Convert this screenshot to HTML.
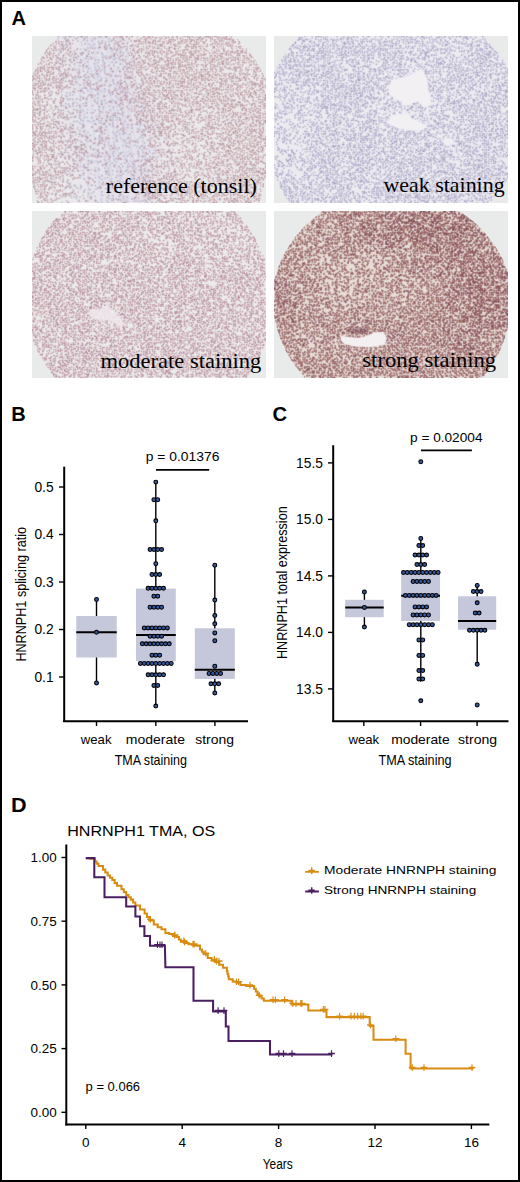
<!DOCTYPE html>
<html><head><meta charset="utf-8"><style>
html,body{margin:0;padding:0;background:#fff;}
body{width:520px;height:1182px;overflow:hidden;position:relative;}
#frame{position:absolute;left:0;top:0;width:520px;height:1182px;box-sizing:border-box;border:2px solid #000;}
svg{position:absolute;left:0;top:0;}
</style></head><body>
<svg width="520" height="1182" viewBox="0 0 520 1182">
<svg x="32" y="36" width="234" height="167" overflow="hidden"><defs><filter id="wTL" x="-50%" y="-50%" width="200%" height="200%"><feGaussianBlur stdDeviation="15"/></filter><clipPath id="cTL"><path d="M25.7,0.0 L202.6,0.0 L204.3,1.5 L205.9,3.1 L207.5,4.7 L209.1,6.3 L210.7,8.0 L212.2,9.6 L213.7,11.4 L215.2,13.1 L216.6,14.8 L218.0,16.6 L219.4,18.4 L220.7,20.3 L222.0,22.1 L223.3,24.0 L224.5,25.9 L225.7,27.9 L226.9,29.8 L228.0,31.8 L229.1,33.8 L230.1,35.8 L231.2,37.8 L232.1,39.9 L233.1,41.9 L234.0,44.0 L234.0,138.6 L233.8,139.8 L233.7,141.0 L233.5,142.2 L233.3,143.4 L233.1,144.6 L232.9,145.8 L232.6,147.0 L232.4,148.2 L232.2,149.4 L231.9,150.6 L231.6,151.8 L231.3,153.0 L231.0,154.2 L230.7,155.4 L230.4,156.6 L230.1,157.7 L229.7,158.9 L229.4,160.1 L229.0,161.2 L228.6,162.4 L228.2,163.6 L227.8,164.7 L227.4,165.9 L227.0,167.0 L5.0,167.0 L4.7,166.1 L4.4,165.2 L4.2,164.3 L3.9,163.4 L3.6,162.5 L3.4,161.5 L3.1,160.6 L2.9,159.7 L2.7,158.8 L2.4,157.9 L2.2,156.9 L2.0,156.0 L1.8,155.1 L1.6,154.2 L1.4,153.2 L1.2,152.3 L1.0,151.4 L0.9,150.4 L0.7,149.5 L0.6,148.6 L0.4,147.6 L0.3,146.7 L0.1,145.7 L-0.0,144.8 L0.0,39.5 L0.8,37.7 L1.5,35.9 L2.4,34.1 L3.2,32.3 L4.1,30.5 L5.0,28.8 L5.9,27.0 L6.9,25.3 L7.9,23.6 L8.9,21.9 L9.9,20.2 L11.0,18.5 L12.1,16.9 L13.2,15.3 L14.3,13.6 L15.5,12.0 L16.7,10.5 L17.9,8.9 L19.1,7.4 L20.4,5.9 L21.7,4.4 L23.0,2.9 L24.3,1.4 Z"/></clipPath><filter id="sTL" x="0" y="0" width="234" height="167" filterUnits="userSpaceOnUse"><feConvolveMatrix order="3" kernelMatrix="1 2 1 2 14 2 1 2 1" edgeMode="duplicate"/></filter></defs><rect width="234" height="167" fill="#e8ebe9"/><g clip-path="url(#cTL)"><g filter="url(#sTL)"><rect width="234" height="167" fill="#ebeaeb"/><ellipse cx="78" cy="90" rx="45" ry="110" transform="rotate(-12 78 90)" fill="#dcd8ea" opacity="0.4" filter="url(#wTL)"/><path d="M61.3,-2 Q64.1,72.4 82.3,169 M84.4,-2 Q92.9,94.2 106.9,169 M70.0,-2 Q91.3,81.1 113.2,169 M74.9,-2 Q95.3,78.7 96.4,169 M60.2,-2 Q69.6,93.0 95.7,169 M90.2,-2 Q113.6,86.4 115.4,169 M85.3,-2 Q97.5,73.5 114.4,169 M35.5,-2 Q57.8,86.7 56.6,169 M65.0,-2 Q88.6,108.8 107.0,169 M58.2,-2 Q79.1,68.0 79.7,169 M86.5,-2 Q114.5,107.2 119.3,169 M77.9,-2 Q74.5,83.7 94.0,169 M88.3,-2 Q95.2,64.3 105.7,169 M55.1,-2 Q58.6,86.2 70.3,169" stroke="#cbc5dc" stroke-width="1.4" fill="none" opacity="0.3"/><path d="M0 0m26.1 2.9h0m5 -1.5h0m46.3 1.6h0m-27.9 3.3h0m43.5 -2.1h0m-47.6 8.9h0m3.1 0h0m1.1 -4h0m2.1 4.1h0m6.6 -1.6h0m-34.2 8.4h0m2.8 -3.3h0m22 1.8h0m38.8 1.6h0m15.4 -1.2h0m-70.1 7.2h0m12 0.3h0m0.4 -3.6h0m6.3 1.3h0m4.6 -1h0m14.9 3.2h0m3.1 -3.5h0m2.1 -1.7h0m44.9 5.5h0m-62.9 5.3h0m7.4 -1.9h0m28.4 0.1h0m8.8 -0.1h0m31.4 0h0m-79.8 8.5h0m5 -3.6h0m4.2 2h0m21.8 -2.5h0m26.7 -0.9h0m8.8 3.3h0m-47.5 5h0m10.3 -2.8h0m12.7 2h0m-79.1 7.3h0m10 -2.9h0m17.3 2h0m7.7 2.5h0m6.3 -4.8h0m21.7 0.2h0m57.1 2.7h0m11.7 -2.7h0m-90 10.3h0m29.5 -0.4h0m3.2 -1.8h0m28.3 -1.8h0m-57.5 11.3h0m-31.6 0.9h0m32.5 2.8h0m6.3 -2.4h0m10.1 2.4h0m10.6 0.5h0m105.8 -3.6h0m-170.6 9.4h0m29.6 0.5h0m15.7 -0.7h0m10.3 0.4h0m3.2 -2.6h0m11.7 3.1h0m14.1 0.2h0m2.4 -3h0m-81.9 6.4h0m21.8 0.9h0m21.9 2.9h0m16.8 -1.2h0m-90.9 5h0m69.2 -0.3h0m4.5 1h0m13.2 -1.5h0m43.3 0.8h0m69.9 -0.8h0m-191.8 7.8h0m37 -0.4h0m5.4 -0.2h0m39.9 -1.7h0m-74.7 6.9h0m36.8 2h0m9.3 -3.2h0m25.5 -0.1h0m3.5 1.3h0m22 2.5h0m-104.2 2.5h0m7.6 1.7h0m52.6 -1.2h0m6.7 -2.1h0m12.3 2.1h0m2 1.5h0m4.6 -0.2h0m-32.7 3.1h0m10.6 -0.2h0m3.1 3.2h0m14.6 0.1h0m14.5 -3.3h0m5.4 -0.7h0m6.1 4.6h0m-82.7 6.3h0m15 0.3h0m68 -2.5h0m4.8 0.1h0m-101.7 5.5h0m18.8 0.9h0m12.3 -3.2h0m11.4 0h0m13.7 0.7h0m25.8 -0.2h0m32.3 3h0m-112.3 4.1h0m40.6 0.3h0m20.5 3.4h0m0.8 -3.3h0m14.6 -0.2h0m-49.7 9.1h0m2.4 0.4h0m4.7 -3.6h0m10.8 1.2h0m-64.1 6.3h0m35.6 -3.5h0m24 3.8h0m11.2 -3.2h0m7.3 2.6h0m6.6 1.2h0m32.8 -3.9h0m-81.9 11.2h0m18.6 -3.5h0m9.9 3h0m-31.9 4.1h0m8.8 0.2h0m12.1 -1.8h0m11.9 1h0m13.1 0.2h0m-32.7 3h0m8.8 0.4h0m26.6 2.2h0m37.5 1.9h0m10.4 -4.5h0m25 2.9h0m-87.4 8.1h0m19.2 -0.8h0m3 0.5h0m14 0.7h0m23 -4.6h0m21.4 1.2h0m36.2 2h0m-116.3 3.5h0m44.2 -0.4h0" stroke="#c5c1d6" stroke-width="1.8" stroke-linecap="round" fill="none"/><path d="M0 0m33.1 2.9h0m34.2 -2.1h0m20.5 0.3h0m-36.1 3h0m3.6 0.5h0m12.5 3.5h0m2.2 -2.7h0m17.1 3.6h0m12 -4.1h0m-71 9h0m38.3 -1.9h0m24.4 -0.5h0m7.7 -1.4h0m4.5 -0.6h0m-60.4 5.7h0m8.7 1.9h0m5.8 -1.8h0m2.9 1.6h0m10 0.3h0m3.3 3.2h0m-34.8 2.8h0m17 2.6h0m3.8 -2.9h0m4.1 1.1h0m7.7 0.4h0m9 1.9h0m2 -2.7h0m1.5 -1.3h0m14.7 3.7h0m9.1 0.6h0m-56.1 5h0m10.9 -3.8h0m14.6 1.7h0m-49.5 5.4h0m29.1 -1.9h0m22.3 5.7h0m59.3 -0.3h0m73.8 -1h0m-198.1 7.4h0m12.6 -2.1h0m4.8 1.5h0m3.5 -3h0m11.2 -0.2h0m10.1 3.4h0m11.7 0.3h0m46 -3.2h0m46.9 0.9h0m39.1 -1.1h0m-151.4 7.6h0m25 -2.9h0m4.3 3.7h0m10.1 0h0m6.6 -2.1h0m130.9 0.5h0m-195.6 7.5h0m20.2 -0.7h0m85.2 -3.1h0m-71.9 8h0m2.8 -1.5h0m0 -1.2h0m41.2 2.4h0m-98.6 4.1h0m13.9 2.3h0m11.6 1.8h0m4.2 -4.7h0m10 0.9h0m25 0.1h0m7.9 0h0m7.2 -0.1h0m9.6 -0.1h0m-49.6 10.7h0m23.2 -3.4h0m5.7 -0.9h0m32.9 -0.1h0m-102 7.6h0m12.8 -0.5h0m18 0.6h0m5 3h0m23.5 -3.1h0m2.8 -1.4h0m26.5 4.3h0m-70.3 0.5h0m18.6 4.2h0m2.7 -3.4h0m12.1 -0.3h0m2.3 3.1h0m15.7 -1.1h0m9.9 -1.7h0m21.9 2h0m11.4 1h0m87.3 -3.3h0m-158.3 10.4h0m45.7 -0.3h0m10.1 0.8h0m10.4 -3h0m15.1 -0.3h0m49.3 2.8h0m-141.4 4.4h0m8.9 -1.7h0m3.6 0.8h0m18.7 0.9h0m2.8 -2.1h0m-18.3 5.9h0m0.2 2.2h0m3.3 -3.2h0m8.6 2.8h0m6.8 1.8h0m10.8 -0.8h0m21.2 0.7h0m-75.9 2.1h0m29.3 -0.6h0m8.3 2.1h0m2.2 -0.1h0m12.4 2.2h0m3.4 -4.4h0m9.1 2.1h0m14.3 3.4h0m-46.9 2.7h0m4.1 2.6h0m15.6 -2.7h0m5.5 -1h0m20.4 0.3h0m6.9 0.6h0m-84.1 4.3h0m36 3.1h0m4.2 -2.6h0m36.5 2.4h0m16.5 -3.2h0m-50.6 11.1h0m7.4 -0.7h0m12.3 -0.4h0m24.9 -2.1h0m18.3 3.7h0m9.6 -3.4h0m-117.5 5.6h0m7.4 1.3h0m21.6 2.2h0m10.2 -0.4h0m9.5 -1.6h0m18.3 1.6h0m3.3 -3.6h0m22.4 0h0m100.3 2h0m-190.5 7.6h0m33.4 -4.7h0m10.5 2.8h0m2.4 -2.7h0m14.5 2.6h0m1.8 -2.6h0m16.5 2h0m3.4 1.8h0m3.1 -3.8h0m-111.5 11.6h0m3.7 -4h0m10.7 -0.3h0m16.2 3.3h0m32.3 -4.5h0m7.7 5.5h0m19.7 -0.3h0m17.6 -3.3h0m19.6 -0.6h0m81.3 4.3h0m19.1 -5h0m-187.1 10.3h0m14.1 -3.1h0m11.3 -0.5h0m10 3.4h0m11 -3.4h0m19.3 -1.6h0m-79.5 10.6h0m26.7 -4.2h0m3.5 2.3h0m8.4 0h0m39.7 -2.4h0m-96.4 11.1h0m31.5 -4.1h0m18.4 4h0m17.7 -4.5h0m10.1 1.3h0m44.1 5.6h0" stroke="#bdb9cf" stroke-width="2.1" stroke-linecap="round" fill="none"/><path d="M0 0m39 0.8h0m2.7 0.1h0m4.1 4.1h0m16.8 3.4h0m17.4 -4.1h0m43.4 4h0m-89.3 3h0m21.4 0.8h0m24.7 1.7h0m5 -1.6h0m3 0.2h0m-39.8 4.5h0m33.6 3.5h0m-33 6.4h0m28.7 -4.6h0m6.7 3.7h0m15.4 -2.4h0m91.7 1.1h0m-165 6.9h0m36.2 -0.7h0m-16.8 6.1h0m21 -3.4h0m7.7 4.9h0m5.5 -3.2h0m-72.2 9.3h0m23.7 -3.6h0m9.6 1.8h0m-22.5 6h0m41.4 -0.1h0m13 0.6h0m19.8 -3.5h0m-76 7.4h0m25.3 -0.7h0m50.6 3.4h0m-73.3 2.7h0m10.3 0.6h0m15.5 3.7h0m10.6 -2.5h0m18.7 -0.5h0m-37.7 8h0m17.7 -3.8h0m11 1.5h0m17.7 0.3h0m-77.2 7.6h0m25.4 0.9h0m5.2 -5.2h0m15.8 0.8h0m11.8 10.3h0m-13.2 4.8h0m7.5 0.7h0m25.9 -1.6h0m-58 8.1h0m12 -4.4h0m21.2 3.1h0m7.8 -3.8h0m1.8 5.7h0m0.4 -5.7h0m3 0h0m8.3 2.1h0m22.6 -1.1h0m11 4h0m12.7 0.8h0m59 -4.4h0m-173 10.1h0m30.6 -0.1h0m12 -2.1h0m13.4 1.6h0m36.9 -2.1h0m4.7 2.4h0m107.8 -2.5h0m-173.2 7.9h0m35.2 -1.6h0m54 0.4h0m-126.9 3h0m9.6 0h0m9.1 -0.2h0m24.7 3.2h0m21.7 1.9h0m8.8 -4h0m9.7 -1.1h0m14 4.8h0m7.3 -3.2h0m0.1 3.6h0m4.3 -5.4h0m33.5 2.2h0m28.7 2.5h0m-162.7 3.8h0m22 -1.5h0m20.1 0.5h0m6.9 1.4h0m5.6 -1.1h0m19.5 3.6h0m5.5 -0.7h0m38.7 0.6h0m-107.5 1.4h0m22.5 4.1h0m14.4 -1.1h0m41.8 -3.4h0m14.7 4.4h0m-108.9 5.2h0m4.2 0.3h0m10 -1.9h0m22.4 1.2h0m7.8 1.4h0m10.1 -1.2h0m10.8 -1.4h0m4.8 -1.5h0m7 4.1h0m7.6 -0.3h0m16.5 -0.6h0m74.6 -0.4h0m-142.5 7.8h0m18.2 -2.4h0m25.2 0.1h0m12.8 -1.9h0m5.7 3.8h0m1.7 0.9h0m19.8 -0.2h0m28.3 -0.5h0m-115.7 5.2h0m18.1 -1.8h0m4.2 3.9h0m120.9 0.4h0m-135.8 7.5h0m25.2 -1.2h0m4.7 1.1h0m6.7 3h0m13.1 -3.3h0m-52.1 7h0m13.5 1.4h0m4.5 -4.3h0m17.9 2.5h0m-52.4 5.5h0m9.3 -1.6h0m5.5 3.1h0m6.4 -3.2h0m4.2 5.3h0m0.8 -4.5h0m3 0.3h0m4.3 -0.2h0m11.6 4.1h0m27.3 -1.1h0m-72.3 3.1h0m46.4 -0.2h0" stroke="#bdb9cf" stroke-width="1.8" stroke-linecap="round" fill="none"/><path d="M0 0m45.8 1.5h0m17 0.3h0m6.2 -0.6h0m117.5 0.3h0m-155.6 4.6h0m7.3 2.7h0m21.5 -4.4h0m6.9 1.4h0m17.8 2.3h0m-21.5 4.1h0m15.1 -0.5h0m-63.1 8.3h0m16.1 0.8h0m7.6 -1h0m16.7 0.4h0m3 0.5h0m7.7 -4.6h0m17.8 0.7h0m1.1 2h0m3.5 -2h0m36.1 -1.1h0m-100.6 10.7h0m2.4 -4h0m7.5 -0.2h0m32.9 1.8h0m21.7 -0.2h0m-15.6 3.2h0m9.1 2.5h0m17.7 0.9h0m-91.4 3.5h0m39.2 -0.4h0m5.4 5.2h0m17.1 -5h0m2.8 0.8h0m129.9 -0.4h0m-187 9.8h0m46.6 -2h0m6.9 2.2h0m-64.7 3.9h0m23 1.2h0m79.7 -1.3h0m-72.4 9h0m20 -4.6h0m1.2 2.4h0m4.6 -1.6h0m2.1 0h0m10.2 -0.1h0m15.2 -0.7h0m18.9 3.6h0m24.2 -4.2h0m29.8 1.7h0m4 -1.2h0m-147.6 7.8h0m20.7 -0.8h0m3 -0.5h0m7.6 1.7h0m17 1.8h0m15.1 -4h0m11.4 1.1h0m141.3 0.3h0m-226.9 7.5h0m44.9 0.5h0m0.2 -4.5h0m22.8 4.2h0m-40.7 3.4h0m7.2 -0.6h0m10.2 4.4h0m9.6 -4.9h0m2.3 4.7h0m3.7 -0.7h0m0.7 -2.8h0m14.1 0.2h0m4.1 3.3h0m1.8 -3.9h0m131.2 3.1h0m-216.1 3.8h0m52.8 -0.6h0m3.8 0.1h0m24.4 0h0m-52.1 5.2h0m7.2 -0.5h0m14 0h0m14.5 3.5h0m14.1 -0.8h0m4.4 -2.6h0m34.7 0.5h0m89.5 3.6h0m11.8 -1.6h0m-199.3 4.2h0m51.6 2.6h0m3.9 -2.1h0m3.4 1.8h0m-72 3.6h0m4.4 2.3h0m16.9 1.9h0m34.9 -3.7h0m15.7 1.4h0m3.3 0.6h0m3.2 1.4h0m22.9 -1.9h0m-42.6 4.1h0m-62.1 5.4h0m88.3 3.8h0m8.3 -0.2h0m1.3 -4.2h0m-52.6 7.8h0m34.5 0.7h0m24.7 0.5h0m0.6 2.6h0m-55.1 0.5h0m0.4 3.2h0m3.9 -2.2h0m16.4 1.9h0m4.1 -2.3h0m10.9 2.4h0m4.1 -0.1h0m3.4 -2.4h0m-72.8 10.4h0m17.6 -3.3h0m8 -1.5h0m37.5 0h0m20.8 0.6h0m3 -0.5h0m-107.6 11.3h0m46.6 -4h0m28.6 3.9h0m10.2 -4.1h0m11.4 -1.5h0m108.2 1.9h0m-199.1 7h0m37.4 1.7h0m36.1 0.2h0m0.1 -4.3h0m3.7 -0.1h0m10.3 0.1h0m36.9 2.3h0m-123 7.8h0m13.3 1.2h0m5 -4.6h0m16.9 -0.5h0m12.5 1.7h0m9.1 0h0m1.7 3h0m14.1 -1.6h0m2 1.2h0m3.5 -0.2h0m8 0.5h0m2.8 -3.4h0m4.4 -1.2h0m9.6 3.6h0m-77.9 6.6h0m25.5 -2.3h0m25.8 3h0m7.5 -3.5h0m8.4 -2.1h0m43.7 3.5h0m-136.1 3.2h0m13.4 2.3h0m10.9 1.8h0m15.9 -4h0m35.2 3.3h0m4.4 -1.3h0m12.9 -0.2h0m9 1.1h0m10.9 -3.5h0m-106.3 9.6h0m23.4 -2.1h0m28.1 -1.6h0m11.1 3.7h0m2.7 0h0m10.7 -1.8h0m15.3 3.9h0m22 -3.6h0m12.6 1.5h0m55.5 2.1h0" stroke="#b5b1ca" stroke-width="1.8" stroke-linecap="round" fill="none"/><path d="M0 0m48.3 0.6h0m4.3 0.8h0m-15.7 3.2h0m20.2 3.7h0m16.7 -2h0m3.4 -1.1h0m6.1 -0.4h0m-50.1 4.5h0m26.3 0.4h0m14.9 2.2h0m2.4 -2.7h0m24.7 4.3h0m-88.6 3.5h0m29.6 2.5h0m28.5 -0.8h0m9.4 -3.5h0m11.3 1.7h0m2.5 3.7h0m2 -3.8h0m-66.4 7.2h0m36.1 2.7h0m36.1 -0.8h0m62.7 -2.1h0m-137.5 3.3h0m10.9 2.9h0m9.7 -0.1h0m5.2 -2.7h0m16.6 2.3h0m3.9 1.8h0m-63.4 7.5h0m26.7 -5.6h0m8.1 0.4h0m2.7 3.5h0m15.8 -3.5h0m28.9 4.4h0m3.9 -2.8h0m-81.1 5.1h0m32.2 1.6h0m8.9 -0.4h0m10.5 -1.2h0m3.1 2.1h0m15.4 -1.8h0m3 4.2h0m56.4 -0.2h0m-81.9 3.3h0m21.9 0.7h0m110.7 -3.3h0m-182.7 7.4h0m6.1 2.7h0m10.9 -2.6h0m8.5 4.1h0m11.2 -3.9h0m2.1 -0.8h0m14.9 -0.8h0m3 3.7h0m3.6 0.4h0m12.7 -2.1h0m10.6 -0.3h0m-62.5 6.6h0m1.7 2.9h0m24.7 -2h0m18.6 -1.3h0m6.6 3.1h0m-57.3 4.5h0m14.2 -0.7h0m2.9 1h0m9.5 -0.5h0m21.9 -0.7h0m12.8 0.9h0m10.4 -1.3h0m-85.9 7.5h0m9 0.1h0m8.4 -3.5h0m13.4 0.2h0m62.4 0.8h0m-61.9 6h0m35.2 1.9h0m-68.9 3.4h0m22.4 1.6h0m21.6 -2.3h0m11.3 0.8h0m14 -0.4h0m12.2 3.7h0m-58.4 6.5h0m6.6 0.9h0m7.6 -5.1h0m17.6 4.5h0m51.8 -0.8h0m6.7 0.1h0m0.3 -2.6h0m49.1 -0.1h0m-144.7 6.1h0m19.7 3.8h0m33.1 -0.4h0m98.6 -2.4h0m-143.8 7.7h0m3.5 -3.6h0m57.5 2.2h0m2 2.8h0m10.9 -2.8h0m-100.8 8.2h0m2.8 -4.8h0m20.9 3.5h0m14.3 -4h0m7.7 0.5h0m20.4 1h0m51.5 0.4h0m7.5 1.6h0m-90 3.8h0m33.2 1h0m39.5 2.6h0m-105.5 3.7h0m46.2 -0.1h0m14 1.1h0m9.3 -0.6h0m31 -0.2h0m-89.2 8.8h0m36.8 -1.9h0m10.1 2.1h0m7.4 0.1h0m14.7 -5.9h0m9.6 2h0m22.2 -2.1h0m-104.6 8.4h0m22.4 0.8h0m1.6 -0.3h0m4.5 -1.5h0m11 3.6h0m13.6 -1.9h0m-35.4 5.5h0m4 -2.2h0m9.7 3.6h0m47.8 -1h0m-82.4 7.1h0m37.8 0.4h0m18.1 -3h0m5.3 2.8h0m1.7 -2.2h0m4.4 -1.3h0m5.3 0.5h0m24 3.6h0m50.6 -4.4h0m-161 11.1h0m30 0.1h0m52.4 -2.5h0m2.1 0.2h0m16.2 -1.9h0m6 0.7h0m30.1 -0.6h0m21.6 1.7h0m-127.9 7.3h0m-0.3 3.2h0m14.2 3.8h0m0.6 -3.5h0m11.3 2h0m17.9 -0.5h0m17.4 2h0m17.6 -0.3h0m0.3 -4h0m-78 4.7h0m31.4 1.5h0" stroke="#c5c1d6" stroke-width="2.1" stroke-linecap="round" fill="none"/><path d="M0 0m54.8 1.1h0m18.9 -0.1h0m-39.7 4.1h0m19.2 2.7h0m-22.5 2h0m44 0.4h0m-28.4 10.1h0m70.3 -4.1h0m89.2 1.3h0m7.9 -0.9h0m-171.6 7.3h0m6.9 0h0m6.1 6.5h0m33.4 -2.4h0m-57.8 10.9h0m4.7 -0.6h0m5 -4h0m18.9 3.8h0m6.3 -0.2h0m-13.9 5.9h0m0.4 -3.6h0m48.2 2.1h0m-62.9 3.5h0m2.7 2.2h0m3.7 -2.1h0m11.7 3.1h0m26.2 -1.5h0m4.1 -1.5h0m-73.7 9.4h0m29.5 0.4h0m10.1 0.9h0m28.9 -0.1h0m25 -4.5h0m-99.5 7.5h0m71.2 -2.6h0m32.1 5.1h0m-68.8 1.2h0m29.2 2.4h0m31.8 1.2h0m47.1 -3.3h0m-136.7 6.2h0m11.4 0.4h0m18.7 3.4h0m6 -2.1h0m30.1 2.7h0m11.2 -0.5h0m27.6 0.3h0m-68.3 2.5h0m29.5 4.3h0m9.7 -3.1h0m3.1 -1.3h0m27.1 -0.2h0m-92.1 9.7h0m16.1 -0.3h0m6.9 -1.8h0m7.1 1.2h0m48.8 -3.9h0m87.8 4h0m-180.5 1.9h0m25.9 4.3h0m3.1 -1.9h0m21.8 -1.7h0m21.5 3.8h0m15.5 0.6h0m8.6 -3.7h0m47.1 4.2h0m-152.9 5.2h0m88.1 0.5h0m21.4 -3.4h0m-84.8 5.3h0m90.2 2.9h0m-80.9 7.9h0m5.6 -0.2h0m1.4 -4.1h0m0.4 3.6h0m5 -0.9h0m9.3 0.9h0m7.6 -1.2h0m-57.6 7h0m129 -0.3h0m-95.4 2h0m10.5 2h0m22 -2h0m13.8 0.2h0m21.7 2.4h0m8 0.5h0m2.9 -3.3h0m-84 5.5h0m4.8 1.3h0m0.4 3.2h0m2.9 0.6h0m4.4 -4.3h0m2.7 5h0m4.5 -4h0m3 0.1h0m13 -0.9h0m21.9 0.2h0m11.7 0.1h0m96.2 -0.4h0m-168.8 9.9h0m62.2 -3.3h0m6.1 3.6h0m7.1 -3.6h0m3.5 4.3h0m-86.2 0.6h0m43.6 4.3h0m6.9 -1.1h0m43.8 -0.1h0m22.1 0.7h0m85.1 -3.2h0m-203.7 5.3h0m28.1 1.6h0m47.2 0h0m34.8 -0.5h0m-111.3 9.5h0m14.4 -1.6h0m5.2 -1h0m23.5 2.5h0m2.8 -0.1h0m5.3 1h0m20.4 0h0m18.7 -0.2h0m10.1 -4.3h0m5.3 0.6h0m9.3 3.7h0m7.5 0.2h0m-125.2 4.9h0m20.3 -1.5h0m11.3 -0.3h0m4.6 1.6h0m19.6 -0.7h0m34 0.3h0m8.1 -0.7h0m21.6 0.9h0m-63.2 2.3h0m12.4 -0.5h0m11 3.6h0m17.5 1.1h0m3.2 -4.2h0m6.6 4.4h0m101.1 -1.4h0m-31 4.4h0" stroke="#b5b1ca" stroke-width="2.1" stroke-linecap="round" fill="none"/><path d="M0 0m26.5 0.4h0m70.9 1.4h0m18.4 0.8h0m13.7 0.1h0m19.4 -0.8h0m11.3 -1.2h0m24.4 0.2h0m-163.2 6.6h0m7.8 -1.4h0m54.5 0.2h0m5 -1.2h0m6.3 2.6h0m2.3 -4.4h0m13.7 5h0m12.2 -0.6h0m8.9 -1.8h0m18.8 -2.7h0m15.2 4.6h0m0.7 -1.3h0m8.4 1.9h0m16.3 -0.1h0m3.1 -1.9h0m12.8 1.1h0m-185.1 4.6h0m6 -1.9h0m1.2 2.2h0m1.8 -1.3h0m61.3 -0.5h0m5.5 1.9h0m22.3 -1.8h0m26 1.9h0m1.6 2.1h0m13.4 -2.6h0m9.4 -1.7h0m3.6 0.2h0m7.9 1.5h0m4.6 -0.3h0m4.7 -1h0m19 2.1h0m-197.4 4.7h0m2.2 -0.9h0m13.6 -0.2h0m7.4 2.6h0m2.2 1.1h0m5.6 -2.3h0m12.3 0h0m34.1 1.2h0m9.1 0.1h0m9.8 -2.7h0m8.5 0.9h0m9.9 -0.9h0m12 3.7h0m36.1 -5.1h0m20.5 4.1h0m2.9 -3.6h0m19.5 4.2h0m-202.3 4.6h0m8.3 -2.9h0m3.5 0.9h0m2.1 4.3h0m40.4 -5.3h0m12.8 5.3h0m9.6 -0.8h0m14.1 -3.9h0m9 0.1h0m0.3 1.7h0m8.8 2.9h0m4.4 -2.8h0m21 -0.6h0m2.3 -1.4h0m6.2 -0.4h0m0.5 2.9h0m3.8 -0.8h0m4.7 0.9h0m23.6 -2.4h0m3.9 1.6h0m5.2 0.3h0m0.4 -2.2h0m6.6 2.4h0m6.4 0h0m6.7 -2.9h0m-183.8 7.2h0m62.7 4.1h0m15.9 0h0m2.7 -3.6h0m2.9 1.7h0m1.8 2.2h0m48.2 -3.6h0m18.4 2.2h0m20.3 -1.1h0m6.6 0.8h0m0.9 -1.9h0m-214.9 8.6h0m17.3 -4.3h0m1.7 -0.3h0m14.4 2.9h0m10.8 -0.6h0m14.6 3.1h0m45.4 -2.5h0m11 2.4h0m6.5 -0.7h0m13 -2.9h0m8 3h0m3.1 -4.1h0m22.6 -0.4h0m0.4 2.2h0m11.7 0.5h0m1.1 -1.2h0m2.4 3.6h0m2.5 -3.6h0m2.2 -1.2h0m1 3.9h0m1.7 0.2h0m6.6 -4.2h0m12.7 0h0m1.7 2.5h0m-214.7 8.2h0m2.8 -4.8h0m1.9 0.5h0m9.6 0h0m2.2 4.7h0m23.9 -2.9h0m2.3 1.3h0m35.6 -2.8h0m7.9 -0.6h0m2.1 0.5h0m14.3 0.8h0m9.1 1.7h0m1.4 0h0m2.9 -0.1h0m11 -2.3h0m4.6 0.3h0m7.8 4h0m3.3 -2.4h0m0.4 -2h0m2.4 2h0m9.8 2.7h0m1 -2.9h0m0 2h0m23.5 0.3h0m4.2 -4.4h0m2.8 -0.3h0m1.7 0.4h0m19.2 -0.5h0m21.3 2.7h0m4.2 2h0m-207.8 2.1h0m15.8 2.7h0m28 0.3h0m2.4 -0.4h0m18.1 -2.1h0m14.3 3.1h0m11.7 0h0m2.2 -2.9h0m4.3 2.4h0m0.8 1.5h0m5.9 -5.8h0m11.7 2.5h0m2.5 -2.5h0m2.5 0h0m10.9 3.5h0m2 0.1h0m2.6 -1.4h0m6.6 1.4h0m17.2 -3.4h0m6.7 0h0m11 2.1h0m3.2 -2.1h0m20.2 2.5h0m-220.8 6.9h0m4 -2.4h0m0.5 2.5h0m4 -2.8h0m16.4 1.3h0m10.2 2.2h0m8.2 -0.1h0m31.8 0.4h0m7.8 0.3h0m1.9 -1.4h0m14.8 2.1h0m10.1 -4.5h0m2.4 4.4h0m16.6 -0.7h0m4 -4.2h0m0.4 5h0m2.3 -2.1h0m3.3 -3.6h0m1.8 0.4h0m1.4 0.1h0m5.6 -0.2h0m6 -0.5h0m1.1 2.5h0m6.5 -2.3h0m1.4 3.1h0m1.4 -2.7h0m10.7 1.8h0m11.2 -2.4h0m3.5 0.6h0m6.3 0.9h0m21.1 2h0m1 -3.5h0m7.4 2.9h0m-212 5.3h0m16.1 1.1h0m49.8 -3.2h0m35.3 -0.1h0m3.5 2.2h0m6.1 2.3h0m6.4 -3.1h0m6.1 0h0m6 4.5h0m1.7 -4.6h0m12.2 2.5h0m13.4 0.4h0m36.7 -2.2h0m9.2 2.5h0m9.7 -0.3h0m-223.2 7.4h0m8.8 -5.2h0m71.9 4.3h0m1.7 -2.5h0m0.6 3.5h0m7.5 -4.7h0m11 -0.9h0m2.6 2.6h0m1.6 -0.3h0m2.2 0.4h0m14.3 -2.3h0m0.2 4.1h0m12.6 0.3h0m2.4 0h0m0.5 -4.4h0m0.7 2.5h0m9 -0.2h0m1.7 -2.6h0m4.6 2.1h0m0.3 2.1h0m18.8 -3.9h0m1.6 3.8h0m0.9 -3.9h0m5.7 0.5h0m13.8 0.9h0m13.8 1.2h0m6.9 2h0m3.2 -1.7h0m2.1 -2.7h0m-219.2 6h0m0.6 4.5h0m2.6 -3.9h0m8.2 4.5h0m81.4 -4h0m0.3 2.4h0m34.4 -1.3h0m6.1 -1.3h0m12.3 3.8h0m6.5 -4.3h0m2.5 0.8h0m2.3 -0.3h0m9.3 1.2h0m10.9 -2.3h0m6.6 5h0m28.4 -2h0m1.4 -2h0m8 1.9h0m-154.7 4.6h0m25.8 -1.9h0m9.5 5.9h0m7.1 -3.1h0m3.5 -0.5h0m9.9 2.8h0m11.2 -0.3h0m12 -2.3h0m13.1 -1h0m7.7 3.4h0m13.3 -0.7h0m4.2 -2.9h0m18.7 2.4h0m1.8 -3.3h0m3.4 1h0m0.9 0.7h0m12.6 1.8h0m-225.9 7.8h0m1.7 -4.3h0m0.3 3.8h0m81.2 0.2h0m18.7 0h0m1.3 0h0m14 -2.2h0m0.5 2.6h0m2.7 -5.4h0m5.9 2.7h0m3.1 1.3h0m1.3 -1.4h0m3.6 1.6h0m0.9 -1.4h0m5.4 -1.8h0m13.9 3.8h0m14.2 -4.1h0m2.3 4.7h0m13.7 -0.8h0m11.3 -2.5h0m4.8 -2.2h0m8.3 4.2h0m5.7 0.7h0m1.7 -5h0m2.4 4.7h0m7.2 1h0m-227.5 4.6h0m27.3 -1h0m46.3 -2.4h0m13.3 3.5h0m21 -2.7h0m4.3 3.9h0m30.4 -4.4h0m4.3 1.8h0m3.8 1.1h0m2.8 -2.6h0m16.6 0.4h0m5.8 3.5h0m4.3 -1h0m2.5 1.2h0m6 -4.3h0m1.4 1.5h0m23.7 -1.9h0m4.1 1.2h0m1.9 1h0m3.2 2.3h0m0.1 -2.2h0m1.3 -0.3h0m1 -1.8h0m-222.1 9.5h0m8.9 -4.4h0m1.2 2.1h0m1.5 1.7h0m5.7 0.4h0m2.3 -1.8h0m46.1 -1.9h0m12.4 0.8h0m7 -1.4h0m5.1 5.2h0m7.4 -2.7h0m1.8 -1.9h0m26 3.7h0m6.2 -4.6h0m8.7 1.7h0m2.8 3.8h0m7.1 -4.9h0m4.2 3.6h0m12.1 -1.6h0m8.5 1.6h0m13.8 -3.5h0m7 3.6h0m7.9 -1.2h0m2.2 1.2h0m1.4 -4.2h0m3.3 5h0m-209.7 1.3h0m7.1 2.4h0m17.1 -1.3h0m21.3 3.6h0m53.8 -2.5h0m7.7 2.4h0m3 0.8h0m14.1 -0.1h0m0.5 -2.4h0m1.6 -2.4h0m25.8 4.8h0m9.3 -4.1h0m10.1 1.8h0m3.8 -0.1h0m4.4 2h0m34.3 -1.6h0m9.4 1.6h0m-228.5 1.1h0m11.2 3.5h0m21.1 -2.5h0m27.2 0.8h0m3.6 0.5h0m28.9 3h0m8.6 -4.4h0m37.8 1.2h0m23.1 2.5h0m5.9 0h0m9.6 -3.2h0m2.1 0.1h0m39.2 4h0m7.1 -4.2h0m2.9 3.1h0m-229.8 1.5h0m0.2 4.1h0m4.6 -4h0m4 5.2h0m0 -4.5h0m2.7 4.4h0m1 0h0m10.3 -5.1h0m11.7 5.2h0m3.3 -2.4h0m8.3 -0.1h0m3.4 -1h0m19.4 3.6h0m61.2 -0.4h0m15.9 0.2h0m13 -2h0m3.5 0h0m11.1 -0.9h0m4.6 0.7h0m12.2 -2.5h0m7.6 3.7h0m4 -2.3h0m2.3 1.2h0m1.3 -2.7h0m1 4.1h0m1.7 0.2h0m2.2 0.8h0m5.1 -4.5h0m12.2 3.3h0m-225.6 5.8h0m1.8 -0.7h0m4.7 -1.6h0m1.5 3.5h0m0.9 -2.1h0m9.7 2.2h0m3.6 -4.6h0m11.2 1.1h0m32.2 1.4h0m14.7 2.2h0m2.4 -1.8h0m29 1.9h0m10.3 -2.4h0m26.9 1.9h0m1.9 -1.7h0m0.9 -3h0m16.3 2.8h0m47.8 0.1h0m6.3 -1.9h0m0.5 2.2h0m6.5 -2h0m-209.1 9.4h0m98.5 -3.4h0m2.3 3.3h0m18.3 -1.1h0m7.2 -2.4h0m4.5 1.3h0m23 1.1h0m5.7 0.6h0m11.5 -2.6h0m8 -1.8h0m9.4 2.4h0m4.5 -2.4h0m-187.6 8.8h0m1.8 2.3h0m1.6 0.3h0m38.2 -5.2h0m30 2.3h0m8.5 0h0m0.2 -2.4h0m8.9 0.1h0m5.1 0.8h0m1.6 1.3h0m10 -1.5h0m1.7 0.6h0m5.5 3.4h0m0.6 -1.4h0m10.7 -1h0m3.7 0.2h0m0.3 -2.1h0m25.3 0.7h0m16.8 1.1h0m0.9 3.2h0m3.6 -5.3h0m7.8 2h0m2.8 2.5h0m-206.8 5.1h0m3.2 -2.2h0m4.1 -1.6h0m3.8 5.6h0m69.7 -4.5h0m25.3 3.5h0m0.1 1h0m21.9 -2.2h0m14.2 -1.6h0m6.9 3.6h0m17.2 -0.1h0m5.6 -3.5h0m4.9 0.5h0m6.4 -2.6h0m4.6 4.3h0m5 -2.5h0m16.1 4h0m0.8 -1.5h0m15.6 1.4h0m-222.7 1.3h0m8.9 1.3h0m3.9 2.7h0m31.2 0.5h0m20.6 -4.7h0m4.1 4.1h0m25.6 0.9h0m8.7 -0.8h0m32.2 -1.6h0m2.1 -1.5h0m3.4 -1.1h0m6.8 4.2h0m8.3 -2.2h0m0.7 2.9h0m9.1 -2.7h0m1.9 -2.3h0m11.2 1.4h0m2.6 0.7h0m7.1 2.6h0m2 -2.5h0m0.8 1.6h0m13.3 0.8h0m4.3 -4.6h0m-197 6.6h0m12.7 1.8h0m1 -2.6h0m38.2 0.9h0m23.9 3h0m21.7 -0.9h0m0.3 2.1h0m18.1 -3.8h0m27.6 2.3h0m12.7 -2.1h0m6 3.3h0m16.9 -2.2h0m1.4 2.7h0m14.6 -4.2h0m1.5 -0.2h0m2.8 0.1h0m6.8 1.5h0m-224.7 7.8h0m1.3 -0.1h0m1.9 -2.1h0m13 2.2h0m1.8 -2.8h0m2.5 -0.4h0m93.6 3.2h0m9.7 0.2h0m16.4 -0.4h0m6.6 -1.6h0m4.3 -0.5h0m4.8 1.3h0m2.5 -0.9h0m9.7 -0.5h0m1.3 2.2h0m16.4 0.1h0m8.9 -3.2h0m5 3.4h0m4.1 -0.8h0m20.6 -3.7h0m-222.3 8.3h0m13.2 2.2h0m69.7 0.8h0m17.8 -2.7h0m21.5 -2.7h0m4.6 3.1h0m15.2 0.3h0m4.9 -3.6h0m12 1.4h0m1.8 -0.8h0m6 2.8h0m2.5 -2.4h0m2.4 1.9h0m2.8 -0.2h0m0.7 1.9h0m13.7 -1.4h0m20.4 -2.5h0m-210.1 5.3h0m12 1.7h0m85.4 -1.5h0m24.8 -0.3h0m26.1 1.2h0m7.2 -1h0m10.8 0.9h0m7 0.8h0m6.3 -1.7h0" stroke="#c09aa3" stroke-width="1.6" stroke-linecap="round" fill="none"/><path d="M0 0m33.6 1.1h0m56.8 0.4h0m4.3 -0.8h0m22.1 0.2h0m24 0.2h0m16.7 0.3h0m9.7 0.4h0m6.7 -1.1h0m2.4 0h0m2 0.9h0m16.1 -0.8h0m-156.6 6.5h0m53.2 -3.8h0m13 2h0m3.1 -0.3h0m10.7 1.3h0m3.1 -0.7h0m17.5 0.2h0m12 -1h0m9 0h0m2.5 3.5h0m2.4 -0.1h0m20.2 -2.3h0m10.1 -3.1h0m2.5 0.3h0m4 0.7h0m-186.9 11h0m7.3 -0.6h0m46.4 -3.2h0m32.1 -1.5h0m14.6 2.2h0m22.2 2.5h0m0.8 -3.2h0m4.7 1.3h0m8.6 1.9h0m12.9 -3.5h0m2.7 4h0m25.5 0.1h0m13.8 -0.2h0m4.7 0.2h0m-178.9 4.4h0m6.7 -3.7h0m43.9 4.1h0m24.8 -0.3h0m9.1 -1.9h0m32.9 1.6h0m2 0.3h0m6.5 -2.9h0m0.8 3.7h0m1.7 -1.5h0m6.5 1h0m16.6 -0.1h0m6.8 -2h0m0.1 2.7h0m4.6 -3.4h0m12.8 2.3h0m4.7 0.7h0m-201.4 1.1h0m8 1.5h0m12 2.3h0m80.5 0h0m2.7 -3.6h0m8.8 2.9h0m6.9 -1.9h0m7 2.4h0m10.1 -0.2h0m17 1.5h0m2.6 -3.8h0m5.4 0h0m5.9 4.5h0m9 -3.3h0m2.5 -1h0m10.7 1.9h0m3.4 -0.1h0m3 -0.7h0m0.2 3.1h0m6 -0.1h0m2.7 -4.6h0m-202.9 8.4h0m0.1 2.5h0m4.8 -4.5h0m0.1 3.3h0m2.4 -0.4h0m4.7 -4h0m4.6 0.8h0m8.3 5h0m14.1 -3.8h0m27.9 3.4h0m37.5 -4.2h0m19.5 0.4h0m3.1 2.7h0m2.2 -0.8h0m1.8 -2.6h0m4.5 0.9h0m0.6 2.1h0m1.9 -2h0m19.4 -0.3h0m4.3 0.5h0m-165.2 5.9h0m7.9 0.8h0m15 1.4h0m2.2 1.1h0m54 -3h0m17.1 0.7h0m4.3 0.1h0m19.2 2.4h0m22.7 -4.8h0m18.1 -0.2h0m7 2.3h0m1.2 2.6h0m2.5 -5h0m17.3 4.2h0m6.7 -4.8h0m9.5 5.5h0m10.5 0.2h0m6.8 -1h0m-229.6 2.5h0m0.3 2.6h0m5.8 -0.6h0m10.2 0.8h0m12 0h0m67.8 -0.8h0m21.2 2.6h0m13.5 -2.9h0m27.3 2.4h0m10.2 -4.5h0m1.3 0.5h0m5.5 3.8h0m1.4 -4.6h0m11.8 3.5h0m4.1 1.5h0m14.1 -1.8h0m0.5 1.7h0m3.8 -3.5h0m0.6 1h0m0.9 2.4h0m17.8 -4.2h0m1.9 2.6h0m-222.1 3.8h0m23.8 3.3h0m5.3 -4.5h0m14.5 1.1h0m13.6 3.8h0m33.7 -1.6h0m7.2 1.1h0m1.7 -2.6h0m11.4 -2.1h0m0.3 1.6h0m2.8 3.3h0m7 -4.3h0m17.8 1.7h0m2.1 -2h0m16.2 1.6h0m8.3 1.9h0m31.2 1h0m14.3 -2.8h0m6 2.5h0m-222.6 7h0m2.5 -4h0m4.6 -0.1h0m3.7 0h0m10.8 -0.8h0m0.7 0.2h0m5.2 -0.4h0m33.2 1.9h0m10.5 1.3h0m31.8 -2.6h0m2.8 4.6h0m5.2 -2.9h0m5.7 0.7h0m9.1 -2.7h0m2.4 2.5h0m3 2.4h0m9.4 -2h0m4 1.4h0m7.9 -1.7h0m13.8 -1.9h0m9.2 3.4h0m3.4 -3.6h0m0.6 4.3h0m20.6 -5.2h0m13.3 5.7h0m4.7 -0.2h0m-219.9 5.7h0m9.2 -0.9h0m16.3 -0.1h0m2.1 1.3h0m40.6 -2.6h0m39.8 -1.4h0m4.7 -1.7h0m5.8 4.5h0m9.7 -2.6h0m2.2 1.4h0m0.9 -1.5h0m5.4 3.6h0m4.7 -3.3h0m3.7 0.2h0m15.6 2h0m2.4 -3.1h0m2.4 -0.2h0m1.5 4.7h0m5.1 -3.9h0m0.2 -1.8h0m6.2 3.5h0m8.9 0.2h0m14.3 -2.7h0m1 2.1h0m2.3 -1.8h0m7.9 2.5h0m16.5 0.8h0m-227.4 3.4h0m4.7 0.6h0m59.1 2.5h0m19.6 -4.4h0m3.7 -0.5h0m10.9 1.8h0m5.8 2h0m13 -2.2h0m3.2 3.1h0m8.1 -0.5h0m5.8 -4.1h0m0.1 3.9h0m28.7 -2.3h0m11.4 2.8h0m5.5 0.2h0m8.1 -3.1h0m2.3 2.6h0m0.5 -4.5h0m2.9 5.2h0m4.8 0h0m2.3 -2.1h0m1.5 0.1h0m7.4 -1.3h0m6.5 2.7h0m5 -4.2h0m6.3 0.5h0m-231.5 10.4h0m10.7 -0.1h0m11.7 -3.3h0m21.1 3.5h0m9.3 -4.8h0m50.3 0.1h0m21.3 2.9h0m1.8 0.1h0m5.1 -2.1h0m4.6 4.3h0m34.1 0h0m7.3 -4h0m12.4 1.5h0m5 2.5h0m1.9 -0.5h0m2.3 -4h0m9.8 2.2h0m13.2 1.8h0m-222 4.3h0m6.1 0.3h0m14.6 -0.1h0m1.2 -1.1h0m17.6 -0.6h0m62 2h0m3.1 -0.6h0m4.8 -1.5h0m0.7 2.2h0m3.1 0.6h0m10.4 -0.8h0m3.1 -4h0m31.6 1.2h0m7.4 2.5h0m18.3 -2.3h0m4.4 -0.2h0m18.5 4.6h0m4.7 -3.6h0m11.4 3.6h0m1.6 -5.3h0m-202.1 10.2h0m8.7 -4.6h0m2.5 0h0m29.8 2h0m9.5 1.3h0m4.2 -0.3h0m32.8 0.2h0m4 2h0m0.8 -1.8h0m55 -0.7h0m27.7 2.8h0m7.6 -1.1h0m8.5 -3.6h0m5.1 -0.9h0m4.4 3.4h0m8.7 1.3h0m-228.2 6.8h0m1.4 -4.2h0m2 2.3h0m13.2 0.7h0m11.4 1.5h0m18.5 -2.7h0m20.2 -2h0m13.9 2.1h0m19.5 -2.1h0m8 2.3h0m12.9 0.9h0m4 -2.5h0m4.7 2.1h0m8.9 -0.4h0m9.6 0.4h0m7.1 -0.3h0m13.4 1.8h0m2.1 -2.1h0m4.2 0.2h0m3.4 -2.5h0m17 4.5h0m0.2 -3.2h0m2.8 3.1h0m0.7 -4.5h0m4 0.4h0m15.9 0.3h0m4.1 -1.7h0m-227 9h0m0.6 1.6h0m8.2 -0.1h0m3.3 -0.5h0m27.7 -0.8h0m23.9 -1.4h0m3.6 0.8h0m22.8 -0.5h0m29.9 2.7h0m6.8 -2.2h0m15.2 0.3h0m2.4 2h0m11.6 0.2h0m4.4 -4.5h0m4.7 2.2h0m4.3 1.9h0m5.4 -0.2h0m4.2 0.6h0m4.7 -0.4h0m11.3 0.8h0m0.9 -2.4h0m4.3 0.1h0m0.2 1.1h0m21 -3.5h0m5.7 0.1h0m2.9 -0.8h0m-227.7 6.1h0m2.4 0.9h0m0.6 3h0m15.5 -1.5h0m16.7 0.1h0m24.6 1.1h0m6.5 -0.7h0m0.6 2.4h0m6.1 -2.1h0m74.8 -3.1h0m9 1.3h0m6.5 1.7h0m4.1 0.7h0m3.1 1.6h0m2 -3.8h0m23.3 1.7h0m2.5 2.3h0m3.7 -5h0m8.7 1.8h0m9.5 2.8h0m2.9 -3.6h0m2.3 1.6h0m0 -2.6h0m-227.9 7.7h0m1.7 1.4h0m46.8 0.3h0m2.7 -0.7h0m82.9 -0.9h0m2.3 2.2h0m41.7 -2.9h0m12.3 0.8h0m5.3 2.2h0m9.4 -3.7h0m19.9 0.3h0m3.4 4.4h0m3.6 -4h0m-232 6.3h0m3.2 2.2h0m3.8 0.8h0m11.9 -0.9h0m1.4 -1.4h0m5.7 -0.5h0m6.6 0.7h0m10.7 -0.8h0m9.2 1.3h0m72.4 -0.4h0m52.1 2.6h0m2.9 -4.7h0m9.4 0h0m6.9 -0.8h0m17.4 0.6h0m5.1 4.2h0m7 -0.4h0m4.1 -3.4h0m-225.6 5.5h0m14.9 3.4h0m1.4 -0.4h0m2.7 1.8h0m4.7 -1.8h0m4.2 0.6h0m12 -2.3h0m21.2 -0.4h0m20.3 4h0m52.5 -5h0m21.1 3.8h0m6 -1.6h0m44 0.1h0m5.1 1.1h0m8.4 0.4h0m-181.5 6.2h0m32.3 -0.8h0m39.4 0.6h0m2.2 -2.2h0m4 -2.3h0m12.2 4.6h0m3 -1.8h0m29.6 2.1h0m1.5 -2.1h0m2.9 0.2h0m4.9 -2.6h0m6.4 4h0m4.4 0.7h0m13.6 0.1h0m7.5 0h0m2.7 -4.9h0m15.4 0.3h0m2.2 -0.3h0m4 2.6h0m-224 8h0m47.8 -2.1h0m1.7 2.3h0m26.4 -3.8h0m29.2 -1h0m15.7 1.3h0m60.3 2.2h0m30 -0.1h0m13.9 0.2h0m-230.5 6.4h0m2.9 -2.9h0m9.6 -0.3h0m10.4 2.4h0m11.3 0.2h0m5 0h0m99.3 -1.2h0m14.2 1.5h0m10.8 -2.6h0m2 2.5h0m6.5 0.8h0m21.4 -3.3h0m20.4 0.9h0m9.7 -2.2h0m1.5 4.4h0m0.8 -4.3h0m4 2h0m2.3 -0.2h0m-213 9.2h0m2.5 0.4h0m34 0.2h0m66.1 -0.9h0m6.9 -2.9h0m2.4 3.3h0m7.5 -2.4h0m1.4 -0.9h0m9.5 3.8h0m36.9 -5.5h0m2.8 4.4h0m4.1 -1.5h0m7.9 -2h0m1 3.4h0m0.5 -1.6h0m5.3 2h0m4.3 -4h0m13.4 1.6h0m3 -2h0m-216.7 10.7h0m1.4 -2.4h0m102 2.6h0m1.9 -1.4h0m2.7 -2.2h0m15.9 -1.3h0m7.1 3.6h0m1.5 -2.1h0m7.1 3.8h0m49.4 -4.1h0m12.6 1.1h0m9.4 -1.9h0m7.4 2.4h0m0.3 -2.2h0m-227.7 7.1h0m4.9 2.9h0m6.9 -1.4h0m8.4 0.9h0m53.6 -1.7h0m26.7 1.1h0m9.3 1.2h0m3.1 -0.7h0m26.7 -3.1h0m7.2 -0.9h0m13.7 2.5h0m7 -2.7h0m7.4 3.8h0m12.7 0.2h0m4.9 -2.8h0m13.6 -0.2h0m3.5 2.5h0m4.1 0.4h0m2.3 -0.1h0m-204.8 2.6h0m43.8 1.9h0m27.5 2h0m16.6 -1.8h0m17.4 0.4h0m4.8 -0.6h0m13.7 0.9h0m10.1 -3.1h0m12.4 5h0m7.8 -5.3h0m9.3 4.8h0m3.7 -4h0m5 -0.7h0m12.5 5.6h0m3.6 -2h0m2.4 1.6h0m7.1 -3.9h0m3.1 1.9h0m6.3 -2.2h0m5 4.5h0m-220.7 1.5h0m29.9 0.1h0m55.2 0.4h0m2.1 0h0m40.2 -0.7h0m47.5 0.3h0m10.6 0.3h0m22.9 -1.4h0m2.4 0.9h0" stroke="#b08a94" stroke-width="1.9" stroke-linecap="round" fill="none"/><path d="M0 0m37.5 0.8h0m15 2h0m112.3 -1.6h0m3.6 -0.1h0m3.1 0.7h0m-136.2 4h0m69.5 -1.5h0m2.3 -0.4h0m14.5 0.3h0m2 1.7h0m2.4 -0.6h0m15.6 -1.7h0m1.7 0.6h0m14.8 -1h0m6.3 0.6h0m0.2 2.6h0m4.2 -1.4h0m4.5 0.7h0m1.1 -1.6h0m8 1.9h0m4.5 1.5h0m0.7 -3.3h0m0.2 0.9h0m3.7 0.2h0m9.9 0.1h0m4.7 -1.9h0m-191.1 9.7h0m4.5 -0.2h0m4.2 -2h0m7.1 3.2h0m7.6 -2.2h0m6.9 1.2h0m34.2 -0.8h0m2.9 0.5h0m6.3 -1.9h0m13.7 3.8h0m4 -4.2h0m3.2 2.2h0m0.1 2.1h0m6.5 -2.1h0m9.4 -0.2h0m1.5 -0.4h0m3.1 -2.1h0m17.7 0.8h0m5.8 2.5h0m12.9 -2.9h0m8.7 -0.5h0m6 0.5h0m13.8 -1h0m3.5 0.8h0m1 1.8h0m1 -2.2h0m8 0.7h0m6.1 2h0m-197 6.7h0m1.3 -1.8h0m30.9 0.1h0m1.3 -1.1h0m66.5 3h0m14.6 -3.7h0m11.6 -0.1h0m1.8 -0.4h0m52.9 1.3h0m15.7 0.5h0m3.8 2.5h0m-209.5 7.2h0m3.3 -0.9h0m7.7 -2.3h0m0.5 3.3h0m21.7 -5.4h0m67.9 2.3h0m11.8 0.7h0m33.3 -0.2h0m2.8 -2.5h0m8.5 1.6h0m6.8 1.3h0m9.2 -0.9h0m9.2 2h0m7.8 -4.3h0m11.7 4.7h0m10.7 -0.3h0m-213.3 5.4h0m0.3 1.5h0m6 -4.4h0m16.9 0.6h0m11.1 -1h0m52.6 -0.8h0m2.4 4.6h0m0.2 -3h0m9.8 2.9h0m15.9 -0.3h0m1.5 -0.2h0m21.8 -3.1h0m10.5 3.3h0m0.7 -2.7h0m2.3 0.7h0m4.5 -0.2h0m14 1.2h0m0.2 -2.1h0m3.5 1h0m3.4 -1.3h0m1.8 0.6h0m0.5 2.8h0m4.3 -1h0m1.4 0.9h0m14 0h0m0.8 1.3h0m2 -4h0m3.7 3.3h0m11.5 0.7h0m-210.7 3.8h0m0.2 -2.7h0m3.8 2.3h0m2.3 1.6h0m0.2 -1.3h0m11.5 -0.2h0m18.3 -1.1h0m42.1 0.7h0m8.3 -2.7h0m25.5 2.2h0m9.1 2.5h0m2 0h0m3.2 -0.5h0m5.3 -3.8h0m7.9 -0.1h0m7.4 2.5h0m10.9 -2.4h0m0.8 1.5h0m48.1 0.7h0m-204.2 4.9h0m6.5 -0.2h0m11.9 -0.2h0m45 4h0m2.2 -4.1h0m10.3 -0.3h0m26.4 2.9h0m0.5 -2.1h0m8.7 -0.2h0m11.8 1.4h0m5.6 -1.7h0m9.3 2.3h0m4.5 -2.5h0m1.8 4.5h0m0.3 -3.6h0m1.9 0.3h0m12.9 3.5h0m17.4 -1.5h0m3.5 -2.3h0m7.7 1.5h0m-204.8 7.2h0m5.1 -1.9h0m15.7 -0.6h0m34.3 1h0m1.9 -0.5h0m20.6 1.6h0m9.8 -0.3h0m4.1 -3.2h0m23.3 1.4h0m4.1 0.5h0m9.8 1.3h0m7.3 0h0m0.5 -2.1h0m0 -1.4h0m2 4.9h0m10.6 -4.5h0m5 5.3h0m8.7 -3.9h0m13.6 3.3h0m23.5 -4.9h0m3 0.1h0m1.5 3.5h0m12.6 -3.5h0m-205 9.1h0m25 -3.2h0m8.3 3.3h0m2.6 -0.1h0m34.8 0.1h0m8.8 -2.8h0m2.9 4.3h0m18.7 -5.2h0m13.4 3.5h0m3 -0.8h0m12.3 2.4h0m12.3 0.5h0m9.4 -2.5h0m16.4 -1.8h0m2.3 1.9h0m12.7 -0.4h0m5 0.4h0m4.4 -0.3h0m4.8 2.1h0m4.6 -4.2h0m14 0.6h0m-227.6 6.3h0m2.7 -0.1h0m2.4 3.9h0m8.7 -0.1h0m11.5 -5.3h0m86.7 1h0m17.4 0.1h0m19.4 2.6h0m2.9 0.5h0m33.8 -4.3h0m6.9 2.4h0m7.7 0.7h0m2.7 -2h0m20.9 3.2h0m3.2 -1.1h0m-206.2 7.1h0m43.3 0.4h0m18.8 -0.1h0m29.7 0.3h0m7.3 -2.4h0m8.4 0.4h0m2.8 2.6h0m21.3 -0.3h0m3.8 -3.1h0m6.8 1h0m16.4 -0.7h0m19.8 -1.4h0m5.6 4.2h0m18.1 -2.9h0m4.1 1.8h0m2.6 -1.3h0m0.1 -2.1h0m-229.2 9.2h0m4.2 0h0m20.8 1.4h0m8.2 -2h0m85.8 2.6h0m1.8 -5.1h0m8.1 0.4h0m4.5 2.3h0m6 0.5h0m13.6 -2.2h0m3.7 3.8h0m5.5 -0.7h0m4.9 -1.7h0m8.8 -0.3h0m2.6 -1.4h0m4.9 0.3h0m15.9 0.9h0m16.1 1.4h0m11 1.3h0m5.2 -4.4h0m-220.7 9.3h0m2.4 0.7h0m11 -3.6h0m1 2.9h0m8.1 -0.3h0m1.2 -3.5h0m38.9 3.7h0m7 -1.4h0m24.7 -2.5h0m5.5 -0.2h0m21.7 4.4h0m10.2 -1.8h0m3.4 1.3h0m9.3 0.5h0m5.4 0.2h0m20.2 0.3h0m9.8 -1h0m13 0.3h0m5.4 -1.6h0m16 2.2h0m-226.2 1.2h0m8.1 3.6h0m1 -2.7h0m60.5 0.4h0m50 1.6h0m6.9 1.5h0m3 -4.5h0m27.1 5.8h0m2.2 -5.4h0m7 5.4h0m2.7 -4.9h0m10 2.7h0m2 -1.3h0m6.3 -0.9h0m16 1.8h0m10 -2.6h0m1 1.6h0m3 -1.4h0m8.7 0.2h0m6.9 -0.5h0m-232.4 7.5h0m4.4 1.3h0m6 0.2h0m12.7 -1.8h0m0.9 2.1h0m43.4 0h0m60.1 0.4h0m18.5 -4.2h0m6.4 1.3h0m2.3 0.6h0m9 3.7h0m16.4 -4.1h0m1.9 4.1h0m3 -4.1h0m4.6 3.9h0m21.8 -4.6h0m6.1 2.3h0m1.6 0.4h0m-204.1 6.8h0m95.8 -3.6h0m21.4 -0.3h0m2.5 0.1h0m1.6 4.7h0m4.6 -4.6h0m7.4 4.7h0m2.2 -3.4h0m27.5 -1.8h0m8.8 4.8h0m10.8 -2.9h0m9.4 0.1h0m0.4 3.2h0m15.7 -3.1h0m0.8 -1.7h0m7 1.9h0m-221.2 7.3h0m2.6 -0.7h0m18.9 -1.8h0m8.9 4.7h0m10.4 -4.9h0m16.4 -0.3h0m42.2 0h0m3.5 0.2h0m11.8 0.4h0m11.9 1.4h0m13.6 0.1h0m18.3 2.8h0m16.2 -2h0m9.9 -1.8h0m10.5 1h0m18.2 -2h0m3.7 2h0m5.9 0.7h0m0.7 -2h0m-228.1 6.3h0m6.3 -1.8h0m2.3 1.8h0m12.6 3.2h0m0.1 -3.6h0m11 4.5h0m0.2 -5.5h0m0.2 3.4h0m8.2 2.1h0m25.8 -2.4h0m46 0.1h0m1.7 0.7h0m5.7 0.6h0m9.2 -1.2h0m8 0.3h0m8.3 -3.8h0m12.3 2.5h0m5.3 1.8h0m6.7 -0.6h0m10 -1.5h0m1.2 3.6h0m1.1 -2.3h0m1.7 0.3h0m5.3 -0.1h0m8.2 -1.4h0m7 -0.4h0m1 2.5h0m6.6 -4.3h0m2.2 1.9h0m2.2 0.3h0m-219.5 3.6h0m1.1 2.7h0m2.2 3.1h0m6.5 -3h0m16.3 2h0m3.8 0.6h0m12.5 -5.3h0m25.4 0.7h0m35.9 3.7h0m23.4 0.7h0m5.5 -0.5h0m8 1h0m28.6 -4.9h0m1 4.6h0m29 -3.2h0m4.2 -1.4h0m4.9 0.2h0m-196.2 6.6h0m14.6 -0.2h0m22.7 -0.4h0m34.5 1.1h0m27.7 -1.6h0m1.3 0.4h0m5.6 2.7h0m37.8 -1.5h0m8.2 -1.3h0m11.1 0.9h0m4.5 2.4h0m1.7 1.3h0m20.6 -1h0m19 -3.3h0m-217.8 6.8h0m21.7 1.9h0m4.7 1.1h0m62.1 -2.6h0m14.4 -0.2h0m96.1 0.5h0m5.1 1.4h0m-195.7 2.8h0m25.9 0.6h0m1.4 2.1h0m4.4 2.3h0m73.8 -3.2h0m2.1 1.3h0m7 -3.1h0m23.2 -0.5h0m9.5 1h0m11.9 2.3h0m18.3 -3.1h0m12 4.5h0m27.1 -0.1h0m1.9 0.9h0m0.8 -4.9h0m-232.7 7.6h0m8.9 1.7h0m12.2 -4h0m13.6 0h0m37.9 -0.2h0m15.4 4.4h0m29.7 -4.1h0m17.5 1.8h0m7.2 2.1h0m11 -4.1h0m3.6 0.1h0m4.4 2.3h0m7 -0.4h0m21.6 1.2h0m4.7 -3.2h0m2.5 3.8h0m12 -0.1h0m0.5 -2.9h0m-201.2 7.1h0m3.2 1.4h0m43.3 -3h0m48.7 2.3h0m2.7 -0.6h0m5.4 1h0m5.1 0.2h0m9.5 2.3h0m22.7 -3.6h0m4.8 3h0m13.6 -3h0m16.6 2.2h0m10.7 -3.5h0m3.4 0h0m5.6 1.6h0m6 2.4h0m1.9 -2.7h0m1.8 0h0m8.7 0.1h0m7.6 0.7h0m-228.4 6h0m6 1.4h0m3.2 -3.4h0m3.2 0.9h0m5.2 2.3h0m3.9 -2.5h0m2.9 0h0m50.1 3.6h0m22.4 -3.3h0m5.6 -1.2h0m3.7 1.1h0m19.5 2.3h0m12.3 -2.7h0m9.6 2.4h0m3.4 -0.3h0m3.8 -2.2h0m7 3.1h0m1.6 -2.9h0m14 -0.4h0m6.6 1h0m6.2 -0.3h0m3.3 3.8h0m10.4 -2.8h0m1.7 0.2h0m2.3 0.3h0m4.3 -1.6h0m-186.8 5.1h0m10.5 3.5h0m78 -1.5h0m4.3 2.1h0m11 -4.3h0m23.4 3.3h0m7.4 1.3h0m0.9 -5.1h0m9.4 1.5h0m12.2 3.1h0m1.9 -0.7h0m11.4 1.1h0m1 -4.8h0m6.5 0.2h0m9.5 4.2h0m8.7 -4.3h0m-215.6 8.2h0m15 -2.2h0m3.5 3.1h0m24.9 0.1h0m61.6 -3h0m2.7 0.4h0m9.1 4.7h0m2.1 -1.8h0m1.8 2h0m5.5 0.1h0m6.5 -2.5h0m2.1 -0.3h0m7.2 2.2h0m12.3 -5.2h0m3.5 5.2h0m29.6 -1.8h0m12.1 -2.9h0m4.1 4.1h0m4.7 -1.1h0m12.1 -3.6h0m-67.7 7.3h0m3.2 -0.4h0m32.3 0.5h0m16.8 -0.6h0" stroke="#b08a94" stroke-width="1.6" stroke-linecap="round" fill="none"/><path d="M0 0m49.9 0.8h0m50.1 -0.4h0m23.9 1.4h0m10.1 0h0m2.6 -0.4h0m-112.6 4.4h0m6.6 3h0m4.9 -4.9h0m51 2.2h0m4.6 1.4h0m11.4 -2.5h0m11 -1.3h0m7 3.9h0m9.1 1h0m7.3 -3.2h0m2.7 -1.7h0m2.4 5.1h0m4.6 -1.3h0m0 -1.2h0m2.4 -0.5h0m17.3 -2.1h0m3.1 -0.6h0m2.7 4.3h0m8.5 0.6h0m15.7 -0.6h0m2.2 1.3h0m4.7 -2.5h0m4.2 -0.5h0m-153.6 8.5h0m18.7 -3.2h0m12.1 3.2h0m2.2 -4.5h0m20.7 3.7h0m10.2 -3.2h0m10.6 -0.5h0m9 2.5h0m6 -2.1h0m0.2 3h0m10.2 -2.1h0m1.6 -1.3h0m4.5 2.7h0m1.9 -2.1h0m6.7 1.9h0m3.7 0.5h0m15 1.9h0m4.7 -1.3h0m14.9 -2.4h0m-189.5 7.1h0m4.8 -0.9h0m60 0.9h0m17.8 -0.6h0m1.8 2.8h0m4.5 -3.8h0m7.6 0.5h0m6.8 -1.6h0m0.4 3.7h0m1.4 -2.4h0m0.4 -1.5h0m18.7 4.7h0m9.5 -3.1h0m1.7 2.9h0m0.8 -2.4h0m5.7 0.3h0m2.3 1.3h0m2.4 -2.3h0m5.8 3h0m2.5 -1.5h0m22.1 0.7h0m4.6 0.2h0m6.7 0.6h0m-193.5 2.7h0m13.7 -0.4h0m11.9 2.4h0m1.9 1.9h0m4.7 -4.5h0m46.8 2.4h0m10.6 -2.2h0m2.8 1.5h0m7.7 3.1h0m15.7 -3.9h0m7.4 1.8h0m3.4 -2h0m0.3 4.6h0m5.3 -3h0m6.1 2h0m4.9 -3.4h0m9.2 -0.5h0m15.8 3.8h0m0.3 -2.2h0m9.7 3.2h0m4.4 -3.1h0m2.1 -1.4h0m6.7 -0.6h0m9 0.8h0m6.8 2.4h0m0.1 -3.8h0m-212.9 7h0m3.7 3.4h0m11.2 0.2h0m33 -1.3h0m41.7 1.4h0m13.2 -1.1h0m13 -2.4h0m1.4 -1.3h0m1.7 2.2h0m4.4 0.4h0m6.7 -2.4h0m10.3 3.8h0m6.7 -1.8h0m1.2 2.5h0m1.4 -2.8h0m3.1 2.8h0m0.8 -4.4h0m18.7 5.4h0m12.7 -4.7h0m3.6 0.3h0m1.9 4.3h0m4.7 -4.4h0m4.5 3.3h0m13 -2.9h0m5.1 3.1h0m2.4 -0.1h0m-221 5.9h0m9.5 1.2h0m3 -0.3h0m9.1 -5.2h0m49.2 5.2h0m4.6 -2.9h0m10.3 -2.4h0m15.7 1h0m8.5 4.6h0m9.4 -3.5h0m4.4 2.9h0m2.6 -2.9h0m3 -2.2h0m8.2 2.6h0m1.3 1.8h0m11.1 -1.5h0m9 -2.2h0m4.7 5.1h0m6.6 -0.9h0m28.1 -2.7h0m3.9 2.3h0m8.9 -3.5h0m0.7 4.4h0m-195.8 2.6h0m6.8 -1h0m9.2 4.7h0m5.6 -4h0m5.6 0.2h0m11.7 -0.6h0m14.1 4.2h0m20.6 -2.5h0m3.1 -1.2h0m11.5 3.5h0m8.1 -2.3h0m6.8 0.8h0m9.3 0.2h0m4.6 -2.7h0m11.6 2.2h0m2.2 0.8h0m2.8 -2.3h0m7.8 0.8h0m4 0.3h0m13.1 -1.6h0m7.8 2.2h0m2.1 2.2h0m11.2 -4.9h0m0 2.2h0m21.4 -1.5h0m8.2 1.9h0m-227 5.1h0m2.9 2.3h0m5.4 -1.2h0m12.3 -2.4h0m0 3.1h0m3.8 -2.4h0m60.8 0h0m10.7 -0.8h0m1.1 3.1h0m34.3 -2.5h0m10.9 1.9h0m2.2 -3.3h0m0.9 4.4h0m1.5 0.1h0m1.9 -3.4h0m3.6 0.6h0m3.1 -0.6h0m2.4 2.3h0m9.6 0.2h0m2.3 -2.6h0m0.6 3.6h0m5.9 -0.6h0m0.8 -1.9h0m7.4 -0.6h0m1.3 1.7h0m12.5 -0.8h0m9.4 -0.2h0m8.5 -1h0m1.7 2h0m8.8 -1.2h0m-229.9 9.3h0m1 -4.8h0m1.7 0.4h0m5.6 3.3h0m15.4 1.1h0m0.6 -5.1h0m1.9 2.6h0m26.9 -2.4h0m58.8 1.4h0m5.9 -1.9h0m18.8 0.2h0m2 2.8h0m31.7 -0.4h0m16.5 -0.7h0m2.3 0.9h0m4.4 -0.6h0m2.3 -2.3h0m2.4 2.1h0m10.2 3.5h0m3.8 -2.1h0m1.7 1.6h0m8 -0.4h0m8.7 -4.7h0m0.9 4.6h0m-180.7 5.8h0m3.4 0.8h0m4.6 -3.4h0m26.9 -1.2h0m7.4 1.3h0m0.4 1.7h0m6 1.6h0m7.3 -1.2h0m11.7 -2.4h0m13.8 4.1h0m3.5 -1.5h0m0.9 1h0m6.3 0.1h0m8.8 -4.3h0m3.1 1h0m4.4 2.2h0m3.1 -4.5h0m3.3 3.9h0m13.8 0.3h0m1.1 -2.8h0m6.6 -0.4h0m6.2 2.4h0m4.5 -1.7h0m1 1.9h0m13.3 2.3h0m5 -4.2h0m1.4 0.8h0m1.1 1.4h0m-216.9 7.2h0m18.4 -2.8h0m1.9 -2.1h0m54.2 2.2h0m1.2 0.3h0m4.9 0.1h0m14.4 0.2h0m12.5 -3h0m2.4 0.4h0m4.5 2h0m24.2 0h0m5.7 2.3h0m5.5 -2.8h0m1.5 -1.2h0m17.4 3.4h0m1.7 -2.2h0m4.9 0.2h0m9 -1.6h0m14.2 1.3h0m18.3 3.4h0m12.6 -0.5h0m-227.6 6.3h0m3.3 -1.5h0m21.1 1.9h0m8.6 -3.8h0m9.7 -1.2h0m70.6 0.4h0m15.8 1h0m5.4 3.8h0m2.2 -0.1h0m4.5 -4.1h0m2.2 2.6h0m2.4 -3.5h0m8.7 5.2h0m0.2 -1.7h0m5.2 0.2h0m2.6 -0.1h0m23.8 1.1h0m1 -4.4h0m16.4 0.4h0m1.5 4.1h0m0.2 -5h0m1.7 2.7h0m1.3 2.1h0m1 -1h0m10.3 -0.7h0m-221.7 7.4h0m5.3 -4.4h0m6.8 0.2h0m32.8 3.9h0m35.6 0.3h0m21.1 -3.6h0m34.5 1h0m11.3 1.9h0m7 -2.6h0m16.9 -1.4h0m3.1 4.6h0m24 -0.7h0m26.8 -2h0m-215.6 4.4h0m2 0.8h0m21.7 1h0m78 -1.2h0m16 4.8h0m2.6 -5.4h0m4 4.3h0m7.5 -2.1h0m0.2 -1.5h0m3.3 3.5h0m5.3 0.3h0m8.5 0.3h0m4.5 -2.1h0m0 -3h0m11.2 5.3h0m1 -4.7h0m15.9 -0.6h0m26.9 5.9h0m5 -2.5h0m1.9 -2.6h0m5.3 2.8h0m-224.6 3.4h0m5.7 2.2h0m0.6 -1h0m2.7 1.5h0m1.2 -2.7h0m6.8 4.5h0m0.8 -4.8h0m13.3 4.7h0m29.5 -1.1h0m19.5 -3.5h0m11.1 0.8h0m18.9 0.4h0m2.1 1.8h0m50 0.6h0m5.3 -3.4h0m19.8 -0.3h0m0.5 2.6h0m34.5 1.2h0m0.1 -3.1h0m-230.7 4.6h0m23.3 2.6h0m5.1 -1.9h0m39.2 -0.5h0m44.1 5.2h0m4 -2.8h0m1.7 0.3h0m0.9 -2.4h0m3.7 2.1h0m5.2 2.1h0m1.6 -0.8h0m0.2 -1h0m9 -1h0m3.1 3.5h0m13.4 -2.9h0m5 -0.8h0m9.1 2.9h0m9 0.7h0m13.2 -1.4h0m1 -3.9h0m1.5 4h0m9.4 -1.8h0m2.3 1.6h0m1.2 -3.9h0m13 4.3h0m0.1 -4.1h0m1.7 1.7h0m5.9 1.2h0m-225.7 7.9h0m8.7 -4.5h0m3.9 0.6h0m3 1.4h0m2.2 1.2h0m9.8 -0.9h0m9.2 -2.3h0m4.1 4.6h0m0.5 -0.9h0m12.8 -1.6h0m11.8 2.8h0m6.6 -2.7h0m48.1 2.9h0m0.8 -4.3h0m6.5 -0.8h0m7.3 0.8h0m4.1 -0.1h0m11.6 -0.3h0m2.7 2.7h0m6.7 -0.8h0m11.3 -2.3h0m14.8 1h0m5.7 1.8h0m12.5 2.7h0m10.5 -5.7h0m2.9 0.8h0m11.3 2.9h0m-221.3 5.7h0m3.4 0.9h0m1.1 1.3h0m7.4 -5.9h0m0.1 4.6h0m9.3 -2.9h0m9.3 0.2h0m27 -0.4h0m50.8 0.7h0m14 -1h0m11.3 0.6h0m1.9 0.7h0m15.9 -0.2h0m14.1 -0.6h0m3.4 2.9h0m8.8 -1.9h0m2.6 -0.1h0m2 2.3h0m6.1 -4.7h0m2.7 4.5h0m17.9 0.2h0m7 -1.2h0m-211.2 4.4h0m4.1 -2h0m11.5 1h0m14 4.6h0m4.9 -4.4h0m5.2 3.7h0m20.1 0h0m6.6 -4.1h0m45.7 4.5h0m9.7 -0.9h0m10.3 1.2h0m3.8 -1h0m3.9 -4.7h0m8.4 0.2h0m21.6 4.9h0m1.1 -2.9h0m8.4 2.9h0m2.6 -0.5h0m7.5 -3.5h0m17.3 1.8h0m2 -2.7h0m3.4 0.5h0m3.9 2.3h0m-199.8 4.7h0m57.7 3.9h0m64.7 -2.1h0m4.4 2h0m14.1 -0.1h0m0.1 -3.9h0m27.6 1.6h0m11.2 2.4h0m10.7 0.4h0m-220.9 1.7h0m16.8 3.3h0m1.6 -4.3h0m11.8 2.3h0m37.9 -0.4h0m45.8 -0.9h0m25.3 0.6h0m10.3 3h0m10.1 -4.5h0m14 2.4h0m29.1 -0.6h0m9.7 -2.4h0m1.4 4.7h0m4.6 -1.8h0m3.3 2.4h0m6.8 -3.1h0m-228.5 7.2h0m7.6 -1.8h0m0.6 2.3h0m3.7 -1h0m5.2 2.3h0m4.8 -1.6h0m10.7 -0.8h0m4.8 1h0m0.3 -2.9h0m70.9 3.9h0m7.8 0.3h0m7.9 -3.8h0m8.1 0.1h0m8.3 -0.9h0m8.9 2.6h0m14.2 -0.1h0m4.5 0.3h0m5.6 -3.2h0m3.4 3.3h0m3.6 -0.8h0m1.5 0.4h0m4.6 2h0m9.6 -1.4h0m10.5 1.2h0m1.3 -3.4h0m1.4 3.6h0m4.8 -1.8h0m7.5 -0.4h0m6.1 0.8h0m-214.5 6h0m4.7 0.4h0m7.3 -0.4h0m2.6 -1.8h0m1.9 -0.4h0m2.5 0.1h0m67.5 2.7h0m15.6 0.1h0m15.5 1.6h0m5.8 0h0m5.5 -5.8h0m2.4 3.2h0m33.1 -3.3h0m4.8 0.1h0m12.7 1.4h0m5.4 3.2h0m4.4 1h0m2.5 -1.3h0m4.4 -2.1h0m0.4 -2.3h0m2 4.6h0m11.3 -3.4h0m3 1.1h0m-211.8 8.4h0m13.3 -0.1h0m27.1 -3.5h0m4.6 3.8h0m48.7 -4.5h0m6.7 4.3h0m2.7 -0.5h0m7 -1.6h0m1.7 2.6h0m7.8 -0.7h0m9.4 0.8h0m5.7 -5.2h0m10.1 5.4h0m7.1 -0.7h0m18.5 -2.2h0m8 -0.8h0m12.2 0.8h0m0.1 -1.7h0m16.7 3.5h0m-196.8 4.5h0m5.7 1.4h0m34.3 0h0m32 -0.6h0m25 -0.7h0m11.5 2.4h0m7.1 -3.4h0m12.2 1.9h0m12.2 -0.5h0m1.1 2h0m2.5 -4.9h0m8.2 2.4h0m17 1.2h0m1.5 -1h0m4.2 -2.3h0m16.8 3.3h0m4.8 -0.5h0m-207.6 2.5h0m16.5 4.8h0m2.1 -0.1h0m7.7 0h0m59.5 -4.8h0m20.6 0.6h0m11.8 1.4h0m10.3 -0.4h0m4.6 3.1h0m8.1 0.1h0m36.6 -4.8h0m9.7 2.5h0m11.1 0h0m-205 4.9h0m1.7 2.3h0m9.5 1.8h0m2.9 -2.1h0m29.3 2.5h0m9.9 -0.2h0m52.7 -2.4h0m6.8 -0.2h0m27.4 -0.2h0m14 2.8h0m1.4 -2.6h0m26.2 -3h0m0.3 3.7h0m6.4 -0.4h0m3 0.4h0m6.2 -1.3h0m2 -2.2h0m12.1 2.7h0m2.4 0.8h0m2.3 -2.8h0m-58.1 5h0m4.5 0h0m28.4 1.4h0m2.1 -1.3h0" stroke="#b7909a" stroke-width="1.9" stroke-linecap="round" fill="none"/><path d="M0 0m74.5 0.8h0m7.3 1h0m6.9 -0.8h0m23.2 -0.1h0m8.7 0.4h0m35.2 -0.6h0m27 -0.3h0m6.9 1.5h0m3 0.9h0m-165.7 4.7h0m84.6 -1.4h0m2.5 -0.9h0m13.6 -0.2h0m7.6 2.5h0m2.3 -3.7h0m15.8 0.2h0m1.8 4.5h0m6.3 -4.4h0m1.3 1.5h0m8.3 0.3h0m11.8 -1.9h0m6.8 3.4h0m0.1 -3.5h0m4.3 3.8h0m-169.7 6.6h0m7 -1.5h0m4.3 1.8h0m37.4 -1.5h0m27.8 1.2h0m10.7 -0.9h0m40.9 1h0m3.1 -1h0m1.3 -2.9h0m7.1 4h0m10 -0.3h0m-156.1 1.5h0m8.8 3.2h0m16.3 -1.5h0m45.7 2.7h0m34 0.1h0m3.3 -0.2h0m12.8 -4.5h0m4.6 3.3h0m3.2 0h0m8.1 1.5h0m6.7 -2.3h0m16.4 -0.7h0m5 -0.7h0m5.3 3.1h0m14.8 -2.9h0m5.9 -1.3h0m1.4 1.2h0m7.8 1.2h0m-208.2 6.3h0m18.3 -0.7h0m46 -1.4h0m48.5 -0.7h0m2 3.5h0m2.4 0.8h0m9.1 -3.7h0m5.1 3.9h0m11.7 -1.2h0m22.9 -0.5h0m6.9 -1.6h0m2.2 -1.3h0m2.3 5.2h0m18.6 -4.2h0m10.9 0.4h0m-194.1 6.3h0m49.7 2.6h0m32.2 -0.2h0m4.8 -2h0m6.8 -2.2h0m9.7 5.6h0m6 -1.3h0m0.6 1.3h0m7 0h0m0.2 -4.5h0m13 2h0m21.3 0.4h0m7.3 0.8h0m1.9 -1.2h0m2.1 -0.1h0m5 -2.2h0m11.8 3.8h0m1.5 -0.8h0m-200 4.3h0m2.3 -1.5h0m0.4 2.1h0m4.3 2.4h0m14.2 -5.3h0m4.3 5.3h0m3.8 -4.6h0m5.8 4.9h0m26.3 -3.6h0m0.4 3.1h0m28.3 0.5h0m12.7 -0.7h0m7.9 -4.1h0m5 1.7h0m10.4 0h0m4.3 1.8h0m4.8 -2.3h0m9.5 0.6h0m11.5 3h0m0.6 -5.1h0m3.6 4.5h0m1.3 -1.9h0m8.5 1.6h0m14.6 -4.3h0m19.6 1.7h0m2 -0.9h0m0.3 3.5h0m13.5 -1.5h0m1.1 -2.5h0m3.7 1.3h0m-225.5 7.6h0m4.4 -2.8h0m5 0.2h0m0.3 2.1h0m1.7 1.1h0m7.1 1.2h0m2.8 -1.5h0m4.3 1.9h0m5.4 -4.6h0m74.5 -0.5h0m6.2 5.3h0m8.9 -2.8h0m11.3 1.8h0m15.9 -3.8h0m13.4 4.2h0m5.3 -0.3h0m1.6 0h0m2.3 -1.7h0m18.5 -2.9h0m5.1 0.1h0m19.9 3.3h0m-213.7 6.6h0m3.3 -4.1h0m2.1 4.2h0m0.3 -2.1h0m4.5 0.3h0m5.4 1.6h0m1 -2.8h0m6.6 3.5h0m2.7 -0.7h0m1.2 -2.6h0m8.5 0.9h0m19 2.3h0m37.6 -0.2h0m32.9 -2.8h0m37.8 3.3h0m30.3 -1.4h0m23.3 -0.1h0m3.8 0.2h0m0.3 -1.3h0m3.4 2.5h0m2 -3.5h0m4.3 3h0m-212.4 1.8h0m42.9 2.6h0m1 -2.4h0m18.3 0.7h0m16.6 -1.1h0m9.9 3.4h0m4.5 -0.2h0m17.9 0.3h0m31.9 -2.7h0m10.1 1.2h0m1.5 1.1h0m3 1.3h0m3.7 -3.3h0m37.5 -0.8h0m8.6 1.9h0m1 3.1h0m-228.5 6h0m7.3 -2.2h0m4.6 -1.2h0m47.4 2.2h0m33.2 -4.3h0m13.6 1.5h0m14.3 0.3h0m2.1 3.8h0m3.9 -2.3h0m11.8 -1.4h0m4.3 0.1h0m28.1 1.2h0m11.1 -3.2h0m24.9 5.5h0m3.6 -1.2h0m4.1 -2.8h0m8.7 0.1h0m9.4 0.2h0m-231.5 6.8h0m13.2 0.2h0m0.4 2.4h0m13.6 -1.1h0m0.2 -1.5h0m1.8 -0.6h0m9.9 2.6h0m12.9 -0.6h0m8.6 -2.2h0m24.3 3.7h0m11 -1.2h0m4.8 -4.4h0m4.4 0.4h0m8.6 4.4h0m12.4 -1.7h0m0 1.9h0m21.8 0.1h0m0.6 -4.5h0m2.7 -0.6h0m4.5 4.7h0m6.6 -4.4h0m0.5 4.4h0m1.2 -2h0m2.3 2.5h0m5.9 -0.1h0m16.1 -0.7h0m1.5 -2.7h0m18.6 3.8h0m10.9 -4.5h0m8.1 2.1h0m-228.3 4.6h0m2.8 2.6h0m25.3 -3.8h0m4.7 2.2h0m61.2 -0.9h0m14 0.2h0m0.5 3.9h0m16.1 -4.5h0m1.8 -0.1h0m18 4.5h0m0.6 -2.3h0m2.3 2.4h0m35.3 -5.2h0m10.1 0.5h0m2.9 1.8h0m1.9 -1.6h0m13.4 -0.5h0m8.5 4.7h0m6.5 -4.5h0m1.8 0.2h0m3.9 1.8h0m-220.4 5.1h0m5.5 3.7h0m10.9 -2.4h0m19.2 -2.2h0m20.2 -0.9h0m13.6 4.2h0m4.2 -2.3h0m44.7 -0.4h0m4.1 -0.1h0m2.3 0.6h0m4.6 2.4h0m11.8 -4.4h0m26.5 4.1h0m7.3 -0.2h0m4.2 1.6h0m5.9 -1.8h0m4.3 -2.4h0m1.9 0.5h0m0.7 1.6h0m1.7 -2.1h0m16 -1.6h0m1.8 5h0m4.7 -0.6h0m4.9 -1.7h0m-231.6 7.8h0m1.5 -1.2h0m16.9 -0.5h0m1.5 1.7h0m9.1 1.1h0m44.9 -5.4h0m12.9 2.6h0m9.7 0.4h0m1.3 0h0m5.6 -1h0m2.7 1.4h0m0.8 -0.9h0m5 1.7h0m5.7 -3.9h0m11.2 1.9h0m3.8 0.3h0m5.3 0.9h0m18 -1.5h0m19 0.9h0m18.5 -0.1h0m4.5 -2.8h0m20.9 2h0m-211.8 9.2h0m1.4 0.2h0m18.7 -2.3h0m22.3 -1.5h0m80.9 2.7h0m4.4 0.8h0m0.9 -1.3h0m2.1 -2.1h0m3.8 -0.3h0m46 0.4h0m4.4 -1.2h0m16.6 0h0m5.6 3.2h0m3.3 -2.4h0m-215.1 6.3h0m4.1 1h0m11.7 -0.3h0m9.2 0.4h0m14.3 0h0m20.8 -1.3h0m29 2.4h0m33.2 -1.8h0m4.3 -1.4h0m2.5 1.7h0m4.1 0.5h0m16.1 -2.9h0m23 0.3h0m13.2 4.8h0m15.6 -3.2h0m6 2.2h0m6.9 -2.5h0m6.4 2.1h0m4.5 1.3h0m-225.4 3.6h0m5 0.1h0m13 -2.2h0m28.7 0.6h0m8.2 3.9h0m26.2 -4.2h0m41.5 2.6h0m1 0.5h0m0.8 -3.6h0m33.9 1.3h0m2.5 0.9h0m2.5 -1.8h0m23.5 2.4h0m1.8 2h0m5 -0.3h0m11.2 -3.8h0m2.5 4.5h0m2.7 -2.3h0m8.8 -2.2h0m-211.1 5h0m10.1 2h0m12.1 1.8h0m45.7 0.9h0m18.5 -3.2h0m4.2 -1.3h0m18.9 5.5h0m1.8 -1.6h0m1.4 -2.8h0m15.9 1.1h0m10.6 -1.3h0m7 0.1h0m2.9 2.3h0m54.7 0.9h0m10 -0.6h0m4.2 -3.6h0m4.2 4.3h0m-190.5 5.7h0m0.3 -3.9h0m4.4 4.8h0m2.4 -2.4h0m16.2 0.4h0m46.1 -2.4h0m25.1 1.8h0m24.9 2.5h0m20 -2.6h0m2.4 -1.5h0m8 1.5h0m2.5 1.1h0m3.2 -2.7h0m0.2 2.5h0m9.7 -1.5h0m9.7 2.4h0m2.2 -1.2h0m-219.5 8.2h0m0.4 -1.9h0m4.9 2.3h0m9.2 -2.6h0m1.4 0.5h0m5.2 -1.9h0m14.7 1.5h0m1.3 1.1h0m7.1 -0.1h0m16.1 -1.3h0m17 0.8h0m51.5 -0.6h0m3.1 -1.8h0m6.3 4.4h0m6.9 -0.3h0m5 -1.4h0m35.9 -0.2h0m0.1 1.9h0m5.2 -3.7h0m0.6 0.9h0m1.7 -1.3h0m2.4 -1h0m1.5 0h0m7.5 0.6h0m1.9 2.7h0m0.6 -2.6h0m4.8 2.7h0m5.2 -2.7h0m2 0.6h0m2 -1.1h0m-213.9 8.9h0m0 -2h0m8.5 -1.3h0m2.6 4.6h0m4.3 -2.9h0m3.4 3.2h0m7.9 -2.3h0m12.5 -1.5h0m11.4 2.3h0m44.1 -1.5h0m2.2 -0.6h0m6.6 3.1h0m6.1 -4.1h0m0.4 2.2h0m6.7 -0.6h0m7.5 0.1h0m7.3 2.3h0m1.7 -0.1h0m4.8 -2h0m21.2 2.4h0m2 -0.3h0m12.6 -1.9h0m25.9 0.2h0m3 -0.9h0m1.6 3.2h0m3.3 -5.3h0m8.2 2.8h0m7.9 1.2h0m0.9 0.4h0m-222.1 2h0m8.5 0h0m16.5 2.5h0m9.9 -2.3h0m28.5 -0.5h0m15 5.4h0m42.8 -1.8h0m16.9 -3.1h0m16 -0.1h0m10.6 4.3h0m1.4 -4.2h0m2 0.8h0m5.9 -1.3h0m10.3 1.2h0m12.8 1.3h0m6.4 -2.6h0m7.2 5.5h0m-213.8 2.7h0m4.6 1.6h0m4.9 0.3h0m6.4 -4.2h0m15.1 4.9h0m9 -0.8h0m4 -1.9h0m50.8 -1.9h0m27.2 1.2h0m5 4.2h0m4.4 -1.5h0m2.5 1.5h0m2.1 -4.3h0m22.7 -0.2h0m4.9 2.4h0m4.7 -1.8h0m0.4 1.9h0m10.5 0.3h0m16.7 0.4h0m3.1 -4h0m16.1 1.3h0m8 1.7h0m-229.9 7.7h0m1 -1.6h0m3.8 -3.1h0m0.9 3.9h0m1 -3.8h0m5.7 0.3h0m22.9 2.3h0m8.2 -2h0m57.6 0.2h0m8.9 3.5h0m31.4 0.1h0m2.2 -2.3h0m20 -2.6h0m13.2 4.4h0m8.4 -2h0m30.9 2.7h0m0.7 -1.8h0m1.9 -1.1h0m6.8 3h0m1.7 -2.7h0m-226.7 7.5h0m7.4 -2.1h0m9.3 2.4h0m31.3 -0.2h0m57.3 -0.3h0m16.3 0.5h0m2.3 -3.4h0m9.3 -0.3h0m18.8 1.1h0m20.1 -0.1h0m3.2 -0.7h0m1.6 4.9h0m4.9 -2.5h0m15.2 -1.6h0m9.9 -1.2h0m2 4.6h0m0.9 -3.5h0m2.4 4.3h0m3.7 -3.1h0m-176.9 7.1h0m47.5 1h0m37.3 -0.8h0m0.4 -2.3h0m4 3.3h0m10.4 0h0m8.1 -3.4h0m4.8 -0.1h0m3 -0.9h0m13.2 4.3h0m2 0h0m5.7 -4.4h0m7.8 1.9h0m17.1 2.8h0m4.5 0h0m2.4 -3.1h0m0 -2.1h0m4.6 2h0m3.8 -2h0m-98.6 8.3h0m2.4 -1.4h0m2.3 0.5h0m14 4.4h0m4.1 -0.4h0m5.7 -1.5h0m8.7 1.7h0m15.9 -4.4h0m9.3 0.3h0m3.9 -0.3h0m3.5 3.4h0m1.7 -3.6h0m4.6 -0.7h0m11 2.4h0m7.1 -0.5h0m-88.8 5.7h0m6.9 -1.1h0m45.9 -0.8h0" stroke="#c09aa3" stroke-width="1.9" stroke-linecap="round" fill="none"/><path d="M0 0m44.1 2.8h0m40.4 -2.1h0m29.7 1.1h0m4.1 -0.2h0m11.2 -0.1h0m18.9 1.2h0m22.7 0.1h0m9.2 -2.3h0m7.2 1h0m4.2 0h0m7.3 -0.2h0m-180.2 7.4h0m22.1 -4.5h0m59.7 4.6h0m8.4 -3h0m4.7 1.7h0m9.3 -3.3h0m2.5 4.6h0m5.2 -2.8h0m8.4 2.3h0m2.3 -2.7h0m2 2.8h0m14.8 -1.1h0m22.2 -4h0m3 4.4h0m2.4 -4.6h0m0.1 4.8h0m13 -4.4h0m2.2 3.8h0m-184.6 5.2h0m5.4 -2.3h0m11.2 2.8h0m2.3 -2.4h0m59.7 0h0m6.6 1.7h0m17 2.2h0m9.5 0.3h0m17.2 -5h0m18.5 2.2h0m4.3 -2.2h0m28.3 5.2h0m0.3 -4.9h0m-175.7 9.1h0m67.6 -3.8h0m23.2 4.4h0m3.5 0.2h0m4.8 -2.4h0m4.6 -2h0m4.4 1.7h0m1.2 -2.2h0m1.6 1.5h0m2.6 0.8h0m0.3 -1.7h0m4.2 1.2h0m1.6 -0.3h0m3.5 0.3h0m13.9 -1.4h0m4 0h0m3.2 4h0m7.9 -0.4h0m6.6 0.7h0m1.2 -2.8h0m5 2.5h0m2.2 -2.1h0m12.8 -0.8h0m3.2 -1.1h0m3.6 2.1h0m-189.9 9h0m3.2 -5.3h0m3.3 2.8h0m1.8 1.6h0m21.1 0.8h0m6.6 -4.2h0m48.1 2.4h0m5 1h0m36.3 0.7h0m2.6 -4.4h0m0.5 4.8h0m2.1 -0.1h0m2.7 -4.8h0m4.3 4.5h0m1.4 0.2h0m5.3 -5.3h0m13 0.7h0m2.9 0.3h0m0.9 2.7h0m1.8 -3.1h0m1.8 4h0m11.2 0.5h0m17.1 -2.2h0m5.9 -0.6h0m0.2 2.8h0m-193 5h0m3.1 -0.4h0m3.6 -0.4h0m3.1 -1.8h0m38.5 0.5h0m20.2 1.6h0m2.8 -2.7h0m1.8 -1h0m4.9 2h0m9.1 -1.1h0m2.3 2.7h0m6.9 -1.8h0m14.9 1.3h0m1.7 0.8h0m25 0h0m3.1 -0.5h0m1.4 -2h0m5.1 2.5h0m27.5 -2h0m7.2 -0.6h0m15.8 -0.3h0m2.1 0.5h0m-220.4 5.3h0m7.3 -0.9h0m9.2 4.8h0m6.5 -0.3h0m20.2 -0.1h0m25.9 -0.4h0m27.5 -1.2h0m9 -2.6h0m1.8 5.4h0m9.3 -4.9h0m21.5 1.9h0m10.6 0.2h0m0.6 1.6h0m1.9 0.6h0m7.4 0.2h0m6.9 -2h0m11.7 -0.6h0m4.4 2.6h0m13.9 -0.8h0m16 -3.4h0m0.2 4h0m7 -4.3h0m-217.3 7.9h0m5.1 3.3h0m29.6 -4.6h0m12.5 4.3h0m1.3 -2.9h0m2.9 -0.8h0m36.1 1.1h0m6.7 -0.1h0m3.5 2.4h0m7 -1.8h0m2.4 -2.4h0m10.9 0.5h0m2.4 4.3h0m11.9 -2.6h0m4.7 1.9h0m22.6 -0.9h0m2.2 -3.2h0m2.5 1.7h0m3.7 2.2h0m0 -3.7h0m3.3 0.6h0m7.1 -1.6h0m10.1 0.8h0m3.2 2.1h0m2.7 2.3h0m14.7 -2.2h0m14.5 2.5h0m-218.7 4.8h0m6.3 -0.2h0m35.3 -2h0m34.9 -0.2h0m24.6 -1.9h0m6.8 3.4h0m13.8 -1.6h0m2.5 1.9h0m4.1 -1.9h0m3.3 2.7h0m2 -2.2h0m2.3 -0.1h0m2.5 0.1h0m3.8 2.2h0m33 -3.5h0m3.7 4.5h0m4.6 -2.1h0m5.2 2.2h0m1.7 -1.1h0m3.8 -1.3h0m10.1 0.5h0m0.9 -2.5h0m1.5 3.2h0m3.2 -4.4h0m-132.2 6.3h0m2.9 0.1h0m11.5 4.9h0m20.8 -0.3h0m18.4 0.2h0m2.9 -2.2h0m10.5 -0.6h0m7.2 -2.6h0m25.2 1.2h0m19.1 3.5h0m1.7 -2.4h0m0.7 -2.2h0m4.7 5.3h0m3.3 -0.4h0m10.4 -1.7h0m6.8 -2.9h0m-227.5 10h0m89 -0.6h0m9.1 -0.8h0m5.5 -1.9h0m1.7 2.8h0m2.9 -0.3h0m0.9 0.5h0m2.2 1.2h0m8 0.2h0m2.2 -4.5h0m6.4 4.3h0m5.1 -2.1h0m2.1 0.3h0m14.4 1h0m1.2 -3.7h0m28 2.3h0m0.7 2.2h0m4.1 -4.6h0m20.3 1.2h0m-209.7 8.6h0m5.4 -0.1h0m4.3 -4.3h0m96.3 3h0m14.5 -2.5h0m52.2 0h0m2.5 1h0m8.7 0.9h0m4.9 0h0m9.8 -1.7h0m13.7 1.3h0m1.8 3.3h0m-199.9 0.7h0m4.6 2.9h0m71.3 -0.3h0m22.5 2.4h0m3.2 -4.6h0m4.1 2.6h0m1.9 1.8h0m19.4 -3.8h0m17.4 0.5h0m7.5 3.5h0m1.8 -4.8h0m2.8 2.3h0m5.1 -2.1h0m4.9 2.6h0m4.7 0.1h0m1 1.7h0m0.1 -1.7h0m11.9 0.6h0m3.9 -1.3h0m11.6 -2.3h0m5.2 2.3h0m-188.9 7.4h0m36.7 0.8h0m7.4 -3.6h0m32.8 1.6h0m8.3 0.8h0m4.2 1.2h0m7.8 -3.6h0m8.2 3.8h0m10.7 -0.9h0m2 -2.8h0m29.2 0.9h0m8.8 -0.6h0m5.1 -0.2h0m16.9 3.2h0m7.8 -1.1h0m4.9 -0.7h0m3.5 -1.3h0m-209.3 9h0m13.6 -4.4h0m66.1 0.3h0m13.3 0.9h0m10.5 1.3h0m17 -1.6h0m10.2 1.8h0m3.9 1.9h0m0.4 -4.8h0m18.4 3.7h0m14.1 1.4h0m2.4 -4.6h0m1.2 4.1h0m4.6 0.4h0m5.1 -2.6h0m0.8 3.3h0m6.2 -0.4h0m13.3 -2.4h0m4.4 -0.2h0m7.8 0.8h0m1.8 -3h0m-218.8 6.2h0m7.3 4.7h0m14.6 -3.8h0m26.3 2.6h0m20.7 -4.2h0m15.1 1.7h0m43.4 1.7h0m8.3 -2.4h0m2.4 4.6h0m1 -4.1h0m26.5 0.9h0m0.6 1.8h0m7.7 1.8h0m9 -0.2h0m10.2 -3.6h0m7.9 2h0m-201.9 4.7h0m2.2 -2.4h0m17.7 1.3h0m5.2 -1.4h0m11.4 4.4h0m4.9 -2.7h0m17.3 0.1h0m20.8 -2h0m23.2 0.1h0m14.1 -0.2h0m6.3 4.7h0m9.5 0.6h0m11.7 -4.9h0m8.9 4.1h0m35.1 0.9h0m0 -4.9h0m10.3 -0.5h0m3.7 1.6h0m2.3 3.6h0m-214.8 1.4h0m11.4 0.2h0m5.6 0.2h0m11.4 0.6h0m90.7 1.3h0m26.2 1.1h0m8.5 1.2h0m2.6 0.3h0m28.5 -4.2h0m3.2 4.5h0m8.2 -5.6h0m15.5 4.6h0m4.7 -0.8h0m2.1 -0.9h0m13.7 1.7h0m-232.4 6.1h0m7.7 -1.1h0m20 -2.8h0m33 1.4h0m48.5 2.4h0m8.5 0.9h0m9.8 -1.9h0m7.8 -3.5h0m5.4 -0.3h0m11.2 4.6h0m28.4 0.2h0m1.6 -1.5h0m13.8 -1.8h0m2 2.4h0m1.1 -1.8h0m7.9 0.3h0m0.1 1h0m5 2.4h0m5.1 -2h0m0 -1.7h0m2.1 3.5h0m-212.3 2.8h0m2.4 0.6h0m7.8 0.1h0m1.5 -1.2h0m64.4 -1.2h0m4.9 4.9h0m25.6 0h0m9.8 -2.3h0m3.8 -0.5h0m11.7 2.3h0m17.9 -2.5h0m0.2 2.2h0m2.7 -0.3h0m4.1 -0.1h0m13.4 -2.3h0m1.4 -1.5h0m8.5 4.6h0m27.4 0.3h0m1.8 -3.4h0m5.2 3.1h0m-213.5 4.3h0m16.2 0h0m8.6 2.2h0m7.6 0.1h0m6.8 -2.6h0m2.1 1.3h0m57 -3.6h0m4.5 2.6h0m28.5 0.2h0m4 1.8h0m21.5 -1.8h0m7.7 -0.6h0m16.9 0.5h0m14.5 0h0m1.3 2h0m12.3 -1.2h0m10.4 -0.5h0m-213.9 2.1h0m126.7 1.9h0m7.3 2.1h0m8.7 1.1h0m2.1 -0.7h0m14.4 0.7h0m9.2 -4.5h0m2.9 2h0m3.3 -1.9h0m0.3 3.3h0m1.9 -1.4h0m3.8 -2h0m0.8 1.3h0m21.9 3.1h0m1.4 -0.1h0m5.8 -0.3h0m-224.3 2.5h0m0.4 4.3h0m23.4 -2.5h0m6.4 0h0m11 -1.4h0m3.3 1.5h0m67.1 0.6h0m7.8 -3.4h0m9.4 2.2h0m7.9 1.1h0m10.3 2.2h0m41.9 -5.3h0m0.8 5.1h0m4.5 0.2h0m16.2 -2.2h0m9 -3.2h0m3.5 0.3h0m10.1 1.8h0m-226.2 3.6h0m3 -0.1h0m4.2 1.5h0m60.4 -0.2h0m27 3.3h0m0.9 -3.2h0m18.4 2.7h0m4.5 -2.4h0m15.9 -0.5h0m6.5 2.6h0m37.4 -0.3h0m2 -1h0m2.1 -0.9h0m2.7 0h0m16.3 1h0m9 -1.5h0m6.6 3.4h0m-223.1 2.6h0m4.2 1.3h0m5.3 2.5h0m4.4 -2.4h0m0.1 1.8h0m0 -4.2h0m6.1 0h0m5.8 0.7h0m13.8 1.4h0m1.3 -1.2h0m32.5 4.8h0m7.2 -0.7h0m25.2 -0.1h0m4.4 -2.5h0m6.6 -1.8h0m2.4 0h0m5.4 2.6h0m55 2.5h0m0 -4.9h0m6.2 4.4h0m7.7 -0.6h0m11.6 0.3h0m5.8 0.2h0m-202.4 2.4h0m27.9 -0.3h0m32.7 -0.6h0m38.4 5.3h0m6.7 -1.7h0m12.2 1.2h0m1.5 -1.4h0m14.6 1.7h0m5.3 -2.4h0m5.4 -2.5h0m5.3 2h0m12 0.1h0m22.3 0.9h0m3.2 -2.7h0m23.9 4.1h0m-211.7 3.7h0m2.6 1.1h0m0.6 -1.4h0m15.6 -0.7h0m85.2 -1.7h0m28.6 3.5h0m4.1 0.6h0m13.2 -4.2h0m0.8 1.5h0m7 1.1h0m6.5 -2.4h0m1.4 2.1h0m3.8 0.4h0m4.4 2h0m22.1 -3.2h0m11.1 0.6h0m10.8 2.9h0m-219.3 2.1h0m5.3 -1.2h0m1.1 2.6h0m0.9 2.5h0m8.4 -0.1h0m4.2 -4.6h0m6 0.2h0m41.3 1.7h0m5.7 2.5h0m6 -3.5h0m38.8 -1.2h0m12.8 0.7h0m9.9 3.8h0m1.4 -4.5h0m12 3.4h0m11.3 -3.1h0m9.5 4.8h0m10.1 -0.3h0m4.1 1h0m4.5 -0.3h0m17.7 -3.1h0m5.2 2.3h0m-214.4 2.6h0m9.9 -0.1h0m128.6 0.4h0m60.3 -1.5h0m2 1.7h0m11.6 -1.9h0" stroke="#c8a6ad" stroke-width="1.9" stroke-linecap="round" fill="none"/><path d="M0 0m63.1 2.9h0m42.3 -1.5h0m3.8 1.5h0m0.4 -1h0m17.4 -0.3h0m4.8 -1.3h0m8 1.5h0m11.5 -1.4h0m-126.9 7.7h0m9.8 -0.6h0m6.4 0.1h0m26.8 0.3h0m12.2 -2.6h0m5.9 2.4h0m19.9 1h0m6.9 -5.4h0m6 4h0m0.6 -4h0m9.3 0.3h0m4.3 -0.2h0m2 1.8h0m10.8 -2.1h0m2.8 4.6h0m2.1 0.1h0m2 -0.5h0m0.9 -1.1h0m6.6 2.2h0m29.4 -3.1h0m8.3 0.7h0m2.3 -0.3h0m7 2.3h0m-189.9 2.8h0m6.8 1.6h0m3 0.8h0m31.7 -1h0m27.6 1.1h0m25.4 -2.6h0m3 4.1h0m0.2 -4.8h0m2.4 0.2h0m6.6 2.1h0m2.4 -1.4h0m3.6 2h0m5.4 0h0m20.7 1.7h0m13.7 -0.2h0m10.5 -0.1h0m4.9 -1.2h0m3.3 -3.5h0m1.9 2.8h0m10.8 0.6h0m3.4 -2.8h0m0.2 2.1h0m9.9 2.1h0m-199.6 5h0m19 -1.9h0m1.3 -0.3h0m5.5 0.7h0m20.8 -1.2h0m4.2 0.5h0m31.7 0.5h0m1.4 -2.2h0m4.7 1.4h0m13.3 -1.2h0m50.7 1.1h0m1.5 1.1h0m5.6 -0.2h0m20.3 -2.5h0m2.3 2.6h0m4.1 2.5h0m9.8 -0.6h0m2.1 -3.3h0m1.6 3.3h0m-199.8 5.3h0m16.5 -2.5h0m29.4 -0.6h0m39.3 4.3h0m8.9 0.4h0m8.9 -2.3h0m1 1.6h0m7.3 -4.6h0m5.6 2.1h0m12.3 -0.8h0m9.3 3h0m9.3 -1.5h0m8.5 0.5h0m18.8 0.3h0m2.1 -0.6h0m2.4 -1.8h0m1.6 3.5h0m11.6 0.3h0m0.7 -4.7h0m6.2 5.1h0m5 -0.5h0m2.8 -2.1h0m1.3 0.4h0m-195.4 6.6h0m39.3 0.7h0m37 -2.7h0m12.5 1.6h0m1.8 -0.4h0m8.6 -1.2h0m1 2.2h0m4.1 -2.2h0m1.8 -0.7h0m2.8 4.3h0m4.5 -0.1h0m1.5 -1.5h0m1.3 1.4h0m31.1 -4.3h0m19.7 4.6h0m2.1 -1.2h0m1.1 0.1h0m5.5 -4.6h0m4.4 1.9h0m13.3 2.5h0m4.3 -2.8h0m-216.1 6.5h0m7 -1.3h0m11.9 1.8h0m6.6 -1.7h0m6.9 -0.2h0m26.5 2h0m27.6 0.6h0m8.4 -2.6h0m9.8 4.6h0m8.7 -2.1h0m22.4 -0.9h0m3.3 2.5h0m1.3 -0.1h0m0.6 -1.5h0m6.5 2.1h0m0.7 -5.3h0m1.8 1.8h0m7.8 3h0m4.1 0.8h0m6.8 -3.1h0m2.6 2.8h0m38.7 -4.8h0m6.4 1.9h0m-216.3 7h0m14.1 2.1h0m9.1 -2.6h0m13.4 -2.5h0m49.3 0.8h0m11.7 -0.6h0m10.7 1.4h0m3.3 3.6h0m4.4 -4.8h0m1.4 4.9h0m12.5 -2.8h0m8.1 -1.3h0m1.2 2.3h0m33.8 -0.7h0m0.5 2.3h0m1.2 -2h0m25.4 1.7h0m0.5 -1.8h0m9.9 -2.1h0m5.8 1.5h0m1 -2.1h0m-225.5 7.2h0m14.1 1.9h0m1.4 -1.3h0m13.3 2.4h0m34.4 -0.2h0m25.4 0.5h0m8.2 -1.4h0m14.8 -1.9h0m7.5 2.5h0m4.7 -2.1h0m31.5 -0.3h0m9.6 -1.4h0m1 1h0m10.6 0.9h0m3.9 -0.8h0m1.5 2.8h0m16 -3.3h0m6.1 1.4h0m4.5 1.3h0m7 -2h0m-204.7 9.2h0m2.7 -1.7h0m16.7 -2.9h0m10.8 4.3h0m0.6 -2.6h0m35.8 3.5h0m13.4 -3.4h0m2.3 0h0m2.8 3.4h0m7.1 -4.9h0m2.1 -0.1h0m1 3.9h0m10 -1.6h0m3.6 0.5h0m6.1 1.8h0m13.9 -4.5h0m7.2 2.9h0m3.9 -0.9h0m7.6 2.5h0m7.5 -0.6h0m1.1 0h0m4.4 -3.5h0m5.9 -0.7h0m20.7 4h0m1.9 1.2h0m1.9 0.1h0m0.7 -3.4h0m0.2 -1.1h0m6.2 -1h0m3.9 2.6h0m-210.8 7.1h0m1.4 -1.9h0m7.6 3.5h0m5.4 -4.1h0m42.7 0.1h0m30.2 2.4h0m4 -1.8h0m3.4 -0.7h0m2.6 0.6h0m3.2 3.6h0m17.3 -2.2h0m22.5 0.4h0m2 0h0m2.5 -3.9h0m10.9 2.2h0m4.8 -1.3h0m9 0.5h0m4.9 -0.4h0m7.7 1.3h0m8 3h0m2.2 -0.9h0m4.8 -2.9h0m11.9 2.1h0m18.1 -2.1h0m-228 7.2h0m33.3 -1.9h0m8.3 -0.8h0m50.7 1.8h0m7.7 0.9h0m5.9 0h0m30.5 0h0m4.9 0.6h0m32 1.1h0m2.1 -3.9h0m10.1 1.8h0m3.2 -2.1h0m4.5 1.9h0m7.1 -1.7h0m14.6 4.6h0m4 -3.1h0m-218.1 4.8h0m2.6 -0.3h0m1.7 1h0m9.3 3.8h0m9.1 -3.5h0m62.8 1.9h0m8.5 0h0m2.2 0.2h0m0.3 -2.7h0m6.6 0.6h0m9.6 1.4h0m2.4 2h0m3.8 -1.5h0m9.5 0.3h0m1.8 2h0m23.4 -5.1h0m11.4 4.8h0m5.4 -4.5h0m23.1 -0.8h0m3.6 5.6h0m5.1 -4.9h0m21.1 2.8h0m1.8 0.2h0m-211.8 5.4h0m11.5 -2.1h0m9.6 0.6h0m4.9 3h0m65.9 -3.7h0m7.8 -1.2h0m13 4.2h0m2.3 -4h0m8.1 4.7h0m10.2 -3.5h0m4.9 4.5h0m4.6 -1.4h0m2.8 -2.2h0m12.9 -0.5h0m4.6 -0.5h0m3.6 1.1h0m13.9 0.2h0m6 3.2h0m7.7 -1.9h0m3.4 0.3h0m2.6 -3.8h0m8.9 1.8h0m6.8 -2h0m-229.2 6.5h0m1.5 -0.3h0m1.3 1.7h0m3.9 0.2h0m1.7 0.5h0m5.4 2.9h0m4.1 -5.7h0m4.6 0.8h0m14 -0.8h0m6.9 5.6h0m57.2 -5.3h0m30.7 0.2h0m5.7 0.4h0m10.7 2.4h0m1.1 -3.1h0m0.8 2.4h0m5 -1.3h0m1.3 1.6h0m8.8 1.7h0m5.6 0.6h0m6.4 0.4h0m3.2 -5.6h0m1.5 3h0m1.8 0h0m3.7 -1.8h0m22.5 1.5h0m-202.6 4.5h0m80.1 -0.4h0m29.6 0.2h0m3 1.2h0m2.9 -0.6h0m4.1 2.3h0m1.7 -3.2h0m11.6 4.8h0m18.4 -3.6h0m25.1 1.2h0m1.3 -1.2h0m3.3 2.2h0m7.1 0.2h0m0.5 -2.5h0m2.6 2.3h0m19.8 -0.4h0m-216.6 4.9h0m1.4 2.6h0m15.5 -3.1h0m8.8 2.3h0m4.6 -0.1h0m10.3 -4.3h0m54.5 3h0m6.2 -0.2h0m3.3 -0.5h0m13.5 2.5h0m38.7 -1.8h0m2.1 -0.3h0m5.1 -2.4h0m0.6 2h0m6.1 0.5h0m6.6 -1.1h0m7 -0.1h0m18.9 -1.2h0m5.4 -0.3h0m-212.1 9.9h0m6.8 1.5h0m8.6 -0.3h0m7.4 -2.6h0m0.1 -1.3h0m4.6 3.9h0m17.9 -4h0m51.4 4.5h0m19.7 -4.9h0m5.7 1.6h0m15.1 1.4h0m5.7 -0.6h0m4.7 0.5h0m3.3 1.8h0m5.8 -2.5h0m0.8 -0.1h0m4.9 2.4h0m0.1 -4.5h0m5.7 3h0m21.6 -2.9h0m12.1 1.7h0m0.6 2.7h0m5.9 -5h0m0.5 3.4h0m4.6 -3.3h0m0.6 4.4h0m4.3 1.1h0m11.1 -4.9h0m-228 6.6h0m15 -0.2h0m1.4 0.8h0m6.8 -2.2h0m4.5 0h0m5.5 4.5h0m3.4 -0.6h0m45.1 -4h0m21.5 1.5h0m29.9 0.6h0m2.7 1.4h0m9.3 0.3h0m2.6 0.4h0m4.6 -2.5h0m17.7 2.6h0m7.1 -3.9h0m22.6 3.7h0m3.7 0.4h0m5.9 -0.2h0m1.1 -2h0m1.9 0.4h0m9.7 -1h0m1.8 -1.5h0m1.9 3.5h0m-210.7 3.2h0m4.4 4.5h0m3.7 -4.2h0m7.7 -0.2h0m1.9 -0.2h0m23.1 0h0m64.4 -0.7h0m6.6 2.2h0m11.2 0.3h0m6.8 0.7h0m5.8 1.3h0m0.9 -1.5h0m21.5 1.3h0m5.4 0h0m1.2 0.2h0m7.8 -2.5h0m35.5 0.7h0m2.7 -0.1h0m2 2.3h0m-222.9 6.8h0m9.9 -4.3h0m29.4 0.8h0m0.8 3.5h0m49.3 -4h0m26.2 2.5h0m4.7 -3.2h0m16.1 3.1h0m4.5 0h0m9.4 -0.3h0m11.8 -3.1h0m7.9 4.6h0m6.7 -2h0m1.5 -2h0m7.8 2.2h0m2.2 0h0m14.3 -1.3h0m1.9 -0.7h0m3.6 0.3h0m4.6 3.7h0m-198.5 5.4h0m19.2 -3.1h0m7.9 -0.3h0m17 0.9h0m63.4 -0.8h0m8.2 0h0m10.5 -0.9h0m14.3 3.8h0m1.8 -2.5h0m12.3 2.7h0m4.6 -2h0m5.8 1.1h0m8 1.1h0m1.7 -4.8h0m0.5 5.1h0m4.7 -0.6h0m2.4 -0.4h0m13.2 -2.1h0m9.3 -0.1h0m3.9 -2.1h0m-227.8 9h0m0 -1.7h0m2.3 0h0m14 1.6h0m7 -1.2h0m25.3 0h0m0.9 1.2h0m51.7 0.3h0m17.2 1.5h0m25.7 -1.8h0m3.7 -1.2h0m4.4 2.4h0m6.5 -1h0m5.5 -2.4h0m0.3 2.1h0m1.2 2h0m3.6 -3.2h0m4.1 2.2h0m8.7 -1h0m1 3.1h0m7.7 -2.4h0m4.7 1.9h0m2.7 -2.2h0m12 -2h0m4.4 4.3h0m6.8 -1.6h0m2.6 -1.1h0m-221.1 4.8h0m10.9 0.7h0m2.8 -0.6h0m11.5 2.6h0m65.4 -2.9h0m14.5 0.3h0m13 -0.4h0m3.8 3.1h0m6.8 0.2h0m5.3 1.1h0m11.7 -5.4h0m4.6 3.1h0m1 0.8h0m11.9 0.3h0m2.4 -2.7h0m10.9 2h0m1 -1.3h0m22.1 2.3h0m6.9 -0.3h0m3.7 1.4h0m4.2 -2.2h0m0.4 -2.3h0m4.3 -0.2h0m4.7 2.4h0m3.3 1.2h0m-229.8 6.4h0m0.5 -4.3h0m18.3 1.6h0m6.7 0.2h0m32.5 0.5h0m54.9 -2.9h0m10.2 0.9h0m11.3 1.2h0m22.3 -1.9h0m11.9 3.8h0m0.2 -3.1h0m10.4 3.1h0m16.5 -1.9h0m4.2 -2.1h0m18.5 0.3h0m1.3 2.7h0m6.2 2h0m1.7 -4.2h0m-211.5 10.7h0m3.3 -2.3h0m37.8 -1.4h0m51.3 3.1h0m17.8 0.2h0m3 -4.4h0m9.9 3.4h0m4.2 -0.7h0m14.1 -1.6h0m8 -0.4h0m34.5 1.1h0m3 -0.9h0m6.8 -0.2h0m13.7 -0.8h0m2.3 -0.2h0m-223.2 8h0m3.2 -2.2h0m0.9 4.3h0m7.5 0.2h0m9.2 -3.4h0m5.1 3.5h0m9.4 -4.5h0m73.8 1.5h0m26.9 -1.8h0m0.1 1.9h0m6 -1.4h0m6 3.7h0m4 -1.7h0m0.2 -2.6h0m17.4 3.7h0m26.3 -2.4h0m-191.5 10.3h0m29.6 -3.3h0m39.8 2.8h0m32.5 -4.1h0m18.3 -0.6h0m2.1 0.2h0m2.3 -0.7h0m4.7 5.4h0m17.5 -0.1h0m1.2 -2.3h0m2.1 -2h0m9.3 1.5h0m6.2 0h0m6.5 1.3h0m12.7 1h0m21.8 0.2h0m3.1 -4.3h0m-112 5.4h0m20.6 0.8h0m15.9 0.3h0m1.2 -0.1h0m37.4 0.2h0m23.2 0.5h0m8.8 0.1h0m4.1 -0.4h0m8.2 -0.5h0" stroke="#c8a6ad" stroke-width="1.6" stroke-linecap="round" fill="none"/><path d="M0 0m144.5 0.8h0m1.1 0.2h0m7.8 -0.6h0m8.7 1.1h0m-135.4 3.8h0m2.6 3.2h0m5.9 0.2h0m34.6 -1.4h0m3.4 1.1h0m4.2 0.3h0m4.1 -4.9h0m0.6 4.3h0m13.8 -1.8h0m10.9 1.6h0m2.4 -0.2h0m7.3 -2.2h0m0 1.8h0m11.6 1h0m3.4 -0.9h0m4.9 -0.2h0m18.2 -1.5h0m0.9 -1.8h0m2.4 1.9h0m2 -1.9h0m18.7 5h0m0.3 -5.9h0m0 2.2h0m-160 4.6h0m17.5 3.5h0m24.2 -1.1h0m13.9 0.9h0m7.8 -2.3h0m12.3 3.4h0m0.3 -1.5h0m10.1 -2h0m1.9 3.9h0m14.4 -2.1h0m1.1 -1.5h0m10.1 -0.7h0m0.4 1.8h0m6.6 -0.9h0m20 -0.4h0m21.8 1.1h0m1.2 -1.2h0m2.6 -0.6h0m4.2 -0.4h0m18.9 2.7h0m-184.2 7.2h0m4.9 -3.9h0m8.3 2.3h0m12.4 1h0m5.2 1.1h0m24.1 0h0m18.6 -0.6h0m7.6 -4.2h0m0.1 1.5h0m20.5 0.5h0m4.3 1.5h0m2.9 1.5h0m1.9 -1.4h0m1.7 -1.2h0m9.4 0.2h0m2.2 0.2h0m11.5 -2.5h0m11.8 3.3h0m0.6 -3.3h0m6.4 4.3h0m4.1 -4.7h0m2.3 -0.1h0m0.3 2.4h0m6.8 0h0m8.6 -2.1h0m5.1 1.8h0m-196.9 5.2h0m6.4 -0.7h0m2.8 -0.1h0m15.4 3h0m8.7 -0.1h0m7.1 1.5h0m29.6 -4.5h0m8.1 0.9h0m7 1.4h0m8.7 3.2h0m2.5 -4.6h0m0.4 4.3h0m3.1 -5.5h0m4.8 3h0m5.7 -1.6h0m8.9 2.1h0m4.6 0.9h0m1.3 0.4h0m0.9 -4.6h0m3.9 3.1h0m2.6 -0.6h0m7 0.4h0m0.5 -2.9h0m8.5 2.4h0m11.9 -1.5h0m4.2 4.3h0m0.3 -3.9h0m11.2 1.9h0m13.5 1.5h0m26.5 0.3h0m-219 5.4h0m3.8 -3.8h0m5.9 3.2h0m25.5 1.6h0m44.8 -1h0m13.8 -2.6h0m7 -0.3h0m4.8 2.6h0m1.8 -4.4h0m16.9 4.7h0m10.6 -3.7h0m10 2.7h0m12 -2.9h0m18.2 0.9h0m2.2 3.9h0m13.8 -4.7h0m31.5 4.6h0m-226.6 4.6h0m11.2 -2.1h0m42.5 1h0m39.2 -2.7h0m3.7 2.8h0m2 2.4h0m9.2 -0.9h0m11.3 -1.3h0m9 -3h0m1.9 4.3h0m20.5 -3.7h0m5.1 0.9h0m10.1 1.3h0m7.9 -3h0m7.9 5.2h0m1.1 -4.7h0m3.5 1.9h0m2.2 -2.2h0m0.1 4h0m8.6 -4.4h0m3.2 4.5h0m1.2 1.3h0m18.4 -1h0m-217.6 6.3h0m16.3 -1.1h0m1.8 -0.6h0m9 -0.3h0m57.9 2.1h0m47.3 -4.3h0m5.4 0.1h0m11.9 -0.1h0m4.1 0.1h0m2.8 3.1h0m10.3 -0.4h0m4.4 0.2h0m3.5 0.4h0m2.3 -1.5h0m10.9 0.7h0m7 0.7h0m4.5 -2.4h0m0.6 1.6h0m1.4 -1.5h0m9.7 -0.7h0m7.3 2.3h0m1.7 -2.9h0m0.6 3h0m0.2 1.7h0m-217.6 1.3h0m26.3 -0.2h0m27.8 3.3h0m3.5 -1.6h0m39 0.2h0m7.4 1.7h0m15.5 1.9h0m1.1 -1.4h0m1.5 -1.5h0m25.4 2.1h0m9.2 -0.4h0m12.7 -2.2h0m11.3 2.6h0m1.4 -3h0m2 0.8h0m2.8 -1h0m4.8 2.1h0m14.4 -0.2h0m17.3 0h0m0.1 -3.7h0m-230.4 9.6h0m2.6 -0.8h0m3 -2.1h0m10.8 5.1h0m3.4 -0.7h0m15.8 -4.3h0m22.8 0.4h0m23.3 1.9h0m8.6 2.1h0m4.6 -4.8h0m8.6 2.3h0m9.9 2.8h0m11 -0.6h0m1.1 -2h0m4.1 2.4h0m7.1 -1.8h0m12.8 0.1h0m1.2 -2.5h0m5.8 -0.7h0m7.7 5.4h0m9.6 -1h0m3.7 -2h0m6.9 -0.2h0m6.7 -0.2h0m1.3 3.2h0m2.1 -0.1h0m1.5 -0.6h0m20.7 -1.4h0m0.9 -2.1h0m2.1 0.8h0m1.1 -0.8h0m3.7 1.7h0m-205.7 8.7h0m6.4 -4.6h0m31.5 0.7h0m26.4 1.1h0m4.4 -1.9h0m0.8 3.4h0m28.1 -3.4h0m15.5 2h0m37.4 2.6h0m4.5 -1.5h0m2.3 1.3h0m2.1 -2.4h0m3.9 -2.1h0m5.3 2.8h0m34 -2.9h0m5.2 3.1h0m0.3 -2.6h0m-219.7 7.5h0m20.9 -2h0m66.3 -0.7h0m17 4.4h0m9 -0.2h0m16.8 -2.2h0m22.6 1.1h0m0.4 2.2h0m1.2 -5h0m4.1 4h0m5.1 -2.2h0m11.3 -0.4h0m9.9 2.7h0m1.9 0.7h0m5.4 -2.7h0m1.3 2.3h0m7.6 0.2h0m2.4 -4.2h0m19.9 4.2h0m-218.1 3.5h0m6.2 -2.2h0m48.4 1h0m44.6 1.4h0m1.6 -0.2h0m1.3 -2h0m15.4 2.7h0m7.5 -2.7h0m2.2 3.4h0m3.3 1.1h0m9.8 -4.3h0m8.4 4.3h0m10.4 -3.6h0m10.5 2.7h0m7.9 -0.5h0m3.5 0.3h0m9.6 -3.2h0m16.4 -0.5h0m3.2 0.9h0m9.1 -0.4h0m-231.2 6.3h0m2.7 0.3h0m2.3 0.9h0m2.2 -0.9h0m23.4 0.9h0m30.2 -0.8h0m28.8 2h0m5.7 1.4h0m4.1 -4.9h0m9.8 4.5h0m4.7 -3.3h0m4.3 3.2h0m2.1 -3.2h0m1.6 3.6h0m2.8 -2.7h0m2.2 2.9h0m14.3 -2.5h0m11.7 2.5h0m0.1 -3.2h0m1.2 1.6h0m13.9 0.3h0m4.9 1.3h0m7.1 -4.6h0m14.1 4.3h0m4 -2.3h0m1.8 3.4h0m7.9 -3.9h0m10.6 3h0m2.9 -1.2h0m8.6 -1.6h0m-230 6.2h0m3.3 2.8h0m18.4 -3h0m4.6 2.9h0m4.3 -4.4h0m11.4 -0.4h0m62.3 4.6h0m15.9 -0.2h0m1.5 -3.5h0m2.8 2.3h0m1.8 -3.1h0m12.3 0h0m2.8 4.4h0m6.3 -2h0m7 2.9h0m9.4 -3.3h0m5.9 -1.8h0m2.5 2.3h0m3.3 -2.2h0m5.9 1.8h0m17.2 1h0m6.9 -1.3h0m1.5 1.2h0m1.8 1.1h0m1.3 -2h0m0.9 3.1h0m15.1 -0.8h0m4.5 -1.6h0m-231 6.8h0m2.5 -2h0m13.7 0.3h0m4.7 -1.3h0m11.8 3h0m5.2 -0.2h0m2.1 -1.8h0m23.4 -0.4h0m52.2 2.6h0m1.6 0.2h0m10.6 -3.3h0m13.6 0h0m31.2 3.5h0m8.8 -0.1h0m24.2 -0.7h0m1.6 -0.7h0m6.7 -1.9h0m12.7 -0.3h0m-224.2 9.2h0m8.9 -1.1h0m5.6 1.3h0m5.1 0.4h0m7.7 -4.6h0m7.5 0.6h0m0.3 2.5h0m34.4 1.4h0m16.3 -4.5h0m32.3 0.3h0m1.8 0.4h0m23.7 -0.6h0m10.5 2.8h0m2.2 1.3h0m11.3 -3.3h0m0.3 0.6h0m9.4 1h0m13.9 -0.6h0m21.4 1.3h0m1.8 -3.2h0m2.7 2.2h0m7.1 2.4h0m2.2 -1.9h0m1.3 1.3h0m-210.7 3.5h0m6.6 -0.5h0m7.1 4.8h0m11.5 -0.9h0m8.7 -3.3h0m38.8 4h0m3.5 -3.1h0m75.8 -1.8h0m4.6 3.1h0m2.2 -0.5h0m13.2 0.3h0m1.6 1.5h0m3.5 -2.3h0m1.9 -2.2h0m5.4 -0.3h0m3.5 2.6h0m4.3 -1.7h0m9.8 4.6h0m2.3 -2.5h0m-219.3 6.1h0m5 -1.7h0m2.5 0.8h0m1.9 -2.3h0m9.4 2.1h0m5.5 2.1h0m6.8 -4.4h0m13.6 1.2h0m3.8 4.6h0m62.8 -1.4h0m25.1 0.2h0m25.2 -4.4h0m6.9 5.5h0m0.8 -4.2h0m20.5 4.2h0m6.7 -3.7h0m7.3 -1.7h0m13.4 4h0m-215.6 4.9h0m1.2 -2.1h0m4.4 -0.8h0m9.8 -0.2h0m27.8 5.3h0m2.4 0.4h0m8.9 -3.1h0m6.4 2.9h0m14.4 -0.8h0m15.3 -4.7h0m34.5 2.5h0m9 2.8h0m5.9 -2.4h0m3.8 -2.1h0m5.4 3.6h0m7.1 -2.2h0m4.5 0.3h0m23 2.8h0m6.2 -1.9h0m4.4 2h0m3.1 -0.2h0m5.9 -2h0m2.3 0.1h0m3.3 -1.2h0m7.9 3.3h0m1.5 -2h0m-223.4 3.5h0m7.1 1h0m11 -0.5h0m20.9 0h0m22.6 1.6h0m2.8 1.1h0m2.4 -0.8h0m8.7 2.4h0m23 -2.7h0m29.4 -1.4h0m5.8 1.2h0m0.8 1h0m17.1 -2.4h0m3.7 0.5h0m18.9 1.1h0m5.1 1.2h0m6.6 -2.8h0m10.9 3.8h0m2.5 -0.9h0m0.3 -2.2h0m1.6 -1.2h0m28.2 3.3h0m0.6 -2.2h0m-225.3 8.3h0m6.4 -3h0m3.1 0.8h0m0.8 -0.5h0m19.8 3.3h0m64.3 -0.7h0m19.3 1h0m10 -0.7h0m22.3 -0.1h0m2.9 -4h0m7.3 -0.6h0m4.4 0.7h0m11.6 0.8h0m11.8 1.1h0m1.1 2.1h0m0.6 -4h0m8.4 -0.2h0m7.1 4.4h0m7.4 -2.3h0m11.6 1.3h0m-216.9 5.1h0m31 2.6h0m22.2 0h0m24.2 -3.9h0m19.5 -0.4h0m18.7 4.3h0m11.6 0.1h0m7.6 -4.8h0m15.3 0.3h0m11.4 3.7h0m15.8 -4.1h0m9.2 -0.4h0m2.9 1.3h0m6.8 -1.5h0m13.4 4.8h0m0.6 -1.1h0m1.8 -3.4h0m-218.3 8.8h0m18 1.2h0m2.1 -3.3h0m3.1 0.3h0m1.8 4.2h0m0.1 -5.6h0m80.8 3.6h0m14 0.4h0m1.6 0.4h0m7 0h0m2.2 -2.4h0m28.6 2.7h0m15.1 0.1h0m12.7 -0.6h0m3.7 -0.5h0m9.5 -2.4h0m1.9 -0.2h0m16.2 3.1h0m-217.8 4.8h0m3.6 1.6h0m0.8 -2.3h0m15.9 -1.1h0m7.1 1.8h0m15.2 -2.5h0m60.9 -0.2h0m27.2 4.9h0m0.6 -3h0m8.8 -2.1h0m4.5 4.5h0m4 -0.2h0m7.1 0.4h0m3.3 -2.8h0m13.5 -1.2h0m4.6 1.7h0m5 -2.3h0m5.4 4.2h0m3.8 -4.3h0m1.9 4.8h0m13.1 -2.8h0m0.5 -1.9h0m16.3 0.1h0m-225.2 6.5h0m1.2 4.7h0m2.7 -3.8h0m0.8 2h0m4.1 -0.8h0m1.5 0h0m7.8 -1.6h0m10.4 0.3h0m0.5 1.7h0m8.6 0.4h0m71.4 0.7h0m3.6 -0.3h0m2 -3.6h0m18.2 4.9h0m0.1 -1.9h0m1.4 -0.3h0m2.7 -0.3h0m18.8 1.4h0m5.2 -3.3h0m10.7 2.6h0m2.9 -0.3h0m8.8 -2.9h0m3.8 5.2h0m5.4 -4.9h0m6.1 4.4h0m12.2 -2.2h0m2.3 2.3h0m-209.1 1.4h0m4.8 -0.2h0m19.9 1.2h0m11.3 0.6h0m64.8 2.6h0m4.9 -3.4h0m6.8 1h0m4.9 2.4h0m15.2 -2.9h0m43.6 0.2h0m1.5 -1.5h0m4.1 1.1h0m4.6 -1.5h0m3.7 4.4h0m23 -1.8h0m2.5 2h0m0.4 -3.4h0m1.8 1h0m0.6 1.9h0m4.8 -2.2h0m-216.2 9.3h0m18.4 -4.9h0m6.1 0h0m9.2 5.4h0m57.5 -4.8h0m10.1 4.3h0m19.8 -2.2h0m12.3 -2.8h0m5.9 2.3h0m0.6 3.1h0m2.2 -5.8h0m2.9 1.5h0m2.6 1.1h0m10.2 0.8h0m17.4 0h0m10.6 -2.4h0m3 -0.7h0m4.2 0.1h0m4.3 2.7h0m9 2.6h0m4.8 -4.4h0m2.6 2.4h0m-211.3 4.2h0m100.4 0h0m4.3 -0.9h0m11.8 0.7h0m18.1 -0.2h0m34.7 0.1h0" stroke="#b7909a" stroke-width="1.6" stroke-linecap="round" fill="none"/></g></g><text x="73.8" y="156.8" font-family='"Liberation Serif", serif' font-size="22" fill="#000" textLength="151.1" lengthAdjust="spacingAndGlyphs">reference (tonsil)</text></svg><svg x="274" y="36" width="234" height="167" overflow="hidden"><defs><clipPath id="cTR"><path d="M25.7,0.0 L209.5,0.0 L210.7,1.2 L211.9,2.4 L213.1,3.6 L214.3,4.9 L215.5,6.1 L216.6,7.4 L217.7,8.7 L218.8,10.0 L219.9,11.3 L221.0,12.6 L222.0,14.0 L223.1,15.3 L224.1,16.7 L225.1,18.1 L226.1,19.5 L227.0,20.9 L228.0,22.3 L228.9,23.7 L229.8,25.2 L230.7,26.6 L231.5,28.1 L232.4,29.6 L233.2,31.1 L234.0,32.6 L234.0,142.0 L233.4,143.1 L232.8,144.2 L232.2,145.3 L231.6,146.4 L231.0,147.5 L230.3,148.6 L229.7,149.7 L229.0,150.8 L228.3,151.8 L227.6,152.9 L227.0,154.0 L226.2,155.0 L225.5,156.0 L224.8,157.1 L224.1,158.1 L223.3,159.1 L222.6,160.1 L221.8,161.1 L221.0,162.1 L220.2,163.1 L219.4,164.1 L218.6,165.1 L217.8,166.0 L217.0,167.0 L15.0,167.0 L14.2,165.8 L13.5,164.7 L12.7,163.5 L12.0,162.3 L11.2,161.1 L10.5,159.9 L9.8,158.7 L9.1,157.5 L8.4,156.2 L7.8,155.0 L7.1,153.7 L6.5,152.5 L5.9,151.2 L5.3,150.0 L4.7,148.7 L4.1,147.4 L3.5,146.1 L3.0,144.9 L2.5,143.6 L1.9,142.3 L1.4,141.0 L0.9,139.6 L0.5,138.3 L0.0,137.0 L0.0,36.5 L0.8,34.8 L1.6,33.1 L2.5,31.5 L3.4,29.8 L4.3,28.2 L5.2,26.6 L6.1,24.9 L7.1,23.4 L8.1,21.8 L9.1,20.2 L10.2,18.6 L11.2,17.1 L12.3,15.6 L13.4,14.1 L14.6,12.6 L15.7,11.1 L16.9,9.7 L18.1,8.2 L19.3,6.8 L20.5,5.4 L21.8,4.0 L23.1,2.7 L24.4,1.3 Z"/></clipPath><filter id="sTR" x="0" y="0" width="234" height="167" filterUnits="userSpaceOnUse"><feConvolveMatrix order="3" kernelMatrix="1 2 1 2 14 2 1 2 1" edgeMode="duplicate"/></filter></defs><rect width="234" height="167" fill="#e8ebe9"/><g clip-path="url(#cTR)"><g filter="url(#sTR)"><rect width="234" height="167" fill="#ecebf0"/><path d="M0 0m24.8 1.3h0m43 0.4h0m25.6 -1.2h0m6.4 2.5h0m42.4 -1h0m15 -1.4h0m-121.2 3.5h0m4.8 3.9h0m4.1 -2.7h0m7.3 0.8h0m4.6 2.6h0m8.2 -4.8h0m12 1.7h0m29.7 0.1h0m3.2 2.8h0m6.4 0.1h0m3.9 -5.3h0m11.5 5h0m13.6 -2.8h0m2.7 -1.6h0m5.3 1.8h0m10.4 0.3h0m25.5 -2.7h0m12.3 3h0m6.1 0.2h0m4.4 -1h0m-187.8 4.1h0m1.8 3.1h0m12.7 -2.7h0m14.7 3.1h0m5.6 -2.8h0m4.3 1.7h0m0.1 -2.1h0m11.1 0.8h0m36.4 -1h0m5.3 3.1h0m17.5 -0.3h0m3.1 -0.3h0m7 0.6h0m8.4 -2.1h0m0.7 2.2h0m38.9 -2.8h0m9.2 -0.4h0m0.9 5.2h0m-191 3.1h0m12.5 -1.2h0m14 -1.6h0m0.3 4.8h0m9.8 -5h0m1.5 1.9h0m2.1 0.7h0m3.1 0.4h0m6.4 -0.8h0m1.1 -1.8h0m2.3 4.1h0m29.2 -4.1h0m4.6 1.3h0m0.1 -1.6h0m11.3 2.8h0m0.7 1.5h0m12.5 -1.8h0m18.4 1.4h0m14.5 -3.7h0m7.1 1.9h0m4.4 -2.2h0m6.6 4.2h0m0.5 -1.9h0m2.8 2.9h0m20.7 -2.4h0m14.8 -2.4h0m5.2 4.7h0m2.4 -2.5h0m4.2 2.1h0m-211.9 4.7h0m16.6 -2.4h0m3 2.2h0m6.2 -3.1h0m0.1 5.7h0m2.8 0h0m3.4 -0.8h0m5.4 -2.6h0m0.1 3.5h0m1.5 -1.1h0m7.6 -4.7h0m6.9 3.1h0m8.5 1.8h0m14.8 -3.7h0m4.3 3.6h0m0.3 -4.3h0m15.4 2.5h0m7 -2.4h0m4.3 2.3h0m17 -1.7h0m5.6 4.1h0m10 0h0m3 -0.5h0m2.2 0.1h0m1.4 -1.7h0m0.2 1.5h0m2.7 -3.4h0m4.4 -0.8h0m16.1 4.4h0m2.5 -4.8h0m0.2 4.8h0m1 0.7h0m0.8 -2.5h0m6.3 -1.9h0m2.9 2.6h0m23.7 -3.1h0m1.6 0.5h0m-216.6 10.3h0m3.1 -4h0m4.1 3.9h0m10 -1.8h0m5.4 -0.2h0m1.6 -2.3h0m6.8 1.1h0m3.9 0h0m6.2 0.1h0m4.6 3.2h0m2.7 -5.6h0m7.7 4.3h0m14.1 -3.1h0m4 2.9h0m7.4 -0.1h0m4.5 -0.4h0m2.2 -1.3h0m13.4 1.6h0m12.2 -1.8h0m1.7 2.1h0m10.8 -4.2h0m4.9 1.8h0m5.6 0.4h0m20.2 -1.2h0m3.7 3.5h0m16 -2.4h0m10.5 3.6h0m6.9 -3.9h0m1 3.8h0m14.9 -5.5h0m1.8 1.4h0m1.7 2.8h0m3.7 -0.8h0m-222.1 5.9h0m2.4 0.9h0m2.7 -1.7h0m27.3 -1.6h0m1 4h0m6.4 -1.8h0m0.7 -2.3h0m1.8 4.7h0m0.4 -5.5h0m5.9 3.1h0m0.7 -2.1h0m11.8 -0.4h0m2.3 4.7h0m0.2 -4.9h0m21.4 4.8h0m16.6 0.3h0m4.5 -1.3h0m0.6 -2.5h0m6.3 0.9h0m30.6 -1.6h0m15.1 -0.8h0m22.1 1.8h0m0.8 -2.1h0m5.3 2.9h0m9.7 1.4h0m15.5 -3.9h0m9.5 -0.2h0m11 2h0m-216.1 8.9h0m4.5 -1.4h0m30 -0.2h0m2 -1.6h0m2.8 3.4h0m32.5 -0.2h0m4.7 -3.2h0m1.2 2h0m12.2 1.3h0m4 0.6h0m23 -5.2h0m1.5 2.7h0m5.2 -0.4h0m3.5 3h0m2.6 -4.6h0m12.4 2.4h0m7.1 -1.7h0m7.1 1h0m9.1 2.4h0m4.5 -1.6h0m21.3 -0.5h0m22.7 -1.9h0m2 -0.5h0m0.6 4.3h0m-213.7 2.6h0m9.4 -1.6h0m22 1.9h0m5.3 -0.3h0m9.2 0.3h0m38.9 2.1h0m11.9 0.6h0m36.2 -2.9h0m7.1 -0.4h0m1.7 3.1h0m1.2 1.4h0m5.6 -1.3h0m1.5 -3.3h0m1 3.6h0m25.2 -0.8h0m4.5 -4.1h0m9.8 1.5h0m1.9 3h0m2.1 0h0m4.6 -2.4h0m-217.6 5.1h0m10.6 4.7h0m15.3 -3.7h0m47.6 -1.6h0m4.8 0.3h0m5 0.4h0m8.4 -0.8h0m2.6 4.2h0m9.5 -4.2h0m6.2 -0.5h0m11 3.4h0m5.7 1.3h0m14.1 -3.9h0m1.9 2.4h0m9.1 2.4h0m9.5 0h0m9.5 -2.5h0m3.6 1.8h0m8.7 -1.8h0m30.2 0.5h0m0.8 1.5h0m3.7 -4.5h0m5.7 2.2h0m-219.1 7.6h0m34.5 -3.1h0m11.2 1h0m11.4 -0.2h0m7 -2h0m5.4 3.2h0m13.5 -1.6h0m4.1 0.5h0m7.5 -1.1h0m2.3 3.5h0m8.1 -0.9h0m7.2 0.4h0m2.5 -0.3h0m9.8 -0.5h0m6.3 1h0m7.5 -3.1h0m8.9 2.9h0m5.4 -1h0m3.4 -0.9h0m2.5 1.4h0m8.7 -1.6h0m3.7 -1.2h0m1.3 4.6h0m15.7 -4.1h0m0.8 -1.4h0m0.3 3.6h0m2.2 1.2h0m4 -3.3h0m5.3 0.9h0m0 2.2h0m8.5 -2.8h0m0.6 1.4h0m6.2 0.4h0m2.5 -2.1h0m-215.2 7.2h0m2.1 -0.9h0m4 -1.5h0m0.3 4.5h0m1.6 0.7h0m12.1 -5.1h0m13.4 4.4h0m29.4 -2.7h0m8.4 -1.2h0m10.8 1.3h0m9.7 0.4h0m4.6 -1.5h0m15.5 2.2h0m0.8 1.1h0m5.9 -1.3h0m20.7 -0.7h0m4.3 0.2h0m0.4 1.8h0m29.2 0.2h0m2.8 -4h0m2.5 -0.3h0m9 5.3h0m11.3 -1.5h0m0.1 -1.2h0m7 -1.8h0m0.9 1h0m11.3 1.2h0m-220.9 8.1h0m5.9 -4h0m15.4 2.5h0m3 -3h0m9.9 2.1h0m0.7 2.9h0m17.7 -5.5h0m1.6 5.4h0m2.3 -5.2h0m5.6 3.7h0m11.9 -0.5h0m1.9 -1.1h0m4.7 1.3h0m16.2 -0.6h0m3.7 0.5h0m11.9 -3.1h0m0.2 2.3h0m9.3 2.1h0m7.2 -1.5h0m9.1 -0.9h0m27.9 2.6h0m0.9 -1.4h0m16.5 -3.5h0m4.4 1h0m9.4 1.3h0m4.3 0.5h0m2.4 -2h0m1 4.6h0m1.3 -0.5h0m3.4 -4.5h0m3.6 2h0m9.8 -2.4h0m-228.7 8.2h0m8.4 -2.3h0m17.9 3.9h0m50.7 -4h0m18.3 3.6h0m50 -1.4h0m11.4 0.3h0m25.7 -2.8h0m4.8 1.5h0m14.2 -1.1h0m1.4 4.3h0m2.4 -2.5h0m17.9 -0.5h0m5.5 1h0m-227.8 5.4h0m3 -2h0m11.3 2.5h0m11 3.3h0m6.5 -2.7h0m26.4 0.3h0m4.3 -0.6h0m2.2 -2.8h0m24.8 0.4h0m16.4 4.7h0m2.5 -3.9h0m2.7 1.6h0m29.7 2.4h0m12.6 0.6h0m44.5 -1.4h0m2.8 1.1h0m6.9 -3h0m0.8 2.6h0m21 -2.9h0m0.5 -0.9h0m-215.8 5.8h0m2.1 3.4h0m29.1 0h0m6 -0.4h0m1 -2.5h0m0.9 2.5h0m5.8 -0.1h0m11.7 -0.6h0m1.3 -2.2h0m9.1 2.9h0m21.8 -0.5h0m1 -2.7h0m15.9 3.5h0m16.7 -1.4h0m1.9 0.5h0m7.3 -1.3h0m1.6 0.8h0m15.6 2.8h0m2.8 -4.8h0m2.3 0.7h0m14.4 2.1h0m4.1 -2.3h0m6.5 2.9h0m18.1 -0.9h0m11.3 -0.1h0m9.5 0.5h0m-211.1 2.3h0m2.4 1.8h0m7.3 3h0m8.4 0.2h0m4.3 -1.1h0m3.2 -1.9h0m4.2 0.7h0m7.4 -0.6h0m8.8 -2.3h0m1.7 5.5h0m2.6 -3.8h0m5.4 -1.2h0m6.9 3.7h0m1.6 -2.7h0m2 2.5h0m34.1 0.5h0m4.6 -1.8h0m0.7 1.4h0m8.8 -3.5h0m16.4 -0.6h0m6.4 5.1h0m11.8 -1h0m8.9 0.3h0m5.8 -4.1h0m4.7 4.6h0m5.8 -4.7h0m12.3 -0.1h0m11.7 4.5h0m6.6 0h0m5 -2.8h0m-219.8 7.6h0m12.2 0.3h0m6.9 -2.5h0m7.7 0.3h0m0.9 -1h0m4.4 5.4h0m12.6 -3.2h0m15.6 0.9h0m2.8 1.9h0m4.6 -5.3h0m3.7 4.5h0m5.8 -3.1h0m36.4 3.4h0m4 -4.3h0m5.3 0.1h0m2.4 5h0m6 -4.8h0m2.5 0.4h0m14.8 4.3h0m11.1 -5.3h0m2.8 0.3h0m9.2 -0.3h0m0.7 1.1h0m7.5 2h0m0.4 1.7h0m14 0.3h0m17.9 -4.7h0m2.7 2h0m3.8 2.5h0m0.7 -2.2h0m-207.9 6.6h0m28.1 -1.3h0m8.9 3.3h0m2.7 -5.6h0m0.1 2.1h0m6.3 -0.8h0m3.3 2.6h0m0.2 1.7h0m9.2 -4.3h0m3.8 2.2h0m0.7 -2.5h0m18.1 2.2h0m2.5 -3.3h0m4.2 4.1h0m2.7 -2h0m1.7 1.6h0m1.7 -0.4h0m23.5 0.4h0m1.8 -1.4h0m3.7 0.2h0m40.9 3.3h0m11.8 -4.3h0m13.1 1h0m9 -1.5h0m4.9 3.4h0m-215.3 5.8h0m15.2 1.3h0m7.1 -0.9h0m16.3 -1h0m1.3 -1h0m2.7 2.2h0m4.6 -1.3h0m12.3 -2.8h0m2.1 4.6h0m6.5 0h0m4.7 -0.1h0m18.5 -5.1h0m4.2 0.6h0m9.7 -0.8h0m0.6 3.5h0m2.3 1.2h0m3.5 1h0m2.8 -2.4h0m2 1.7h0m12.1 -3.7h0m6.4 3.6h0m14.5 -0.2h0m1.9 -3.8h0m1.4 1.6h0m1 2.7h0m6.1 -4.8h0m11.6 4.5h0m2.6 -1.6h0m17.7 -3.1h0m7.2 2.8h0m0.5 -2.7h0m1.6 0.3h0m2.8 5.3h0m3.1 -0.8h0m3.9 0.3h0m5.4 -4.1h0m3.3 -0.5h0m3.2 0.4h0m-204.9 6h0m6.8 0.8h0m2.9 -0.4h0m0 1.8h0m5.6 0.6h0m2.5 -2.8h0m7.6 1.1h0m5 -1.4h0m4.7 0.4h0m7.8 0h0m26.2 2.6h0m6.6 -2.9h0m7.5 2.6h0m4.5 0h0m5.7 -0.4h0m3.5 0h0m3.4 -0.9h0m14.9 2.2h0m40.3 -3.2h0m0.3 2.7h0m14.3 1.9h0m3.8 -1.8h0m-158.2 4.7h0m7 -2h0m7.4 3.2h0m10.5 -3.9h0m3.2 1.6h0m0.1 2.3h0m43.2 -0.2h0m0.4 -0.7h0m14.3 -1h0m10.6 -1.4h0m2 0.9h0m8.9 1.4h0m14.9 2h0m4.9 -1.2h0m22 -3.7h0m1.9 2.6h0m8.2 2.2h0m0.2 -3.3h0m7.7 -1.4h0m0.4 3.7h0m2.6 -3.2h0m4.6 3.8h0m10.9 0.6h0m-226.4 2.1h0m5.8 2.2h0m20.8 -1.9h0m5.4 1.8h0m9.1 1.8h0m11.6 0.7h0m2.4 -0.6h0m25.5 -4.4h0m9.2 4.9h0m1.6 -3h0m7.4 -2h0m1.7 4.4h0m8.6 -3.7h0m4.9 3.9h0m0.8 -2.6h0m4.4 -1.1h0m25.4 -0.8h0m4.7 4.4h0m3.6 -4.3h0m4.4 4.4h0m5.7 -4.8h0m1.7 1.1h0m7.2 1.5h0m0.7 1.7h0m3.1 0.8h0m19.6 -0.5h0m13.4 -4.2h0m0.2 2.8h0m1.8 -2.4h0m11.1 -0.1h0m-224.7 6.8h0m0.4 2.4h0m35.6 -0.1h0m1.1 -2.1h0m11.2 2h0m14.1 -0.2h0m23.1 -0.1h0m37 -3.7h0m8.6 0.1h0m4.3 1.8h0m2.9 0.4h0m1.8 1.9h0m3.1 -3.2h0m20.5 4.5h0m7 -2.3h0m6.3 -1.3h0m23 2.6h0m6.6 -0.2h0m14.5 -2.7h0m6.6 2.4h0m-222.6 7.1h0m9.4 -0.6h0m29 -4h0m11.8 -0.7h0m11.3 2.8h0m3.8 2.4h0m15.2 -4.4h0m0.2 2.5h0m15 2.2h0m8.9 -3.5h0m16.8 1.1h0m4.3 1.6h0m3 -4.2h0m8.4 5.2h0m5.1 -4.8h0m1.7 2.2h0m6.9 -1.9h0m19 4.5h0m8.7 -0.2h0m9 -0.7h0m2.4 -3.9h0m33.3 1.6h0m-223 4.1h0m14.6 1.1h0m2.9 -0.9h0m2.5 0.5h0m11.2 2.1h0m5.3 -2.1h0m5.8 4.3h0m15 0.4h0m6.4 -4.4h0m2.9 2.4h0m33.1 -2.8h0m0.1 4.7h0m30.3 -0.6h0m3.1 -2.4h0m0.1 -2.1h0m27.4 2.3h0m15.4 2.1h0m27.7 0.8h0m0.9 -5.2h0m14.7 0.5h0m3 2.3h0m-209.7 5h0m7.4 1.4h0m0.2 -2.1h0m6.2 -1.4h0m5.5 3.3h0m25.1 -2h0m6.3 0h0m27.9 0.8h0m0.1 1.5h0m14.2 0.2h0m3.5 0.5h0m0.9 -1.8h0m10.9 -2.6h0m7.9 2.2h0m6.7 2.3h0m1.2 0.1h0m0.1 -3.3h0m10.2 3.3h0m32.1 -0.2h0m9.5 -3.3h0m24.1 1.5h0m3 -2.5h0m-203.2 8.8h0m2.5 -0.2h0m13.4 1.5h0m7.5 -0.9h0m1.9 -3h0m12.4 0.9h0m1.5 1.8h0m0.6 1.3h0m10.8 -3.4h0m2.4 4.4h0m2.3 -3.1h0m9.3 1.1h0m16.5 -1h0m2.4 2.9h0m3.6 -2.9h0m0.7 2.1h0m13.3 -1.8h0m38.3 2.3h0m6 -2.7h0m1.8 2.5h0m28.4 -1.6h0m-156.5 4.1h0m20 -0.6h0m5.9 0h0m4 -0.9h0m8.9 1h0m5.4 -0.9h0m13.9 1.4h0m18.1 -0.1h0m55.6 0.3h0m15.4 -1.8h0m24.4 0.1h0m4.6 0h0" stroke="#aeaaca" stroke-width="1.6" stroke-linecap="round" fill="none"/><path d="M0 0m25.8 1.9h0m49 -0.4h0m62.6 0h0m9.4 0.1h0m17.8 -0.1h0m6.2 -0.5h0m5.5 1.7h0m13.7 -1.3h0m-161.9 5.9h0m0.8 -3h0m11.4 1.9h0m1.5 -3.1h0m2.8 5.1h0m14.1 -0.8h0m15.6 -3.8h0m5.1 4.4h0m6 0.5h0m10.2 -3.1h0m10.8 2.3h0m5.3 1.1h0m6.3 -2.4h0m3.3 1.4h0m3.9 -2.5h0m7.3 0.1h0m2.1 2h0m32.1 -3.6h0m4.9 1.2h0m18.7 2.9h0m7.9 -0.3h0m5.1 -2.3h0m12 3.3h0m-199.9 4.4h0m11.2 -2.7h0m6.2 0.6h0m0.9 3.8h0m4.5 -1.3h0m5.2 -3.5h0m4.5 1.2h0m1.4 3.9h0m18.6 -2h0m0.7 -2.3h0m8.2 1.5h0m11.9 0.2h0m5.2 0.5h0m6.6 -2h0m16.1 -0.4h0m18.1 0h0m3.9 0.5h0m9.8 -1.1h0m11.3 -0.1h0m18.3 4.6h0m34.4 -4.1h0m-197.8 8.8h0m2.9 -3.9h0m1.7 4.7h0m4.9 -0.3h0m3.8 0h0m7.3 -1.9h0m12.2 -0.5h0m4.6 -1.8h0m18.7 1.8h0m1.2 -1.9h0m0.1 4.1h0m2.4 -2.3h0m8 -0.6h0m6.7 2.7h0m4.8 0.1h0m22.6 -0.4h0m4.7 0.3h0m6.5 -2.2h0m1.5 2.6h0m8 -2.3h0m9.2 1.8h0m0.4 -2.3h0m3.3 -1.4h0m10.3 3.8h0m10.2 -2.3h0m32.8 0.2h0m3.1 2.8h0m4.4 -2h0m4.3 -2.2h0m4.5 3.3h0m-211.6 5.2h0m9 1.7h0m7 -2h0m18.5 -1.4h0m13.3 4.3h0m11.9 -4.9h0m1.8 -0.6h0m25.5 0.7h0m25.5 4.5h0m20.4 -1.7h0m2.4 -2.9h0m7.4 1.6h0m13.1 0.6h0m11.9 0.5h0m23 2.3h0m30 -2.5h0m-226 6.7h0m9.8 -3.9h0m2.8 5.4h0m0.3 -0.8h0m41.1 -0.8h0m1.7 0.3h0m9 -4.1h0m23.4 2.4h0m2.5 1.3h0m17.8 -1.4h0m43.6 -0.3h0m2.7 1.2h0m7.3 -1.3h0m1.9 -1.1h0m2.4 0.1h0m2.9 2.8h0m3.3 0.6h0m4.9 -0.9h0m1 2.2h0m24.7 -2.3h0m0.4 -1h0m20.6 -1.1h0m-224.9 10.3h0m3.9 -0.7h0m6.5 -1.9h0m9.8 -0.7h0m2 -2.3h0m7.4 3.3h0m13.5 -2.6h0m7.4 2.1h0m1.6 -0.8h0m4.5 -1.2h0m25.5 4h0m11.4 -2.1h0m0.6 -2.6h0m9.3 4.9h0m5.8 -4.6h0m13.6 0.7h0m2 -0.5h0m24.6 1.6h0m10.9 0.6h0m11.1 -0.4h0m15.6 -1.6h0m9.4 0.2h0m12.3 0.9h0m6.3 3.1h0m11.9 -0.6h0m-218.7 2h0m0.6 4.6h0m7.2 -1.9h0m8 -0.1h0m5.9 -2.5h0m8 3.6h0m29.8 1h0m16.1 -1h0m18.8 0.9h0m10.7 -1.9h0m14.8 1.9h0m6.6 -3.8h0m16.2 2.5h0m18.6 2.2h0m8.3 -0.4h0m3.8 -4.3h0m5.6 -0.8h0m2.4 2.8h0m7.6 0.8h0m6.3 -3.2h0m0.7 3.4h0m10.5 -1.3h0m-213.5 7.1h0m1.8 -1.4h0m11.6 2.5h0m12.9 -3.3h0m18 2.9h0m6.1 -0.2h0m5.2 0.2h0m1.8 -2.2h0m0.7 -2.5h0m20.7 1.3h0m10.5 2.5h0m2.9 -2.4h0m50.5 0.3h0m4.4 0.9h0m4.4 -0.2h0m21 1.6h0m14.8 -1.7h0m7.7 -0.3h0m2.9 1.7h0m14 -1.7h0m9.7 1.8h0m1.2 1.3h0m-225 3.1h0m7.6 1.2h0m1.7 -2.5h0m0.2 1.9h0m2.3 -2.7h0m27.6 2.6h0m0.2 -2.7h0m2.2 5.3h0m8.4 -2.4h0m2.8 -3h0m4.1 3.6h0m4.5 -1.3h0m2.4 3.7h0m9 -0.4h0m11.5 -4.2h0m0.6 4.3h0m11.8 -3.2h0m6.1 2.9h0m12.8 -0.2h0m11.4 -1.5h0m24.1 0h0m2.4 -1.3h0m8 1.2h0m4.7 1.6h0m5.6 -4.4h0m1.2 2h0m10.6 3h0m7.8 -1.1h0m29.3 1h0m4.8 -4.3h0m5.9 1.8h0m0.6 1.5h0m-231.9 5h0m2.5 0.4h0m1.9 -2.4h0m5 3.8h0m1.6 -2.3h0m39.1 2.7h0m2.6 -2h0m4.3 0.5h0m6.9 -2.5h0m19.2 -1.8h0m2 3.6h0m4.9 0.6h0m5 -3.4h0m8.9 -0.1h0m4.6 4.7h0m8.3 0.2h0m21 -4.7h0m9.8 1.1h0m15.6 3.8h0m9.4 -1.4h0m5.1 -2.4h0m9.2 2.6h0m6.5 1h0m8.9 -3.8h0m14.3 1.3h0m4.6 -1.3h0m7.1 0.5h0m-216.5 7.9h0m10.3 -4.1h0m10.3 0.4h0m8.9 -0.5h0m6.9 5.2h0m6.2 -4.7h0m5.9 -0.3h0m27.5 5.4h0m4.5 -1.3h0m3.4 -4.1h0m14.8 4.6h0m1.4 -0.6h0m4.9 -1.2h0m7.8 1.9h0m10.7 -2.4h0m4.3 -2.3h0m9.9 4.6h0m2.3 -4.5h0m22.1 0h0m1.2 4h0m10.4 -2.1h0m1.1 3.2h0m15.8 -4.9h0m6.5 4.4h0m12.3 -2.6h0m0.9 1.7h0m3.2 -0.1h0m2.4 1.2h0m4.4 -1.1h0m-204.1 2.7h0m14.8 1.9h0m6.1 -1.2h0m1.6 1.8h0m15.4 -2.1h0m3.6 4.3h0m10.3 -4.2h0m15.1 4.5h0m0.9 -4.3h0m5 4.3h0m6.5 -2.3h0m7.5 -2.8h0m4.8 2.2h0m12.1 2.2h0m5.7 -3.1h0m12.6 1.6h0m8.1 -2.8h0m10.2 -0.2h0m9.2 4.8h0m6.3 -1.4h0m7.1 -3.5h0m7.1 3.6h0m4.7 -3.5h0m14.1 0.6h0m14.8 -0.7h0m-227 7h0m1.8 1.1h0m13.4 1.7h0m14.4 -3.9h0m2.2 3.6h0m5.6 -2.6h0m1.8 0.7h0m1.4 -1.9h0m12.9 4.6h0m24.4 1.1h0m4.3 -0.9h0m34.4 0h0m24.2 -4.7h0m1.2 4.5h0m0.9 -2.4h0m20.2 1.7h0m3.9 0.9h0m14.4 0h0m4.7 -0.7h0m7 -2.1h0m22.7 1.4h0m11.7 -2.3h0m-204 8.2h0m18.3 -3.1h0m29.8 3h0m1.8 -0.4h0m7 -2.8h0m2.1 4.5h0m4.7 -1h0m2 1.6h0m4.7 -0.7h0m4.9 -4.4h0m18.1 4.4h0m2 -2.5h0m2.8 1.5h0m4.6 -2.8h0m18.5 2.6h0m23.6 -3.2h0m2.2 4.5h0m10.5 0.3h0m11.5 -1.5h0m5.6 -0.4h0m10.4 0.4h0m3.4 2.5h0m4.1 -3.5h0m11.5 1h0m-229.4 3.5h0m3.6 3.3h0m11.5 -3.5h0m19 0.8h0m4.7 2.9h0m6.1 -3.6h0m16.8 0.1h0m8.6 1.2h0m19.4 1.8h0m24.9 -0.4h0m15.2 2h0m7 -3.9h0m8 -0.7h0m4.8 2.2h0m4.1 0.1h0m12.8 0h0m5.7 0.1h0m4.9 0.3h0m3.6 0.4h0m6.8 -2.1h0m10.3 -0.8h0m3.6 2.4h0m5.5 0.7h0m4.1 -2.6h0m3.8 -0.7h0m3 0.9h0m4.8 -0.2h0m-216.2 8.6h0m6.1 1.1h0m6.8 -1.1h0m18.7 -1.8h0m1.2 3.1h0m6 -0.5h0m13.3 -1.9h0m19.1 1.8h0m18.3 -0.6h0m11.4 -3.7h0m3.2 2.2h0m21.7 2.4h0m14.7 -0.2h0m6 0.5h0m3 -5.3h0m22.7 1.6h0m4 0.6h0m4.7 1.5h0m4.7 -1.6h0m3.1 0.2h0m8.4 0.2h0m9.7 2.3h0m4.4 -3h0m0.3 -1.3h0m11.5 1h0m-224.8 8h0m1.9 1.6h0m15.4 -1.8h0m26.3 -0.2h0m7.1 -3.1h0m15 3.5h0m2 -2.6h0m3.1 1.6h0m1.4 -2.2h0m0.1 2.1h0m6.1 0.8h0m4.1 -0.3h0m9.2 -0.3h0m6.1 -0.1h0m17.2 -2.1h0m59 2.1h0m11.5 2.3h0m3.2 -2.4h0m8.6 -1.8h0m4.6 0.6h0m7.4 3.9h0m1.7 -2.7h0m-182.2 6.9h0m3.5 -3.2h0m1.9 -0.1h0m4.2 1.7h0m4.7 3.8h0m28 -1.1h0m16.1 -0.5h0m13.6 -2.4h0m7.4 -1.5h0m5.6 3.7h0m4.4 -2.3h0m2.3 0.4h0m0.6 3.8h0m4.1 -3.5h0m17.5 0.1h0m1.9 0.2h0m18.4 1.8h0m3.7 -4.3h0m4.8 4.6h0m6.5 -2.7h0m3 0.4h0m6.5 -1.1h0m14.4 1h0m14.3 3.4h0m-220.6 2.9h0m1 -0.6h0m3 1.2h0m28 -2.6h0m18.5 1.6h0m8.6 -0.9h0m22.5 3.8h0m6.6 -1.9h0m7.5 2.3h0m0.5 -3h0m7 1.9h0m11.1 -2.2h0m6.4 -2h0m35 2.4h0m1.5 -0.3h0m11.5 2.9h0m13.8 -2.2h0m9.4 1.5h0m2.5 0.6h0m3.3 -3.8h0m6.7 1.4h0m6.2 -2.8h0m1.7 1.1h0m3.2 2.6h0m2.7 -0.7h0m-172.9 6.6h0m15.4 -0.2h0m10.5 1.9h0m1.8 -1.9h0m4.8 -1.6h0m9.4 -0.1h0m6.3 4.2h0m5.3 -3.8h0m2.2 3.6h0m14.8 -2h0m0 1.7h0m1 -4.1h0m8.4 4.6h0m39.9 -3.7h0m4.9 -0.8h0m2.3 0.1h0m3.5 2.5h0m13.6 -3h0m12.8 1.9h0m8.2 -1h0m5.2 0.4h0m12 1.1h0m-219.6 3h0m1 1.8h0m4.3 0.1h0m27.4 1.7h0m2.9 -2h0m0.8 -1.7h0m7 4.5h0m0.4 -1.8h0m7.6 2.1h0m15.2 -0.4h0m2.3 0.6h0m2.8 0.1h0m5.1 -1.1h0m2.4 -2.5h0m2.4 2.7h0m1.4 -2.3h0m6.2 -0.4h0m1.3 2.4h0m4 -1.3h0m5 -1.1h0m2.4 0.1h0m4 3.5h0m12.1 -0.4h0m8.6 -2.8h0m0.3 3.1h0m5.3 -1.2h0m11.5 -3.7h0m10.2 1.6h0m2.3 3.2h0m0.3 -3h0m18.6 0.1h0m4.3 2.9h0m2 -3.3h0m3.6 -1.7h0m8.5 2.1h0m2.6 2.7h0m10.6 -4.6h0m0.8 1.8h0m-216.5 7.9h0m6.7 -3.8h0m31.8 1.4h0m5.4 -0.4h0m2 1.5h0m1 -2h0m3.3 2.8h0m3.5 -2.9h0m13.1 5.3h0m12.2 -5.5h0m0 4.5h0m1.7 0.3h0m2.6 -2.3h0m40.6 0.5h0m2.9 -0.2h0m9.1 2.6h0m4.4 -2.3h0m5.3 0.1h0m1.5 -3.3h0m6.6 5.4h0m0.2 -2.8h0m6.9 0h0m2.1 2.9h0m7.7 -5.2h0m4.7 3.2h0m5 -0.7h0m3.2 -2.4h0m14.4 -0.1h0m2.3 2.2h0m4 -1.4h0m9.1 4.1h0m8.1 -1.8h0m-221 8h0m2.4 -3.2h0m8.2 1.9h0m29.9 0.2h0m7.9 -0.2h0m2 -0.3h0m19 -3.8h0m3.4 3.7h0m4.7 -2.7h0m7 -0.1h0m11.7 1.1h0m13.5 3.5h0m0.7 -2h0m8.4 2h0m2.6 -0.1h0m6.9 -1.5h0m0.6 -2.9h0m2.4 2.3h0m9.2 0.8h0m3.4 -2.5h0m4.6 2.6h0m8.4 -3h0m1 1.9h0m3.1 -3.2h0m10.5 3.3h0m7.5 0.2h0m5.1 -2.1h0m2.2 0h0m2 1.6h0m13.5 0.4h0m12.1 -0.1h0m6.2 0.3h0m-200.2 7h0m2.3 -2.9h0m8.2 0.7h0m0.9 -2.4h0m12.6 5h0m18.2 -0.8h0m11.2 -3.9h0m0.2 2.4h0m4.5 -1.8h0m6.1 3.4h0m2.3 0.3h0m2.8 -0.2h0m6.6 -3.5h0m11.7 3.4h0m9.8 1.1h0m2.8 -2.4h0m22.3 -2.8h0m2.3 2.8h0m4.8 -0.1h0m9.3 1.3h0m7 1.1h0m20.9 0.1h0m4.2 -3.2h0m20.9 0h0m6.3 0.4h0m4 1.4h0m8 -3.8h0m-223.2 6.4h0m9 0.1h0m16.5 0.2h0m23 4.4h0m2.3 -2.1h0m5.7 -1.6h0m0.1 1.1h0m2.4 1.2h0m4.4 1.1h0m2.3 0.6h0m1 -4.8h0m27.2 3.3h0m25.3 -3.8h0m11.2 2.4h0m5.8 0.1h0m1.5 -1.4h0m2.3 -1.2h0m1.7 2.7h0m2.9 -1.8h0m6.7 3h0m3.1 -1.2h0m11.3 -0.1h0m9.4 0.5h0m6 -2.8h0m9.6 3.6h0m3.9 1.5h0m4.5 -1.6h0m8.4 -3.2h0m7.7 3.2h0m-196.3 6.7h0m7.6 -2.2h0m3.7 1.7h0m6.7 -0.6h0m18.7 0.7h0m10.4 -0.9h0m2.4 -0.9h0m19.5 -2.3h0m1.7 2h0m4.3 2h0m2.3 -2.1h0m11.4 -0.7h0m8.8 0.4h0m23.9 0.9h0m16.2 1.3h0m3.5 1h0m5.1 -5.1h0m12.5 4.9h0m10 -0.4h0m2.7 -1.9h0m2.2 -0.8h0m7.2 0.8h0m15.7 -2.7h0m-204.1 6.1h0m22.5 5.1h0m16 -1.8h0m4.7 -3.1h0m5.6 4.9h0m12.5 0.3h0m29 -3.2h0m1.8 0.1h0m4.2 -1h0m2.3 0.1h0m1 4h0m3.3 -3.1h0m2.5 -2.1h0m6.7 2.4h0m26.4 2.9h0m6.4 -3.1h0m9.9 0.4h0m1.1 2.9h0m2.9 -4.9h0m-158.2 5.1h0m16 0h0m13.7 0.1h0m33.7 0.8h0m29.8 0.8h0m28 -0.4h0m9.9 -1.3h0" stroke="#a6a2c4" stroke-width="1.9" stroke-linecap="round" fill="none"/><path d="M0 0m28.1 1.9h0m19 -0.8h0m4.4 0.8h0m21.4 1.1h0m50.1 -1.6h0m29.4 0.1h0m10.5 0h0m5.5 0.1h0m28.3 -0.2h0m-175.5 6.2h0m14.2 -1.6h0m11.7 -2.2h0m3 2.4h0m7 -3h0m3.4 0.7h0m2.1 4.9h0m19 -4.7h0m11 -1h0m4.8 3h0m6.8 -2h0m3 -0.7h0m2.3 2.9h0m15.1 1.3h0m5 -1.8h0m4.2 -2.1h0m0.9 2.5h0m9.8 1.1h0m4.3 0.2h0m9.3 0.1h0m2.2 -3.6h0m9.1 2.5h0m5.8 1.2h0m28.2 1h0m2.2 0.1h0m0.3 -4.7h0m-175.2 7.7h0m3.3 1.4h0m17.6 -3.5h0m4.6 3.6h0m15.4 -2.8h0m16.5 4.3h0m7.2 -4.3h0m3 0.3h0m3.6 -1.1h0m9.7 4.7h0m2.6 -4.6h0m12.7 -0.1h0m12.3 2.9h0m4.6 2h0m14.4 -1.8h0m1.7 2.2h0m4.3 -2.2h0m11.6 -1.8h0m4.9 3.9h0m16.4 -0.4h0m6.6 0.1h0m12 -3.6h0m4.5 3.7h0m-205.3 3.4h0m2.5 -0.7h0m0.3 2h0m5 -2.5h0m3.9 -0.1h0m4.3 1.9h0m0.8 -1.5h0m11 2.3h0m7 0.4h0m6.3 -3.2h0m18.7 -1h0m4.2 3.4h0m7.5 -2.5h0m19.8 2.8h0m25.2 -2.8h0m5.2 -1.2h0m7.9 4.7h0m6.8 -1.2h0m18.4 -2.1h0m15.8 -1.5h0m11.5 4.2h0m-186 6.3h0m0.9 -3.4h0m15 -1.2h0m1.2 4.5h0m5.4 -1.8h0m16.3 -2.4h0m12.7 -0.2h0m12.7 2.9h0m1.5 -0.8h0m5.6 3h0m8.4 -2.1h0m6.6 1.7h0m2.1 -3.4h0m3.1 2.2h0m2.3 0.9h0m13.5 -2.2h0m1 -1.2h0m3.2 2.3h0m4.7 -1.2h0m7.1 0.1h0m3 2.2h0m11.4 -2.2h0m5.8 -2h0m24.1 4.1h0m11.1 -1.8h0m0.8 -2.7h0m0.8 0h0m3.4 3h0m9.6 2.5h0m5.4 -0.7h0m2.5 0.3h0m3.3 -1.6h0m1.2 -3.3h0m6.8 2.8h0m4.8 2.5h0m-222.8 1.9h0m2 3.2h0m11.9 1.2h0m6.8 -2.5h0m11 -1.4h0m18.7 -1h0m20.4 1h0m6.9 -0.6h0m1.1 3.2h0m18.1 -3.2h0m2.5 3.3h0m39.5 -3.7h0m3.9 3h0m3 -2.6h0m24.3 0.5h0m5.6 -0.3h0m8.4 3.1h0m7.7 -2.5h0m10.5 2.6h0m2.6 -1.5h0m4.3 -0.1h0m9.1 1.1h0m3 -0.9h0m2.4 -2.2h0m2.2 4.3h0m-223.2 1.1h0m8.5 -0.3h0m0.5 2.9h0m1.7 1.9h0m2.7 -4.3h0m2 1.2h0m28.3 3.1h0m5.2 0h0m10.5 -2.1h0m0.8 -2.3h0m11 4.7h0m1.5 -4.6h0m6.2 1.8h0m14.6 0.1h0m7.4 0.1h0m0.1 2.3h0m14.2 -4.1h0m8.7 3.4h0m4.6 0.9h0m4 -2.1h0m0.8 1.8h0m2.1 -0.6h0m7.8 0h0m0.7 -3.8h0m13.9 0.2h0m9.5 4.1h0m13.4 0.5h0m5.3 -0.7h0m5.5 -0.2h0m3.6 -1.1h0m0.5 1.8h0m10.7 -4.2h0m4.9 -0.5h0m5 4.3h0m1.4 0.3h0m1.4 -2.1h0m6.1 1.2h0m-231.5 3.2h0m4.4 1.7h0m24 0.9h0m7.4 -3.2h0m1.2 2.9h0m6.8 -0.6h0m2.1 -0.2h0m1.7 2.9h0m8.7 -2.7h0m9.1 2.7h0m1 -2.5h0m0.4 -2.4h0m10.5 2.1h0m2.2 -2.1h0m6.8 2.4h0m2.6 1.8h0m12.4 -4.6h0m45.9 4.7h0m15 0.2h0m4.8 -1.6h0m7.4 1.5h0m8.6 -3.4h0m1.1 2.1h0m44.7 -1h0m-229.1 6.7h0m6.1 -1.3h0m14.2 -0.8h0m13.8 -0.2h0m9 2.3h0m4.6 -0.8h0m0.5 1h0m3.7 -3.8h0m7.4 4.9h0m14.6 -0.3h0m21.9 0.5h0m7.2 -3.3h0m7.7 2.2h0m6.9 0.2h0m1.4 -4h0m21.3 1.5h0m6.5 2.5h0m2.1 -4h0m2.9 4.2h0m5 -2.8h0m14.7 2.3h0m14.7 -1.8h0m16.2 -1.9h0m2.7 2h0m14.7 -0.3h0m9.4 2.5h0m2 0.3h0m-230 2h0m18.8 4.9h0m13.8 -0.9h0m0.4 -1.2h0m15.8 -2.7h0m4.7 2.4h0m4.2 -2.5h0m0.9 1.7h0m6.2 3.1h0m0.4 -5.1h0m3 3.4h0m1.2 -1.4h0m7.5 2.3h0m6.2 -1.6h0m2.7 0.4h0m0.5 -2.3h0m22.8 2.5h0m2.1 -1.2h0m2.8 0.7h0m1.6 2.7h0m11.2 0h0m9.3 -4.9h0m7.6 -0.9h0m4.1 2.2h0m0.5 2.4h0m4.7 -4.5h0m11.1 3.5h0m11.5 -1.3h0m0.4 -1.1h0m1.5 -0.5h0m2.9 2.1h0m36 0.8h0m12.2 -0.3h0m-214.1 4.5h0m16.7 -1.2h0m0.9 0.2h0m13 2.8h0m13 -1.4h0m10.9 3.2h0m5.5 0.3h0m10.9 -2.6h0m5.1 0.4h0m4 0.5h0m32.8 -1.8h0m1.5 -1.2h0m3.7 4.5h0m8.9 0.3h0m3.7 -2.1h0m0.7 2.1h0m7.5 -2h0m9.9 -2.1h0m1.3 3.6h0m18.5 -3.4h0m17.2 2.6h0m6.9 1.2h0m-208.2 5.1h0m4.9 -4.3h0m3.4 4.6h0m16.2 -4.7h0m9.3 2.1h0m1.1 1.4h0m3.7 1.6h0m4.4 -0.8h0m9.7 0.7h0m2.3 -2.7h0m29.3 -1h0m24 2.8h0m5.8 0.9h0m23.6 -4.9h0m7.2 4.9h0m1.8 -0.1h0m6.4 -1h0m4.8 -2.4h0m4.2 3.3h0m3.2 -3.2h0m6.8 -1.5h0m4.2 3.7h0m21.7 -1.5h0m19.3 1.7h0m10.5 -4.3h0m-228.1 7.4h0m16.3 1.1h0m8.9 2.6h0m15.3 -4.7h0m9.8 0.7h0m0.8 4h0m4.5 -0.4h0m14.9 -4.1h0m1.1 4.3h0m1.1 -3.4h0m12.5 -0.8h0m2.3 4.9h0m73 -0.4h0m5.7 -2.1h0m8.7 -2.4h0m3.8 0.6h0m2.5 -0.8h0m15 0.9h0m3.6 2.3h0m5.1 2h0m16.3 -2.4h0m3.2 0.1h0m-224.4 6.9h0m23.4 -2.5h0m3.8 2.4h0m1.9 -2.7h0m3.5 0.2h0m2.1 2.1h0m18.8 0.8h0m4.2 -2.4h0m2.2 1.3h0m1.2 -3.2h0m10.7 1.1h0m2 -1.4h0m10.5 3.6h0m7.8 -1.3h0m8.4 1h0m13.7 0.8h0m4.9 -2.5h0m21.1 -1.5h0m20.5 1.5h0m26.9 -1.7h0m12.4 2.5h0m8.4 -1.1h0m9.7 0.5h0m1.8 0.2h0m-204.7 8.6h0m8 -3.7h0m1.8 -0.8h0m5.1 3.1h0m4.6 -0.4h0m9.2 0.1h0m11.6 1.4h0m15.4 0.6h0m1 -4.2h0m1.1 2h0m7.2 0.7h0m1.7 -0.1h0m10.4 -2.9h0m8.4 2.9h0m5.2 -2.8h0m11.1 2.8h0m25.3 -2.3h0m9.8 0.1h0m7.2 3.3h0m4 -3.4h0m1.7 4.1h0m2.9 0.1h0m2.9 -3.1h0m8.5 -0.1h0m13.7 -1.5h0m2 4.2h0m19.4 1h0m2 -5.8h0m4.8 5.3h0m3.4 -2.9h0m-225.2 7.6h0m19.5 -0.3h0m9 0.4h0m19.7 0.2h0m3.4 -2.6h0m24.6 -1.1h0m20.6 5.2h0m2 -1.5h0m23.3 -2.5h0m7.7 -0.1h0m4.7 2.8h0m9.3 -2.7h0m15.4 2.7h0m4.9 -1.1h0m12.9 -2.7h0m19.7 0h0m3.7 4.5h0m27.1 -2.3h0m2.2 0.8h0m-229.9 6.5h0m4.6 -1.9h0m2.7 1.8h0m25.2 -1.7h0m21.8 -0.6h0m1 2.7h0m9.1 0h0m5.4 -4.4h0m4.2 5.2h0m46.3 -2.2h0m0.5 0.8h0m10.9 0.3h0m1.7 0.4h0m14.2 -2.7h0m14.5 2.4h0m20.9 0.3h0m10.5 0.6h0m5 -0.9h0m19.9 -1.7h0m-218.4 4.3h0m4.8 1.8h0m4.8 -1.9h0m27.6 1.7h0m11.4 -1.2h0m6.6 -1.2h0m4.5 0.5h0m7.8 1h0m2 -1.4h0m14.5 0.3h0m4.1 3.4h0m4.4 -0.5h0m4.9 -2.8h0m16 -0.1h0m13.8 3.3h0m16.4 -1.1h0m3.7 0.8h0m3.5 1.2h0m10.4 -2.3h0m7.9 -1h0m2.1 3.8h0m4 -2.4h0m14.9 -1.5h0m12.5 4.4h0m0.1 -5.2h0m12.2 0h0m0.4 2.4h0m1.1 -0.1h0m0.3 -2.4h0m-214.2 8.9h0m9.5 -0.9h0m18.8 -0.6h0m15.9 -1.9h0m11.6 4.5h0m0.1 -2.8h0m9.6 1.8h0m12.7 0.5h0m3.5 0.8h0m26.9 -4.6h0m14.5 3.6h0m15.8 -1.8h0m22.1 1.6h0m4.3 0.8h0m5.8 1.3h0m15.6 -1.6h0m1.7 -2.9h0m23.3 2.2h0m2.7 0.2h0m0.2 -1h0m-211.3 8.4h0m13 0.5h0m20.2 -5.3h0m2.6 0.4h0m2.9 2.3h0m10.7 1.9h0m18.7 -4.4h0m21.2 4.8h0m13.8 -0.4h0m13.4 -2.4h0m11.2 0.5h0m3 0.3h0m7.4 -2.5h0m0 3.7h0m4.6 0h0m0 -1.2h0m1.4 1.1h0m76 1.5h0m-224.5 3.8h0m40.1 1.7h0m5.3 -2.4h0m2 -2.1h0m3.3 0h0m9.1 -0.3h0m31.8 4.8h0m1.7 -1.2h0m3.2 -3.4h0m2.2 2.9h0m1.8 1.9h0m11.1 -0.3h0m1.1 -1.9h0m3.5 1.1h0m9.2 -2.5h0m0.9 3.8h0m11.7 -3.5h0m17.2 2.3h0m4.7 -3.3h0m0.3 4.4h0m4 -4.1h0m1.4 4.3h0m1.3 -1.5h0m2.1 0h0m4.7 -1h0m21.5 -0.4h0m1 0.8h0m10.1 -1.7h0m6.5 2.2h0m8 -3.4h0m6.7 0.9h0m-222.2 7.2h0m1.2 1.4h0m7 -3.9h0m2.1 4.6h0m3.8 0.1h0m5.1 -3.4h0m4.6 2.1h0m11.7 0.7h0m11.8 -3h0m15.3 1.3h0m6.6 -0.8h0m1.3 1.8h0m3.2 -3.4h0m5.4 4.9h0m2.3 -3.5h0m16 0.1h0m1.7 -1.2h0m5.3 3.8h0m10.9 -4.4h0m0.4 4.1h0m23.4 -4.1h0m29.8 -0.2h0m1.7 5h0m12 -0.5h0m1.5 -3.7h0m11.8 -0.2h0m11.8 3.8h0m1.8 -4.1h0m-204 7h0m14.2 3.7h0m24.9 -2.4h0m4.6 1.3h0m8.4 0.1h0m5.4 -2.8h0m15.9 -0.8h0m4.3 5.4h0m1 -3.2h0m1.7 -1.9h0m5.3 2.9h0m8.3 -0.6h0m13.6 -1.7h0m12.4 0.3h0m7 2h0m52.6 -2.3h0m0.5 3.8h0m1.3 -1.1h0m4.9 -3.5h0m1.9 3.5h0m9.2 1.9h0m10.3 -4.5h0m3.8 -1h0m7.4 3.4h0m-189.3 6.5h0m9 -2.3h0m4.7 -0.6h0m7.2 1.1h0m15.7 0.9h0m16.6 -1.2h0m2.2 3.6h0m9.1 0.2h0m13.7 -2.6h0m18.9 -0.1h0m6.4 -1.6h0m35.3 3.9h0m22.4 -0.6h0m24.8 -4.6h0m4.9 3.1h0m-222.1 3.2h0m8.1 4.6h0m11.8 -4.6h0m29.6 4.7h0m2.6 -0.5h0m24.8 -2h0m15 -0.7h0m6.8 0.8h0m4.3 2.8h0m7.2 -3.7h0m1.8 2.2h0m3 -2.1h0m1.2 -2.2h0m6.5 5.7h0m5 -4.9h0m2.4 1.7h0m17.9 2.6h0m7.7 -0.3h0m6.1 -4.2h0m2.3 1.8h0m0.8 -1.9h0m16.1 5.2h0m8.8 -3.3h0m3.4 1.2h0m1.5 -1.6h0m0.3 -1.6h0m2.8 5h0m12.4 0.4h0m-213.1 3.6h0m37.4 -1.5h0m31.6 1.8h0m13.2 -2.9h0m2.3 4.4h0m3.2 -3.5h0m4.2 4.2h0m2.2 -5h0m6.8 4.5h0m0.5 -1.4h0m0.4 -3.2h0m1.7 2.6h0m4.3 0.8h0m2.2 -1.4h0m14 2.4h0m4.2 -4h0m7.2 3.3h0m1.9 -2.5h0m7.3 3.2h0m3.3 -2.3h0m6.1 -2.3h0m1.6 0.5h0m7.9 0.2h0m18 2.9h0m1.6 -0.4h0m9.7 -2.7h0m14.7 4.4h0m4.5 -1.1h0m-203.6 6.4h0m13.8 -0.9h0m18.5 0.3h0m5.3 0.8h0m8.5 -0.7h0m4.7 -3.7h0m5.5 2.4h0m19.4 0.9h0m7.2 0.8h0m2.9 0.2h0m23.5 -0.3h0m10.8 -2.6h0m3.1 0.4h0m9.3 -1.8h0m1.1 3.7h0m4.7 -2.6h0m17.2 -0.2h0m12.9 0h0m30.5 3.3h0m4.6 -4.1h0m4 -0.1h0m-211.6 8.9h0m11.8 0.4h0m2.1 -3.8h0m2.2 3h0m5.4 0.7h0m7 1.3h0m29.9 -2h0m6.6 0.6h0m1.9 -3.4h0m6.2 2.4h0m5.2 -0.3h0m6.6 -1.5h0m7.1 -0.3h0m9.9 0.3h0m17.2 5h0m7.8 -3.4h0m6.7 -1.2h0m13.6 0.1h0m5.2 4.1h0m2.1 -4.2h0m4.7 2.5h0m5.8 -2.8h0m7.9 0.3h0m6.1 4.3h0m9.1 -4.5h0m2.5 3.8h0m5.3 -3.6h0m4 2.6h0m-197.1 2.2h0m4 0h0m0.8 1.9h0m114.7 -0.1h0m6.5 -0.1h0m49.1 -1.6h0" stroke="#9e9abe" stroke-width="1.6" stroke-linecap="round" fill="none"/><path d="M0 0m31 0.6h0m22.4 -0.2h0m9.8 0.5h0m38.3 0.2h0m7.4 0.1h0m41.5 1.8h0m15.7 -2.2h0m-137.2 4.4h0m5.1 3.4h0m3.9 -1.3h0m4.7 1.5h0m25 -3.5h0m0.8 2.6h0m8.2 0.2h0m2.4 -4h0m9.8 -0.4h0m24.3 5h0m9.3 -3.2h0m7 1.8h0m17.4 0.4h0m3.3 0.9h0m5.7 -4.9h0m12.7 4.5h0m2.2 -4.4h0m12.1 3.7h0m2.2 -0.1h0m4.7 -2.3h0m2.7 0.7h0m1.9 3.1h0m-171.7 3.1h0m13.3 2.5h0m24.3 -2.6h0m5.1 -2.2h0m0 5h0m4.4 -4.3h0m0.4 1.5h0m0.7 2.7h0m15.6 -1.6h0m9.6 0.5h0m4.1 -0.6h0m0.2 1.8h0m4.6 -3.6h0m4 -0.6h0m18.2 1.4h0m27.4 -1.3h0m8.5 2.7h0m0.8 1.2h0m16.5 -3.6h0m1.8 1.2h0m10.7 2.1h0m6.1 -3.2h0m12 -0.6h0m0 2h0m-184.2 7.3h0m14.1 -2.2h0m17.7 2.4h0m9.8 -2.1h0m8.6 1.2h0m3.1 -3.6h0m0.1 2.2h0m10.5 -0.5h0m0.1 -1.5h0m2.8 1.3h0m2.7 1h0m8.2 0.9h0m7 -1.8h0m2.5 2.9h0m4 -4.6h0m3 0.1h0m34.1 1.3h0m7.5 2.5h0m27.7 -1.4h0m3.5 -0.9h0m16 3.5h0m0.6 -4.9h0m2.8 1.7h0m8 1.7h0m-212.6 7.4h0m2.1 -2.4h0m4 1h0m2.2 -2.5h0m14 -0.1h0m8.8 2.5h0m3.6 -1.2h0m1.6 0.7h0m2.2 -0.5h0m4.4 0.2h0m55.2 -2.8h0m0.5 2.3h0m4 -2.1h0m14.5 2.3h0m1.9 -2.2h0m35.3 2.1h0m6 -1.1h0m7.9 -0.7h0m4 4.9h0m1.6 -2.2h0m18.4 -2.4h0m0.6 1.5h0m4.9 -1.6h0m4.6 2.1h0m6.4 1.5h0m6.7 1.4h0m-211.5 1.3h0m16.7 4.2h0m4.8 -3.1h0m4.4 1h0m5.7 -1.7h0m9.8 2.1h0m5.4 -1.2h0m3.7 -0.5h0m0 2.7h0m6.8 -1h0m9.9 -1.8h0m11.6 -2h0m8.2 0.1h0m10.1 4.3h0m5 0.4h0m1.4 -3.1h0m7.7 0.3h0m13.8 2.4h0m8.3 -2.2h0m2 -1.1h0m9.7 1.3h0m24.8 1.4h0m5.3 0.3h0m16.2 -1.6h0m4.9 0h0m2 -1.5h0m1.4 0.6h0m5 2.1h0m8.1 -2.6h0m-222.1 5.9h0m5.7 1.6h0m1 -1.8h0m2.4 4.1h0m7.3 -2h0m7.2 -1.9h0m2.4 4.7h0m7 -0.6h0m6 -3h0m2.3 3h0m2.8 0.5h0m0.8 -5.4h0m9.2 0h0m3.5 4.3h0m10.2 -2.6h0m3.6 3.2h0m5.3 -2.8h0m1.8 2h0m15.5 -1.9h0m3.1 2.4h0m14.2 0.5h0m15.8 -1.9h0m18.7 -3.3h0m8.5 4.9h0m2.1 -0.6h0m5.8 -1.5h0m13.3 -1.9h0m6.6 3.2h0m4.9 -0.8h0m4.5 -3.4h0m14 0.9h0m1.2 0h0m3.7 1.9h0m3.4 -0.9h0m-197.6 4.6h0m9.9 0h0m5 2.7h0m21.7 0.4h0m5.5 -1.8h0m1.9 2.2h0m0.8 -2.4h0m1.9 4.4h0m8.9 -3.2h0m23.3 -1.1h0m13.5 2.4h0m4.3 -2.8h0m36.9 0.3h0m23.1 1.9h0m10.9 -1.5h0m9.8 1.2h0m5.1 -1.3h0m7.1 3.5h0m3.8 -4.4h0m6.6 4.3h0m-213.6 4.7h0m2.3 -0.2h0m2.4 0.9h0m21 -4.4h0m0.1 1.9h0m11.8 1.4h0m13.9 1.4h0m12.8 -0.7h0m0 -1.8h0m10.1 0.5h0m4.6 -1.6h0m1.1 3.3h0m3.2 -1.8h0m6.5 -2.3h0m23.5 0.7h0m13.2 1.6h0m6.5 1.3h0m3 0.1h0m4 -0.2h0m4.6 0.1h0m25.5 -2.3h0m16 -0.3h0m3.4 3.6h0m20.5 -4.7h0m-210.5 10.4h0m0.8 -1.8h0m22.8 -1.9h0m0.8 4.6h0m4 -2h0m6.4 0.9h0m2.6 -1.3h0m3.9 1.1h0m1.3 -0.8h0m1.6 -2.9h0m5.3 4.9h0m1.6 0h0m5.1 -0.3h0m4.7 -2.1h0m17.3 0.1h0m10 -0.3h0m0.2 2.1h0m5.9 -4.3h0m23.4 0.4h0m22.9 1h0m3.1 0.1h0m19.5 3h0m5.3 -0.1h0m6.6 0.4h0m6.8 -5.4h0m2.7 5h0m1.8 -1.6h0m31 -3.5h0m-211.8 8.1h0m2.5 -0.8h0m4 2.3h0m2.2 0.5h0m7.3 -0.4h0m2.1 0.8h0m0.1 -2.4h0m2.5 3.4h0m3.9 0h0m0.1 -1.7h0m16.8 0h0m4.5 -3h0m0.3 3.1h0m1.2 1.7h0m10.1 0.2h0m1.7 -3.6h0m0.7 3.3h0m36.2 -1h0m39.1 1.2h0m5.1 -2.1h0m1.6 -1.4h0m1.8 -1.2h0m13.8 4.3h0m0.9 -1.9h0m2.2 2.2h0m11.2 -4.1h0m9.2 0.4h0m17.8 1.3h0m14 0.2h0m5.3 -0.1h0m-205.5 4.5h0m4.7 1.3h0m3.5 1.9h0m5.9 -0.7h0m2.4 -4.3h0m7.8 1.6h0m4.1 2.8h0m9.2 -2.6h0m9.2 0.5h0m4.8 0.6h0m4 -0.2h0m3.1 -0.9h0m16 2.1h0m6.3 -1.2h0m12.3 -1.9h0m48 1.4h0m4.2 3h0m2.3 -2.8h0m21.5 2.9h0m7.8 -0.6h0m32.9 -3h0m-230.2 4.5h0m1.1 2.6h0m19.6 0.2h0m4.1 1.9h0m3.1 -2.1h0m5.3 -1.4h0m6.7 4h0m16 -2h0m8.7 2.2h0m9.8 -4.8h0m6.5 -0.2h0m6.7 0.4h0m7.3 3.9h0m11.9 -3.6h0m10.6 3.7h0m6.8 -2.1h0m11.4 2.5h0m3.2 -4.6h0m2.5 0.8h0m6.1 3.5h0m6.9 -4.2h0m5.3 1.8h0m19.8 0.5h0m33.2 0.3h0m-200.6 3.9h0m7.5 0.6h0m5.7 0.5h0m17 2.1h0m21.6 -0.9h0m11.6 -1h0m5.4 1.8h0m14.2 -2.5h0m2.1 1.8h0m9.1 -0.4h0m9.7 -0.9h0m8.2 0h0m7.9 -1h0m6.3 2.2h0m10.7 0.2h0m3.8 -0.2h0m6.3 0.5h0m22.9 0.2h0m7.3 -3h0m1.2 -1.6h0m1.1 1.7h0m1.9 0h0m2.9 2.3h0m8.6 1h0m7.3 -3h0m-214.1 8.6h0m0.3 -3.2h0m23.1 1.8h0m4 -2.4h0m7.1 4.4h0m20.2 -1.9h0m0.9 -2.2h0m2.2 0.4h0m1.8 3.7h0m2 -4.9h0m11.3 5.4h0m14.6 -5.3h0m19.6 3.3h0m11.5 -3.3h0m10.3 2h0m8.1 2.2h0m3 -2.2h0m5.1 0.2h0m2.2 2.6h0m1.9 -4.3h0m2.8 2.9h0m8 -0.3h0m2.7 2h0m5.6 -4.2h0m15.4 1.6h0m4.3 -2.5h0m7.9 2.2h0m0.1 -2.3h0m4 3.3h0m0.5 -3h0m3.2 5.3h0m5 -5.9h0m2.6 2.5h0m7.3 -1.4h0m1.9 0h0m-197.8 8.7h0m8.9 1.8h0m7 -2.3h0m1.9 -1.6h0m4.8 -0.4h0m9.3 0.5h0m0.8 2.5h0m8.3 0.3h0m21 -3.2h0m0 4.5h0m7.4 -5h0m2.1 3.4h0m7.1 -0.2h0m1.8 1.7h0m2.9 0.1h0m8.5 -4.9h0m4.7 1.2h0m11.2 2.3h0m14.7 -0.2h0m4.3 -3.5h0m0.5 3.6h0m6.6 1.1h0m1.9 -3.3h0m3 3.3h0m12.7 0.1h0m0 -3.8h0m2.8 2.6h0m0.3 0.9h0m4.1 -3.8h0m29.8 -0.3h0m0.8 4.5h0m3.9 -4.3h0m2.4 2.2h0m3.1 -0.2h0m-207.2 7.3h0m22.5 0.5h0m9.4 -0.5h0m4.6 -4.1h0m9.7 -0.3h0m12.5 2.2h0m2.9 3h0m2.7 -0.6h0m13.8 -0.4h0m10.6 -2.5h0m3.3 3.1h0m2.6 -4.2h0m30.6 2.3h0m13.9 -0.7h0m30.7 2.4h0m-181.7 5.2h0m23.2 -3.2h0m13.4 1.9h0m23.4 -2.1h0m25.6 4.8h0m8.7 -2.2h0m16 0.2h0m1.6 -1.9h0m0.1 2.3h0m2.3 1.8h0m14.6 -0.7h0m7 0.7h0m1.8 -5.2h0m0.2 5.2h0m12.1 0.3h0m0.1 -5.6h0m0.9 4.8h0m7.4 -4.9h0m7.3 3.5h0m3.5 1.4h0m6 -4.2h0m11.3 2.7h0m10.5 -0.6h0m7.7 2.4h0m-200 1h0m29.2 1.9h0m2.8 2.2h0m5.4 -2.5h0m7.6 2.7h0m0.5 -3h0m7.3 0.2h0m16.2 -0.3h0m11.3 2.2h0m4.7 1h0m8.9 -0.6h0m7.6 -0.7h0m1.8 2.1h0m8.7 -3.9h0m11.5 0.3h0m14.8 3.9h0m10.4 -4.1h0m24.1 -1.7h0m2.1 1h0m4.2 2.2h0m6.5 -2.2h0m35.1 0.9h0m4.1 0.6h0m-204.3 5.9h0m2.6 2.5h0m4.9 -0.3h0m5.7 -2.8h0m4.4 -0.9h0m3.7 3.3h0m6.9 -4.4h0m3.8 2.2h0m5.5 2.6h0m6.6 -1.4h0m6.4 -0.2h0m2.4 -2.6h0m2.4 0.3h0m5.9 -0.5h0m0.2 2.2h0m0 2.4h0m3.2 -0.2h0m9.4 -0.3h0m31.2 -4.2h0m16.7 1h0m1.6 1.3h0m10.1 2h0m7 -2.4h0m12.8 -1.9h0m10.4 2.8h0m1.5 -3h0m0.4 2.2h0m1.9 0.9h0m6.5 0.1h0m21.7 -0.3h0m5 1.4h0m4 -1h0m-219.2 5.7h0m6.9 -2.3h0m19.4 2.6h0m1.2 -0.4h0m9 0.8h0m5.7 -0.6h0m3.8 2.5h0m0.9 -1.8h0m3.8 -3.1h0m3.2 4.6h0m3.5 -2.4h0m4.4 -1.3h0m2.9 -0.6h0m22.9 2.5h0m4.9 0.3h0m24.8 -2.4h0m7.9 4h0m4.5 -3.9h0m3.9 2.1h0m1.9 -0.2h0m2.4 0.8h0m2.8 -3.6h0m4.5 1.3h0m5.6 -1.3h0m7.9 3h0m10.1 0.6h0m5 -0.5h0m3.3 -0.4h0m1 -1.8h0m6.5 -0.6h0m25.9 3h0m-205.2 4.5h0m2.3 -2.1h0m11.3 3.9h0m16.7 -0.3h0m4.3 0h0m20.4 -1.3h0m11.2 -2.5h0m9.7 3.8h0m18.2 0.4h0m4.7 -1.6h0m4.8 0h0m2.4 -2.1h0m7.2 1.5h0m4.4 -0.3h0m10.9 3h0m5.6 -0.8h0m4 -3.4h0m5 3.2h0m10.8 -0.8h0m7.7 1.7h0m1.7 -4.2h0m3.9 4.8h0m15.1 0.1h0m8.9 -1.1h0m3.7 -2.2h0m3.3 2.6h0m6.8 -2h0m-216.7 8.7h0m7.3 -4.3h0m9.5 3.7h0m48 -3.2h0m2.5 -0.1h0m2 1.9h0m25.7 1.8h0m8.9 0.4h0m25.4 -4.6h0m16 1.5h0m1.3 1.1h0m10.5 -3.4h0m2.2 2.5h0m11.6 2.5h0m11.3 -4.6h0m5.6 4.2h0m1.5 -4.4h0m7.9 4.3h0m12.4 -2h0m0.4 -1.1h0m1.5 4.2h0m9.3 -3.2h0m-195.3 7.8h0m7.3 -3.1h0m8.3 -1h0m18.4 4.4h0m5.3 -2.8h0m11.4 -0.7h0m0.4 4.6h0m3.3 -1.6h0m9.9 0h0m2.7 -0.6h0m1.1 -2h0m0.6 2.4h0m4.1 0.2h0m2.8 -0.5h0m10.9 1.9h0m5.1 -2h0m0.8 -2.6h0m4.2 4.7h0m0.3 -4.7h0m5.7 -0.8h0m5.3 2h0m16.1 -0.9h0m4.7 4.5h0m26.9 0.1h0m9.2 -1.8h0m3.3 -4.2h0m-192.9 11.6h0m8.4 -1h0m2 -2.5h0m9.1 1h0m9.7 -0.1h0m4.3 -1.8h0m10.1 -0.1h0m9.4 -0.2h0m0.8 2.5h0m14.3 1.8h0m5.3 0h0m12.6 -3.1h0m4.7 3.7h0m12.5 -4.8h0m5.8 3.2h0m1.3 -0.7h0m22.3 -3.3h0m7.7 4.8h0m16.1 0.2h0m4.1 -4.1h0m2.4 -1h0m0.3 5.4h0m6 -0.9h0m19.5 0.6h0m1.6 -4.2h0m9.4 2h0m1.3 -1h0m3.5 0.6h0m0.1 2.5h0m1.4 -4.6h0m4.8 0.5h0m0.9 4.4h0m-193.8 6.4h0m1.7 -4.2h0m18.9 -0.8h0m0.4 2.2h0m2.3 -1.2h0m4.9 1.9h0m0.8 -0.4h0m29 0.6h0m1.4 1.8h0m17.9 0.2h0m10 -1.6h0m0.1 -2.5h0m8.7 1.4h0m7.5 1h0m0.3 1.7h0m14 -4.4h0m13.6 -0.5h0m9.1 1h0m2 2h0m0.6 -2.7h0m6.2 0h0m2.7 -0.5h0m6.9 0.2h0m9.5 0.8h0m12.4 -0.5h0m0.6 4h0m6.7 -4.8h0m0.2 3.6h0m3 -0.1h0m-207.9 3.9h0m2.2 1.9h0m7.4 0.9h0m3.7 -0.5h0m5.5 -3.7h0m2.7 2.4h0m27.4 2.2h0m11.5 -0.2h0m18.4 -0.1h0m24.6 -2.3h0m5.6 -2.5h0m17.2 4.9h0m3.5 -4.2h0m6.5 2h0m7 -0.4h0m1.9 2.2h0m27.2 0.8h0m17.2 -5.1h0m7.8 4.1h0m2.4 -0.6h0m3.6 0.3h0m6.4 0.2h0m2.5 1.1h0m-197.8 2h0m22.9 1.3h0m15.2 -1.2h0m22.1 -1.2h0m3.3 2.6h0m5.5 -2.6h0m1.8 0.7h0m5.2 -0.7h0m8.4 0.1h0m0.4 5.5h0m9.1 0h0m11.8 -2.8h0m14 2.1h0m10.6 0h0m7.5 -0.5h0m0.4 -1.5h0m8.3 2.8h0m4.8 -1h0m29.8 0.5h0m11.5 -3.9h0m2.9 -0.3h0m-163.2 6.6h0m4.4 -0.2h0m2.2 -1.4h0m54.7 1.3h0m62 0h0" stroke="#b4b0cf" stroke-width="1.6" stroke-linecap="round" fill="none"/><path d="M0 0m38.1 1.5h0m4.3 -0.6h0m27.6 -0.3h0m3.3 1h0m4.2 0.2h0m2.4 -1h0m15.1 -0.2h0m11.6 -0.2h0m23.3 0.3h0m1.7 1.9h0m1.4 -2.1h0m17.3 1.4h0m4.7 0h0m27.6 -1.1h0m-151 2.6h0m5.7 2.1h0m16 -1.7h0m5.1 0.1h0m16.7 4h0m8.5 -2.8h0m1.1 2.9h0m3.3 -0.6h0m0.4 -1.9h0m9.2 -1.7h0m2.7 4h0m13 -2h0m4.7 -1.5h0m4.3 3.2h0m14.5 -3.7h0m0.1 2.5h0m5.3 0.2h0m1.2 -1.5h0m5.3 0.6h0m30.4 0.3h0m2.2 -2.5h0m0.9 1.8h0m2.6 0.6h0m9.1 -2.8h0m12.1 2.7h0m-189.3 4.5h0m2.3 -0.4h0m4.9 2.5h0m2.1 2.1h0m2.3 0.1h0m2.8 -3.9h0m4 1.7h0m10.3 0.3h0m4.1 0.2h0m28.1 2.1h0m2.4 -1.5h0m1.7 -2.9h0m1.9 0.4h0m2.9 -0.9h0m8.9 4.6h0m16.2 -1.7h0m13.1 1.9h0m1.2 -4.8h0m6.2 0.9h0m27.1 1h0m2.3 2.4h0m9.6 -1.1h0m0.9 1.6h0m0.9 -0.2h0m0.7 -2.2h0m2.8 1.1h0m20.1 -1h0m6.2 0.5h0m0.6 -2.7h0m2.8 4.1h0m0 -1.5h0m-150.1 2.2h0m9.9 4.4h0m8.4 0.5h0m7.1 -0.9h0m3 -4h0m6.8 4.9h0m4 -0.6h0m2.5 -0.3h0m4 -3.9h0m9.1 4.1h0m3.1 -2h0m13.3 2.9h0m25.2 -0.5h0m23.2 -2.1h0m12.1 1.7h0m13.3 -2.2h0m2.2 2.7h0m12.3 -1.8h0m1.2 -1.2h0m-206.9 4.3h0m5.6 4.8h0m4.7 -0.3h0m10.6 0.9h0m2.9 -0.6h0m3.7 -1.8h0m23.3 2.5h0m17.2 -0.7h0m1.2 0.6h0m2.5 -2.6h0m11.8 0.5h0m23.3 -0.1h0m4 -3h0m6.7 4.6h0m5.3 -1.9h0m5.7 -0.2h0m10.4 -2.1h0m17.5 1.7h0m5.4 -2.2h0m11.2 0.8h0m9 5h0m0.4 -3.6h0m2.6 2.6h0m7.9 -1.9h0m9.3 -2h0m4.7 2.8h0m2.5 1.3h0m-202.7 3.3h0m0.4 2.4h0m3.4 -2.7h0m15 1h0m15.7 0.1h0m3.6 2.5h0m18.2 -5.7h0m11.9 5.8h0m4.4 -2.4h0m5.5 0.7h0m30.7 -2h0m0.3 -2h0m9 3.2h0m9.7 0h0m19.4 1h0m12.8 -4.3h0m7.9 5.8h0m2.3 -4.4h0m8.1 -0.3h0m8.1 3.1h0m3.4 -4.1h0m9.1 2.3h0m4.7 -0.3h0m11.3 2.6h0m-221.5 5.6h0m5.4 1.1h0m10.7 -2.9h0m0.1 1.7h0m2 -1h0m2.3 1.4h0m7.5 -2.7h0m2.1 2.6h0m4.8 -2.3h0m11.1 0.9h0m2.2 -0.7h0m7.1 0.3h0m12 2.5h0m1.7 -4.7h0m17.3 4.5h0m5.3 -4.4h0m18.8 4h0m7.3 -0.5h0m2.2 1.2h0m4 -4.7h0m10.1 1.8h0m2.5 2h0m6.1 -1.8h0m13.7 0.1h0m17.1 2.1h0m2.2 -2.4h0m8.3 -0.6h0m5.9 1.2h0m2.4 0.2h0m0.6 -2.4h0m2.6 2.3h0m1.3 -2.9h0m0.8 2.7h0m15.2 -0.7h0m9 0.5h0m-225.8 8.3h0m13.8 0.7h0m4.3 -1.7h0m21.7 -2h0m0.8 3.5h0m3.5 -4.7h0m1.3 4.7h0m5.2 -4.1h0m3 -0.9h0m4.4 4.5h0m1.3 -2.1h0m11.5 -2.4h0m5.6 5.2h0m3.7 -4.2h0m4.8 2.7h0m8.6 -0.9h0m9.3 2h0m1.2 -2.5h0m8.1 0.7h0m12.7 -1.6h0m5.7 1.2h0m22.8 -1.6h0m9.4 3.7h0m9.3 -2h0m2.8 0.3h0m4.6 1.9h0m30.5 -4.7h0m12.9 1.3h0m2.8 3.3h0m-229.7 1.1h0m16.4 1h0m19.9 0.1h0m0.7 2.2h0m4 -1.5h0m1.7 -0.7h0m8.1 2.7h0m11.1 0.2h0m2.8 0.5h0m1.6 -0.2h0m4.3 0.1h0m17.9 -2.7h0m2.6 -1.6h0m0.8 2h0m6.6 1h0m15.9 -1.3h0m16.7 1.4h0m2.5 0.5h0m3.3 -2.4h0m14.3 -1.3h0m13.2 1.7h0m21.4 1.8h0m4.2 0.9h0m-174.3 4.7h0m6.4 -1.2h0m12.6 -1h0m2.1 4.1h0m10.2 0.1h0m5.2 -1.7h0m15.9 -3.8h0m2.6 5.8h0m0.2 -5.1h0m18 1.7h0m5.2 1.2h0m3.6 -0.4h0m3.2 -2.2h0m7.2 3.7h0m10.5 0.6h0m10 -3h0m4.4 0.9h0m29.9 1.6h0m4.8 -4.6h0m21.1 2.4h0m4 -1.2h0m16.8 4.2h0m6.1 -0.5h0m2.6 -0.2h0m1.8 -2.8h0m3.2 -1.6h0m-217.7 9h0m16.4 -1.2h0m23.5 -0.7h0m6.9 3.8h0m16.7 -1.8h0m1.5 0h0m11.4 1.9h0m57.1 -4.2h0m9.5 4.4h0m7.6 -3.3h0m4.6 3.2h0m27.7 0.1h0m22 -5.7h0m13.5 -0.1h0m0.9 5.8h0m4.9 0.1h0m0.1 -4h0m-216.1 6.1h0m28.7 -0.2h0m3.7 3.4h0m1.4 -2.3h0m2.3 -0.4h0m2.6 0.1h0m5.2 2.6h0m0.8 0h0m7.4 0h0m15.6 -2.2h0m36 2.4h0m4.6 -2.9h0m0.8 0.7h0m4.7 -0.8h0m10 2.3h0m3.9 -0.4h0m30.1 -1.8h0m9.6 -0.5h0m7.7 3.4h0m10.4 -3.6h0m24 1.3h0m5.6 1.1h0m-219.7 5.2h0m2 -0.6h0m1.8 0.3h0m2.8 2h0m0.5 -4.1h0m29.7 2.9h0m9.1 -3.1h0m12.7 0.4h0m2.7 1.7h0m19.4 -0.1h0m22.8 1.3h0m7.9 -3.1h0m3.2 0.9h0m30.4 3.8h0m13.7 0.1h0m22.7 -1.5h0m4.4 -0.2h0m4.3 -2.7h0m2.3 3.6h0m13.8 0.4h0m3.2 -3.7h0m1.2 0.1h0m-218.2 8.8h0m20.5 -0.8h0m2.4 -1.8h0m15.9 3.2h0m4.8 -1.5h0m6.4 -3.6h0m2.9 3.7h0m7.3 0.2h0m18.1 -1.7h0m0.7 -2.3h0m11.2 4.8h0m2.2 -2.7h0m15.8 0.5h0m47.6 -1h0m6 3.3h0m1.1 1h0m13.7 -4.2h0m15.2 3.3h0m31.1 -3h0m5.2 0.8h0m2 -2.5h0m-212.1 6.4h0m7.7 4.7h0m15.6 -5.1h0m2.7 5.1h0m4.9 -1.6h0m1.5 -3.4h0m5.5 5.5h0m7.1 -2.7h0m13.3 -1.8h0m12.8 4.5h0m4.5 -1.4h0m10.7 -1.1h0m13.6 0h0m2 0.2h0m2.4 -3.6h0m3.9 0.2h0m0.8 4.3h0m26.6 -2.2h0m3.1 0.8h0m2 1.7h0m17.7 -4.3h0m3.9 2.9h0m5.6 -0.6h0m0.6 2.3h0m2.5 -2.3h0m6.4 -2.4h0m12.5 2h0m1.7 -1.4h0m-209.2 10.6h0m2.6 -1.5h0m4.4 1.9h0m10.6 -2.9h0m2.4 -1.6h0m2.4 2.6h0m16.8 -4.1h0m1.4 3.3h0m30.6 0.4h0m1.9 -0.4h0m2.9 2.1h0m4.6 -3.1h0m4.3 1.8h0m0.4 -2.8h0m1.1 0.4h0m6.8 1.7h0m17 0.8h0m7.6 1.3h0m4.7 -0.1h0m43 -1.6h0m10.8 -2.9h0m16.4 2.4h0m7.7 -1.7h0m2.4 -0.6h0m3.2 0.4h0m23.4 0.5h0m0.9 3.4h0m-232.4 3.3h0m31.7 2.3h0m11.4 -3.1h0m2.5 -1.8h0m9.9 1.8h0m5.5 2.9h0m0.2 -4.6h0m14.3 2h0m18.9 0.2h0m4.6 -1.4h0m9.1 0.9h0m8.6 0.4h0m11 0.4h0m0.1 -2.3h0m5.1 2.2h0m1.9 0.2h0m3.1 1.5h0m11.2 -2.6h0m5 -0.7h0m10.4 3.6h0m3.5 -2h0m3.3 1.7h0m4.6 -1.5h0m10 -2.2h0m12.9 1.4h0m2.8 -0.2h0m5.6 3.3h0m1.4 0.2h0m4.8 -3.1h0m2.4 -0.1h0m0.4 -1.6h0m10.8 1.5h0m2.6 3.6h0m-217.8 5.3h0m2.4 0.8h0m5.7 -4.7h0m7.9 4.8h0m6 -0.8h0m0 -4.2h0m9.3 -0.1h0m32.5 2.9h0m1.7 2.1h0m2.3 -0.4h0m9 -0.2h0m4.7 -4.7h0m9.6 0.6h0m5.3 4h0m8.5 -3.4h0m0.2 2.4h0m4.7 -0.1h0m13.7 -0.3h0m2.2 0.6h0m45.5 -0.6h0m10 0.1h0m4.8 0.6h0m2.3 -2.5h0m2 1.1h0m4.7 -2.2h0m12.9 3.2h0m3.5 0.3h0m1.2 -3.5h0m2.7 2.4h0m-212.2 4.7h0m17.5 2.1h0m3.8 2.1h0m0.6 -5.6h0m10.5 3.7h0m40.2 -2.3h0m7.1 -0.3h0m8.7 -0.1h0m15.9 -1h0m1.5 1.2h0m4.6 -1.1h0m0.1 3.4h0m11.4 0h0m5.2 0.1h0m7.8 0.5h0m1.8 1.4h0m6.6 -3.6h0m7.3 -0.8h0m1.7 1.4h0m5.1 1.2h0m19.7 0.7h0m37.5 -2.8h0m-216.9 7.1h0m8.5 0.6h0m24.4 1.4h0m18.1 -2.4h0m4.7 2.7h0m4.2 -3.2h0m6.9 3.2h0m14.2 -2.9h0m9 -1h0m5.2 -0.5h0m1.6 4.4h0m9.7 -5.1h0m1.9 1h0m5.6 2.3h0m4.3 2.3h0m4.1 -5.2h0m0.2 4h0m2 0.5h0m11.9 -1.8h0m5.1 2.7h0m34.6 -5.4h0m3.3 3.9h0m5 -4h0m1 2.9h0m4.5 1.2h0m1.5 -4.3h0m14.4 4.4h0m6.8 -1.9h0m-218.3 4.4h0m7.9 4.7h0m0.1 -3.7h0m23 -0.4h0m19.7 2.7h0m27 -2.6h0m2.9 2.3h0m24.9 -2.1h0m3.6 3.4h0m5.8 -4.7h0m16 2.5h0m27.6 0.5h0m4.1 -2.5h0m22.7 2.3h0m9.1 -1.5h0m5.6 3.5h0m2 -1.8h0m0.1 -2h0m18.5 1.8h0m-227.4 2.4h0m2 4.6h0m26.9 -1.8h0m9.4 -0.8h0m7.5 2.3h0m2.6 -2.4h0m0.8 0.6h0m8.3 -2.3h0m5.8 0.2h0m2.5 1.8h0m14.1 0.5h0m8.6 1.2h0m19.7 -0.8h0m2.4 -2.8h0m7.8 3.9h0m4.4 -1.1h0m10.2 -2.8h0m2.1 -0.1h0m23.4 4.2h0m0.1 -2.7h0m10.1 -1.4h0m0.5 2h0m28.7 2.5h0m1.7 -3.2h0m4 -0.9h0m23.5 2.4h0m-228.6 3h0m16.5 0.6h0m10.4 2.6h0m1.2 -2.8h0m12.2 2.3h0m11.4 -1.3h0m1.5 4.5h0m5.5 -3.5h0m25.1 0.9h0m4.7 -3h0m0.4 5h0m14.7 -1.6h0m11.6 -0.6h0m0.7 -2.7h0m7.4 2.3h0m10.4 -1.3h0m4.6 -0.6h0m5.1 -0.3h0m2.1 1h0m31.9 0.2h0m2.9 -1.6h0m19.1 2.6h0m3.5 2.2h0m22.7 0h0m1 -1.7h0m-224 4.3h0m2.4 2h0m23.5 2.3h0m6.4 -1h0m0.4 -4.8h0m13.7 1.3h0m20.9 1h0m16 -1.2h0m2.6 4.4h0m17.5 -5.5h0m9.7 2.4h0m11.6 1.3h0m0.6 -2.4h0m23.2 2.3h0m3.3 -1.7h0m13.5 -1.9h0m18.5 3.8h0m7.1 0.1h0m0.6 -1.4h0m1.7 -1.4h0m4.5 4.5h0m3.6 -3.2h0m3.6 3.5h0m3.2 -1.9h0m1.3 0.7h0m2.3 -3.4h0m10 1.1h0m1.9 -0.7h0m6.5 0.6h0m-215.3 5.7h0m16.2 -1.4h0m1.3 4.9h0m2.2 -0.3h0m2.2 -1.9h0m3 1.6h0m0.6 -3.1h0m9.4 2.8h0m1.9 -2.4h0m0.3 2.5h0m3.2 -4.6h0m2.8 3.1h0m2.2 -2.8h0m7.6 3h0m4.2 -0.9h0m5.1 -1.6h0m22.3 0h0m6.8 4h0m7.8 -3h0m13 0.6h0m0 2.7h0m9.4 -3h0m2.7 2.7h0m4.3 -2.4h0m11.9 0.8h0m12.9 -1.4h0m1.8 2.6h0m1.6 -2.5h0m15.6 1.1h0m12 1.7h0m9 0h0m19.7 -2.8h0m2.1 0.8h0m-226.8 6.5h0m1.3 1.9h0m0.1 -3.2h0m5.5 0.8h0m2.4 3.1h0m8.1 -1.9h0m9.3 -0.3h0m14 1.5h0m4.8 -2.1h0m6.6 0.8h0m1.1 -3.2h0m2.2 4.5h0m3.7 -4.2h0m8.1 1h0m1.1 1.2h0m10.1 -1.3h0m8.2 1.8h0m10.3 0.6h0m25.2 -0.3h0m13.1 -2.5h0m14.2 4.3h0m3 -1.8h0m9.1 1.2h0m5.5 -2.4h0m10.5 -2.2h0m4.7 2.9h0m0.8 -3.1h0m-179.1 5.9h0m2.2 2h0m0.3 -2.1h0m3.3 3.8h0m0.9 -3.8h0m1 2.8h0m10.4 -0.3h0m5.5 2.3h0m11.9 -4.7h0m11 1.6h0m11.6 1.1h0m4.7 2.2h0m2.1 -3.7h0m27.7 1.1h0m5.2 1.3h0m15.3 -3.5h0m22.3 4.7h0m11.8 -3.3h0m15.9 2.2h0m4.9 1.1h0m13.5 -3.3h0m6 0.7h0m6.9 2.4h0m-193.5 1.6h0m1.5 -0.6h0m5.4 3.4h0m10.9 1.6h0m7.1 -2.3h0m2.3 -1.9h0m0.3 2.8h0m2.7 0h0m7.8 -0.3h0m1.2 1.4h0m5.5 -2.3h0m16.7 -1.4h0m8 1.8h0m5.4 -1.5h0m55.3 4.3h0m2.8 -4.7h0m3.1 4.9h0m1.7 -3.2h0m0 -0.9h0m1.9 1.5h0m2.1 0.2h0m2.8 -0.1h0m4.2 -0.6h0m49.1 1.1h0m8.6 1.2h0m-199.5 2.1h0m47.9 -1h0m44.2 1.7h0m13.3 0h0m28 -0.7h0m31.5 0.9h0" stroke="#aeaaca" stroke-width="1.9" stroke-linecap="round" fill="none"/><path d="M0 0m44.7 0.4h0m22.4 2.5h0m47.5 -2.1h0m34.1 -0.1h0m37.1 -0.3h0m6.3 0.6h0m16.5 -0.7h0m-189.7 8.3h0m2.5 -2.4h0m2.9 -2.2h0m1.9 -0.7h0m4.1 1.9h0m3 -1.8h0m15.8 4.3h0m21.1 -1.2h0m0.6 1.7h0m8 -2.1h0m14.5 -0.7h0m17.7 0.3h0m4.6 -0.3h0m25.4 -1.7h0m31 4.8h0m1 0.3h0m0.6 -2.9h0m22.9 2.5h0m2.8 -5.3h0m11.3 4.3h0m2.2 0.4h0m-183.2 2.9h0m6.6 -0.4h0m3.6 2.5h0m0.2 2h0m5.6 0.1h0m3.4 -5.3h0m16.1 3.2h0m7.5 -0.9h0m6.3 -1.5h0m27.6 3.7h0m0.4 -1.5h0m11.8 -2.6h0m30 4.2h0m8.3 0.1h0m9.9 -1.2h0m18 -0.9h0m5.3 2.6h0m7.2 -4.8h0m7.7 -0.1h0m3.3 4.4h0m4.7 -1.7h0m3.5 -1.7h0m-197.4 6.1h0m16.5 2.4h0m4.4 0.5h0m4.6 -2.8h0m3.1 2.8h0m3.6 -1.1h0m14.6 -1.7h0m1.7 2h0m0.1 -3.6h0m15.7 1.6h0m38.1 0.2h0m4.1 -0.9h0m9.5 0.2h0m16.1 0.3h0m1 0.5h0m1 -1.6h0m1.3 4.3h0m3.1 -0.8h0m9.7 -2h0m12.7 2.8h0m7.6 -4.6h0m6.9 -0.3h0m0.1 4.7h0m4 -0.6h0m6.4 -1.3h0m8.2 0.8h0m1.4 0.1h0m-200.4 2.4h0m2.2 2.7h0m3.6 0.1h0m15.1 -0.6h0m0.9 -1.4h0m32.2 2.1h0m4.4 0.5h0m6.3 -0.8h0m5.4 3h0m4.5 -2.3h0m9.3 -2.5h0m11.5 4.7h0m0.3 -4.2h0m1.6 1.6h0m2.4 -2.1h0m15.4 0.5h0m7.6 1.7h0m4.2 1.5h0m4.1 -3.2h0m5.6 -1.1h0m11.9 4.8h0m4.3 0.4h0m1.8 -1.9h0m1.7 1.5h0m28 -2.8h0m5.6 -1.2h0m2.1 2.3h0m2.4 -1.3h0m2.4 -2h0m1.6 2.6h0m1.9 -2.5h0m-208.6 9.3h0m8.9 -1.6h0m3.9 1.5h0m3.4 -1.6h0m8.5 0.4h0m2.5 1h0m7.5 0.9h0m8.3 -1.8h0m32.1 1.2h0m27.5 -1.4h0m13.7 1.5h0m4.8 -2.1h0m3.7 -0.2h0m34.1 -1.3h0m4.6 3.6h0m5 0.7h0m3 0.1h0m30.4 -4.4h0m5.6 3.2h0m8.9 -1.9h0m-200.4 10.2h0m2.8 -0.3h0m5.6 -4.3h0m2.9 1.9h0m1.6 -0.8h0m2.8 3.1h0m11.8 -1.1h0m4.7 0.6h0m10.7 0.6h0m6.1 -4.7h0m2 0h0m11.7 2.1h0m5.6 1.7h0m3.3 1.2h0m6.7 -5.5h0m18.4 0.5h0m5.8 4.3h0m4.9 -4.1h0m16.5 -0.4h0m21 5.2h0m12.9 0h0m11.8 -3.8h0m30.2 3h0m5.3 -4.8h0m6.9 0.1h0m-233.4 8.6h0m32.4 2.4h0m1.1 -4.1h0m0.8 4h0m7.1 -3.8h0m6 -0.8h0m13.5 3.7h0m15.6 -1.2h0m6.7 -1.3h0m0.4 2.6h0m1.3 1h0m11.7 0.5h0m5.9 -3h0m9.2 -0.9h0m0.9 -0.1h0m12.9 -0.4h0m1.8 0.5h0m1.5 2.3h0m10.4 1.6h0m1.6 -3.8h0m50.7 -1.6h0m4.6 1.5h0m6.8 -1.3h0m4.8 1.5h0m3 1.3h0m10.3 1.7h0m2.4 0.1h0m0.4 -1.5h0m-201.9 2.8h0m0.2 3.3h0m8.4 0.4h0m1.4 -2.7h0m2.6 3.5h0m23.3 -4.6h0m18.8 -0.2h0m1.7 0.4h0m1.2 4.3h0m3.9 -0.4h0m15.4 -3.1h0m2.4 1.3h0m1.4 2.1h0m53.7 0.1h0m17.4 -4.6h0m3.1 4h0m0.3 -3.9h0m7.4 1.2h0m4.1 -1h0m9.9 3.8h0m3 -2h0m6.5 -0.9h0m9.6 4.5h0m4 -1.3h0m6.5 -1.8h0m0.2 1.8h0m2.2 -3h0m-230.4 9h0m23.7 -3.4h0m2.5 3.8h0m17.3 -0.4h0m19.9 -3.6h0m13.2 0.3h0m0.1 3.3h0m3.4 -3.5h0m7.6 4.6h0m2.2 -5.3h0m0.2 4.1h0m16.1 -3.5h0m2.4 2h0m14 2h0m9 -3.6h0m0.4 4.5h0m3.7 -5.3h0m0.8 4h0m9.2 0h0m12.7 -1.4h0m0.2 -2h0m5.3 1.1h0m1.7 -1.6h0m10.4 0.6h0m19.3 1.9h0m1 -2.6h0m2 1.6h0m6.2 2.4h0m1.2 -4.3h0m4.3 2.2h0m15.9 0.8h0m5 1.8h0m-216.8 0.9h0m3.3 5.6h0m16 -1.1h0m9 -0.1h0m29.6 -3.3h0m3.6 0h0m0.7 2.2h0m5.2 -2.3h0m1.9 3.6h0m2.8 -2.7h0m8 3.4h0m2.3 -3.1h0m2.3 1.8h0m0.7 1.6h0m1.9 -0.1h0m11.9 -4.1h0m8.6 -0.2h0m11.8 2.9h0m2.5 1.4h0m6.2 -1h0m8 -3.2h0m13.2 1.1h0m11.3 0.8h0m32.7 -3.3h0m0.3 5.9h0m3.5 -2.8h0m0.2 -1.9h0m8.8 4.2h0m3.5 0.1h0m7.4 -1.8h0m-205.8 5.4h0m7 -0.3h0m44 2.4h0m14 -0.5h0m15.5 -3.9h0m34 3.9h0m4.9 -2.3h0m11.4 -0.6h0m16.7 3.4h0m1.4 -3.1h0m4.7 2.6h0m0.8 -2h0m3.9 0h0m14.7 -1.9h0m5 3.5h0m2.1 -1.3h0m4.7 -1.2h0m6.1 -1.5h0m0.8 2.3h0m1.9 0h0m-218.2 6.4h0m21.9 -2.5h0m3.6 1h0m19.9 -0.2h0m2 1.5h0m4.4 0.2h0m7.7 -2.5h0m3.6 4.8h0m0.8 -1.8h0m5 -0.9h0m4.7 0.5h0m1.5 1.1h0m7.9 0.9h0m4.3 -4.5h0m21.9 4.3h0m0.6 -2h0m22.6 2.3h0m3.1 -1.4h0m0.2 -2.1h0m11.4 1.1h0m9.1 -0.2h0m4.8 -1.8h0m4.8 4.9h0m8.3 -1.4h0m9.6 -3.2h0m1.5 0.2h0m11.7 -0.8h0m9.1 5.3h0m4.5 -2.6h0m9.4 2.6h0m3.4 -5h0m6.1 0.8h0m-227.4 6.8h0m7.5 1.2h0m13.6 -3.3h0m29.1 2h0m21.7 -0.9h0m8.5 0h0m2.5 -0.9h0m13.8 -0.3h0m0.1 5.7h0m1.8 -4.1h0m23.6 -0.4h0m13.1 3.8h0m6.9 -0.3h0m14.8 -1.4h0m10.3 1.1h0m21.2 -4.6h0m5.2 4.6h0m13.6 -0.8h0m1.1 -2.1h0m12.5 -1.6h0m-216.9 6.4h0m43.8 4h0m9.6 -3.9h0m4.7 4.9h0m1.9 -5.1h0m2.3 1h0m14.7 3.5h0m11.1 -4.3h0m2.1 2.1h0m2.2 1h0m13.6 -3.1h0m25.4 0h0m6.2 4.9h0m20.7 -2.7h0m2.7 -0.5h0m14.4 -1.9h0m4.9 -0.2h0m7.2 3.2h0m17.8 1.2h0m13.1 1.2h0m7 -1.2h0m-179.5 6.8h0m5.9 -4.3h0m3.5 0.8h0m23.2 2.8h0m6.3 0.8h0m3.7 0.1h0m3.2 -4.8h0m3.1 0.1h0m15.9 4.8h0m21.4 -4.8h0m23.2 0.2h0m1.6 -0.1h0m9.4 2.6h0m9.3 1.8h0m2.7 -3.3h0m13.6 -0.9h0m0.2 4.7h0m2.2 -1.6h0m6.7 -0.6h0m10.3 1.7h0m9.4 0.5h0m-223.1 5.1h0m25.7 -2.6h0m4.1 2.6h0m16.2 -0.2h0m6.9 0.4h0m3 -3.2h0m11.7 -1.3h0m6.3 1.8h0m7.5 2.2h0m4.9 -3.8h0m10.8 -0.3h0m3 4.7h0m18.2 -4.8h0m2.1 4.2h0m5 0.4h0m10.3 0.2h0m2.9 -0.7h0m2.6 0.1h0m8.6 -0.7h0m33.3 1.2h0m2.2 -5h0m4.6 2.6h0m7.7 2h0m2.5 -3h0m5.3 -1h0m4.9 4.4h0m8.2 -0.2h0m0.3 -5h0m2.7 0.1h0m2.4 4h0m4.3 1h0m-220.5 1.4h0m6.9 2.8h0m11.1 -0.5h0m14.5 0.2h0m12.9 1.8h0m5.5 -0.8h0m7 -0.9h0m2.4 2.1h0m3.5 -0.2h0m10.3 -3.9h0m5.8 0.2h0m0.4 3.9h0m8.9 -4.7h0m3.2 4.6h0m15.9 -4.3h0m10.8 0.1h0m18.7 0.3h0m4.6 -0.6h0m4.1 1.1h0m14.5 0.9h0m22.8 2.3h0m11.2 -2.2h0m2.3 2.8h0m1.1 -2.5h0m11.3 -1.3h0m8.3 -0.9h0m-221.4 6.5h0m24 -1.2h0m9.4 3.4h0m16.4 2.3h0m1.7 -0.9h0m4.3 0.9h0m4.2 -2.3h0m6.1 -0.7h0m11.3 -2.5h0m14.7 1.6h0m16.2 3.9h0m0.9 -3.5h0m3.7 -2.1h0m10.3 4.2h0m3.5 -2.4h0m18.9 3.9h0m11.5 -2.1h0m12.3 1.2h0m5.7 -4.7h0m0.8 1.8h0m0.1 1.9h0m2.4 -3.6h0m4.1 4.6h0m16.7 -2.3h0m3.3 -2.6h0m0.9 3.8h0m1.5 -2.3h0m12.4 -0.3h0m-215.9 8.4h0m6.9 -0.5h0m0.2 1.7h0m17.9 -2.3h0m4.5 0.5h0m1.6 1.7h0m2.4 1.2h0m11.5 -3.2h0m7.7 2.1h0m13.7 -2.3h0m2.7 -2.4h0m6.6 2.4h0m1.3 0.6h0m5.7 -3h0m1.8 0h0m2 0.1h0m7.5 5.4h0m4.5 -3h0m7.3 2.2h0m26.3 -1.9h0m3.6 0h0m20.5 2h0m2.2 -0.4h0m18.4 -0.2h0m4 0.8h0m4.4 -4.7h0m16.2 2.4h0m2.5 -0.1h0m5.3 -2.4h0m1.4 -0.1h0m6.6 0.8h0m-224.6 8.3h0m11.4 -1.7h0m1.6 1.8h0m2.3 2.1h0m1.1 -4.7h0m6.1 3.3h0m2.1 1.4h0m16.8 -3.5h0m9.8 1.8h0m2.1 -2.5h0m6.8 1.8h0m13.6 2.2h0m7.2 -0.9h0m4.1 1h0m0.1 -4.5h0m6.4 0.2h0m16.1 -0.1h0m30.8 3.1h0m4.1 -3.2h0m7.8 4.9h0m4.2 -4.4h0m1.6 4.2h0m0.8 -1.5h0m17.1 -2.5h0m18.5 0.1h0m4.4 -1.1h0m5 0.9h0m6.7 -0.4h0m9.5 4.4h0m12.1 -3.3h0m-228.2 6h0m8.9 -0.6h0m0.6 2.9h0m8.7 -1.8h0m4.9 -1h0m23.2 2.5h0m7.2 -2.5h0m24.9 -1.3h0m2.8 2h0m9.4 -1.9h0m4.1 4.8h0m8.4 -5h0m17.6 4.1h0m1.7 -1.8h0m7 1.2h0m2 0.3h0m10.8 -1.6h0m2.8 0.1h0m6.4 -0.8h0m8.2 0.9h0m4.4 -2.6h0m26.3 4.3h0m15.4 -2.1h0m10.4 0.3h0m-216.6 4.3h0m3.3 0.2h0m6.7 4.4h0m18.4 -0.7h0m0.6 -1.4h0m4 -0.2h0m8.5 0.1h0m14.1 -0.6h0m0.2 -2.2h0m2.5 5.3h0m2.3 -5.4h0m9.9 4.4h0m13.3 -1h0m4.1 -0.6h0m2.9 1.5h0m2.6 -4.4h0m10.5 0h0m0.7 2.7h0m15.8 0.1h0m1.9 2.7h0m6.5 -0.9h0m8.1 0.4h0m1.1 -0.2h0m6.1 0.6h0m5.5 -4.1h0m25.4 0.8h0m7.9 2.6h0m6.6 -4.9h0m9.8 0.7h0m0.8 1.6h0m3.4 0.5h0m6 0.9h0m7.5 0h0m6.1 -3h0m-220.6 8.5h0m1.2 -1.9h0m3.8 2.5h0m18.2 -2.5h0m0 2.7h0m2.1 -1.6h0m14.2 -2.4h0m0.2 1.2h0m22.5 2h0m6.7 -0.7h0m16.5 1.7h0m17.9 -1h0m6 -3.1h0m4.6 2.2h0m15 2h0m27.5 -3.2h0m5.7 -0.1h0m1.4 0.3h0m2.1 0.2h0m5.6 2h0m22.2 -2h0m7.2 -1.3h0m11.3 3.9h0m2.3 0h0m7.3 -3h0m-218.7 9.5h0m1.9 -2.2h0m0.8 2.1h0m7.2 -3.4h0m27.1 -0.9h0m2.2 2.7h0m3 -0.7h0m0.7 -1.7h0m2.9 1.9h0m2.8 2.5h0m14.1 -3.1h0m13.2 2.5h0m4 -3.4h0m4.5 3.8h0m21 -3.8h0m11.5 4.2h0m4.7 -2.6h0m0.3 -1.5h0m4.2 3.9h0m16.6 -0.7h0m6.4 -4.1h0m7.8 2.2h0m10.8 -1.7h0m0.8 2.1h0m15.3 -2.1h0m10.1 4.4h0m1.9 0.2h0m4.5 -4.6h0m1.4 -0.3h0m13 1.5h0m3.1 3.6h0m-217.3 4.3h0m4.4 0.5h0m4.8 -0.8h0m9.5 0.3h0m0.8 -2.2h0m5 2.5h0m0.4 1.1h0m19.9 -3.9h0m5.5 -0.8h0m8.3 5.2h0m17 -1.4h0m14.3 -0.4h0m34.7 -1h0m14.8 2.5h0m12.2 -0.4h0m34.6 -1.1h0m2.5 -2.7h0m-183.9 6.9h0m26.3 -1.8h0m37.6 3.7h0m10.7 -1.5h0m0.2 1.4h0m4.7 -1.1h0m20.5 -2.5h0m3.3 3.6h0m4.5 -1.8h0m11 -2.1h0m5.4 4.5h0m4.2 -4h0m2.3 -0.5h0m10.6 0.2h0m4.6 2.2h0m1.3 1.2h0m12.5 -1h0m5.6 -2.4h0m13.1 4.6h0m12 -2.1h0m1.4 -0.6h0m-192.4 7.5h0m1.7 -2.6h0m2.1 0.1h0m9.6 0.2h0m15.9 2.6h0m7.5 -1.2h0m8.7 -1.3h0m2.7 1.2h0m3.9 -1.4h0m9.3 4.3h0m12.6 -4.1h0m3.7 2.3h0m9.1 -0.7h0m2.7 -0.5h0m7.4 2.2h0m4.7 -3.3h0m6.7 -0.2h0m8.4 -0.2h0m2.4 -0.8h0m2 0.3h0m5.4 1.9h0m0.5 -1.5h0m1.8 1.7h0m2 1.1h0m3.1 1.9h0m4.4 -4.6h0m2.7 -0.3h0m8.7 0.2h0m3.9 4.6h0m3.1 -4.3h0m2.2 0.2h0m0.6 1.9h0m0.7 -3.3h0m5.5 2.4h0m0.4 3.3h0m5.5 -5.3h0m2.9 0.4h0m4.8 4.5h0m0.7 -5.1h0m3.7 5.6h0m2.9 -2.5h0m4.5 0.5h0m0 -3.3h0m5.1 3h0m3.9 -0.6h0m-190.7 3.1h0m7.3 1.5h0m15.5 -1.6h0m9.7 0h0m10.2 1.6h0m5.5 -0.3h0m28.3 -1.1h0m35.7 1.7h0m0.8 -1.8h0m15.9 1.2h0m6.5 0.6h0m13.7 -0.4h0" stroke="#9e9abe" stroke-width="1.9" stroke-linecap="round" fill="none"/><path d="M0 0m49.6 1.2h0m20.1 1.6h0m19.5 -2.3h0m36.2 0.5h0m18.2 -0.4h0m43.3 0.2h0m5.2 2h0m1.6 -1.1h0m-162.7 7.1h0m13.5 -5h0m5.2 -0.6h0m4 5.1h0m7.2 -0.6h0m1.9 -4.1h0m9 4h0m5.8 -4.1h0m9.1 0.3h0m0.2 2.3h0m14.9 -2h0m3.3 3.5h0m24.7 -3.9h0m8.8 2.7h0m19.7 -3.3h0m7.9 4.4h0m1 -2.3h0m25.4 2.3h0m16 -4.2h0m2.5 0.4h0m-180 10.8h0m20.2 -2.5h0m5.1 -1.9h0m6.5 4.1h0m11.8 -0.9h0m1.6 -2.3h0m5.5 2h0m3.8 1.7h0m4.9 -4h0m0.1 1.6h0m7.6 0.2h0m20.2 -0.2h0m3.1 0.1h0m0.9 -2.6h0m1 2.7h0m2.1 -0.3h0m2.5 2.4h0m17.5 -4.9h0m0.5 2.6h0m0.1 2.3h0m11.7 -4.2h0m10.7 -0.8h0m0.3 3.5h0m2.5 -3.3h0m47.6 2.7h0m-206.7 7.8h0m10.3 -0.6h0m11.1 -0.4h0m9.6 -3.7h0m28.5 2.5h0m5.7 -1.1h0m22.3 2.9h0m5 -2.7h0m13.6 3.1h0m5.5 -5.1h0m1.1 4h0m7.1 -3.7h0m4.5 3.5h0m2.4 -3.8h0m0.7 3.9h0m36.2 -3.5h0m3.2 3.1h0m29.3 0.9h0m12.9 -3.8h0m-199.9 8.4h0m0 2.4h0m1 -4.9h0m12.7 4.5h0m9.7 -3.7h0m6.3 -0.7h0m2.6 0.2h0m0.1 2.7h0m1.8 -0.9h0m5.5 0.8h0m2.4 -0.2h0m8.8 -2.9h0m9 0.5h0m3.4 2.7h0m10.1 -1.3h0m9.9 -2.2h0m19.1 0.2h0m16.2 1h0m15.3 2h0m4.8 -2.1h0m4.9 0.2h0m8.1 -0.4h0m5.6 1.3h0m0.4 -1.2h0m10.2 4h0m7.8 -0.2h0m10.6 -3.8h0m16.3 -0.8h0m-211.8 8.9h0m18.3 0.8h0m17.5 -0.7h0m3.9 -1.7h0m2.9 -0.7h0m11.2 0.4h0m15 1.1h0m4.5 -1.5h0m10.7 0.9h0m18 0.2h0m11.1 2.2h0m1.8 0h0m3.2 -0.3h0m10.5 1.8h0m5.9 -2.3h0m22.5 2.2h0m22.6 -4.5h0m2.1 3.6h0m5.3 -0.9h0m2 0.3h0m20.6 -4h0m7.6 4.6h0m1.4 -3.5h0m-193.2 5.1h0m25.5 1.5h0m19 0.4h0m34.5 0.9h0m6.9 2.5h0m8.5 -5.1h0m7.2 4.7h0m0.3 -3.4h0m6.9 1.2h0m6.7 1.8h0m1.6 -2.5h0m15.2 0.2h0m5.5 -2.1h0m16.9 4.8h0m4.1 -4.4h0m21.1 -0.1h0m-202.7 7h0m4.8 2.3h0m20.2 1.2h0m3.2 -1.7h0m0.3 1.7h0m8.6 -4.4h0m13.4 1.1h0m5.6 2.3h0m3.8 -3.4h0m0.5 4.5h0m4.4 -3.4h0m4.9 3.5h0m10.5 -3.8h0m5.1 -1h0m5.3 3h0m13.1 -1.9h0m4 2.2h0m2.2 0.1h0m1.1 0.9h0m2.7 -2h0m23 -1h0m4.5 3.5h0m0.9 -3.6h0m6 0.1h0m3.3 2.3h0m5 -0.3h0m2.3 -3.1h0m7.5 1.1h0m9.6 2.1h0m7.7 -2.9h0m3.5 1.5h0m26.5 1.3h0m-227 4.4h0m13.5 -0.4h0m9.4 -1.6h0m2.3 0.1h0m2.8 3.9h0m11.6 -2.1h0m27.4 0.6h0m13.5 1h0m4.5 -1.4h0m15.8 -2.1h0m5.6 4.7h0m1.6 -0.1h0m14.3 -2.1h0m32 1.7h0m6.2 -3h0m0.1 -1.3h0m5.7 4.3h0m6.3 -2.3h0m8.8 -0.7h0m20.2 3.6h0m2.4 -4.9h0m5 0.4h0m9.4 3.9h0m3.9 -3.1h0m3.7 0h0m5.8 0.4h0m-230.2 7.3h0m3.8 -1.9h0m5.2 2h0m3.8 -0.6h0m3.2 0.6h0m8.4 -3h0m24.2 5.2h0m11.2 -0.9h0m6 -1.5h0m29.7 -2.4h0m1.4 4.3h0m5.3 -2.5h0m5 -1.2h0m11.4 1.6h0m21.9 1.8h0m10.3 -3.2h0m2.4 3.1h0m4.1 1.2h0m38.2 -5.2h0m7.5 3.2h0m7.8 -2.7h0m15.7 2.4h0m4.2 -2.9h0m-223.5 10.1h0m9.3 -2.5h0m29.5 1.7h0m5.5 -1.5h0m7 1.9h0m1.8 -0.3h0m1.7 -0.1h0m3.1 -0.1h0m0.4 -2.1h0m11.5 -0.3h0m0.1 2.2h0m3.5 -1.1h0m11.4 1.2h0m9.2 0.9h0m7.1 -3.1h0m9.7 -0.3h0m13.6 1.2h0m7.4 -2.2h0m6.4 -0.1h0m6.8 5.7h0m5.2 -1.1h0m6.5 -0.8h0m20.1 -2.3h0m3.5 2.7h0m1.2 1.5h0m5.3 -3.4h0m12 1.5h0m1.7 -1.8h0m13.8 -2h0m2.7 1.5h0m-218.6 9.4h0m8.4 -2.8h0m3 -1.1h0m0.4 3.3h0m20.2 -2.5h0m22.5 2.8h0m1.9 -0.7h0m1 -3.6h0m9.5 3.7h0m11 -3.3h0m1.7 2.4h0m11.3 0.9h0m14.1 -1.7h0m21.5 -0.5h0m44.1 1h0m1.3 -1.9h0m12 0.9h0m8.3 -1.3h0m12.7 1.8h0m1.2 3.3h0m5.4 -5.4h0m9.6 1.5h0m-217.4 9.9h0m26.1 -0.3h0m22.2 -2.3h0m23.9 -0.2h0m8.7 -1.4h0m3.2 -0.2h0m6.4 -1h0m11.5 1.1h0m9.1 4.1h0m3.9 -4.5h0m3.5 2.6h0m0.1 -2.4h0m11.5 2.6h0m1.6 1.9h0m4.4 -4.8h0m4.4 0.2h0m2.8 0.5h0m15.9 0h0m8.7 1.2h0m32.2 -2.1h0m11.6 2.5h0m2.1 -1.4h0m-215.9 4.7h0m7.6 0.9h0m12.9 3.1h0m2 -0.3h0m7.6 -2.8h0m12 0.7h0m9.6 -0.2h0m9 0.7h0m1.3 1.2h0m8.1 1h0m10.3 -1.1h0m14.6 -1.4h0m20.6 1.8h0m32.7 -0.2h0m8.7 -1.4h0m8.2 2.2h0m6 -4.6h0m1 2.3h0m3.3 -0.4h0m3.9 1.7h0m11.5 1.2h0m1.9 -3.3h0m11.8 2.9h0m3.1 0h0m8.2 -4.1h0m1.5 4.5h0m-221.6 1.8h0m1.4 3.8h0m3 1.1h0m2.4 -1.2h0m13.2 -1.7h0m12.1 2.7h0m3.1 -2.8h0m2.2 -2h0m23.9 4.8h0m24.2 -0.2h0m20.9 -4.8h0m10.2 0.7h0m15 -0.9h0m11.1 0.4h0m0.1 2.9h0m9 -2.8h0m5.3 -0.5h0m7.6 0.8h0m2.8 2.2h0m13.6 -0.7h0m16.4 -2.1h0m2.7 2.1h0m9 -1.1h0m3.1 1.6h0m1.4 2.3h0m0.4 -2.1h0m4.9 -0.3h0m1.1 -2.5h0m3.7 2.2h0m4 -1.6h0m-214.2 10.5h0m11.8 -2.3h0m2.8 -1.8h0m1.8 2.1h0m4.2 -1.6h0m4.5 4h0m11.1 -0.3h0m3.1 -2.1h0m1.7 -1.4h0m9.5 0h0m18.5 3.4h0m2.5 -1.9h0m4.7 -1.3h0m20.2 1.3h0m7.9 0.2h0m37.9 0.1h0m9 -2.2h0m2.4 -0.4h0m20.6 4.2h0m0.9 -3.8h0m9.4 3.6h0m0.4 -1h0m1.5 1.4h0m9.3 -1.4h0m16.3 -2.9h0m-228.1 7.3h0m2.1 -2.6h0m2.1 0.5h0m2.7 1.6h0m1.8 -0.3h0m3.1 -1.4h0m3.8 1.6h0m3.3 0.9h0m7.1 2h0m8 -2.9h0m0.4 -1.7h0m27.5 2.6h0m7.4 1.7h0m8.3 -3h0m7.7 0.6h0m25.8 2.1h0m1.9 -2.4h0m0.3 2.9h0m6.2 -2.2h0m10 0h0m13.9 0.5h0m7.1 0.7h0m15.2 0.1h0m1.8 -1.5h0m3.5 -1.6h0m6.7 -0.7h0m5 2.8h0m5.5 -2.5h0m1 2.2h0m9.1 2.2h0m11.4 -0.1h0m9.6 -0.7h0m7.7 -3.9h0m-226.4 11.3h0m1.5 -4.5h0m5.2 1.9h0m4.8 -1.8h0m1.9 4h0m6.1 0.8h0m10.5 -4.6h0m8.6 2h0m6.6 1.9h0m3.2 -3.6h0m1.4 3.5h0m0.4 -3.9h0m6.8 1.7h0m5.1 -1.3h0m6.4 -0.1h0m11.9 1.8h0m6.6 -1.7h0m4.2 1.9h0m2.9 1.4h0m10.8 -4.6h0m21.1 3.3h0m4.2 -1h0m8 0.7h0m2.1 2.1h0m4 -3.7h0m1.7 1.2h0m7.2 -1.9h0m6.5 2.7h0m2.4 0h0m0.4 2h0m25.8 -4.7h0m2.7 -0.6h0m17.5 0.6h0m1.9 4.2h0m-211.7 2.3h0m24.6 3.5h0m2 -3.8h0m21.7 2.6h0m3.5 2h0m1.2 -4h0m7.6 2.9h0m1.8 -0.3h0m10.4 -0.8h0m1.1 1h0m7.8 -1.8h0m6.8 -1.5h0m6.9 0.4h0m0 1.9h0m2.8 -1.4h0m5.7 -0.9h0m33.2 0.2h0m14.9 2.9h0m7.2 -4.1h0m2.5 1.2h0m12.3 2.2h0m7 0.4h0m12.4 0.6h0m6.7 -1.2h0m7.5 1.2h0m14.6 -3.2h0m3.3 -1.1h0m-220.4 10.6h0m6.8 -4.9h0m16.5 2h0m2 0.3h0m0.1 -1.7h0m5.3 4.2h0m6.8 -4.9h0m13.1 5.8h0m2.5 -0.4h0m7.8 0.4h0m13.7 -2.8h0m16.2 0.5h0m2.3 -2.8h0m28.4 2.2h0m0.9 1.5h0m3.9 0.7h0m7.9 0.4h0m0 -2.6h0m6.3 -2h0m10 4.1h0m2.3 -4.1h0m6 1.4h0m6.9 1.2h0m5 1.1h0m11.6 1.1h0m10.8 -2.6h0m11.5 2.3h0m20.5 0.1h0m-212.7 3.8h0m1.1 1.1h0m11.7 -0.8h0m9.9 -1.9h0m25.1 0.5h0m1.9 -1.5h0m0.9 3.1h0m3.4 -2.8h0m1.2 2.5h0m6.5 -0.5h0m10.9 0.2h0m25.6 -2.1h0m16.5 0.6h0m1.4 1.4h0m0.7 -1.9h0m13.5 4.7h0m2.6 -5h0m1.9 2.2h0m34.6 -1h0m23.1 1.9h0m11.3 -1.9h0m2.5 0.9h0m-222.4 5.1h0m1.5 2.9h0m23.6 0h0m1.2 -4.1h0m3.6 1.7h0m2.2 -0.8h0m0.1 2.4h0m1.2 -1.2h0m19.2 -2.9h0m6.2 2.3h0m3.4 1.6h0m18 -1.8h0m15 -1.8h0m32.6 4.8h0m10.1 -0.1h0m0.1 -2.9h0m2 -2.1h0m2.2 2.9h0m4 2.2h0m5.1 -3h0m1.8 2.7h0m33.2 -2.5h0m9.3 -0.1h0m8.3 -0.7h0m3 -0.8h0m6.4 1.6h0m3.8 2h0m-220.1 4.7h0m21.2 -1.6h0m5.8 3.7h0m12.6 -4.8h0m11.7 5.5h0m11 -4.9h0m11.2 2h0m3.3 -1.3h0m1.2 1h0m0.9 -2.1h0m16.3 1.1h0m15.3 1.1h0m0.7 -1.4h0m2.2 3.7h0m6.8 -1.1h0m6.3 -3.7h0m25.5 0.4h0m10 -0.2h0m8 5.2h0m0.9 -4.6h0m2 4.5h0m32.1 -5.5h0m4.3 2.7h0m5.6 2.4h0m4.3 -1.8h0m12.5 -0.7h0m-214.6 4.6h0m3.4 3h0m32.4 -2.1h0m2.9 1.2h0m1.7 -1.1h0m0.7 1.6h0m1.8 -0.4h0m13.4 -1.7h0m9.9 2.7h0m2.4 -4.2h0m4.8 2.2h0m12.6 0.2h0m25.7 1.4h0m4.2 -2.1h0m12 1.7h0m11.3 1.1h0m2.4 -4.7h0m0 4.5h0m2.4 -2.9h0m4.8 -0.2h0m0.5 2.3h0m18.2 -2.7h0m12.6 1.1h0m10 0.4h0m2.7 -0.5h0m2.3 -0.9h0m4.9 0.7h0m13.2 2.4h0m-223.3 2.8h0m2 2.3h0m20.5 -0.4h0m35.4 -2.2h0m1.8 3.8h0m11.1 -2.5h0m4.4 3h0m0.8 -1.8h0m8.4 0.3h0m5.2 1.5h0m7.4 -2.7h0m9.6 0.7h0m0.9 1.1h0m35.9 0.3h0m8.9 -1.6h0m22.4 -0.5h0m2.2 0.4h0m0 -2.4h0m2.4 2.3h0m9.1 -0.7h0m2.5 3.1h0m17.8 -2.7h0m5.9 -1.3h0m1 -0.1h0m-206 5.9h0m19.8 0.4h0m0.3 4.4h0m3.4 -4.5h0m24.5 3.2h0m7.5 1.1h0m1.8 -4.5h0m6.3 2.3h0m5.4 -1.3h0m8.2 3.8h0m20.7 -4h0m18.7 0.3h0m26.1 -0.4h0m8.6 4.2h0m11.8 -4.2h0m6 -0.2h0m3.8 3.8h0m3.9 -2.4h0m0.4 3h0m1.7 -0.4h0m0.6 -4.1h0m4.6 3.9h0m1.7 -4.3h0m1.8 1h0m6.8 -0.4h0m16.3 -0.8h0m-192.5 10.4h0m0.6 -3h0m3.5 -2h0m0.4 2.6h0m2.7 -0.3h0m2.6 2.1h0m11.5 -4.2h0m4.3 4.4h0m6.6 0.5h0m37.2 -3.4h0m3.3 3.1h0m2.6 -4.6h0m3.3 3.8h0m6.3 0.9h0m7 0.1h0m4 -0.6h0m0.1 -2.6h0m26.3 2h0m14.9 -1.8h0m5.1 -0.4h0m2.9 0.6h0m10.8 2.7h0m14.1 -1.3h0m11.2 -1.4h0m0.3 2.1h0m-202.4 2.6h0m2.7 4.4h0m25.5 -0.7h0m6.3 -4.4h0m16.9 3.3h0m8.4 -2.6h0m0 3.6h0m6.4 -1h0m0.1 -2.3h0m8.9 4.4h0m8.1 -3.3h0m15.8 2.7h0m1.6 -1.6h0m2.7 -0.7h0m5.3 0.2h0m3.9 2.6h0m2.1 -5.5h0m5.3 4.9h0m16.3 -3.7h0m17.7 -0.9h0m9.9 2.9h0m8.7 1.3h0m11.9 -3.6h0m11.4 0.4h0m1 -1.3h0m5.5 2.2h0m-193.6 5.1h0m82.7 0.4h0m54.9 -0.9h0m41.9 0.9h0m9.9 -0.9h0" stroke="#a6a2c4" stroke-width="1.6" stroke-linecap="round" fill="none"/><path d="M0 0m83.2 1.3h0m7.3 1.5h0m29.6 -2.4h0m7.4 0.3h0m7.7 0.9h0m40 -0.3h0m3.5 -0.7h0m23.2 0.8h0m9 0h0m-164.4 4.2h0m5.6 -2.3h0m2.4 2.3h0m4.8 -0.4h0m3.3 0.2h0m10.6 0.4h0m1 0.5h0m15.9 -0.5h0m2.2 2.8h0m6 0.2h0m7.1 -3.4h0m6.5 -2h0m7 4.2h0m4.6 -4h0m4.1 0.2h0m10.9 -0.6h0m3.1 4.3h0m11.9 -0.1h0m2.4 -1.1h0m3.3 -0.8h0m2.7 -2.4h0m0.7 2.4h0m2.6 1.9h0m15 -1.4h0m7.1 0.5h0m0.9 1.3h0m10.2 -2h0m-181.7 7.1h0m3.4 -0.9h0m1.7 -1.3h0m7.6 2.3h0m10.9 -3h0m4.2 -0.1h0m1.8 2.9h0m7.8 -2h0m5.1 1.9h0m1 -3.1h0m28.1 1.3h0m4.3 -1.3h0m10.4 3.8h0m1.5 -0.9h0m2.2 -2.6h0m2.5 4.6h0m0.3 -1.7h0m4 0.3h0m16.1 -0.7h0m11.3 -2.1h0m10 -0.7h0m3.5 3.7h0m7.1 -2.5h0m16.5 -0.9h0m7.1 0.7h0m3 1.4h0m5.9 -1.7h0m4.3 2.3h0m9.5 0.1h0m10.2 0h0m-189.6 3.9h0m14.9 1.1h0m1.1 2.4h0m9.3 -4.5h0m0.6 3.7h0m2.3 0.8h0m1.8 -3.4h0m4.8 0.8h0m6.2 1.6h0m11.7 -3.5h0m2.5 4.7h0m1.8 -1.2h0m3.1 -2.5h0m11.3 0.6h0m4.9 -1.6h0m1.8 1.7h0m6.7 -1.7h0m2.8 1.5h0m3.2 -0.1h0m22.7 1h0m5.9 -0.7h0m50.6 -0.4h0m10.1 -0.1h0m8.4 -1.7h0m5.8 1.6h0m1 -0.1h0m-203.9 5.7h0m4 3.7h0m2.3 0.5h0m3 -2.8h0m10.6 -2.2h0m2.3 4.6h0m5.4 -4.1h0m8.6 -0.2h0m2.4 4.1h0m28.4 -4.1h0m3.5 0.2h0m5.8 3.9h0m16 0.9h0m1 -2h0m0.4 1.6h0m5.5 0.3h0m6.9 -4.1h0m7.1 -1.6h0m1.4 1.5h0m67.4 3.3h0m20.8 -2.4h0m-212.2 5.2h0m0.7 2.6h0m13.2 -1.9h0m1.9 -0.9h0m18.7 2.7h0m4.7 0h0m10.9 -2.1h0m5.4 1.5h0m1.5 1.1h0m10.4 -1.3h0m34 1.5h0m1.6 0.8h0m2.7 -1h0m1.8 -0.7h0m5.4 -3.7h0m27.3 4.1h0m2.4 -3h0m6.2 2.8h0m1.3 -2.1h0m1.9 1.6h0m11.1 -1.9h0m4.5 -0.3h0m6.5 1h0m0.9 1.9h0m-181.5 5h0m4.3 1.8h0m1.4 -1.9h0m7.1 0.9h0m42.2 1.5h0m12.9 -0.3h0m17.1 -4.9h0m0.4 3.8h0m8.4 -4.1h0m2.5 2h0m4.2 -1.6h0m1 2.2h0m0.9 -1.8h0m3.7 -0.8h0m11 1h0m5 1.7h0m8.1 -0.1h0m20.8 1.6h0m1.9 -2.5h0m2.9 1.1h0m2 -2h0m3.5 3.7h0m9.1 1.1h0m1.3 -2.3h0m2.5 -0.5h0m4.7 -0.7h0m4.1 3.5h0m0.1 -5.3h0m15.1 5.1h0m6.7 -0.3h0m1 -0.2h0m2.5 0.4h0m3.5 0h0m3.4 -1h0m11.7 0.6h0m-225.5 2.9h0m2.5 3.6h0m4.9 -1.1h0m2.6 0.8h0m7.3 -3.8h0m2.1 -0.5h0m1.4 0.4h0m9.7 2.6h0m4.5 -2.7h0m14.1 1.9h0m34.6 -2.5h0m1 1.1h0m7.7 1.8h0m8.8 -0.1h0m25.7 1.7h0m4.3 0.5h0m2.8 -2.4h0m7.3 0.1h0m3.6 0.2h0m4.5 0.9h0m21.9 -2.7h0m2.3 -1.1h0m3.6 3.5h0m5.5 1.9h0m3.5 -0.8h0m2.9 -3.6h0m0.4 1.6h0m3.2 2.1h0m14.2 -0.1h0m0.2 -2.1h0m4.4 -1.8h0m6.9 -0.8h0m-210.8 6.8h0m11.2 2.7h0m3 0.5h0m6.7 -0.7h0m6.4 0.8h0m13.3 -2.8h0m5.6 0.6h0m4.4 0h0m9.6 -0.4h0m4.3 1.9h0m17.7 1.3h0m16.5 -2.2h0m1.7 -2.6h0m0.6 2.4h0m1.7 -2.6h0m9.9 2.4h0m9.7 0.3h0m1 2h0m7.3 -2.7h0m5.4 3.7h0m10.5 -5.4h0m0.6 4.2h0m4.7 -2.6h0m15.4 2h0m5.4 0.7h0m8.7 -2.5h0m0.2 -2.2h0m2.3 0h0m9.3 3.8h0m5.1 1.3h0m2.1 -3.2h0m-202.7 9.1h0m9 0.5h0m2.4 -4h0m9.3 3.4h0m12.8 -1.1h0m6 -1.7h0m8 -0.8h0m7.7 -0.6h0m9.5 2.1h0m2.6 0.3h0m2.2 0.2h0m1.4 2.1h0m0.4 -2.2h0m13 -2.5h0m12.7 1.8h0m17.7 1.1h0m1.6 -2.2h0m3.1 -1.3h0m9.8 2.3h0m17.1 0.9h0m11.9 -0.3h0m14.3 1.9h0m1.6 -4.7h0m3.2 2.9h0m4.1 -3.1h0m9.8 3.1h0m1.1 1.9h0m-181.6 2.8h0m16 -0.5h0m11.7 1h0m9.3 -1.5h0m23.7 4.9h0m32.4 -5.7h0m2.5 1.8h0m8.8 1.8h0m0.2 -3.7h0m56.3 4h0m26.1 -2.4h0m12 2.7h0m13.1 0.1h0m-213.8 4.7h0m11.8 -0.6h0m18.4 -1.7h0m7.3 4.1h0m9.2 -2h0m1.2 -0.2h0m3.4 1.9h0m4.6 -4.2h0m2 2.9h0m2.5 1.2h0m2.1 0.4h0m2.3 0.3h0m4 -4.4h0m2.9 0.3h0m1.9 2.2h0m4.9 -0.7h0m7.3 2.3h0m8.9 -4.3h0m30.1 2h0m26.3 2h0m14 -0.1h0m9.8 -0.3h0m10.6 1h0m8.4 0h0m3.8 -1.1h0m-207 3.4h0m4.3 0.1h0m5.5 1.6h0m13.3 0.8h0m11.3 -3.6h0m8.6 1.2h0m3.4 1.7h0m5.9 1h0m2.5 -3.8h0m68.9 0.4h0m11.8 0.8h0m0.9 1.6h0m1.6 2.3h0m3.1 -4h0m15.6 -0.7h0m11.7 2.5h0m6.8 1.8h0m1.4 -2.4h0m3.6 0h0m3.7 0h0m1.7 2.7h0m9.3 -4h0m1.2 2.6h0m4.4 -1.3h0m9.2 2.2h0m-209 3.6h0m1.8 0h0m58.1 1.1h0m10.8 1.1h0m15.6 -1.1h0m18.5 -3.1h0m5.5 3.3h0m42.4 -2.5h0m5.2 0.4h0m21.4 1h0m15.7 2.1h0m7.3 0.1h0m1 -4.9h0m3.2 1.5h0m1.9 2.3h0m13.8 0.7h0m-230.5 4.1h0m10 0.3h0m27.2 2.8h0m20.6 -2.7h0m2.2 2.4h0m7.3 -2.9h0m2.7 1h0m22.8 -1.1h0m9.8 0.1h0m0.1 1.8h0m4.5 1h0m1.8 0.6h0m4.5 -3.8h0m1.9 -1h0m7.8 4.8h0m7.1 -0.2h0m45.8 -0.6h0m24.9 0.2h0m4 -4.7h0m1 4.6h0m19.8 -0.8h0m-211.4 3.6h0m20.2 2.2h0m41.5 -3.2h0m32.6 1.1h0m2.6 -0.3h0m12.8 0h0m1.5 -1.9h0m6.5 0.9h0m1.2 0.6h0m6.2 2.3h0m8.9 1.7h0m4.4 -2.5h0m1.5 -0.7h0m10.2 1.9h0m2.1 1.5h0m39.5 -3.4h0m-206 7.7h0m38.1 -0.8h0m1.4 -3h0m7.7 2h0m10.4 2.9h0m8 -1.9h0m0.2 1.8h0m22.6 -3.1h0m3.5 3.2h0m2.9 -2.3h0m4.3 2h0m0.2 -1.8h0m26 -2.7h0m11.1 2.5h0m14.1 0h0m10.3 0.2h0m12.8 -0.3h0m29.5 2h0m4.9 -3.1h0m1.2 0.8h0m14.4 0.2h0m-179.8 7.4h0m10.4 1.7h0m4.4 -0.7h0m3.8 0h0m31 0.2h0m4.5 -4.5h0m0.1 5h0m5.8 -5.2h0m3.4 3.4h0m1.2 -1h0m9.7 0.3h0m4.9 0.5h0m3.7 1.4h0m2.2 -2.3h0m3.3 3.2h0m4.8 -4.6h0m6.6 3.5h0m6.2 -1.9h0m26.1 0.2h0m1.2 -2.9h0m2.4 5.6h0m17 -4.4h0m1.3 3.7h0m11.7 -2.6h0m9 2.7h0m6.8 -4.4h0m5.4 1.7h0m-212.2 6.1h0m4.6 -1.1h0m7.6 -0.1h0m8.9 0.7h0m6.6 0.5h0m27.3 3.1h0m15.2 -1.8h0m8.8 1h0m52.3 -1.2h0m3 -1.6h0m1.5 2.6h0m2.8 -1.1h0m2 -1.1h0m12.2 -1.3h0m26.6 1.4h0m5.7 2.3h0m21.7 -0.1h0m2.5 -0.4h0m-226.6 1.9h0m8.3 5.1h0m39.6 0.2h0m15.8 -4.9h0m7.6 5.1h0m10.6 -5h0m2.4 3.6h0m0.1 -4.2h0m25.2 4.3h0m0.7 -4.5h0m6.6 4.3h0m11.6 -4.3h0m22.7 2.4h0m9.5 -2.4h0m1.8 0.8h0m4.2 2.3h0m0.4 1.7h0m5.3 -1.7h0m0.3 1.2h0m5.8 -1.9h0m7.1 -0.1h0m12.5 2h0m8.2 1.4h0m18.2 -3.1h0m-201.5 5.1h0m6.9 4h0m3.7 0.1h0m16.8 0h0m25.7 -0.6h0m0 -1.1h0m3.9 -3.4h0m9.1 0.7h0m13.4 -0.1h0m10.3 4.3h0m8.7 -4.1h0m5.1 2.6h0m15.7 0.1h0m1.2 1.5h0m0.4 -5h0m29.9 3.4h0m30 -0.6h0m10.1 0.6h0m1.6 0h0m11.6 -3.1h0m-193.5 9.6h0m1.9 -4.1h0m6.1 -0.4h0m2.3 -0.2h0m13.2 4.3h0m13.3 -0.2h0m18.5 -0.9h0m5.2 1.7h0m10.9 -0.7h0m12.5 -1.9h0m6.8 1.8h0m4.2 -3.5h0m13.5 4.7h0m15.6 -2.8h0m2.6 -2.1h0m11.5 4.3h0m4.1 -4h0m5.6 -0.3h0m8.6 4h0m12.4 1h0m6.2 -2.4h0m14.5 -1.4h0m2.2 2.8h0m-226.5 7h0m20.5 -2.7h0m12.5 -1.3h0m1.7 3.6h0m1.1 -4.2h0m6 -0.4h0m13.8 0.9h0m2.2 4.2h0m7.3 -2.8h0m37.5 -1h0m0.8 -0.3h0m15.1 3.4h0m3.4 0.6h0m0.8 -4.7h0m4.1 0.6h0m11.1 1.5h0m1.2 -2.2h0m3.4 2.9h0m4.9 2.3h0m19.6 -2.2h0m4.1 -0.3h0m2.7 -3.1h0m9.1 3.7h0m4.7 1.4h0m6.5 -1.5h0m14.2 -3h0m1 4.4h0m12.6 -0.2h0m6.8 -3.3h0m-228.8 8.4h0m11.7 -1.9h0m2.1 2.3h0m23.4 -0.1h0m5.7 -1.9h0m16.1 -1h0m3.2 2.7h0m3.1 -1.9h0m7.3 2.4h0m3.9 -3.1h0m1.9 3.4h0m12.3 -2.9h0m12.8 -0.5h0m5.6 -0.5h0m4.2 3h0m1.9 1.6h0m5.6 -1.1h0m23.2 -4.5h0m18.5 4.2h0m11.4 -2.6h0m3.7 1.8h0m0.9 -2h0m4.4 2.7h0m3.4 -0.5h0m7.3 0.8h0m9.8 -2.5h0m8.5 1.5h0m2.7 2.2h0m8.7 -1.5h0m5.1 -1.7h0m-227.6 6.5h0m11.2 -0.3h0m3.1 -2.7h0m3.9 3.4h0m5.5 1.6h0m21.9 -0.8h0m10.3 -2.1h0m8.9 -1.5h0m2.5 0.2h0m10.3 2.1h0m10.2 -0.1h0m14.1 2.4h0m1.8 -1.6h0m28.2 -0.5h0m1.8 -1.1h0m2 2.5h0m3.9 -4.1h0m3.2 4.3h0m3.6 -4h0m5.2 1.3h0m14.6 1.4h0m11 2h0m1.8 -4.6h0m4.8 4.1h0m4 -4.4h0m1 2.8h0m7 -1.2h0m26.6 -1h0m3.6 0.1h0m1.4 3.2h0m-209.7 7.1h0m1 -1.5h0m9 1.2h0m13.1 -1.5h0m4.5 -0.5h0m4.5 2h0m0 -3h0m9.7 -1.6h0m15.7 0.3h0m9.5 1.2h0m2.7 3.3h0m10 -4h0m3.6 -0.6h0m3.2 3.3h0m4.4 -3h0m7.1 0.9h0m3.6 -0.5h0m1.8 -0.2h0m0.1 2.7h0m11.4 -0.6h0m24.2 -0.2h0m13 -1.6h0m4.5 3.7h0m5 -1.6h0m5.4 1.9h0m3.3 0.2h0m7.2 -1.7h0m6.6 -0.5h0m13.7 -1.6h0m5.3 -1.1h0m-213.9 9.2h0m11.7 1.1h0m0.2 -3.3h0m1.2 -1.9h0m21.7 2.4h0m4.6 -0.4h0m15 0.8h0m1.3 -2.1h0m9.4 4.2h0m8.2 -0.2h0m4.8 -2h0m14.5 -2h0m6.4 0.7h0m2 1.4h0m2.5 -2.5h0m11.2 1.9h0m4.9 -0.6h0m12 -0.8h0m0.2 2.2h0m17.1 -1.3h0m5.5 -0.2h0m3.9 0.4h0m2.5 -1.2h0m2.7 -0.4h0m6.5 4.6h0m2.7 -2.1h0m18.2 1h0m3 -3.1h0m8 1.3h0m-181 5.5h0m0 2.1h0m1.9 1.7h0m0.5 -4.6h0m9.5 -0.6h0m4.3 0.3h0m5.7 0.8h0m7.4 4.4h0m7.9 -1.8h0m17.2 1.7h0m9.7 -0.2h0m7.8 -4.8h0m4 -0.2h0m4.5 0h0m11.7 4.9h0m1.3 -0.1h0m0.3 -5h0m1.9 3.3h0m3.4 1.3h0m2 -1.9h0m4.7 -0.3h0m13.7 3.1h0m6.9 -2.8h0m16.3 1.9h0m8.6 0.4h0m0 -3.5h0m0.3 2.3h0m2.1 -1.2h0m12.5 0.6h0m5.4 -0.3h0m5.3 2.5h0m-156.9 2h0m33.3 0.1h0m13.6 0h0m4.4 0.2h0m27.7 -0.4h0m62.1 -0.4h0m4.7 -0.8h0m13 1.4h0" stroke="#b4b0cf" stroke-width="1.9" stroke-linecap="round" fill="none"/><path d="M114.3,50.9 L117.2,45.2 L124.8,42.3 L134.5,39.4 L142.2,35.5 L146.4,32.7 L149.8,37.5 L153.7,43.2 L153.7,50.9 L155.6,58.6 L157.5,63.4 L155.6,69.2 L149.8,72 L144,65.3 L138.3,67.3 L131.6,70.2 L126.8,65.3 L121,62.5 L115.2,58.6 Z" fill="#f3f0f4"/><path d="M114.3,87.5 L117.2,79.8 L124.8,77.8 L132.5,78.8 L137.3,81.7 L144,85.5 L151.8,88.4 L153.7,91.3 L147.9,93.2 L134.5,94.2 L126.8,93.2 L119,90.3 Z" fill="#f3f0f4"/><circle cx="173.9" cy="105.7" r="4.2" fill="#f1eef3"/></g></g><text x="109.5" y="156.1" font-family='"Liberation Serif", serif' font-size="22" fill="#000" textLength="121.1" lengthAdjust="spacingAndGlyphs">weak staining</text></svg><svg x="32" y="211" width="234" height="167" overflow="hidden"><defs><clipPath id="cBL"><path d="M28.8,0.0 L202.9,0.0 L204.7,1.8 L206.4,3.6 L208.1,5.5 L209.8,7.4 L211.4,9.3 L213.0,11.3 L214.5,13.2 L216.0,15.3 L217.5,17.3 L218.9,19.4 L220.2,21.5 L221.6,23.6 L222.9,25.8 L224.1,28.0 L225.3,30.2 L226.5,32.5 L227.6,34.7 L228.6,37.0 L229.6,39.3 L230.6,41.6 L231.5,44.0 L232.4,46.3 L233.2,48.7 L234.0,51.1 L234.0,129.8 L233.4,131.5 L232.9,133.1 L232.3,134.8 L231.6,136.4 L231.0,138.1 L230.3,139.7 L229.6,141.3 L228.9,142.9 L228.2,144.5 L227.4,146.1 L226.6,147.7 L225.8,149.2 L225.0,150.8 L224.2,152.3 L223.3,153.9 L222.4,155.4 L221.5,156.9 L220.5,158.4 L219.6,159.8 L218.6,161.3 L217.6,162.7 L216.6,164.2 L215.6,165.6 L214.5,167.0 L22.6,167.0 L21.4,165.5 L20.2,164.1 L19.0,162.6 L17.8,161.0 L16.7,159.5 L15.6,158.0 L14.5,156.4 L13.5,154.8 L12.4,153.2 L11.4,151.6 L10.4,149.9 L9.5,148.3 L8.5,146.6 L7.6,145.0 L6.7,143.3 L5.9,141.6 L5.1,139.8 L4.3,138.1 L3.5,136.4 L2.7,134.6 L2.0,132.9 L1.3,131.1 L0.6,129.3 L-0.0,127.5 L0.0,48.8 L0.7,46.5 L1.5,44.3 L2.3,42.0 L3.2,39.8 L4.1,37.6 L5.0,35.4 L6.0,33.3 L7.1,31.1 L8.1,29.0 L9.2,26.9 L10.4,24.8 L11.6,22.7 L12.8,20.7 L14.1,18.7 L15.4,16.7 L16.7,14.7 L18.1,12.8 L19.5,10.9 L21.0,9.0 L22.5,7.1 L24.0,5.3 L25.6,3.5 L27.2,1.7 Z"/></clipPath><filter id="sBL" x="0" y="0" width="234" height="167" filterUnits="userSpaceOnUse"><feConvolveMatrix order="3" kernelMatrix="1 2 1 2 14 2 1 2 1" edgeMode="duplicate"/></filter></defs><rect width="234" height="167" fill="#e8ebe9"/><g clip-path="url(#cBL)"><g filter="url(#sBL)"><rect width="234" height="167" fill="#ecebeb"/><path d="M0 0m33.2 0.9h0m15.5 -0.4h0m2.2 0h0m28.4 1.1h0m36.2 -0.1h0m11.9 1.1h0m6.2 -1.7h0m5.4 2.1h0m6.5 -0.4h0m12.4 -1.3h0m9.9 1.3h0m2.8 -1.5h0m4.4 -0.2h0m-149.3 7.5h0m6.1 -1.1h0m21.6 -3.4h0m3.3 3.7h0m3.2 -2.5h0m0.4 3.1h0m1.7 -0.7h0m10.6 0h0m2.3 0.4h0m31.3 -2h0m5.7 -0.3h0m1.6 -1.8h0m16.2 4.7h0m10.4 -3.1h0m43.3 -2.3h0m11.1 5.1h0m6.4 0.4h0m-179.3 2h0m26.4 3.5h0m5 -4h0m3.7 1.5h0m40.7 1h0m8 -2h0m12 3.7h0m18.7 -2.3h0m1.8 0.8h0m2.9 -3h0m6.5 5.1h0m7.5 -5.2h0m19.4 0.2h0m-103.8 6.6h0m5 2.1h0m11 -0.1h0m14.2 0.4h0m1.1 0.2h0m16.6 0.3h0m13.7 -2.5h0m5.8 1.8h0m14 -1.7h0m6.4 2.6h0m10 1.3h0m35.5 -4.2h0m-189.1 4.3h0m3.8 4.6h0m1.3 -1.9h0m43.7 2.5h0m5.7 -1h0m4.7 0.4h0m12.5 0.4h0m1 -1.9h0m3.9 -2h0m2.2 2.3h0m4.8 -0.1h0m11.2 -0.9h0m36.3 2.4h0m1.8 -2.2h0m15.4 -1.6h0m13.8 1h0m7.1 2.1h0m3.7 0.8h0m0.5 -1.8h0m11.6 2h0m21.9 0.2h0m-205.1 3.5h0m0 2.9h0m12.1 -1.8h0m8.2 -0.8h0m6.8 2.8h0m18.6 -5.1h0m2.8 2.4h0m1 -2.8h0m0.3 4.6h0m19.9 -3.8h0m2.3 0.6h0m8.7 1.9h0m13.6 -1h0m2.2 2.9h0m28.2 -2.9h0m1.3 -2.3h0m9.6 2.5h0m24.3 0.9h0m5.2 2.2h0m8.1 -3.3h0m27.8 -1.2h0m-209.5 6.4h0m7.2 0h0m46.2 2.6h0m7.2 -3h0m6.6 0.8h0m2.4 -2.1h0m0.3 5.7h0m5.9 -2h0m10.5 0.6h0m6.1 0.4h0m2.3 -1.2h0m1.3 -3.5h0m7.9 1h0m10.1 2.9h0m3.8 1.8h0m30.1 -1.9h0m9.5 -3.9h0m5.1 5.5h0m10.1 -1.8h0m4.7 -1.4h0m3.1 -2h0m19.1 5.2h0m6.9 0.1h0m-211.1 5.3h0m7.3 -2.2h0m1.2 1.8h0m14.5 0.9h0m20.1 -2.4h0m6.5 -2.7h0m0.6 2h0m15.9 2.9h0m1.7 -5h0m11.1 0.2h0m62.7 4.4h0m13.9 -4.4h0m18.3 3.6h0m13.2 -4.1h0m15.2 3h0m11.5 0.4h0m0.5 -2.7h0m-209 9.1h0m17.8 0.2h0m24.3 -0.7h0m6.7 -0.2h0m4.9 2.7h0m0.2 -4.7h0m6.5 1.8h0m6.9 -1.5h0m25.1 0.5h0m7.5 -0.4h0m13.6 0.3h0m2.2 -0.9h0m0.1 3.1h0m29.4 -0.8h0m6.9 -1.6h0m0.4 4.2h0m8.2 -4.4h0m21.4 0.4h0m2.3 1.2h0m5.5 -2.2h0m2.9 0.7h0m7.6 -0.6h0m12.9 2.4h0m4.1 -1.7h0m6.5 1.8h0m-204.7 4h0m14 3h0m13 -2.3h0m20.1 3.8h0m15.9 -2.1h0m5.5 1h0m9 -2.3h0m15.5 3.2h0m18.5 -1.1h0m17.1 -4.4h0m13.4 1.8h0m9.3 -0.4h0m28.8 0.8h0m16.3 -0.7h0m6.3 3.9h0m-217.3 1h0m3.5 3.6h0m4.2 -2h0m13.6 2.6h0m4.8 -2.6h0m2.8 -1.4h0m1.8 4.7h0m2.8 -1.3h0m2.3 1.5h0m10.1 -3.1h0m12.7 2.3h0m11.3 -1.7h0m6.5 2h0m2 -3.1h0m6.3 0.7h0m28.7 -0.1h0m2.6 -0.8h0m7.7 -0.1h0m1 -0.8h0m8.2 -0.5h0m4.3 2.2h0m6.9 -2.6h0m6 -0.1h0m2.2 3h0m2.6 -2.6h0m5 4.7h0m18 -0.7h0m0.9 -1.5h0m4.9 0.4h0m12 0.8h0m3.6 0.9h0m-210.7 5h0m7.9 2h0m3.3 -4.8h0m4.3 0.3h0m33.7 1.3h0m3.9 -1.1h0m4.5 1.1h0m12.1 -1.2h0m1.9 2.4h0m2.2 -1.4h0m15.1 -1.9h0m11.5 4.8h0m20.4 -1.5h0m0.7 -3.2h0m4.1 5h0m18.3 -4.3h0m6.2 3.6h0m3 -0.1h0m19.5 -4.2h0m33.8 4.7h0m1.6 -2.1h0m5.4 -2.4h0m0.5 1.6h0m3.2 3h0m1.4 -4.7h0m4.6 3.1h0m4.4 -2.7h0m-198.7 9.3h0m4.7 -0.4h0m6.2 -1.5h0m23.1 3h0m1.3 -3.3h0m6 -0.3h0m24.2 3.5h0m0.4 -4.2h0m5.9 0h0m6.7 4.4h0m9.2 -4.1h0m4.7 1.7h0m20.4 -0.9h0m27.4 -2.4h0m8.6 -0.1h0m9.3 4.9h0m21.5 -0.8h0m18.3 1.9h0m-218.5 0.5h0m8.5 0.3h0m2.4 1.8h0m13.8 -2.4h0m2.4 2.3h0m14.1 0.8h0m7.2 -0.8h0m1 1.8h0m11.4 -3.3h0m7.3 1h0m13.3 2.4h0m2.8 0.8h0m10.5 -2.1h0m7.5 -0.7h0m18.1 3.2h0m1.1 -0.9h0m9.2 -2.3h0m3.1 -1.9h0m19.8 2.6h0m4.8 -2.9h0m17.2 2.2h0m7.3 0.1h0m17.9 -2.4h0m2.5 2.5h0m11.1 -1.7h0m-223.4 9.2h0m2.2 -3.6h0m23 1.2h0m5.1 -0.2h0m9 1.4h0m3.9 -0.1h0m51 0.9h0m14.9 -2.8h0m21.1 0.9h0m2.7 3.9h0m0.5 -2.3h0m2.8 0.1h0m1 1.9h0m2.6 0.4h0m18.4 0.2h0m1.9 -1.2h0m8.9 -2.9h0m6.3 3.6h0m5.8 -3.6h0m13.6 0.7h0m11.1 1.5h0m2.3 -2.2h0m12.7 1h0m7.6 -1h0m-214.7 7.9h0m13.2 0.2h0m9.1 0.4h0m4.2 1.3h0m11.2 -4.4h0m5.3 0.6h0m1.8 -0.7h0m0.6 -0.9h0m4.5 3.6h0m5.1 -0.4h0m35.9 -3.4h0m1.9 5.7h0m4.3 -4.6h0m32.9 3.5h0m7.4 0.2h0m10.6 -3.4h0m10.1 0.7h0m2 1.1h0m17.7 0.4h0m9 -3.4h0m11.8 4.5h0m2.6 -0.4h0m4 -0.1h0m0.4 -1.9h0m-203.5 3.8h0m0.1 2.5h0m2.1 -2.5h0m5.6 4.8h0m19.9 -4.9h0m5.7 4.4h0m3.3 -1.7h0m11 2.2h0m2 -2.5h0m3.1 -2h0m3.5 0.6h0m4.2 0.7h0m32.6 0.8h0m4.7 2.4h0m2.1 -2.1h0m21.8 -0.6h0m0.9 2.8h0m7.7 -3.9h0m2.3 0.9h0m3.3 -2.1h0m20.1 2.5h0m10.8 1.9h0m12 -3.9h0m1.1 1.8h0m4.3 -0.3h0m7.9 -0.2h0m3.8 2.3h0m11.9 -1.5h0m-205.5 6.3h0m7.5 2.2h0m19.3 -4.1h0m5.5 -0.6h0m0.3 2.4h0m4.4 2.7h0m4.1 -2.1h0m15.4 -0.3h0m2.4 -0.1h0m11 2.1h0m1.9 -1.4h0m1.3 1.1h0m24.7 -1.7h0m15.4 0.7h0m8.9 2.2h0m2.2 -4.1h0m4.3 3.8h0m58.9 0.2h0m13 -0.7h0m1.9 -1.7h0m9.4 -3h0m-208.8 7.2h0m0.2 1.7h0m3.1 0.2h0m8.2 -1h0m10.6 -1.3h0m0.4 3.1h0m24.2 -2.6h0m8.7 2h0m5.4 -3.7h0m6.6 2.2h0m13.7 3.6h0m8.6 -4.1h0m22.4 0.4h0m15 3.8h0m3.4 -0.1h0m13.4 -1h0m2 -0.6h0m4.4 1.6h0m6.4 -4h0m3.4 -0.8h0m21.3 3.4h0m15.7 -3.1h0m13.6 3.5h0m-221.8 1.2h0m6.4 3.2h0m8.4 -2.2h0m0.4 1.6h0m35.8 -0.1h0m29.6 2.9h0m3.7 -0.4h0m14.4 -2h0m2.6 2.5h0m15.8 -0.5h0m15.2 -3.1h0m1.8 2.5h0m3.1 -2.3h0m17.1 2.1h0m21.2 0.6h0m15.8 -2.4h0m18.2 0.1h0m5.8 -2.5h0m-195.6 9.2h0m2.8 -2.6h0m4.6 0h0m15.8 3.3h0m1.9 -0.6h0m6.9 -0.3h0m35.9 2.3h0m14.6 0.2h0m18 -2h0m6.7 -2.5h0m3.6 1.6h0m19 0.7h0m5.7 2.1h0m1.9 0h0m22.4 -5.1h0m6.2 5.6h0m13.8 -2.7h0m4.2 0.9h0m-210.3 5.2h0m11.2 -1.1h0m11.1 1.1h0m12.7 -1h0m4.6 -2h0m4.6 3.4h0m2.7 1.8h0m44.2 -2.1h0m10.1 0.3h0m2.1 0.8h0m5.6 -1.3h0m14.2 0.1h0m4.6 0.6h0m0.6 -3.8h0m6.4 4.5h0m19.9 0.2h0m15.3 -0.3h0m2.4 -1.1h0m9.1 -1.6h0m3.9 3.8h0m21.7 -1.6h0m6.4 -0.6h0m8.7 0.6h0m5.2 -2.2h0m1.7 3h0m-219 2.3h0m5.3 0.7h0m19.8 2.6h0m2.3 0.2h0m31.8 -2.1h0m5.1 -2.3h0m0.9 5h0m17 -1.9h0m3.7 0.7h0m28.6 -1.6h0m5.2 -1.4h0m8.9 1.8h0m5 -2.1h0m8.8 -0.2h0m26.8 0.1h0m14.1 1.4h0m1.1 2.3h0m27.9 -2.4h0m2 0.6h0m-221.3 9.2h0m0.8 -2.8h0m3 2.3h0m8.2 -3.4h0m9.4 3.1h0m25.8 0.9h0m5.3 0.1h0m11 -0.4h0m12 -1.6h0m15 1.2h0m2.7 -2.2h0m0.4 -1.7h0m5.4 -0.5h0m27 3.1h0m14.5 -2.5h0m13.9 1.9h0m10 1.6h0m0.6 -4.5h0m11.4 0.8h0m4.9 1.7h0m11.3 -1.4h0m18.1 2.3h0m2.2 -0.2h0m2.4 -1h0m-169.3 7.7h0m0.4 -4.2h0m1.8 1.4h0m5 0.7h0m4.2 1.9h0m10.7 -2.4h0m4.5 0.2h0m2.6 2.3h0m26.1 -0.6h0m7.2 2h0m18.9 -2.2h0m6.9 0.5h0m10.4 -3.8h0m9.7 4.5h0m3.9 -0.1h0m5.2 0h0m7.6 1.4h0m5.2 -3.4h0m5.3 -0.6h0m0.7 0.5h0m6.8 1.5h0m0.1 2h0m2.6 -1.3h0m4 -3h0m22.7 0.3h0m-207.1 6.7h0m0.8 2.7h0m11.2 -2.8h0m0.6 1.9h0m8.5 -3.3h0m6.5 1.3h0m5 0.1h0m1.9 0.4h0m4.4 -2.4h0m4.1 1.6h0m6.8 0.6h0m5.3 2.1h0m14.6 -0.1h0m11.3 -1.5h0m7.4 -0.2h0m29.3 2.2h0m7 -4.8h0m9.3 1.7h0m6.2 -1.8h0m28.4 3.1h0m4.9 0h0m16.1 -2.3h0m15.6 2.2h0m-204.3 3.9h0m8.5 2h0m1 -2.4h0m1.1 4.6h0m17.9 -1.7h0m20.8 -0.6h0m15.3 2.2h0m0.2 -1.5h0m2.5 0.3h0m0.6 1.6h0m1.2 -5.1h0m15.5 -0.2h0m5.5 5.2h0m12.9 -2.9h0m31.8 0.4h0m11.3 2.2h0m11.2 -1.9h0m8.4 0.6h0m10 -2.4h0m-162.5 10.2h0m0.3 -5.8h0m22.3 4.4h0m2.4 -3.2h0m17.7 4.5h0m0.8 -2h0m16.6 2.2h0m0.4 -4.7h0m2.6 0.1h0m15 -1.1h0m23.4 1.8h0m30.8 1.5h0m22.3 1h0m21.2 -2.4h0m4.4 3.8h0m-185.2 1.2h0m27.9 -0.8h0m17.3 -0.1h0m65.9 0.2h0m15.6 -0.1h0m23 -0.2h0m11.2 1.8h0m26 -0.8h0" stroke="#aa7a8e" stroke-width="1.85" stroke-linecap="round" fill="none"/><path d="M0 0m34.3 3h0m3.1 -2.3h0m29.5 2.3h0m3.4 -1.3h0m31.3 -1.4h0m3.7 1h0m22.1 0.5h0m23.9 -0.3h0m5.1 -0.4h0m7.3 0.1h0m4.7 -0.5h0m-129.6 4.4h0m17 -0.2h0m2 1.4h0m3.8 -2.4h0m4.1 1.9h0m3.5 2.8h0m10 -2.7h0m14.3 -2.8h0m6.3 2.8h0m9.6 2h0m25.2 0.1h0m1.1 -4.3h0m7.3 0.2h0m5.9 3.9h0m37.3 -2.3h0m12.3 2.8h0m5.2 -0.7h0m2.6 -3.5h0m-173.2 9.8h0m9.2 -3.4h0m0.9 1.3h0m5.2 0.8h0m0.3 -2h0m6.7 2.4h0m2.3 -3h0m2.3 5h0m6.2 -5.4h0m13.4 1.2h0m0.4 2.3h0m2.9 -1h0m1.4 -2h0m13.7 0.2h0m11.3 2.6h0m11.5 -0.1h0m6.9 -3.4h0m3.2 2.3h0m4.6 2.9h0m9 -4.2h0m4.4 -0.3h0m7.2 3.9h0m5.4 -3.2h0m8 3.2h0m7.5 -1.8h0m11.6 0.4h0m-161.1 2.6h0m2.3 5.6h0m4.5 -5.8h0m11.3 5.7h0m3.4 -3.3h0m3.6 -2h0m1.8 1.8h0m0.8 1.1h0m4.7 1.3h0m3.6 -1h0m3.1 0h0m6.9 -1h0m3.9 1.2h0m0.6 -3.7h0m5.6 1.2h0m37.5 1h0m25.8 -0.4h0m9.5 0.7h0m4 3.1h0m12.5 -4.5h0m3.3 4.7h0m11.2 -3.8h0m2 -1.9h0m3.4 4.1h0m3.9 -4.2h0m-183.8 9h0m30.8 1.3h0m5.2 0.1h0m6.5 1h0m17.3 -5.1h0m7.7 0.6h0m4.3 -0.6h0m3.8 3.7h0m2.8 0.3h0m33.7 -1.1h0m17.1 -3.1h0m6.8 3.1h0m0.7 -2.4h0m4.4 1.7h0m1.9 1.8h0m4.4 0.2h0m2.7 1h0m22.2 -1.1h0m20.1 0.3h0m-189.9 3h0m1.7 0.1h0m21.5 3.8h0m3.4 0.1h0m2.6 -2.7h0m8 2.8h0m2.8 -0.5h0m15 0.5h0m9 -0.4h0m22.8 -0.5h0m10.8 -3.8h0m34.4 1.9h0m13.3 -1.9h0m38.9 2.8h0m2.2 1.9h0m19.5 -0.3h0m-210.4 4.9h0m0.9 -3.2h0m6.7 0h0m7.7 -1.1h0m3.9 5.6h0m0.1 -3.7h0m6.8 1.6h0m11.4 2.2h0m8.9 -0.3h0m9.1 -1.6h0m7 -2.6h0m4.2 3.5h0m6.4 -2.9h0m4.5 2.6h0m2.9 -2.7h0m18 3.9h0m2.4 -1.9h0m6.9 0.4h0m11.3 -0.2h0m1.9 -2.6h0m8.1 0.3h0m11.8 4h0m0.6 -1.7h0m19.9 1.8h0m3.6 -4h0m0.9 2.5h0m4.5 -3h0m33.1 -1.1h0m-188.1 6.8h0m1.3 1.4h0m4.5 -2.2h0m4.5 1.5h0m3.1 -1.4h0m28.4 2.8h0m34.7 -0.7h0m10.5 2.2h0m0.1 -4.1h0m3.1 1.5h0m1 2.8h0m14.5 -4.5h0m9.4 -0.1h0m3.1 2.4h0m13.9 2.9h0m8.5 -4.8h0m2.5 2h0m16.4 -0.3h0m10.3 -1.9h0m16.1 0h0m3.3 2.5h0m3.2 -1.1h0m4.6 2.5h0m3.2 -1.1h0m-225.5 3.8h0m8.7 0.7h0m9.3 -1h0m13.7 4.6h0m6 -2.4h0m2.6 -1.4h0m0.6 3.3h0m1.8 -2h0m9.8 0.7h0m1.4 1.4h0m20.2 -2.2h0m38.9 -1.3h0m2.5 -0.1h0m6.3 2.1h0m4.9 1.5h0m19.4 -2.3h0m3.1 -1.1h0m7.8 3.9h0m37.1 -4h0m12.9 3.5h0m1.7 -2h0m12.3 2.3h0m6.3 -4.5h0m-216.4 7.5h0m10.9 2h0m2.7 -2.4h0m29.8 2.6h0m1.7 -0.3h0m0.8 -1.9h0m25.1 -0.7h0m2.2 -1.4h0m4.5 4h0m6.8 -1.9h0m1.2 3.4h0m2.6 -1.9h0m4.3 0.5h0m12.2 -2.2h0m3.3 -2h0m50.3 3.8h0m6.4 -2.3h0m8.8 0.9h0m0.6 0.8h0m4.1 -1.9h0m19.4 -1.2h0m16.7 3.8h0m2.3 -2.4h0m-205.2 6.9h0m14.3 -1.7h0m22.1 4.3h0m8.8 -2.4h0m0.2 2.1h0m3.7 -1.8h0m2.5 2.1h0m25 -2.5h0m7.4 -2.5h0m2.4 -0.2h0m8.1 2.1h0m33.8 0h0m22 2.9h0m27.5 -0.4h0m11.6 -1.8h0m10.4 2h0m-217.8 7h0m9.3 -4.7h0m4.1 3.9h0m8.9 -0.1h0m6.6 -3.1h0m10 3.3h0m19.1 -4.2h0m9.6 0.3h0m6.5 -0.4h0m4.1 2.2h0m12.8 -1.9h0m23.6 0.5h0m1 2.1h0m4.1 1.7h0m6.6 0.4h0m7.3 -4h0m31.5 -1.5h0m6.2 1.4h0m0.1 3.8h0m2.7 -4.4h0m4.4 4.8h0m4.4 -4.2h0m3.8 4h0m15.7 -4.7h0m5.3 4.2h0m10.1 -4h0m9.1 -0.5h0m-231.6 6.5h0m18.2 3.4h0m2.6 -0.1h0m8.1 -2.9h0m1.5 -1.4h0m9.1 -0.1h0m23.2 3.7h0m9.8 1.8h0m11.7 -4.4h0m6.7 -0.8h0m7.8 1h0m5.9 0.5h0m14.6 -1.9h0m4.9 2.7h0m4.4 1.1h0m7.5 0.6h0m2.2 -0.6h0m1.3 0.2h0m5.5 -0.4h0m10.9 -3.4h0m5 0.9h0m2.3 0.7h0m3.8 -0.7h0m6.8 0.1h0m9.5 0.3h0m23.5 2.4h0m7.6 -3.5h0m1.9 5.3h0m0.4 -4.3h0m1.6 0.9h0m3.3 3.5h0m-213.9 3.3h0m21.2 1.6h0m14.5 -3.8h0m30.9 4.7h0m11.5 -3.5h0m6.2 1.3h0m7.9 2h0m0.2 -2.3h0m8.4 1.2h0m4.2 -2.5h0m12.9 2.9h0m0.4 -4.7h0m4.7 2.2h0m2.2 2.4h0m26.8 -4.4h0m4.5 2.6h0m3.3 0.6h0m8.6 -1.3h0m20.5 3.2h0m9 -2.7h0m12.8 2.6h0m7.3 -3.1h0m3.7 2.5h0m-224.5 5.1h0m7.5 0.4h0m5.2 0.9h0m0.3 -3.2h0m16.4 -0.6h0m6.3 1.8h0m6.4 1.9h0m14.3 0.2h0m0.5 -3.5h0m10.2 -0.7h0m2 5h0m15.8 -1.7h0m3.3 -0.6h0m0.2 1.2h0m4 -1.7h0m0.7 2.5h0m12.7 -4.3h0m14 1.8h0m4.1 2.7h0m8.2 -4.6h0m16 3.9h0m0.3 -4.3h0m6.6 1.8h0m4.7 0.5h0m18.3 0.7h0m31.2 1.7h0m13.5 -2.4h0m1.7 2.8h0m-219.5 3.8h0m1.7 -3.3h0m18.3 3.5h0m15.1 -2.4h0m20.5 -0.3h0m25.7 3.4h0m4.6 -2.8h0m2 4.2h0m42.5 -1.6h0m15.7 -1.8h0m24.6 -1.4h0m2.4 2.5h0m2.7 -0.3h0m17.5 -0.1h0m8.4 -3.1h0m3.3 1.4h0m-208.3 4.5h0m2.7 4.3h0m2.1 -2h0m29.3 2.4h0m5.6 0.5h0m3.4 -2.6h0m19.9 -2.6h0m12.4 0.1h0m6.3 4.6h0m13.7 -4.4h0m17.7 2h0m0.9 2.8h0m32.2 -2.2h0m3.5 2.7h0m47.1 -2.5h0m4.4 2.2h0m1.9 -5h0m21.9 4.2h0m-222.3 3h0m7.2 -0.2h0m3.6 4.5h0m7.5 -0.3h0m0.3 -3h0m2.1 3.2h0m4 -1.7h0m2 1.2h0m9.7 -1.6h0m1.4 -0.6h0m4.5 2.6h0m17.9 -3.8h0m12.1 1.5h0m1.8 0.3h0m9.3 -0.9h0m5 -0.1h0m13.5 0h0m1.7 -1.7h0m2 4.5h0m15.9 0.4h0m1.7 -0.4h0m18 -5.1h0m5.2 1.2h0m27 3.9h0m2.8 -0.3h0m1.5 -2.3h0m0.6 3h0m2.4 -1.1h0m4.7 -4h0m3.4 4.7h0m12.2 0h0m2.1 -0.2h0m6.8 -3.5h0m-216.7 6.1h0m2.9 2.9h0m2.3 1h0m1.2 -4.7h0m7.1 1.2h0m38 1.1h0m9.7 -0.7h0m6.4 2.9h0m21.1 -4h0m8 2.8h0m3.1 -0.5h0m2.4 -3.6h0m8.8 3.8h0m4.2 -2.6h0m9.4 3h0m10 1.2h0m43 -2.3h0m3.3 0.6h0m3.9 -2.4h0m4.1 2.6h0m9.5 0.7h0m8.5 -2.2h0m-191.2 9h0m12.1 -5.3h0m1.9 5h0m4 -2.9h0m11.2 -1.8h0m20.2 1.6h0m4.7 2h0m12 -4.3h0m1.4 2.5h0m4 -2.1h0m7.7 0.2h0m10.4 0h0m6 2.6h0m8.5 -2.2h0m2.7 -0.2h0m15.1 2.5h0m12.8 -1h0m3.3 0.6h0m6.4 1.7h0m0.6 -1.5h0m28.8 -1.1h0m13.9 -0.2h0m5.8 3.4h0m18.9 -1h0m-218.7 6.9h0m8.4 0.2h0m13.4 -1.9h0m2.4 0.7h0m7 -3.2h0m5.4 4.2h0m3 0.4h0m7.6 -4.3h0m7.1 2.6h0m3.3 -0.3h0m3.2 -3h0m9.1 3.6h0m36 -2.8h0m11 -0.1h0m0.5 2.1h0m17.3 2.6h0m11.7 -2.2h0m2.3 -2.2h0m19.3 2.6h0m2.4 0h0m9.1 -0.5h0m0.9 -2.5h0m2.2 4.4h0m6.5 -1.4h0m8.6 -3.1h0m2.5 2.7h0m13.9 -0.8h0m1.3 0.1h0m-217.7 6.8h0m8.1 -2.6h0m5.3 2.3h0m5 1h0m12.7 -4.4h0m1.9 5.8h0m76.8 -1.9h0m3 -1.4h0m5.6 -2.5h0m1.3 1.4h0m12.9 2.6h0m3 -3.8h0m6.1 4h0m1.5 0h0m13.5 1.6h0m4.4 -2.2h0m5.5 -2.3h0m6.6 3h0m2.5 -4.1h0m13.8 0.1h0m4 0.8h0m1.6 4.6h0m12.4 -5.7h0m2.1 0h0m8.3 3.4h0m0 -0.9h0m5 -1.2h0m-221 9.6h0m8.5 0.3h0m0.4 -3.2h0m2.2 3.6h0m2.6 -4.8h0m2.9 -0.7h0m30.1 4.1h0m5 0.9h0m6.9 -2h0m7.1 -1.3h0m8 3.7h0m7 -2.3h0m13.6 -0.8h0m1.2 -1.7h0m1.3 0.3h0m8.9 3.3h0m12.1 1.3h0m5.6 -2.6h0m13.7 1h0m2.2 -0.9h0m19.2 0.1h0m21.4 1h0m8.8 -0.1h0m7.6 -1.7h0m8.4 2.9h0m4.7 -2.3h0m6.2 -2.9h0m-221.7 8.7h0m4.8 1.1h0m4.3 1.1h0m2.4 -1.1h0m4.6 -3.2h0m25.8 4.7h0m2.6 -2.3h0m5.3 -1.3h0m21.3 3.1h0m6.6 -1.1h0m3.7 1.3h0m5.9 -2.1h0m24.3 2.3h0m3.2 -0.1h0m6 -3.9h0m2 4.5h0m20.5 -2.8h0m13.6 -1.9h0m11.5 0.3h0m2.1 1.7h0m4.3 -2.9h0m4.3 5.1h0m5.8 0.5h0m3.3 -2h0m9.1 -1h0m5.5 -2.4h0m3.8 4.8h0m4.1 -5h0m-202.4 8h0m9.4 2.2h0m20 -0.6h0m2.8 0.5h0m16 -2.7h0m10.2 -1.6h0m4.7 3.9h0m3.1 -0.5h0m19.6 -3.4h0m2.6 1h0m2.5 2.5h0m0.1 -1.3h0m17.9 3.6h0m1.4 -4.2h0m13 1.6h0m1.4 -1.4h0m10.6 -1.6h0m15.3 0.8h0m4.8 1.5h0m14.3 1.6h0m8.1 -1.6h0m8.9 1h0m0.3 -3.2h0m0.6 5.4h0m15.6 -0.9h0m0.2 -3.7h0m1.5 -0.8h0m4.3 3.9h0m-208.2 6.9h0m11 -1.9h0m15 2.2h0m2.8 -4.3h0m50 3.9h0m19.5 -3.2h0m6.3 3.4h0m4.7 -3.3h0m13.7 3.1h0m9.1 -0.2h0m6.3 -1.6h0m18.4 -0.2h0m11.7 2.6h0m22.2 -0.6h0m15 -2.7h0m-189 7.6h0m13.4 -2.6h0m13.7 4.5h0m10.3 -5.5h0m8.7 3h0m15.1 1.8h0m3 -1.8h0m19.8 0.5h0m1.9 -3.6h0m27.7 5.2h0m11.1 -1.7h0m6.4 0h0m4.2 -1.9h0m10.8 1.7h0m13.9 0.3h0m4.5 -2.6h0m13.7 4.2h0m-162.1 6.5h0m11.5 -4.6h0m22.4 2.5h0m1.6 -0.4h0m6.1 0.2h0m1.8 -0.4h0m2.2 0.7h0m3.4 -3.8h0m9.7 1.2h0m0.3 4.4h0m1.9 -3.9h0m9.9 -1.6h0m6.1 3.7h0m4.5 -2.5h0m26.7 -0.2h0m14.1 0.6h0m4.8 -1.5h0m4 3.8h0m1.8 1.4h0m8.5 -4.3h0m0.1 2.3h0m12.3 -1.2h0m2.4 -0.5h0m-171.4 5.9h0m37.7 0.1h0m15.5 -1.8h0m10.4 1.1h0m1.9 -0.1h0m17.6 -0.4h0m18.3 -0.5h0m33 -0.1h0m6.4 1.8h0m4.7 -1.5h0m25.6 1.6h0m3.7 -1.1h0" stroke="#c49ca8" stroke-width="1.6" stroke-linecap="round" fill="none"/><path d="M0 0m39.6 0.7h0m20 0.4h0m31.1 -0.5h0m3.2 0.3h0m5.7 -0.5h0m7.4 1.3h0m4.7 -0.5h0m-81.9 3.9h0m2.9 1.2h0m35.9 -0.8h0m6.7 -2.4h0m11.6 1.7h0m8.9 3.8h0m4.4 -4.4h0m8.9 -0.5h0m16.2 -0.6h0m12.4 2.4h0m32.9 0.7h0m2.2 -0.6h0m11 -0.3h0m11.1 0.5h0m-175.3 7.2h0m7.7 -2.7h0m5.1 2.6h0m2.6 -1.3h0m3.7 -1.8h0m16.6 1.1h0m4.6 1.8h0m25.1 2.2h0m4.3 -4.6h0m4.8 2.6h0m8 -3.4h0m18 -0.1h0m5.4 0h0m38 0h0m6 0.3h0m11.2 4.2h0m9.3 -3.1h0m8.3 2h0m-178.9 6.1h0m30.8 -2.3h0m16.7 0.2h0m2.4 -0.2h0m1.5 2.5h0m4.9 1.7h0m21.8 -1.6h0m1.1 -4h0m1.4 5.8h0m4.6 -2.1h0m2.3 0h0m9.5 -3.7h0m0.2 4.3h0m17.4 -0.3h0m0 -2h0m11.6 -0.2h0m24.1 2.9h0m6.4 -2.6h0m3.3 0.4h0m5.9 1.2h0m13.3 -1.4h0m10.2 2.2h0m6.4 -3.3h0m-194.6 7.3h0m0.2 1.5h0m4.9 1.4h0m7.6 -2.2h0m1.2 -0.8h0m1.2 -2.3h0m7.5 2.5h0m7.4 0.1h0m2.1 -2.3h0m2.3 0h0m4.8 2.8h0m35.7 2h0m0.3 -3.2h0m11.4 0.8h0m4 -0.9h0m12.1 2.4h0m1.9 -0.3h0m16.2 -0.1h0m1.5 1.2h0m5.2 0.3h0m3.1 -2.3h0m18.4 1.5h0m21.3 0.4h0m28.3 -3.1h0m-194.1 7.2h0m2.3 2.6h0m9.9 -0.5h0m2 -2.2h0m7.1 -1.9h0m6.8 -0.6h0m6 2.3h0m7.1 1.1h0m6.8 1h0m6.9 -4.1h0m6.3 2.3h0m5.1 -1.9h0m4.1 1.7h0m2.2 -1.7h0m13 0.3h0m0.2 4h0m2 -2.4h0m10 -2.7h0m12.5 3.4h0m39.7 1.8h0m15.3 -0.6h0m4.5 -1.2h0m1.3 -2.6h0m-170.1 6.6h0m3.8 1.5h0m21.3 1.1h0m11.1 -3h0m8.3 -0.4h0m16.8 1.5h0m10.4 -1.5h0m17.7 4.7h0m0.6 -3.9h0m1.7 0.6h0m7.6 -1.4h0m8 3.2h0m16.6 -1h0m1.6 -1.4h0m7.7 2.6h0m1.4 -0.8h0m0.7 -2.5h0m4.3 3.5h0m31.8 -3.6h0m2 0.2h0m7.1 0.2h0m8.9 0.8h0m7.7 -0.6h0m-204.2 9.1h0m5 -2.5h0m10.4 2.7h0m9.9 -0.1h0m6.1 -0.3h0m4.6 -0.1h0m9.4 -4h0m9.1 -0.5h0m23.6 2.9h0m22.8 -2.9h0m15.5 4.7h0m7.4 -0.5h0m0.1 -2h0m4 0.8h0m16.8 -2.3h0m8.9 2.4h0m13.1 -2.7h0m4.6 2.5h0m6.5 -1h0m2.7 2.3h0m8.8 1.1h0m20.2 -3h0m-227.5 7h0m13.7 -2.3h0m18 1.7h0m12.7 2.6h0m10.4 -1.9h0m28.5 -0.8h0m2.7 0.4h0m3.8 -0.3h0m3.2 0.7h0m12.1 -2.5h0m2.3 1.8h0m3.6 -2.2h0m3.2 4.5h0m0.2 -2.1h0m16.2 -2h0m13.8 3h0m3.7 -0.5h0m5 -3h0m5.2 3.6h0m17.1 -0.6h0m10.9 -0.3h0m18.8 1.9h0m6.3 -4.4h0m5 0.4h0m2.5 1.8h0m-214.7 9h0m3.3 -5.6h0m2.2 1.7h0m10.8 -0.6h0m3.8 2.9h0m11.1 -0.8h0m25.2 -1.3h0m6.3 -0.7h0m5.2 2h0m8.6 -3.2h0m0.7 3.3h0m2.4 -1.1h0m6.9 -1.3h0m11 1.3h0m4.7 -1.4h0m11.3 3.4h0m3.9 -4.2h0m0.8 4.6h0m3.3 -3h0m4.9 0h0m33.4 2.4h0m7 0h0m2.7 -3h0m20.3 3.5h0m4.6 -3.3h0m1.7 2.9h0m6.4 0.1h0m19 -2h0m-225.9 3.7h0m2.4 -0.1h0m11.1 4.2h0m11.3 -2.1h0m2.1 2h0m2.7 -2h0m0.5 2.5h0m19.1 0.9h0m0.1 -3h0m14.8 1.8h0m0.7 -4h0m9.9 3h0m5 -1.1h0m12.2 2.1h0m0.5 -3.7h0m20.6 0.4h0m20.4 3.2h0m3.9 -1.3h0m9.2 -2.8h0m13.2 0.9h0m25.4 1.6h0m1.8 2.2h0m2.2 -4.2h0m14.5 1.3h0m10.8 0.1h0m2.5 3.4h0m1.9 -4.5h0m6.4 0.8h0m4.3 3.4h0m-217.6 5.8h0m11.3 -3.1h0m10.6 1.6h0m18.8 1.7h0m29.4 -1.8h0m5.7 -2h0m5.2 3.9h0m15.7 -3.9h0m6.6 0.2h0m17.2 1.7h0m2.8 2.6h0m11.3 -4.8h0m15.8 -0.5h0m4.2 3.6h0m1 -2.4h0m37.4 3.7h0m-202.6 5.1h0m13.4 -2h0m11.1 0h0m5.4 -1.3h0m19.9 4.4h0m1.6 -1.3h0m18.9 -4.1h0m22.7 4.3h0m10 1h0m3.4 -1.9h0m3.6 -1.9h0m2.3 0.1h0m9.9 2.2h0m1.1 0.3h0m10 -3.2h0m12.7 -0.8h0m9.4 5.5h0m6.5 -2.5h0m7.9 -2.3h0m14.7 4.7h0m4.2 -2.5h0m4.8 1.6h0m6.9 -2.5h0m0 1.5h0m16.5 -0.3h0m1.1 0.8h0m2.6 -0.7h0m0.7 -3.6h0m7 2h0m-227.9 8.1h0m1.7 -2.1h0m11.7 -0.3h0m22.3 -1.6h0m6.9 0.8h0m3.9 4.4h0m3 -0.2h0m31.9 -5.1h0m3.4 0.2h0m2.1 1.8h0m2.8 -2.1h0m11.1 4.5h0m4.5 -2.2h0m5.6 -2.2h0m17.2 0.2h0m4.1 4h0m10.9 -2h0m3 3.3h0m7.1 -0.3h0m13 -3.4h0m1.8 -1.2h0m17.9 3.5h0m9.1 0.2h0m2.8 -2h0m13.9 -2.2h0m-186.7 6.2h0m1.8 4.8h0m2.3 -1.7h0m7 2h0m8.6 -2.8h0m12 1h0m2.4 -0.4h0m9 -1.8h0m15.8 3.6h0m7.9 0.7h0m7.5 -4.5h0m1.8 2.8h0m7.1 0.1h0m10.1 -0.2h0m3.8 1.1h0m12.1 -2.5h0m4.7 3.1h0m2.4 -4.6h0m0.5 4.4h0m17.1 -4.6h0m1.2 5.1h0m14.7 -0.2h0m11.2 -1.8h0m0.7 -3.4h0m1.9 0.6h0m10 2.3h0m7.7 0.6h0m7 0h0m0.6 -2.5h0m6.5 4.3h0m2.1 -3.3h0m-214.3 4.9h0m0.5 4.4h0m0.8 -1.6h0m11 -0.2h0m5.8 -2.2h0m16.6 2.4h0m6.9 -4.1h0m9.2 2.2h0m1.3 -2.3h0m14.2 3.3h0m15.8 0.2h0m11.4 0.7h0m1.6 -0.5h0m22.6 0.4h0m4.9 -2.3h0m2.1 -0.5h0m15.8 -0.1h0m4.5 3.1h0m15.4 -4.2h0m10.6 1.1h0m2.6 -1.2h0m0.4 1.5h0m1.7 -0.2h0m5.4 4.3h0m32.6 -5.5h0m-224.5 10.5h0m2.6 0.8h0m4.1 -0.6h0m15.6 -3.8h0m12 -0.9h0m1.7 4.9h0m18.5 -2h0m12.7 1.7h0m18.2 -2.6h0m0.6 -1.4h0m24.5 1.9h0m9.1 -1.6h0m2.5 1.2h0m3.6 -0.4h0m0.4 3.2h0m4 -2.9h0m28.2 3.2h0m12.5 -5.1h0m3.5 2.3h0m1 2.2h0m9.6 -2.8h0m20.5 -0.8h0m9.3 -0.4h0m1.2 4.2h0m9.2 -3.9h0m3.1 2.1h0m1.1 2.4h0m-222.2 2.2h0m0.2 3.7h0m0.2 -2.7h0m6.2 -1.4h0m14.1 0.2h0m31.3 0.1h0m3.7 3.7h0m4.2 -1.9h0m8.1 1.5h0m26.1 -2.1h0m0.6 2.2h0m12.9 -3.3h0m6.5 -1h0m9.7 0.5h0m15.4 2.1h0m2.3 -0.7h0m9.6 -1.7h0m8 4.5h0m3.4 -4.2h0m10.2 4.2h0m4.6 -2.1h0m3.3 -3h0m4.4 0.6h0m1.6 3h0m4.9 -3.5h0m0.2 2.8h0m33.2 0h0m-231.1 5.2h0m26.2 1.9h0m12.8 -2.9h0m0.2 4.4h0m11.1 -1.7h0m7.6 0.3h0m2.2 -0.9h0m14.2 -1.5h0m3.2 2.3h0m12 0.5h0m17.4 -2.8h0m14 -0.4h0m15.6 0.3h0m4.9 4h0m9.2 -2h0m23.7 -2.6h0m3.4 3.1h0m5.6 -0.8h0m11.8 0.4h0m0.8 -3.8h0m7.9 2.2h0m0.1 3.4h0m3.2 -3.8h0m3.5 1.7h0m15.3 0.8h0m-226.8 4.7h0m4.3 -2.3h0m5.6 1.4h0m6.1 -1.6h0m22.1 3.9h0m11.8 0.1h0m12.9 -3.7h0m2.9 4h0m8 -5.1h0m9.7 5.1h0m8.4 -0.5h0m0.2 -3.8h0m2 1.5h0m6.8 0h0m0.3 2.1h0m3.2 1h0m9.9 -0.5h0m6 -0.2h0m24.8 -2.4h0m2.3 2.8h0m1.1 -2.2h0m11.6 2.6h0m17.3 -0.1h0m7.7 -5.2h0m23 2.2h0m3.8 0h0m2.3 -1.4h0m11.7 3.9h0m1.9 -2.7h0m-225.2 6.8h0m3.9 -1.7h0m31.7 4.3h0m7.5 -5.1h0m10.5 0.9h0m23 4.4h0m4.7 -2h0m3.5 -0.5h0m3 2.7h0m4 -0.7h0m4.2 -1.4h0m2.4 -2h0m2.6 -0.9h0m2.6 2.6h0m8.7 -2.6h0m19.7 1.7h0m7.1 2.5h0m4.2 -4.6h0m6.8 0.2h0m1.3 4.1h0m6.2 0.4h0m6.3 -4.4h0m6.6 2.9h0m34.8 -0.9h0m11.1 -0.1h0m3.9 -1.8h0m-205.2 9.2h0m32.4 -0.5h0m14.7 0.8h0m1.4 -4.3h0m8 -0.1h0m2.7 1.7h0m9.2 2.3h0m2.1 -2.9h0m2.1 3.2h0m8.8 -0.1h0m2.5 -4h0m9.6 2.1h0m21.3 1.2h0m11.9 2.3h0m4.3 -3.5h0m2.5 -0.8h0m4.2 0.6h0m27.3 -0.1h0m1.5 1.6h0m3.4 -1.8h0m1.4 0.4h0m1.8 -1h0m2.6 0.1h0m5 4.5h0m-196.2 0.4h0m11 2h0m2.2 0.4h0m10.2 2.8h0m0.2 -2.4h0m3.4 -3h0m4.2 2.3h0m9.4 -0.5h0m22.1 -1.1h0m7.6 -0.6h0m21.6 0.7h0m2.2 -0.7h0m1 2.5h0m6.6 1.7h0m29.6 0.4h0m0.1 -2.7h0m4.4 -2.1h0m9.3 2.8h0m11.1 -2.6h0m3.5 4.5h0m11.4 -0.2h0m13.5 -1.3h0m6.3 -3.1h0m4.7 2.3h0m3.4 -1.4h0m1.9 4.4h0m6.3 -5.2h0m2.1 4.4h0m10.9 -3.5h0m1.2 3.8h0m1.4 -0.3h0m7.1 -3.8h0m-211.2 9.1h0m8.6 0.2h0m15.1 0.8h0m12.2 -4h0m4.7 0.7h0m17.4 1.7h0m5.1 1.5h0m17.7 -1.3h0m11.8 0.3h0m10.9 -2.2h0m4.4 2h0m6.4 2h0m9.4 -1.4h0m0.1 -3.1h0m12.9 1.7h0m11.6 2.2h0m10.7 -2h0m9.6 1.2h0m1.6 -0.6h0m3.4 -3.1h0m2.3 4.6h0m12.9 -3.3h0m0.2 3.1h0m-200.6 4.5h0m20 0.7h0m1.9 1.9h0m15.8 -2.5h0m13.6 0.8h0m2.4 -2.8h0m8.9 0.1h0m2.1 3.3h0m9.3 1h0m4.8 -2.1h0m25 0.3h0m26.7 -2.7h0m2.3 0.7h0m6.1 1.4h0m35.8 0.4h0m18.8 1h0m0.1 0.7h0m2.7 -2.2h0m0.3 -1.1h0m8 -0.3h0m7.3 0.3h0m4 -2.2h0m1.6 3.8h0m-210.6 2.5h0m4.3 0.7h0m22.8 1.1h0m15.9 3.4h0m11.5 -5.6h0m14.8 2.1h0m9.7 0.8h0m1.1 -1.7h0m1.5 4.4h0m29 -0.7h0m16 0.4h0m11.1 -0.6h0m5.4 0.1h0m3.5 -4.5h0m28.9 3.9h0m0.6 -4.1h0m9 4.8h0m10.5 -1.8h0m-195.1 4.8h0m18.8 -1.5h0m9.5 4.7h0m15.5 -4.8h0m0.8 3.8h0m10.9 0.8h0m9.9 -2.1h0m17.4 -1.1h0m27 3.5h0m13.3 -0.2h0m0.2 -2.3h0m10.9 0.5h0m4.2 -1.5h0m48.2 4.2h0m3.6 -3.2h0m4.5 -0.9h0m5 -0.3h0m-186.6 8.2h0m12.8 0.4h0m21.3 -4.1h0m4.6 1.5h0m4 -0.2h0m4.9 0.1h0m1.7 -1.1h0m31.5 1.1h0m5.2 -0.2h0m2.2 0.5h0m5.3 4.3h0m0.1 -3.4h0m2.2 -0.1h0m6 1.3h0m17.8 -2.2h0m9 2.7h0m17 -2.1h0m13.9 3.6h0m2.6 -4.3h0m8.4 -1.5h0m9.8 2.1h0m-185.2 4.2h0m28.6 1.6h0m5.3 -1.1h0m9.3 -0.1h0m15.3 -0.4h0m5 0.2h0m1.5 -0.4h0m13.8 1.8h0m60.1 -1.8h0m4.7 0.9h0m35.8 -0.5h0" stroke="#c09098" stroke-width="1.6" stroke-linecap="round" fill="none"/><path d="M0 0m46.6 0.8h0m10.2 -0.2h0m29.9 0.1h0m24.3 1.9h0m27.9 -1.1h0m22.4 -1h0m18.2 0.1h0m22.6 0.6h0m-165.3 2.1h0m0 2.4h0m0.6 2.8h0m33.2 -3h0m1.1 2.1h0m16.6 -2.6h0m7.4 1h0m20.7 1.8h0m5.6 0.5h0m13.4 -3h0m8.2 -0.4h0m12.1 2.7h0m10.3 -3.5h0m15.5 1.5h0m7.1 2.4h0m7.8 -4.1h0m2.3 -0.7h0m7.7 4.5h0m-155.2 2.5h0m6.8 4.7h0m3.1 -1.8h0m7.3 -0.4h0m2.8 1.8h0m24.1 -2.1h0m0.5 -2h0m27.6 1.6h0m29 2.1h0m2.3 -0.9h0m4.3 -0.2h0m8.2 0.1h0m7.8 1.3h0m10.2 -4.3h0m0.3 1.8h0m4.7 1h0m4.1 -2.4h0m6.4 0h0m3.3 4.3h0m1.9 -4.9h0m-189.5 9.7h0m5.8 -2.5h0m5.2 1.9h0m0.7 -2.8h0m6 -0.1h0m8.2 0.6h0m14.7 -0.2h0m11.5 4.5h0m9.7 -4.7h0m6.2 2.2h0m2.4 -0.8h0m33.4 0.7h0m3.2 -1.1h0m23.4 1.4h0m2.6 -2.1h0m4.5 -1.2h0m28.9 5.6h0m0 -4.3h0m2.8 -1.7h0m20 4.2h0m-174.5 4.4h0m13.3 -2.3h0m53.3 4h0m18.7 0h0m4.5 1h0m4.4 -4.9h0m26.3 4.5h0m16.4 -0.4h0m6 -1.7h0m6.4 0.4h0m5.4 -0.2h0m8.3 -2.9h0m3.4 3.3h0m5.9 1.5h0m0.2 -1.6h0m15.4 2.3h0m-189.1 3.7h0m41.6 -1.8h0m6 -0.4h0m17.5 4.3h0m20.7 -1.8h0m33.9 -2.5h0m17.2 -0.2h0m0.7 2.7h0m11.2 1.3h0m22.9 -1.8h0m8.7 0.7h0m7.6 2.1h0m-200.5 2.1h0m4.6 0.6h0m5.5 3.3h0m13.8 0h0m32.1 -2h0m2.5 0.7h0m1.3 -2.1h0m4.9 -2.1h0m5 4.4h0m12.3 -4.5h0m27.5 1.1h0m2.7 4.2h0m39.7 -4.3h0m5.2 4.5h0m8.8 -1.8h0m27.3 -2.5h0m0.1 3.3h0m15.3 -2.2h0m-220.6 4.4h0m36.9 2.3h0m6 -0.1h0m11.5 -3.1h0m22.9 5.2h0m2.5 -4.7h0m1.9 2.7h0m6.9 -2.5h0m1.7 2.4h0m11.8 -2.4h0m1.9 4.5h0m4.8 -2.3h0m4.4 0h0m4.8 1.5h0m7.4 -0.4h0m7.8 1.4h0m8 -5.2h0m16 2.8h0m2.2 -2.2h0m1.1 1.9h0m44 -0.2h0m7.5 2.6h0m-196.3 1.6h0m7.3 2.5h0m6.9 2.3h0m2.2 -1.7h0m0.4 -2.6h0m5.4 3.6h0m9.2 -4.4h0m7.2 0.6h0m18.4 1.5h0m14.5 -0.9h0m18.3 1.9h0m27.8 -0.5h0m8.4 -1.6h0m22.3 2.6h0m3.1 -2.3h0m6.5 -1.1h0m2.4 4.2h0m6.6 1.1h0m15.6 -1.9h0m7.4 -3.7h0m3.3 5.1h0m9.2 0.4h0m-216.3 4.1h0m11.1 -0.3h0m0.1 -2h0m16.8 0.1h0m3.8 0.7h0m27.2 -1.1h0m9.6 2.4h0m4 -2.5h0m17.8 -0.1h0m35.8 4.5h0m7.1 -1.5h0m11.8 -0.4h0m2.1 -3.8h0m0.5 3.9h0m5.7 -2.5h0m2 0.8h0m2.5 -0.2h0m16.2 2.6h0m18.2 -0.1h0m0.2 1.2h0m6.6 -1.9h0m12.8 -1.4h0m-184.2 7h0m19.5 1.7h0m7.9 -4.7h0m5.6 0.1h0m5.2 -0.2h0m0.4 5.4h0m22 -5h0m5.3 4.3h0m21.5 -4.1h0m26.8 -0.8h0m9.7 4.9h0m5.9 -0.4h0m4.5 -2.7h0m0.2 2.9h0m2.3 -2.1h0m3.4 0.4h0m15.4 0.1h0m4.5 1.7h0m27.1 -2h0m-219.3 8.1h0m6.6 -2h0m12.5 -2h0m24 4.4h0m0.9 -4.1h0m5.7 -1h0m0.2 3h0m2.7 -0.1h0m6 2h0m17.8 0.4h0m10.1 -2.1h0m10.1 -0.6h0m7.6 1.2h0m0.1 0.8h0m4.1 -1.8h0m2 -0.2h0m25 0.7h0m6.4 1.6h0m4.7 -4.3h0m0.8 2.6h0m6.7 -0.6h0m1.6 -0.3h0m7.6 0.1h0m15.9 -1.9h0m4.4 1.8h0m2.1 3.1h0m1.8 -0.5h0m3.7 -3.7h0m0.5 4.2h0m6.6 -4.8h0m2.4 3.2h0m1.7 -0.4h0m8.2 -2.6h0m3.3 2.4h0m4.8 0.5h0m12.1 -1.4h0m-224.9 5.8h0m16.8 -2.2h0m25.5 0h0m1.7 1h0m2.5 0.5h0m13.6 -1.4h0m5.2 3.3h0m1.6 -0.1h0m64.5 2.5h0m1 -4.2h0m30.4 3h0m38.2 -3.2h0m-205.9 6.7h0m23.8 -0.1h0m0.7 -1.1h0m4.4 4.2h0m9.5 -2.1h0m11.1 0h0m8.6 -0.7h0m34.6 0.3h0m1.5 -0.6h0m0.5 3h0m31.2 -3.1h0m8.5 2.1h0m2.1 0.5h0m5.5 -0.4h0m19.3 -3.9h0m14.3 0.4h0m10.2 1.2h0m2.9 -1.4h0m6.2 1.3h0m4.6 -1.7h0m4.4 1h0m-183.7 7.8h0m1.6 0.1h0m74.5 -2.3h0m13.8 2h0m2.8 -0.1h0m18 -1.2h0m13.3 0.1h0m4.2 1.4h0m15.8 2h0m18 -1.4h0m10.9 1.6h0m31.9 0.4h0m-225.2 5.3h0m23 -0.3h0m24.5 0.1h0m15.1 -0.8h0m22.7 0.4h0m20 -4h0m5.6 4.4h0m7.6 -2.4h0m26.9 2.3h0m21 -0.3h0m0 -1.9h0m0.7 3.4h0m31.5 -3.3h0m1.8 -1.2h0m4.9 2.5h0m4.4 -1.8h0m4.7 2.4h0m14.6 -0.5h0m-215.6 6.4h0m4.4 0.7h0m4.6 0.2h0m7.3 -0.7h0m12.8 -1.5h0m8.7 2.6h0m30.3 -4.7h0m0.9 4.2h0m7.5 -4.2h0m2.8 -0.3h0m8.3 4.9h0m2.8 -1.1h0m5.7 -2h0m5.7 2.2h0m15.7 -2.6h0m2.5 -0.8h0m3.5 -0.3h0m7.5 4.3h0m11.3 -3.3h0m9 1.4h0m10 -1.3h0m3.7 -2h0m3.3 5.6h0m10.1 -2.8h0m1.8 1.4h0m2.2 -3.6h0m1.6 4.1h0m28 0.3h0m-227.8 6.1h0m0.7 -4.7h0m2.3 0.2h0m1.8 2h0m15.5 -1h0m2.6 -0.3h0m0 2.8h0m8.3 -3.7h0m0.6 4.6h0m0.5 -2h0m11.2 0.2h0m6.4 2.7h0m1.7 -2.1h0m4.7 -1.1h0m1.6 2.8h0m2.8 -4.5h0m8.9 4.6h0m4.6 -5.1h0m10.9 4.7h0m10.2 -3.7h0m22 2.6h0m1.5 1.5h0m13.9 -1.8h0m5.1 -2.1h0m1.1 1.5h0m14.8 1.8h0m1.3 -1.4h0m19 -2.9h0m14.5 0.2h0m2.2 4.3h0m9 -4h0m4.9 1.5h0m3.1 2.7h0m8.9 -3.5h0m8.1 -0.4h0m-217.5 8.9h0m3.5 -0.2h0m3.5 1.4h0m7.8 -4.3h0m3.2 0.4h0m4.3 2.3h0m16 -1.8h0m1.6 -1h0m2.3 0.6h0m0.4 2.5h0m15 0.1h0m3.2 -4.3h0m8.9 1.3h0m14.7 2.9h0m5.3 -0.7h0m1.4 -1.2h0m4.6 3.3h0m9.3 -3.2h0m2.1 -0.4h0m5 2.2h0m9 1.5h0m0.3 -5.7h0m17.7 4.2h0m8.3 0.2h0m6.7 -2.2h0m7.5 1.2h0m0 -3.2h0m7.2 3.4h0m8.3 -2.2h0m25.3 2.8h0m-192.1 1.7h0m3 4.4h0m4.2 1.1h0m9.4 -5.1h0m12.5 4.8h0m1.4 -2.6h0m1.7 -1.5h0m5 0.9h0m1 -1.9h0m13.9 2.8h0m6.8 0.2h0m0.1 2.4h0m4.5 -1.4h0m0.3 -2h0m12.6 -2h0m10.2 1.9h0m19.9 0.8h0m13.5 -0.6h0m14 1.9h0m17.6 -2.3h0m1.6 0h0m1.9 -1.2h0m9.3 1.4h0m4.8 -1.1h0m1.6 -0.3h0m12.4 4h0m1.3 -3.8h0m16 -0.8h0m2.4 0.3h0m2.6 2.5h0m-223.4 5.8h0m3.4 -1.2h0m19 2.1h0m9.3 2h0m1.9 -3.7h0m3.1 4.1h0m19.7 -3.1h0m0.1 2.3h0m11.6 -2.5h0m8.7 -0.8h0m0.2 4h0m8.9 -2.8h0m1.9 2.8h0m12.3 -5.1h0m10.1 4.5h0m3.2 -1.6h0m28.4 -0.3h0m28 -2.2h0m1.9 0.7h0m1.4 4.2h0m15.8 -1.9h0m0.3 1.1h0m13 -3.3h0m12.1 -1.1h0m6.7 3.3h0m0.4 1.8h0m3.8 -4.1h0m4 1.9h0m-227 2.6h0m5.4 4.5h0m5.9 -1.3h0m5.1 2.3h0m17.5 -4.6h0m13.7 0.3h0m2.4 0.2h0m3.8 0.5h0m12.4 -0.8h0m2.2 2.7h0m3.7 -0.1h0m7.3 -0.6h0m3.5 -1.3h0m14.1 0.1h0m2.6 1.1h0m3.8 -1.7h0m5.7 3.3h0m0.2 0.9h0m12.6 -5.6h0m0 5.5h0m10.5 -3.2h0m5.8 2.1h0m4.5 -0.7h0m1.5 -1.8h0m13.8 2.8h0m9.3 -0.4h0m10.6 1.2h0m11 -5.6h0m12.3 5.7h0m4.1 -3.4h0m2.4 0.1h0m8.8 -1h0m0.6 2h0m-215 7.2h0m2.7 -3.8h0m4.9 2.5h0m6.4 1.3h0m15.4 0.5h0m31.9 0h0m0.9 -2.9h0m12.7 0.4h0m11.1 2.7h0m12.8 -2.5h0m1 -2.3h0m7.2 2.4h0m2.2 -1h0m3.5 0.3h0m8.8 0.1h0m12.6 2.7h0m1.1 0.1h0m0.6 -4.8h0m7.3 4.9h0m4 -4.5h0m1.7 -0.7h0m14.5 5.1h0m20.4 -4.9h0m5.7 2.5h0m10 -0.9h0m3 -1.1h0m21 4.4h0m-222.8 5.8h0m17.7 -4h0m19 0.9h0m21.9 1.8h0m23.1 -0.4h0m3.8 0.8h0m4.3 -3.2h0m15.8 1.7h0m4.1 2.6h0m11.3 -2h0m7.2 -2.6h0m7 0.9h0m9.4 0.1h0m4.5 3.2h0m20.1 0.1h0m1.9 0.9h0m2.4 -4.9h0m13.2 -0.1h0m4.3 3.1h0m17.6 -2.1h0m3.3 4.1h0m4.7 -5.3h0m6.2 1h0m-183.1 6.3h0m5.9 -0.6h0m21.9 3.3h0m22.5 -3.2h0m15.5 0.5h0m15.5 2.8h0m2.6 -2.3h0m12 3.4h0m5.4 -2.1h0m1.4 -3.6h0m6.4 4.1h0m42.9 -2.7h0m16.9 1.8h0m2.8 2.6h0m11.3 -3.9h0m-217.6 4.1h0m6.4 5.4h0m30.9 -5.1h0m7.9 1.7h0m14.5 0.8h0m7.2 1.8h0m4.4 -1.4h0m1.9 0.1h0m1.2 0.9h0m6.3 -3.6h0m12.5 4.1h0m1.3 -1.8h0m2.5 -2.6h0m3.7 2.6h0m0.1 -2.5h0m6.7 -0.4h0m6.9 0.9h0m15.4 4.2h0m7.4 -2.1h0m1.8 -2h0m13.9 0.9h0m15.4 0.2h0m1.4 0.7h0m5 -0.7h0m13.5 1.1h0m4.8 -0.7h0m2.2 -0.2h0m4 0.8h0m8.8 -2.7h0m-179.8 10.8h0m13.7 -2.6h0m0 3h0m0.5 -5.2h0m4.4 5.1h0m2.3 -1.9h0m2.2 1.2h0m11.6 -3.2h0m14.8 1.7h0m11.3 0h0m11.9 0.5h0m13.4 -0.1h0m11.3 -0.7h0m3.5 -2.5h0m6 2h0m8.7 -2.1h0m4.4 5.3h0m8 -0.8h0m3.1 -1.7h0m8.2 2.3h0m9.2 -1.8h0m0.2 1.4h0m-141.6 5.5h0m4.4 -2.6h0m20.1 -2h0m4.2 1.2h0m24.8 0.2h0m9.8 2.6h0m54.6 0.7h0m31.4 -4.6h0m-148.6 6.4h0m6.2 0.3h0m11.2 0.1h0m2.8 -0.4h0m24.8 1.4h0m92.4 -1.4h0m3.9 -0.4h0m8.3 0.4h0" stroke="#c49ca8" stroke-width="1.85" stroke-linecap="round" fill="none"/><path d="M0 0m53.7 0.6h0m13.1 0.1h0m31.3 0.4h0m89.4 -0.7h0m-159.7 7.8h0m2.5 -4.5h0m9.8 3.7h0m1.3 -0.2h0m0.2 -2.3h0m13.1 3.1h0m13.7 -4.5h0m12.1 4.9h0m1.4 -4.6h0m4.6 -0.3h0m16.6 0h0m1.8 4.2h0m2.5 -4.6h0m7 4.2h0m4.1 -2.3h0m8.3 2.9h0m14.5 0.1h0m13 -4.4h0m7.3 -0.5h0m28.3 1h0m7.5 1.1h0m0 2.5h0m-171 4.8h0m4 2.2h0m7.2 -4.5h0m8.5 2.9h0m7.3 -1.2h0m21.3 -2.1h0m9.6 2.8h0m11.6 1.3h0m9.5 -1.7h0m8.7 0.5h0m10.6 1.2h0m9.4 -3.2h0m6.2 3.8h0m0.6 -2.3h0m8.4 -0.1h0m12.1 2.1h0m1.9 -1.9h0m15.3 0h0m5.5 -2h0m14.9 3.5h0m-182.7 3.1h0m27 3h0m3.1 -2.6h0m4.2 1.2h0m8.3 2.4h0m16.9 -3.2h0m3.6 -0.6h0m23.3 -1.7h0m2.6 -0.3h0m13.2 2.5h0m6.3 -1.5h0m2.5 0.2h0m24.2 3.4h0m3.1 -0.2h0m1.3 -0.4h0m0.3 1.9h0m2.9 -5.9h0m1.1 4.4h0m50.4 -0.5h0m3.8 -0.4h0m0 -3.5h0m-186.9 6.9h0m11.9 4h0m17.6 -2.9h0m17.9 2h0m7.7 -3.8h0m28.2 4.2h0m25.6 -1.2h0m12.4 1.5h0m23 -0.1h0m13.1 -4.7h0m-160.6 7.2h0m5.6 0.7h0m2.3 4.1h0m1 -2.5h0m1.4 1.3h0m29.4 0.9h0m8.9 -5.3h0m3.2 1.5h0m4.6 1.3h0m10.2 0.3h0m24.7 2.1h0m12.3 -2.8h0m42.4 0.2h0m11.2 1h0m1.2 -2.6h0m3.5 -0.3h0m25.9 -0.4h0m2.4 2.8h0m4.6 -2.7h0m-208.5 7.3h0m1 2.3h0m0.7 -4h0m20.5 4.3h0m6.7 0h0m9.4 -0.9h0m17 -2.1h0m26.7 -1.6h0m10.1 1.8h0m4.2 0.7h0m1.7 0.8h0m15.8 1.4h0m21.2 -3h0m8.3 4h0m18.8 -2.4h0m1 -0.9h0m2.7 -2.4h0m8.6 0.3h0m0.3 3.9h0m18.4 -2.6h0m-185 5h0m2.6 2h0m4.8 -0.4h0m2.8 3.2h0m36.9 -1h0m4.9 0h0m5.1 -2.7h0m4.6 0.6h0m3.2 3.1h0m11.8 -5.5h0m12.1 3.4h0m12.3 1.3h0m19.2 -1.9h0m6.1 -2h0m15.3 -0.4h0m20.8 3.9h0m1.6 -2h0m7.1 2.3h0m6.4 -0.4h0m2.6 -0.9h0m11.4 -2.2h0m12.1 4h0m-203.3 4.8h0m11.1 2h0m15.9 -2.2h0m7 2.1h0m4.9 -4.6h0m1 3.8h0m6.7 -1.3h0m3.2 -2.3h0m2.3 1.9h0m8.3 -2.5h0m18 0.9h0m6.6 -1.2h0m9.5 5.5h0m5.2 -0.8h0m53.1 -2.4h0m11.5 3h0m9.5 -0.4h0m11 -0.2h0m1.8 -1h0m2.6 -0.5h0m6.6 -0.8h0m13.7 0.4h0m-225.3 6.9h0m6.5 0.2h0m11.6 -0.6h0m18.8 0.8h0m29.1 -0.2h0m8.5 -2.3h0m1.7 2.6h0m0.6 -4.4h0m13.8 1.6h0m15.8 0h0m1.6 3.7h0m28.8 0.3h0m14.6 -4.5h0m2.1 1.1h0m10.8 1.9h0m4.4 -2.5h0m13.5 3.7h0m6.1 -3.6h0m35.3 -1.6h0m-223.5 8h0m5.2 2.2h0m5.7 -4h0m2.5 0.1h0m1.8 4.5h0m1 -3.2h0m12.9 -2h0m16 2.4h0m29.7 2.3h0m5.7 -4.3h0m2.5 0.1h0m0.9 4.2h0m12.7 -3.6h0m2.7 1.6h0m10.5 -0.2h0m0.7 2h0m1.7 -1.8h0m26.6 2.1h0m9.1 -4h0m8.8 3.7h0m17 0h0m1.3 -2.3h0m16.3 -0.1h0m3.9 0.3h0m4.7 2.7h0m0.2 -4h0m2.4 -0.1h0m4.6 4.4h0m22.2 0h0m-229.8 2.1h0m44.7 4.4h0m9.7 -5.1h0m11.3 2.9h0m11.9 0.5h0m14.9 -1.6h0m23.4 -1.1h0m8 2.6h0m9.3 -2.8h0m0.1 2.8h0m8.6 -1.2h0m2.2 0.8h0m52.2 0.1h0m19.7 -0.1h0m6.9 2.2h0m2.4 -3h0m4.4 2.8h0m-229.5 2.6h0m2.5 3.3h0m0.2 -3.4h0m4.5 1.5h0m2.1 -2.5h0m1.7 0.2h0m6.5 1h0m2.8 -0.1h0m15.3 2.3h0m14.2 -0.9h0m3.9 -1.8h0m12.5 2h0m8.7 0.7h0m8.5 -2h0m2.3 1h0m4.2 -1.5h0m5.4 -1.7h0m3.3 5.4h0m3.1 -2.4h0m0.2 2.3h0m4.9 -3.3h0m6.4 3.2h0m31.1 -1h0m40 -2.4h0m11.3 2.6h0m-197 2.1h0m14.8 4.5h0m10 -2.1h0m4.4 -1.1h0m5.8 -1.2h0m3.1 1.8h0m1.3 2.3h0m18.4 -4.5h0m11.1 4.1h0m5 -2.3h0m2 2.1h0m2.4 0h0m2 0.4h0m34.4 -2.6h0m2.3 1.1h0m2 -0.2h0m0.5 1.6h0m16.4 -2h0m18.6 -1h0m4.1 3h0m0.1 -2.9h0m23.2 2.7h0m11.1 -0.5h0m0.6 -3.2h0m1 0.3h0m0.2 1.9h0m23 -0.6h0m4 1.6h0m-215.2 5h0m4.4 -2.2h0m1.4 2.4h0m8 0.4h0m0.8 1.9h0m18.7 -5.3h0m24.1 0.7h0m2.5 0.6h0m3.4 1.5h0m5.7 -2.1h0m6.6 0.6h0m0.8 4.3h0m1.5 -4h0m15.8 3h0m14.2 -0.1h0m4.6 -4.3h0m0.2 2.7h0m6.1 2.2h0m4.8 -2.4h0m40.6 -1.9h0m6.6 1.8h0m19.5 0h0m1.1 2.6h0m19.4 -4.5h0m-213.4 7.7h0m62.4 -2.4h0m2.7 0h0m27.4 4.1h0m6.1 -2.8h0m11.1 0h0m9.1 3h0m6.6 0.1h0m10.1 -3.3h0m17.2 3h0m1.8 -0.8h0m4.5 -1.8h0m12.4 2.4h0m11.1 0.2h0m35.3 -0.2h0m5.5 -1.7h0m2 2h0m-205.1 4.6h0m4.3 -1.1h0m7.5 0.2h0m2 3.3h0m18.3 -0.7h0m1.3 -2.7h0m16.4 -1.2h0m1.1 3.3h0m20.6 -2.2h0m2.8 3.5h0m4.4 -2.1h0m6.9 1.2h0m4.1 -3.9h0m11.3 -0.6h0m13.1 4.3h0m9.8 -4.2h0m20.9 2.7h0m13.4 -2.8h0m33 2.4h0m-213 7.6h0m12.9 0.9h0m9.1 -3.5h0m8 4.1h0m0.3 -4.6h0m11.1 4.6h0m2.3 -0.2h0m9.5 -0.3h0m7.6 -4.5h0m0.9 4.6h0m1 -3.8h0m4.8 1.6h0m12.2 2.7h0m5.8 -1.6h0m13.4 -3.1h0m5.7 -0.4h0m4.4 4.5h0m4.6 -4h0m4.5 2.4h0m22.6 -2.1h0m2.7 0.5h0m19.4 -1h0m3.1 3h0m10.9 -2.9h0m14 4.4h0m6.5 -2h0m1.8 -3h0m4.7 1.3h0m11.1 1.7h0m-207.2 8.2h0m7.5 -1.7h0m9.6 -1.9h0m31.3 -0.9h0m3.2 3.7h0m9.2 -2.7h0m9.3 -0.1h0m4.8 2.6h0m1.5 1.4h0m5 -5.8h0m23.1 4h0m0.3 1.5h0m5.3 -0.9h0m5 -3.6h0m2.3 3.5h0m7.2 1.1h0m2 -5.4h0m6.4 1.2h0m4.3 3h0m5.4 1.2h0m28.2 -4.2h0m7.4 3.1h0m11.4 0.9h0m1.9 -5.3h0m0.2 1h0m10.5 3h0m9.5 -1.6h0m2.6 -0.2h0m2.4 0.2h0m-213.7 5.2h0m16 1.4h0m2.4 -3.2h0m12.8 3.1h0m7.1 1h0m6.1 -1.6h0m0.6 -2.3h0m26.6 0h0m4.4 2.5h0m21.3 -1.8h0m1.4 -0.2h0m6 0h0m7.2 1.1h0m5.5 -1.8h0m0.9 5.5h0m26 -1.5h0m8.8 -3.3h0m0.2 3.7h0m1.1 1h0m7.5 -5.3h0m3.6 0.4h0m22.9 2.2h0m19 1.9h0m10.4 0h0m-222.2 6.2h0m3.6 -3.7h0m11.7 2.1h0m2.7 2.3h0m1.1 -4.8h0m21.3 0.1h0m11.4 -0.2h0m1.4 3.1h0m5.7 -2.8h0m3.7 2h0m1.9 -2h0m18.7 2.9h0m14.9 -0.8h0m2.8 -1.4h0m2.6 0.1h0m4.9 1h0m1.4 -1.9h0m7.6 3.1h0m49 0.1h0m0.1 -2.3h0m1.6 2.4h0m8.7 -0.7h0m1.2 2.4h0m12.4 -5.2h0m4.6 2.4h0m27.7 1.8h0m-225.6 1.3h0m3.2 2.4h0m2 1.4h0m1.4 -3.7h0m7.5 4.4h0m2.7 -4.6h0m5.4 4h0m13.3 -0.6h0m5.4 -2.2h0m4.4 2.4h0m11.6 0.2h0m28.2 0h0m23.1 -2.3h0m45.6 4.4h0m3.7 -2.5h0m7.3 2.5h0m6.4 -2.5h0m36.1 0.9h0m16.4 -4.3h0m-220.7 8.7h0m7.1 -2.7h0m5.7 1.8h0m9.2 3h0m8.8 -1.9h0m1.9 1.3h0m9.1 -3.5h0m7.8 2.4h0m17.7 2.5h0m8.1 -5.3h0m2.2 4.1h0m0.7 -1.1h0m7.4 1.8h0m19.4 -4.8h0m6.9 4.2h0m8.6 0h0m4.8 -3.5h0m4.7 1.9h0m9.1 -0.9h0m2.7 3.6h0m0.9 -1.6h0m3.4 -1.2h0m1.2 -0.9h0m18 3.3h0m3 -4.7h0m9 3.9h0m8.3 -3.9h0m9 1.5h0m-199.3 4.5h0m5.8 2.9h0m14.3 0.7h0m8.3 -2.3h0m0.3 3.1h0m4.9 -1.5h0m4.7 2h0m7.8 -2h0m16.4 -3.1h0m11.9 5.4h0m8.4 -0.6h0m8.8 -1.1h0m7.1 1.8h0m9.7 -4.7h0m23.3 3.7h0m1 -1.2h0m3.4 1.4h0m9 -4.2h0m3.5 2.6h0m4.6 -1.9h0m4.6 1.5h0m1.5 1.8h0m4.9 -4h0m20.3 -0.4h0m22.2 0.4h0m10.9 -0.6h0m2.7 2.7h0m-205.1 3.3h0m4 1.2h0m3.3 3.3h0m1.3 -3.5h0m6.8 -1.1h0m0 4h0m17.8 -0.2h0m5.3 -0.4h0m11.6 -2.2h0m4.1 4.5h0m9.6 -4.7h0m1.3 1.4h0m20.7 1.8h0m8.1 0.2h0m7.1 -0.9h0m0.1 -2.6h0m7.7 3.5h0m3.7 -2.3h0m22.2 -1.2h0m3.4 3.2h0m7.5 0h0m20.5 -0.4h0m0.3 -3.7h0m6.9 1.6h0m18.4 4h0m0.2 -3.4h0m14.6 -2h0m-215.5 7.7h0m1.9 -1.5h0m12.4 4.2h0m10.9 -2.4h0m2.3 3.1h0m13.5 -0.7h0m6.5 -1.5h0m6 2.2h0m16.2 -4.3h0m20.1 1.9h0m0.8 -2.5h0m5.8 4.4h0m14.6 -2.8h0m3.9 -1.6h0m6 1.9h0m17.2 -0.5h0m6.4 -1.6h0m2 4.4h0m1.8 -3.8h0m23.2 0.9h0m11.6 3.7h0m1 -3.7h0m22.7 0.2h0m5.4 2.2h0m-189.8 6.5h0m9 0.8h0m31.3 -1.9h0m12.1 -3.4h0m20.7 3.2h0m1.9 0.6h0m1.1 -3.3h0m3.5 4.7h0m17.8 -4.2h0m3.9 0h0m6.3 2.8h0m9.7 -3.5h0m7 3.4h0m13 -2.6h0m2.8 0h0m0.3 2h0m15.4 -0.7h0m2.6 2.4h0m5.5 0.3h0m21 0.4h0m-196.6 0.3h0m1.1 4.8h0m1.4 -3.3h0m16.4 0.9h0m2.3 -0.5h0m3.9 2.7h0m2 -0.6h0m6.6 -0.2h0m3.7 1h0m2.3 0.8h0m8.6 -4h0m1.8 1.9h0m7.2 0h0m1.5 -2.4h0m16.7 3.1h0m19.4 -0.2h0m15.7 -0.3h0m6.7 0.4h0m11.1 1.6h0m23.5 -4.4h0m10.1 3.1h0m11.9 -0.8h0m0.2 -1.1h0m10.6 1.9h0m7.3 -1.9h0m-115.4 4h0m20.9 0.2h0m35.7 0.1h0" stroke="#aa7a8e" stroke-width="1.6" stroke-linecap="round" fill="none"/><path d="M0 0m55.3 3h0m0.3 -1.8h0m17.9 1.7h0m81.1 -1.9h0m26.3 0.7h0m2.7 -0.9h0m16.1 -0.2h0m-156 3.3h0m1 1.7h0m4.3 2.3h0m2.3 -0.7h0m10.8 -1.7h0m2 2h0m9 -2.4h0m4.7 0.3h0m8.5 2h0m9.5 -3.6h0m20.4 -0.3h0m2.2 -0.1h0m2.6 5h0m10.9 -1.3h0m0.2 -1.1h0m13.1 2.5h0m20.8 -2.1h0m1.9 -1.2h0m1.5 2.4h0m5.7 -2.2h0m7.8 2.1h0m8.7 -1.8h0m3.7 -1.7h0m8.5 -0.3h0m-171.5 5.8h0m11.3 5.4h0m0.5 -4.5h0m1.8 0.2h0m34.3 3.5h0m2.7 -4.7h0m8.1 4.9h0m38.8 -2h0m0.3 1.7h0m34.8 -2.1h0m16.3 0.3h0m27.4 -2.4h0m-188.8 5.6h0m3.5 -0.4h0m7.8 3.4h0m1.2 -2.2h0m11 0.5h0m46.4 0.4h0m0.7 0.1h0m0.1 2.6h0m5.1 -2.6h0m6.9 -0.8h0m7.3 0.5h0m1.5 2.2h0m13.9 0.3h0m17.3 -4.1h0m7.1 3.6h0m14.2 -2h0m1.9 3.7h0m0.3 -3.1h0m2.2 -0.2h0m6 1.9h0m26.8 -2.2h0m-186.2 9.3h0m12.8 -2.4h0m10.1 -1.9h0m2.5 -0.8h0m1 0.9h0m0 1.5h0m8.7 2.9h0m11.9 -3.6h0m1.8 -1.1h0m3.5 4.5h0m1.3 -2h0m11.9 1.9h0m2.4 0h0m1.4 -2.3h0m5.3 -0.1h0m2.3 -0.9h0m25.9 3.6h0m2.4 -5.3h0m18.7 2.1h0m12.9 -2.2h0m11.6 2.6h0m15.4 -1.8h0m16.2 2.2h0m0.6 1.6h0m4.1 -4h0m1.9 0.1h0m7.3 2.3h0m1.6 2.1h0m4.5 -2.2h0m-205.3 6.4h0m4.7 1.5h0m5 -1.3h0m1.6 -2.7h0m9.9 4.5h0m14.8 -1.5h0m7.6 0.1h0m2 -0.2h0m2.5 -2.5h0m2.6 0.4h0m1.8 3.2h0m11.7 -1.2h0m11.3 0.3h0m14.6 -0.2h0m3 -2.5h0m2.5 1.8h0m3.5 0.8h0m6.5 -2.1h0m19 -1.4h0m11 1.2h0m9.5 2.2h0m5.5 1h0m12.2 0.5h0m7.3 -1.5h0m13.1 -1.9h0m2.4 3.1h0m1.6 -1.9h0m-191.8 6.5h0m18.5 2.1h0m14 0h0m3.5 -0.9h0m5.3 -0.1h0m2.2 -3.5h0m15.5 0.8h0m18 -0.6h0m11.9 0.4h0m13.3 -1.4h0m27.5 0.8h0m0.9 4.6h0m5.7 -1.2h0m3.8 -0.7h0m33.8 1h0m8.9 -0.5h0m4.1 -2.4h0m7.2 3.8h0m9.7 -1.5h0m9 -1.8h0m5.4 0.9h0m-218.1 6.9h0m1.2 -1h0m1.8 2.1h0m11.2 -3.1h0m10.7 0.4h0m1 2.6h0m1.6 -0.7h0m24.4 -2.7h0m2.7 3.4h0m3.8 -0.3h0m0.5 -2.7h0m4.5 -2.2h0m7.5 4.8h0m1.2 -2.5h0m11.1 0.7h0m2.4 -2.3h0m2 4.3h0m11.6 0.3h0m2.4 -0.7h0m52.2 -2.8h0m6.2 2.4h0m2 0.3h0m18.9 -0.1h0m18.2 0.9h0m19.4 -4.4h0m-219.7 6h0m8.9 4.6h0m13.8 -5.2h0m4.3 2.9h0m1.5 -2.1h0m26.6 1.6h0m4.5 -2.1h0m6.9 0.2h0m3.5 0.4h0m8.7 -0.8h0m17.2 2.7h0m6.8 0.2h0m22.3 -2.6h0m4.9 2h0m13.9 2.3h0m4.9 -1h0m0 -3.2h0m5.4 -0.1h0m22.6 0.9h0m10.3 0.9h0m2.1 -1.8h0m1.9 4.6h0m21.9 0.1h0m13.4 -2.1h0m-225.3 3.8h0m8.1 3.5h0m4.8 -3.2h0m5.5 0.7h0m7.5 0.4h0m6.9 -0.1h0m8.7 2.4h0m42.3 -3.5h0m10 2h0m4.3 2.6h0m0.2 -1.7h0m10.7 -0.7h0m0 -2.5h0m2.4 2.7h0m3.9 -2.7h0m30.3 0.7h0m1.8 -1.6h0m15.1 -0.2h0m36.9 1.8h0m19.2 2.5h0m8.7 -1.9h0m0 3.4h0m-226.6 5.7h0m2.1 -2.5h0m0.6 -1.9h0m2.1 -0.3h0m27.1 1.8h0m7.2 -2.4h0m2 1h0m5.6 3h0m10.1 0.8h0m14.8 -4.6h0m0.5 1.6h0m6.4 -0.1h0m2.7 0.5h0m7.1 -0.4h0m1.2 0.6h0m12.2 1.5h0m8.6 -3h0m14 3.8h0m6.9 -0.3h0m11.2 0.9h0m5.7 -4.9h0m0.3 4.1h0m9.5 -1.7h0m3.5 -0.5h0m9.4 -2.2h0m4.9 2.6h0m5.9 -0.3h0m21.2 -2h0m13.3 4.8h0m3 -4.8h0m-221.8 8.7h0m20.7 -0.1h0m6.4 -1.7h0m8 -1h0m3.5 3.3h0m1 -2.5h0m0.9 1.4h0m19.2 -1.6h0m8.9 1.8h0m13.4 2h0m22.1 -3.9h0m20.6 0.2h0m13 0.2h0m0.8 2.7h0m9.9 -2.5h0m9.2 0.2h0m0.8 0.8h0m2.5 0.1h0m11.3 2.9h0m3.3 -2.6h0m15.6 0.5h0m9.2 -2.1h0m3.5 -0.9h0m5.3 3.2h0m14.6 -3.1h0m-220.7 9.2h0m4.1 -2.5h0m5.3 4.5h0m3.2 -3.9h0m40.7 -1.5h0m20.5 1.1h0m0.2 3.3h0m13.4 -1.3h0m3 -3.1h0m1.7 1.4h0m9.6 2.7h0m9 -4.1h0m2.1 3h0m19.1 -1h0m11.9 -0.5h0m6.8 2.5h0m11.9 -4.2h0m22.1 4.4h0m24.5 0.3h0m10.4 -0.5h0m2.3 -2.4h0m-222.5 9.7h0m2.9 -4.5h0m0.2 3.5h0m1.2 -1.5h0m4.9 1.4h0m12.3 -4h0m19.8 1.9h0m9.1 0.4h0m0.1 -2.2h0m1 4.6h0m7.3 -2.9h0m16.3 1h0m26.2 -0.4h0m5.5 -2.5h0m1.1 4.1h0m10 -2.7h0m2.4 0.1h0m0.2 -1.3h0m18 1.2h0m7.9 1.2h0m0.3 2.3h0m1.6 -2h0m14.2 2.1h0m7.3 -4.6h0m1.4 -0.9h0m9.6 0.8h0m17.9 2.2h0m13.7 -0.5h0m1.1 -2.4h0m8 4.2h0m-225.7 7.3h0m2.6 -2.5h0m7 -0.3h0m4.5 -2.1h0m35.8 0.2h0m8.6 0.6h0m5 -0.7h0m8.7 4.9h0m33.1 -3.9h0m9.6 -1.4h0m2.9 0.1h0m8.7 -0.1h0m12.9 0.3h0m3.3 3.4h0m6.3 1.2h0m4.3 -1.7h0m8.4 -0.2h0m4.3 -1.9h0m3.8 2.4h0m10.5 -0.1h0m2 -3h0m2.5 0.9h0m25.4 3.3h0m21.1 -3.1h0m-231.3 6.7h0m0.7 1.8h0m27.1 -2.5h0m3.7 -0.3h0m26.7 4h0m1 -1.4h0m10.4 -1.6h0m1.9 1.4h0m2.6 -1.3h0m14.4 -0.3h0m11.1 1.2h0m4.7 2.1h0m7.9 0.3h0m4.3 -1.8h0m36.1 -0.8h0m0.2 -1.1h0m2.9 -2h0m4.3 1.4h0m6.5 -0.2h0m4.2 2.3h0m3.5 -2.2h0m14.3 0.7h0m27.9 -2.1h0m9.5 4.6h0m-223.5 3.4h0m8.4 2.3h0m17.1 -2h0m19 2.9h0m0.6 -4.6h0m20.7 2.3h0m6.2 2.2h0m13 -4.4h0m29.7 2.4h0m18.7 -0.6h0m13.5 2.6h0m3.7 -0.5h0m13 -0.2h0m5.2 1h0m4.2 -5.3h0m22.6 5.4h0m8.6 -4.9h0m12.3 4.7h0m1 -2.6h0m-189.7 3.8h0m18 1h0m4.1 -0.1h0m19.5 2.2h0m0.2 -2.9h0m15.9 -0.5h0m16 0.5h0m1.6 4.1h0m13.5 -4h0m4.2 -0.4h0m4.9 1.1h0m15.9 1h0m7.1 2.8h0m6.8 -0.3h0m4.8 -0.1h0m10.4 -1.7h0m3.1 -3.1h0m1.2 0.4h0m18.7 2.3h0m0.6 -2.3h0m6.5 2.6h0m9.1 0.4h0m0.9 -0.5h0m1.4 -2.7h0m8.4 3.2h0m0.4 -3.1h0m-200.1 10.3h0m10.5 -0.6h0m4.7 1.4h0m6.7 -2.2h0m34.5 -2h0m3.4 0h0m11.1 0.4h0m6.7 0.1h0m16.6 2.3h0m13.8 -2.8h0m1.5 3.4h0m13.4 -3.7h0m11.2 2.2h0m0.7 -1.8h0m1.8 3h0m9.4 -3.2h0m4.3 -1.1h0m14.2 4.1h0m8.5 -1.8h0m4.1 -1.2h0m4.9 2.6h0m5.9 -1.4h0m0.4 3.1h0m5.1 -3.3h0m5.5 1.9h0m6.8 -4.1h0m0.9 1.4h0m-229.3 10h0m2.3 -2.3h0m7.9 1.4h0m16.1 0.4h0m5.2 -2.1h0m10.1 -0.1h0m3.3 1.9h0m4.6 -1.9h0m5.7 0h0m1.1 2.3h0m1.5 -0.9h0m47.3 0h0m0.1 -2h0m12.9 0.1h0m40.7 0.7h0m11.9 1.4h0m3.9 -2.1h0m18.3 0h0m0.3 2.4h0m2 -0.2h0m2.8 -2.7h0m7.9 -1.6h0m9.5 3.9h0m-216.3 3.6h0m4.7 -0.6h0m11.2 2.2h0m4.5 0.1h0m21.2 -3h0m7.8 3.4h0m14.6 1.1h0m17.2 -3.8h0m16.8 -0.1h0m13.6 2.9h0m4.2 -0.3h0m3.3 -0.6h0m12.6 -2.1h0m8.4 0.7h0m4.9 -0.8h0m2.2 2.4h0m17.4 -3h0m18.6 5.6h0m11.4 -5.5h0m1 1.4h0m2.9 1.4h0m12 2.7h0m3.5 -0.7h0m9.9 -1.9h0m4.5 -1.7h0m-225.5 6.9h0m2 -1.2h0m5.2 4.5h0m6 -4.5h0m0.6 -1.2h0m3.8 5.5h0m9.8 -5.5h0m3.4 3.6h0m2.3 0.8h0m4.7 -0.9h0m16.6 0.6h0m1.6 -2.6h0m0.8 2.9h0m24.7 -3.4h0m10.3 1.4h0m9.3 -0.7h0m0.7 -1.5h0m8 1h0m7.8 0.3h0m1.6 -1.2h0m11.1 -0.1h0m2.6 3.3h0m13.9 -3.6h0m0 3.8h0m4.1 -2h0m14.9 4.1h0m18.5 -2.5h0m6.7 0.9h0m8.7 -4.2h0m2.5 2.3h0m6.6 1.2h0m9.6 1.2h0m2.6 -1.4h0m2.2 -1.6h0m-212.4 9.1h0m31.8 -0.8h0m0.2 -0.9h0m3.9 0.1h0m5.2 -0.3h0m19.2 -2h0m4.7 -0.5h0m4.4 5.2h0m2.7 -2.4h0m4.3 -2.6h0m0.8 2.3h0m8.6 -2.3h0m10.6 3.4h0m27.8 -2h0m5.8 3h0m16.6 0.2h0m1.8 -2.2h0m9.5 0.2h0m9.2 -1.5h0m1.3 1.2h0m3.6 2.4h0m23.6 -1h0m2.6 -4.4h0m2.9 0.5h0m4.6 3.9h0m-194 3h0m2.5 1.7h0m11.1 -1.8h0m6.6 -0.1h0m3.7 4.8h0m4.7 -2.4h0m2.5 0.4h0m7.5 1.3h0m1.4 0.3h0m8.6 -1.9h0m0.3 -2.3h0m4.9 -0.8h0m27.2 4.3h0m13.4 -3.9h0m0.2 2.7h0m2 1.9h0m9.4 -3.9h0m3.9 1.3h0m4.4 2.1h0m6.4 -2.5h0m5.8 0.3h0m8.9 -1.9h0m4 0.8h0m2 1.9h0m4.2 -0.1h0m6.6 0.3h0m0.6 2h0m4.2 -2.9h0m0.5 2.3h0m17.2 -3.9h0m3.5 3.5h0m24 -2h0m-211.7 4.6h0m2.7 3.3h0m6 -1h0m8.2 -1.2h0m10.2 -0.7h0m7.4 1.8h0m39.9 0.2h0m2.8 2h0m20 -4.2h0m4.2 -0.6h0m2.4 1h0m11.7 0.4h0m4.5 2.1h0m13 -3.5h0m6.3 3.7h0m16.1 -2.2h0m1.8 1.3h0m3.2 -2h0m14.7 2h0m16.1 -2.6h0m2.6 1.2h0m2.8 2.4h0m13.7 -1h0m-203.8 6.5h0m0.1 -3.9h0m9.7 5.2h0m2.8 -1.5h0m2 0.1h0m6.2 1.1h0m20.4 -5h0m9.5 0.8h0m1.7 4.3h0m32 -1.2h0m11.3 -2.5h0m7.9 0.4h0m9.3 1.1h0m19.7 2h0m5.1 -2.6h0m9.7 0.2h0m7.8 1.3h0m10.3 -3.4h0m31.2 3.4h0m1.6 -3.6h0m-202.7 10.7h0m2 -2.2h0m9.7 -0.5h0m4.1 -1.4h0m2.2 4.7h0m0.7 -2.3h0m4.5 -2.7h0m4 2.9h0m4.1 -3h0m14.9 3.4h0m5.7 -2.9h0m2.2 2.1h0m4.9 1.5h0m12.9 -4.5h0m9 5.2h0m3.5 -5.1h0m18 0.3h0m3.5 0.9h0m3.2 1.1h0m2.3 -1.5h0m0.8 2.7h0m7.6 1h0m0.5 -3.9h0m8.4 0.2h0m4.4 4h0m11.8 -4.3h0m22.9 -0.3h0m6 0.8h0m7.5 -0.8h0m3.9 0h0m8.8 3.1h0m2.6 0.2h0m1.9 1.1h0m2.4 -4.4h0m-193.6 5.5h0m7 1h0m5.9 4.7h0m7.9 -3.4h0m56.4 0h0m3 2.1h0m13.9 -2h0m1.9 -2.5h0m9.2 0h0m4.3 1.3h0m1.4 -1.2h0m8 4.7h0m1.9 -3h0m3.4 1.8h0m19 -0.2h0m6 0.3h0m9.8 -2.7h0m18.9 2.9h0m6.1 -0.2h0m-188.3 2.4h0m20.7 1.7h0m32.6 0h0m29.7 -1h0m24.2 -0.2h0m69.7 -0.2h0" stroke="#b8889c" stroke-width="1.85" stroke-linecap="round" fill="none"/><path d="M0 0m62.1 1.3h0m5.7 -0.4h0m4.8 0.7h0m9.7 -1h0m13.6 0.3h0m2.4 2h0m19.5 -1h0m2.6 0h0m0 0.8h0m22.6 -1h0m33.4 -0.6h0m9.8 -0.2h0m3.8 0.2h0m-149 2.4h0m5.6 0.7h0m1 2h0m12.3 -3h0m4.7 2.8h0m18.1 1.5h0m8.8 -4.3h0m1.7 4.2h0m5 -1.5h0m4.9 -0.4h0m2.3 -2.1h0m4.2 1.6h0m17.9 1.1h0m6.3 0.2h0m6.1 -3.3h0m5.1 2.3h0m1.7 -2.1h0m2.5 -0.2h0m2.6 3.1h0m0.8 -2.3h0m1.8 1.8h0m0.1 2.3h0m10.9 0.3h0m7.2 -0.8h0m29.6 -4h0m-180.4 9.5h0m1.6 -0.3h0m2.1 1.3h0m4.7 -1.7h0m28.9 -1.9h0m5.4 0h0m2.4 2.7h0m3.5 -1.1h0m2.1 -2.5h0m14.6 5.3h0m2 -2.6h0m14.1 0.2h0m30.1 0.9h0m12.2 1.5h0m19.6 -3.9h0m13.8 0h0m22.3 0.9h0m2.1 0.3h0m-181.9 7.2h0m4.5 -2.1h0m0.4 3.7h0m12.5 -2.4h0m7 -3h0m2.9 3.9h0m10.7 -2h0m3 -0.1h0m8.2 3.7h0m8.8 -2h0m9.6 -0.5h0m8.3 -1.3h0m7.7 -0.4h0m2.3 0.1h0m3.6 -1.8h0m2 2.1h0m0.2 2.2h0m50.1 0.5h0m7.3 -3.3h0m5.4 2h0m2.7 -3.2h0m34.4 1.3h0m-196.7 6.8h0m0.6 1.9h0m16.3 0.9h0m12.9 -3.1h0m24.8 2.1h0m9.7 -2.1h0m3.7 3.6h0m9.7 -5.2h0m3.9 -0.3h0m6.9 2.9h0m2.6 -2.2h0m11.3 -0.3h0m8.7 0.1h0m29.1 1.9h0m3.9 0.3h0m8.7 -2.2h0m0.5 2.4h0m4.9 1.8h0m4.7 0.1h0m11.4 -4.9h0m11.3 1.7h0m8.5 -1.3h0m8.2 0.5h0m-206.5 8h0m6.7 -1.4h0m0.1 3.2h0m2.4 -1.8h0m2.6 0.9h0m18 0.2h0m5.9 -2.9h0m0.8 4h0m1.5 -3.3h0m14 -0.1h0m3.9 -1.5h0m9 2.6h0m13.8 2.6h0m16.9 -4.3h0m22 4.3h0m5.8 -0.6h0m13.5 -0.8h0m11.4 -1.1h0m5.4 -0.1h0m37.3 0.2h0m0.1 -2h0m20.2 2.5h0m-215.9 8.3h0m5.2 0.1h0m14.7 -1.9h0m36.7 -0.8h0m15.3 2.4h0m0.1 -1.3h0m26.7 0.2h0m14 -2.5h0m0.7 1.6h0m14.7 -2.6h0m11.2 2.3h0m36.9 -1h0m16.1 1.5h0m3.5 0.1h0m14.6 0.9h0m-210.3 3.6h0m9.5 2.9h0m29 -4.6h0m3.9 1.6h0m11.8 -1.9h0m8.5 2.2h0m3.4 0.1h0m10.5 0.4h0m8.9 -0.7h0m3.1 2.6h0m1.9 -0.4h0m12.7 -1.4h0m5 1.3h0m6 -4.1h0m11.4 -0.3h0m18.4 2.6h0m24.9 0.5h0m2.4 -0.7h0m52.1 3.1h0m-220.6 3.2h0m2.4 1.2h0m8.3 -0.5h0m2 0.2h0m15.5 -3.4h0m5.3 0.9h0m31.9 3.7h0m1.2 -4.4h0m18.1 0.7h0m2.8 1.9h0m4.4 2.1h0m0.5 -4.7h0m3.9 4.3h0m26.8 0.1h0m30.4 -3.2h0m48.6 1.3h0m7.6 -2.2h0m-219.6 7.4h0m1.2 2.3h0m12.5 -2.7h0m2.8 -1.5h0m13.7 5.6h0m2.6 -4.4h0m9.1 1h0m6 3h0m4.1 -4.3h0m12.1 0.2h0m5.5 4.2h0m0.9 -1.7h0m53.5 -3.8h0m3 4.7h0m7.8 -0.8h0m0.1 -2.5h0m1.1 -1.3h0m44.2 2.1h0m0.6 3.3h0m2.9 -2h0m6.5 0.7h0m15.4 -2h0m-184.7 3.9h0m6.3 2.8h0m0.4 -2.8h0m3.8 1.7h0m6.7 -1.7h0m0.8 4.8h0m1.8 -1.7h0m15.9 1.8h0m41.1 0.2h0m4.8 -0.2h0m3.3 -2.6h0m11.2 2.2h0m4.5 0.8h0m0 -3.4h0m3.5 -2h0m0.8 0.7h0m2.7 -0.7h0m1.8 0h0m0.1 2h0m16 1h0m2.2 1.9h0m7.7 -1h0m24.7 1.1h0m10.8 -4.9h0m6.7 5.2h0m8.6 -2.9h0m3.4 0.5h0m6.1 0h0m-209.3 7h0m2.3 -3.4h0m18 -0.1h0m20 2.8h0m6.2 2.4h0m2.8 -0.3h0m7.2 0.1h0m13.6 -2.1h0m8.8 -0.6h0m4.8 1.2h0m8.3 -2.2h0m3.3 0.7h0m6.5 2.3h0m31 0.4h0m2 0.4h0m16.2 -4h0m18 2.3h0m6.8 -3.4h0m1.4 -0.1h0m12.1 3.5h0m0.1 -2.9h0m3.6 1.9h0m1.3 2h0m29.1 -1.7h0m-215.9 7.4h0m19.3 -3.5h0m13.1 4.6h0m0.3 -1h0m0.6 -3.2h0m10.5 3h0m2.4 -1.1h0m3 -1.1h0m9.1 -1.1h0m3.3 0.1h0m9.2 3.2h0m4.6 -3.5h0m7.3 3.7h0m12.7 -2.8h0m10.3 -0.4h0m10.7 2.5h0m22 -2.4h0m9.4 -1.5h0m2.3 1.8h0m9.4 2.8h0m10.9 -0.4h0m0.3 -2.8h0m37.1 0.1h0m-221.6 7.4h0m12.8 -0.7h0m9.7 2.1h0m5.8 -4.4h0m2.5 0.2h0m5.5 4.1h0m29.2 -1.7h0m6.3 2.4h0m8.1 -3.2h0m8.3 0.5h0m12.5 0.4h0m4.8 2.2h0m10.5 -4.2h0m18.4 2.2h0m0.7 -2.5h0m2.1 0.3h0m5.8 1.9h0m3.6 2.4h0m2.3 -3.1h0m7.9 1.3h0m0.9 1.1h0m11.1 -4.4h0m4.5 2.2h0m2.5 2h0m1.1 1.2h0m5.6 -4.9h0m5.9 -0.4h0m2.4 5.1h0m15.6 0.2h0m2.2 -2.8h0m7.7 2.6h0m4.4 -1h0m6 -1.9h0m4.6 1h0m-222.9 8.1h0m11.6 -0.3h0m0.2 -4.4h0m1.3 0.4h0m5.8 4.7h0m1.4 -1.8h0m3.2 1.8h0m4.4 -4.3h0m1.1 0h0m19.2 4h0m26.2 -1.4h0m7.1 1.2h0m16 -1.6h0m4.6 1.3h0m9.1 0.7h0m2.2 -0.7h0m0.8 -4.1h0m4.6 1.9h0m7 2.7h0m16.6 -0.3h0m30.3 0.6h0m5.3 -2.4h0m25 -2.6h0m6.4 1.9h0m2 -1.8h0m-213.9 9.6h0m0.1 -2.1h0m7.8 -1.3h0m2.3 3.7h0m4 -0.8h0m13.1 0.5h0m7.4 0.2h0m6.9 -0.4h0m6 -2.1h0m16.2 1.3h0m5.8 -1.2h0m23.7 -0.4h0m17.3 0.4h0m6.5 -0.7h0m11.9 2.1h0m6.9 0.9h0m2.1 -2.1h0m1.7 1.1h0m18.7 0.9h0m24.5 0.1h0m9.2 -1.2h0m0.4 -1.5h0m2.2 1.7h0m-196.2 2.7h0m7.9 2.3h0m4.6 -0.1h0m9 2.8h0m7.5 -0.2h0m4.9 -4h0m2.5 1.4h0m10 2.3h0m14.6 -0.6h0m8.8 -1.8h0m3.8 3.1h0m11.2 -2.2h0m2.2 2h0m2.5 -0.5h0m7.4 -1.7h0m61.9 1.2h0m3.4 -4.3h0m6.5 4.7h0m9.1 -2.5h0m6.2 2.1h0m20.4 -2.2h0m2.6 -0.3h0m9 2.4h0m9.2 -1.4h0m-226.1 8.4h0m7.9 -3.8h0m28.6 4.4h0m2.4 -0.5h0m11.9 -4.3h0m21.2 4.3h0m0.3 -4.1h0m2.4 3h0m42.1 1h0m6.9 -2.3h0m32.6 0.6h0m3.3 2.1h0m8.3 -0.5h0m10 -3.7h0m0.5 1.6h0m21.7 -1.3h0m12.5 3.6h0m3.6 -4.4h0m5.1 4.2h0m-210.9 2.6h0m3 0.4h0m16.6 0h0m2 -0.4h0m10.6 1.7h0m7.5 -1.4h0m14.1 1.6h0m1.2 -0.1h0m2.8 0.8h0m13.8 -2h0m10.2 0.3h0m7.7 1.7h0m2.1 -0.7h0m12.8 -1.1h0m35.1 2.4h0m2.1 -4.8h0m12.7 5.5h0m2.4 -4.5h0m22.7 2.7h0m4.7 -1.5h0m15.6 0.3h0m7.2 -0.8h0m1.8 4h0m7.3 -2.1h0m-224.1 6.8h0m3.5 1h0m5.6 -0.3h0m2.3 -2.2h0m3 -0.8h0m1.6 2.4h0m31.9 -0.1h0m0.7 -3.7h0m8.3 3.9h0m4.4 -0.3h0m4.9 -3.8h0m5.7 -0.6h0m7.9 4.8h0m29 -2.2h0m6.3 0.7h0m2.8 2.1h0m4.2 -0.2h0m9.4 -1h0m15.7 0.4h0m13.3 -1.4h0m11.5 -1.2h0m11.3 2.2h0m13.2 -0.1h0m7.1 -0.7h0m8.2 1.3h0m13 -1.9h0m-212.9 6.7h0m0.7 -2.1h0m5.2 0h0m18.5 2.5h0m15.7 -0.5h0m12.1 2h0m8.4 -3.5h0m25.4 1.2h0m16.9 0.2h0m2.5 0.4h0m2.7 2h0m6.6 -2.8h0m2.6 -1.4h0m3.8 4.4h0m2.6 -5.2h0m7.3 2.5h0m1.4 0.5h0m13.9 -1h0m15.1 2.8h0m5.2 -1.7h0m8 -0.6h0m3.7 -0.5h0m8.1 -1.7h0m16.7 0.6h0m9.9 -1.1h0m-215.8 9.5h0m16.1 0.3h0m1.6 -2h0m12.2 -0.9h0m8.6 3.2h0m7.5 -2.5h0m20.4 -0.7h0m11.4 4.3h0m3.8 -3h0m20.3 2.9h0m0.2 -5.5h0m9.3 1.3h0m20.3 2.7h0m7.5 0.4h0m11.5 -0.7h0m1.2 -1.2h0m16.9 3h0m16.2 -1.5h0m19.7 -2.8h0m-218.1 9.4h0m33.3 0.4h0m12.8 0.2h0m13.4 -0.8h0m1.3 -2.3h0m18.5 2.8h0m17 -1.8h0m3.5 1.8h0m6.1 0.4h0m0.2 -2.1h0m5.1 2h0m6 0.1h0m2.4 -5.1h0m33.2 4.7h0m10.1 -0.2h0m2.2 -1.9h0m12.9 1.6h0m4.7 -2.4h0m7.3 -1.8h0m14.7 5.2h0m14.1 -4.5h0m-211.4 5.8h0m13.3 5h0m2.6 -0.4h0m6.3 -2.8h0m4.3 0.5h0m7.4 -2.6h0m17.2 5.2h0m6.3 -3.1h0m7.1 3.3h0m9.5 -4.8h0m2.6 0.2h0m30.7 2.5h0m7.8 -1.1h0m43.7 0.8h0m40.5 -0.3h0m2.2 -0.5h0m12.7 2.8h0m-205.2 1.9h0m8.2 4.2h0m1.3 -3.1h0m30.2 3.4h0m7 -2.4h0m0.2 -0.9h0m26.4 -1.4h0m14 1.2h0m5.3 1h0m19 1.4h0m13.4 -3.6h0m22.7 0.8h0m2.4 3.8h0m14 -0.2h0m24.3 -1.7h0m-193.5 4h0m32.6 3.2h0m9.9 0h0m1.1 -3.1h0m13 2.6h0m1.8 -2.4h0m3.1 0.9h0m6.2 2.5h0m6.5 -4.5h0m0.2 0.8h0m22.8 3.5h0m4.5 -1.1h0m1.4 1.2h0m2.3 -3.1h0m3.3 2.1h0m6.1 -1.5h0m8.6 -0.6h0m7 0.2h0m7.8 2.3h0m1 -4.4h0m18.6 4.5h0m2.4 -0.9h0m29.4 0.6h0m20.5 -4.7h0m-208.3 9.5h0m18 -0.9h0m5.5 0.5h0m2 0.9h0m13.8 -0.1h0m8 -2.2h0m27.2 1.3h0m5.7 1.9h0m6.7 0.4h0m2.2 -0.4h0m42.9 -1.3h0m17.7 0.4h0m15.6 -3h0m1.7 2.4h0m5.1 -2.2h0m1.8 4.2h0m-169.3 2.9h0m3.4 -0.7h0m13 0.6h0m2.5 2.3h0m22.2 -2.6h0m0.7 2.9h0m24.6 -0.9h0m0.2 -1.7h0m1.9 -0.9h0m5.9 2.1h0m7.9 2.5h0m2 -4.3h0m6.1 4.1h0m11.6 -1.6h0m7 0.8h0m13.6 -0.6h0m4.4 0.1h0m2.1 -4.3h0m10.9 4.1h0m0.5 -2.4h0m2.3 -0.1h0m3.8 2.3h0m5.2 1.6h0m6.1 -4.5h0m2.8 -1h0m17.3 4h0m13.8 0.1h0m4.7 0.1h0m-166.6 2.9h0m123.1 -0.8h0m29.8 0.2h0" stroke="#b8889c" stroke-width="1.6" stroke-linecap="round" fill="none"/><path d="M0 0m75.7 1.2h0m8.1 -0.3h0m25.4 -0.3h0m4.7 0.6h0m20 1.6h0m13.3 -2h0m18.2 0.8h0m31.6 0.2h0m-172.7 6.4h0m6.7 0.1h0m3.3 -0.7h0m16.1 -1.3h0m2.4 -1h0m25.3 -1.3h0m19.3 4.3h0m5.6 -0.9h0m2.2 -1.3h0m17.9 -2.8h0m6.6 2.3h0m28.3 -0.1h0m0.4 -2.1h0m4.9 5.1h0m12.8 -3.4h0m25 1.1h0m7.4 0.9h0m-183 3.4h0m9.9 0.2h0m0.9 3.2h0m18.9 0.7h0m20.4 0h0m2 -2.7h0m0 -1.2h0m9.1 -1.2h0m0.7 3.6h0m4.1 -3.4h0m1.4 0.3h0m13.7 2.6h0m20.6 0h0m10.8 -1.7h0m9.7 1.8h0m4.7 -2.9h0m6.7 1.1h0m13.3 3h0m16.1 -3.5h0m6.3 3.7h0m10.4 -1.3h0m-186.5 3.7h0m5.2 -0.2h0m0.2 3.1h0m13.2 -0.2h0m13.6 -3.9h0m42 -0.1h0m0.5 4.3h0m26.5 -4.4h0m15.6 4.8h0m7.1 -2.6h0m23.5 1.6h0m19.7 -1.3h0m8.3 0h0m15.7 -2.2h0m0.2 1.8h0m2.9 1.7h0m3.7 0.5h0m-204.4 6.8h0m4.6 -4.4h0m4.1 0.2h0m2.9 0.9h0m6.1 2.5h0m7.5 -2.2h0m13.5 -1.9h0m2.5 4.2h0m1.1 -1.4h0m7.7 -2.4h0m1.5 2.2h0m2.9 -0.9h0m0.4 -1h0m60.5 3.6h0m2.5 -2.7h0m2.2 -1.5h0m10.9 2.6h0m1.6 -2.5h0m2.7 -0.4h0m11.2 3.1h0m7.4 -0.1h0m15.7 1h0m9.9 -2h0m4.7 2.9h0m20.9 -0.4h0m-209.4 7h0m36.3 -4.3h0m11.2 0.5h0m20.4 1.9h0m22.6 2h0m10.8 -5.3h0m15.2 5.5h0m2.2 -4.6h0m15.6 2.4h0m2.8 -0.2h0m2.9 2.4h0m4.1 0h0m0.1 -4.3h0m6.5 -1.1h0m0.4 4.8h0m10.4 -3.8h0m5.8 -0.6h0m17.4 2.8h0m14.2 -2.9h0m9.7 2.3h0m5.4 -0.3h0m-202.9 8.1h0m2.8 0.8h0m12.5 -2h0m9.7 -1.6h0m11.3 -0.2h0m2.2 0h0m11.2 2.9h0m6.2 0.8h0m6.6 -1.5h0m34.9 -0.7h0m2.1 -3.3h0m65.3 0h0m13.8 3.5h0m8.4 0.7h0m16.5 -0.6h0m-180.4 7.8h0m4.9 -0.3h0m4.1 -4.4h0m35.7 3.8h0m4 -1.5h0m10 1.1h0m4.7 -3.5h0m4.2 1.3h0m2.5 2.7h0m22.5 -1.4h0m12.4 2.2h0m23.5 -0.7h0m10.7 -4.8h0m31.5 4.4h0m2.2 1.2h0m-208.5 1.5h0m10 -0.6h0m6.6 5h0m1.2 -3.9h0m1 3.4h0m9.5 -2h0m20.6 -2.5h0m28.5 0.5h0m3.3 0.8h0m5.6 3.1h0m21.2 -1.7h0m4.5 -0.1h0m11 2.5h0m11.9 -5h0m1.1 2.4h0m0.4 2.5h0m22.8 -3.9h0m1.9 1h0m11.5 0.6h0m2.7 -0.3h0m2.5 -0.2h0m6.5 2.4h0m11.2 -1h0m13.4 -3.5h0m1.3 2.7h0m9.5 -0.4h0m-211.2 7.7h0m0.5 -4.5h0m2 4.4h0m11.3 -4.4h0m15.6 4.4h0m15.2 -0.4h0m7.1 0.4h0m11.1 -0.3h0m6.9 -0.8h0m1.4 0.4h0m25.5 0.6h0m17.4 -0.2h0m2.1 -4.2h0m2.1 2.1h0m1.5 2.2h0m6 -1.8h0m3.9 1.1h0m3.6 -1.4h0m3.3 -0.5h0m5.2 2h0m27.5 -2h0m8.5 2.2h0m4.6 0h0m15.7 -0.1h0m3.9 0.8h0m5.5 -0.1h0m-210.1 3.3h0m9.6 2.6h0m2.6 0.8h0m1.1 0h0m26.7 -2.9h0m2.9 -1.3h0m12 4h0m14.7 -4.3h0m0.9 3.8h0m13.4 0.7h0m13.5 -0.2h0m1.3 0.5h0m16 -0.7h0m10.9 -0.3h0m2.3 -2h0m14.4 0.7h0m1.1 -0.7h0m11.9 1.7h0m30.1 -3.5h0m3.1 2.1h0m1.4 -1.7h0m8.6 -0.9h0m4 5.1h0m15.3 -2.7h0m2.1 0.5h0m-224.3 8.7h0m7.2 -2.6h0m3.8 -2h0m3.2 2h0m8.5 -0.3h0m8.5 -1.9h0m26.8 -0.3h0m16.4 0.1h0m2.2 0.1h0m9.2 1.8h0m15.4 0.6h0m3.8 -2.7h0m5.2 5.2h0m16.6 -4h0m4 3.8h0m4.6 -2.1h0m8.6 0.6h0m2.5 -2.3h0m18.5 0.1h0m8.7 1.4h0m8.1 -0.1h0m2.5 0.9h0m29.6 1.6h0m-220.3 4.8h0m15.5 -4.4h0m4.7 5.5h0m6.1 -1.3h0m12.2 -2.5h0m6.1 0.8h0m14.2 -0.9h0m10.2 2.3h0m9.6 1.6h0m2 -0.8h0m4.4 1.2h0m5 -1.4h0m10.3 -0.1h0m4.4 -1.9h0m24.8 -1.4h0m2.2 1.2h0m12 3.3h0m1.8 -3.2h0m3.2 2.2h0m17.1 0.1h0m2 -0.2h0m2.4 -4.5h0m25.3 0.3h0m0.7 0.9h0m1.3 -1.1h0m4.8 0.1h0m1.5 3.2h0m3.3 -1.4h0m4.3 1.3h0m2.5 -1.2h0m1.1 2.5h0m10.5 -2.3h0m2.2 -2.3h0m1.2 4.3h0m-228.5 7.2h0m1.9 -4.6h0m8.7 3.4h0m0.6 -1.5h0m9.9 -2.4h0m15.7 4h0m4.6 1.1h0m27.5 -2.7h0m13.9 -0.1h0m4.1 1.7h0m9.3 -4.4h0m12.9 5.5h0m10 -5.4h0m7.8 0.9h0m25.7 -0.7h0m17.1 5.1h0m7.8 -2.1h0m1.7 -0.1h0m0.8 2.2h0m22.5 -0.5h0m2.1 -4.1h0m1.5 1.4h0m3.1 1.9h0m1.8 0.6h0m15.6 0.6h0m-221.3 2h0m28.2 1.5h0m6.6 2.7h0m2.6 -4.2h0m3.9 -0.9h0m3.7 0.2h0m3.6 2h0m11.2 3.2h0m20.2 -1.7h0m2.1 1.3h0m0.2 -1.9h0m4.6 -1.7h0m8.3 0.9h0m4 2.4h0m20.1 -1.8h0m16.2 -1.6h0m9.7 -0.4h0m4.5 -0.9h0m22.4 1h0m1.5 4.1h0m7.2 -5.1h0m8.8 0.2h0m4 -0.3h0m5.7 5.4h0m8.2 -4.7h0m6.5 4h0m-217.6 2.6h0m0.4 -1.3h0m2.4 -0.2h0m13.3 1.5h0m20.3 0.9h0m9 -1.5h0m13.3 2.5h0m13.8 1.1h0m3.3 -1h0m3.4 -3.3h0m1.5 1.5h0m8.7 0.2h0m19 2.6h0m3.4 -1.3h0m17.9 0.2h0m9.8 2.3h0m5 -5.8h0m1.7 2.6h0m13.9 0.7h0m18 1.4h0m6 -4.5h0m6.7 4h0m34.8 0.2h0m2 -2.3h0m-223 6.5h0m14 -2.5h0m2.1 2.2h0m1.8 -2.3h0m7.1 2.9h0m10.2 1.2h0m2.6 -3.5h0m12.2 2.6h0m1.1 0.9h0m5.2 -2.3h0m14.8 1h0m0.2 -2.7h0m11 4.6h0m7.9 0h0m8.5 -2.4h0m15.3 -1.7h0m2.2 1.4h0m4.5 -0.2h0m2 -1.3h0m14.9 3.9h0m16.7 -4.5h0m1 5.6h0m0.5 -2.7h0m1.6 -2.9h0m11.8 2.8h0m1.5 2.7h0m9.8 -4.6h0m3.1 1.1h0m9.6 -1.8h0m13.7 2.8h0m4.6 -2.9h0m-201 6.5h0m8 2.8h0m10.9 -0.8h0m3.5 -0.8h0m16.4 -0.6h0m10.4 -0.8h0m19.3 2.2h0m11.3 -1.9h0m1.1 4.3h0m0.8 -1.9h0m0.2 -2.6h0m10.4 1.4h0m16.1 -1.1h0m8.5 2.7h0m0.1 -2.3h0m7.8 2.4h0m5.9 -2.5h0m15.9 2.9h0m16.3 -0.1h0m8.1 -0.2h0m35.7 -0.7h0m-223.5 8.7h0m12.9 -1.5h0m4.7 -4.2h0m12.5 4.4h0m7.6 -3.3h0m17.3 3.5h0m4.4 1h0m5 -3h0m7 -2.2h0m11.3 4.5h0m8.3 -3.1h0m12.6 -0.4h0m1.1 1.1h0m34.8 2.4h0m4.3 0.7h0m14.6 -5.3h0m0.9 1.6h0m1.6 1.9h0m12.3 1h0m14.9 -2.3h0m5.2 -0.9h0m19.5 -1.4h0m11.2 3.6h0m7.7 -3.4h0m-230.4 10.9h0m9.1 -3.3h0m22 3.1h0m19.3 -3.9h0m30.1 1.2h0m22.9 -1.3h0m2.1 3h0m2.8 -2.2h0m22.3 0.4h0m1.8 2.3h0m5.3 0.7h0m6 -5.3h0m2.8 4.5h0m31.6 0.4h0m6.2 -2.5h0m5.7 3h0m1 -5.1h0m13.3 4.7h0m13.6 -2.6h0m9.4 0.6h0m-224.6 8.1h0m2.5 -2.2h0m1.1 0.6h0m0.1 -2.1h0m23.9 2.1h0m1.2 1.8h0m6.6 -1.9h0m6.8 0.1h0m2.5 1.8h0m2.4 -4.5h0m22.5 3.2h0m2.3 -1h0m6.9 -2.1h0m7.3 -0.3h0m4.1 3.4h0m11.4 -3h0m8.4 5h0m4.1 -0.5h0m5.2 -4.7h0m2 -0.1h0m35.6 4.4h0m0 -4.1h0m-139.2 10.6h0m18.5 0.4h0m21.7 -3.6h0m0.4 3.2h0m2.3 -3.7h0m3.9 3.9h0m3.2 -1.3h0m13.6 -4.2h0m6.3 2.3h0m24.5 2.2h0m11.9 -1.2h0m28.9 -1.3h0m1.9 -0.8h0m9.4 -0.4h0m26.7 2.4h0m1.8 0.7h0m5.6 -0.7h0m11.4 -2.3h0m1.4 1.1h0m10.8 -2h0m-226 6.2h0m9.1 4.4h0m5.8 0.4h0m10.9 -0.4h0m5 -1.6h0m18.3 1.9h0m3.6 -0.8h0m3 -1.7h0m24.4 -2.5h0m21 0.1h0m13.1 4.3h0m6.4 -1.3h0m2.1 -0.4h0m7.6 -0.2h0m16.9 -2.2h0m16.8 2.9h0m13.8 -1.2h0m18 2.6h0m15.6 -2.6h0m5.6 -2h0m4.6 2.6h0m7.1 -0.8h0m0.9 3h0m-216.8 2h0m2.3 -0.1h0m16.5 4.4h0m4.5 -4.6h0m14.4 1.1h0m4.7 3.4h0m11 0.4h0m9.2 -2.5h0m12.2 -1.5h0m7.1 3.3h0m13.1 -3.6h0m2.3 4.4h0m4.1 -2.6h0m0.7 -2.3h0m2 0.1h0m4.7 0.4h0m10.5 4.4h0m33.5 -5.1h0m7.5 3.5h0m10.8 -3.3h0m1.9 0.3h0m5.4 4h0m10.1 -3.4h0m3.4 -0.5h0m13 -0.6h0m1.6 5.1h0m9.9 -3.8h0m-218 10.1h0m1.8 -2.1h0m15.6 1.7h0m3.9 -3h0m1.2 3.2h0m5.8 -2.2h0m26.7 -1.7h0m0.9 1.5h0m1.7 0.9h0m6.8 -2.3h0m11.9 0.1h0m8.2 2.2h0m2.2 -1.6h0m2.5 1.1h0m6.9 -1.3h0m6.6 -0.8h0m8.6 2.9h0m7.2 -4.5h0m5.2 1.4h0m1.7 4.5h0m4.9 -1.1h0m2.2 1h0m9 -3.6h0m4.7 -0.3h0m2 -0.7h0m0.1 -1.2h0m12.8 2.1h0m12.2 -1.1h0m19.2 4.8h0m5.2 -2.3h0m13.9 -2h0m1.4 4.4h0m-198 5.3h0m6.9 -2.5h0m4.8 0.2h0m15.2 -2.2h0m14.6 -0.5h0m8.3 1.7h0m2.2 0.5h0m0.1 3.2h0m11.7 -0.9h0m5.4 -2.1h0m2.4 1.6h0m16.7 -1h0m9.5 2.3h0m6 -2.3h0m9.5 -0.2h0m1 0.2h0m25.7 1h0m9 0.4h0m0.3 -4.1h0m10.5 4.8h0m2.3 0h0m8.4 -0.5h0m16.3 -1.6h0m1 -2.3h0m-194.6 10.8h0m0.8 -4.6h0m4.2 1.8h0m6.1 -1.6h0m12.4 1.4h0m6.3 0.8h0m3.9 2h0m3.2 -4.8h0m8.3 0.5h0m4.4 2.5h0m4.5 -2.8h0m0.6 4.8h0m4.5 -3.2h0m1.4 -1.8h0m1.1 4.2h0m5.4 0.2h0m3.1 0.4h0m14.1 -2.7h0m7.5 1.2h0m9 -3.1h0m27.4 -0.4h0m21.1 0.5h0m1.4 1.9h0m5.3 -2.4h0m0.2 4.9h0m25.8 -1.6h0m-183.3 4.6h0m2.1 1.7h0m6.2 -1.7h0m6.9 -0.7h0m17.9 1.9h0m11.8 -2.6h0m5.5 3h0m27.5 -1.4h0m21.9 1.6h0m11.6 -1.9h0m3.2 -2h0m2.3 2.9h0m1.9 0.4h0m6.6 -1.1h0m6.4 -1.1h0m4.3 3.3h0m11.6 -2.2h0m2.2 -2.3h0m2.8 3.7h0m10.3 0.5h0m5.4 -1.9h0m3.5 1.7h0m3.5 -2.7h0m0 3.1h0m10.3 -4.4h0m-181.4 6.3h0m13.6 -0.1h0m11.4 1.5h0m30.5 -1.6h0m30.2 0h0m25.7 -0.2h0m0.8 1.7h0m9.4 -0.8h0m54.9 0h0" stroke="#b07e94" stroke-width="1.85" stroke-linecap="round" fill="none"/><path d="M0 0m78 1.1h0m43.9 -0.1h0m2.2 0.6h0m12.6 -1.2h0m3.8 0.8h0m31 -0.2h0m5.6 1.6h0m3.4 0.3h0m22.5 -1.1h0m-163.8 2.2h0m27.3 3.6h0m18 -4h0m31.7 1.6h0m1.5 2.9h0m2.1 -2h0m5.8 -0.1h0m0 2.3h0m10.5 -0.9h0m13.8 -1.2h0m11.4 -0.4h0m42.7 0.1h0m-182.2 8.5h0m15.2 -1.9h0m4.5 1.8h0m9.2 -2h0m11.3 -1.8h0m27.2 4.3h0m1.5 -3h0m25.4 -2.4h0m2.6 1.5h0m4.5 -1.1h0m18.9 2.3h0m25.5 2.5h0m24.6 -3h0m3.1 1h0m13.2 2h0m1.3 -3.9h0m0.7 1.6h0m-195.5 7.3h0m3.8 1.2h0m16 -2h0m10.9 -0.1h0m10.9 0.5h0m7.9 -2h0m36.4 -1.8h0m10.1 1h0m17.7 3.3h0m2.4 -1.2h0m9.3 0.4h0m0.2 -2.2h0m40.3 0.7h0m2 2.5h0m7.1 -0.7h0m4 -0.6h0m-183.2 8h0m4.3 -3.7h0m8.1 -0.8h0m5.6 3.8h0m6.7 0.1h0m6.3 -0.1h0m6.2 -2.3h0m4.9 -0.3h0m4.3 2.6h0m3 0.1h0m2.1 -0.2h0m31.4 -0.2h0m6 -2.5h0m3.1 3.1h0m12.5 -2.7h0m15.6 -0.4h0m2.7 1.3h0m1.9 2.2h0m2.2 -0.2h0m30 -2.1h0m7.4 -2.5h0m29 0.2h0m4 4.6h0m7.6 -5.5h0m-200.5 10h0m6.5 1.9h0m2.2 -0.5h0m8.8 -4.8h0m4.8 0.5h0m4.7 0.2h0m3.9 4.3h0m5.1 -2.2h0m6.7 1.3h0m1.1 0.6h0m10 -2.8h0m15.7 2.2h0m4.5 -1h0m0.4 1.1h0m3.8 -0.7h0m1.7 -3.3h0m12.3 2.4h0m24.2 -0.7h0m24.4 3.3h0m1.1 -2.2h0m12.7 1.7h0m12.1 -3.5h0m6 0.8h0m7.1 -1.6h0m12.6 2.6h0m3.4 2.1h0m11.3 -5.1h0m1.1 1h0m-200.3 8.3h0m11.5 -2.6h0m10.8 1.1h0m4.6 -0.8h0m3.1 0.5h0m6.6 2.5h0m11.6 -1.1h0m71.6 -2h0m6.8 0.9h0m4.1 1.7h0m0.6 -2h0m3.8 0.1h0m36.1 -0.1h0m0.4 3.4h0m20.2 -1.2h0m-199.8 2.3h0m0 4.7h0m16.8 -2.2h0m2.9 -2.5h0m4.4 1.8h0m0.2 2h0m8.6 0.4h0m7.7 -4.3h0m5.5 5.1h0m15.6 -1.1h0m20.8 -3.7h0m13.8 0.3h0m11.3 2.2h0m6.2 -0.8h0m7.4 -0.7h0m13.1 3.7h0m0.6 -5.5h0m4.7 5.6h0m2 -2.9h0m30.5 -1.9h0m1.2 2.1h0m14.6 -0.3h0m18.8 -1.6h0m3.7 4h0m-189.9 2.6h0m11 -0.1h0m4.3 3.4h0m6 0.9h0m9.7 -4.7h0m29.5 2.3h0m6.4 0.6h0m7.3 1.1h0m11.3 -3.4h0m8 2.2h0m7.2 -1.2h0m4.8 0h0m1.6 -1.6h0m2.6 -0.6h0m4.7 4.3h0m12.8 0.9h0m7 0h0m7.5 -4.8h0m8.1 3.8h0m11.3 0.7h0m0.5 -3.9h0m6.6 -0.8h0m2.5 -0.3h0m24.5 4.4h0m-228 3h0m3.2 1.7h0m38.6 -1.9h0m1.5 1h0m2.3 0h0m0.3 -2.7h0m0.2 4.3h0m1.2 -0.7h0m0.5 -2.5h0m11 3.3h0m29 1.6h0m48.4 -3.4h0m6.2 -0.8h0m13.2 0h0m8.5 0.2h0m5 -2h0m16.5 1.6h0m12.5 -0.5h0m9.3 3h0m6.4 -3h0m13.4 3.4h0m-224.1 3.4h0m4.1 1.2h0m30.8 1.8h0m16.8 -2.8h0m26 2.2h0m5 -3.9h0m15.6 2h0m0.8 -1.5h0m6.3 0.9h0m5.2 3.5h0m1.5 -4.1h0m2.2 2h0m20.6 1.5h0m22.5 0.5h0m2.1 -4.7h0m13.2 0.6h0m4.1 1.1h0m0.2 2h0m5.4 -3.9h0m4.9 4.6h0m12.4 0.2h0m17.5 -3.2h0m5.5 -0.9h0m-227.9 10.2h0m4.6 -1.6h0m18.6 1.5h0m9.3 -3.4h0m6.8 0.9h0m6.7 0.1h0m1.5 -0.9h0m8.4 1.8h0m10.1 -0.4h0m21.8 1.8h0m11.9 0.9h0m4.2 -0.8h0m0.8 -2.5h0m12.1 1.3h0m11.6 -2.7h0m3 2.1h0m15.9 2.5h0m6.1 -2.3h0m11 2h0m1 -4.6h0m8.2 1.9h0m7.2 2.8h0m4.3 -0.6h0m12.6 -3.2h0m9.8 1.7h0m1.8 -1.8h0m0.3 3.2h0m6.9 -4.3h0m13.3 -0.2h0m-218.5 10h0m12.1 -0.8h0m27 -1h0m59.9 1.6h0m2.2 0.1h0m13.2 -3h0m24.7 0.4h0m3.7 2.3h0m8.9 0.5h0m5.7 -2.1h0m25.9 0h0m5.4 1.9h0m12.6 -2.3h0m-185 9.1h0m7.3 -2.6h0m12.6 -0.5h0m2.3 -1.2h0m4.9 4h0m1.9 -3.7h0m7 4.2h0m2.6 -0.9h0m2.5 -3.8h0m3.6 1.3h0m11.6 3.5h0m1.7 -0.6h0m15.6 -0.6h0m14.1 0.3h0m1.9 0.2h0m36.9 0.4h0m8.4 -0.8h0m11.7 0.7h0m12.5 -0.7h0m14.4 -3.3h0m10.2 -0.3h0m9.8 2.3h0m-211.2 3.6h0m4.1 4.6h0m1.9 -0.1h0m0.5 -4.2h0m0.5 2h0m1.6 0.1h0m8.2 0.3h0m10.5 0.9h0m7.5 -3.4h0m0.2 3.4h0m4.8 -1.6h0m4.8 -1.9h0m9.2 2.9h0m1.6 0.4h0m9.6 -3.5h0m1.5 5.2h0m3.1 -0.9h0m19.9 -1.1h0m18.3 -0.8h0m30.9 -2.2h0m0 3.4h0m9.7 -0.4h0m8.8 -0.8h0m1.7 2.8h0m7.3 -2.8h0m16 -0.2h0m10.5 0.2h0m4.2 2.5h0m1.2 -2.3h0m1.2 -2.6h0m2.5 3.2h0m10.7 -0.8h0m-219.1 8.8h0m6 -3.8h0m6.1 -0.7h0m9.6 -0.9h0m17.6 3.6h0m7.9 -2.5h0m13.1 0h0m9.3 1h0m10.2 1.6h0m14.7 -2.2h0m3.5 0.2h0m6.3 2.3h0m1 -2.5h0m4.2 -0.2h0m6.1 0h0m18.3 2.1h0m0.7 1.9h0m5.1 -3.6h0m15.6 0.2h0m6.2 -1.9h0m11 1.1h0m17.5 0.1h0m9.1 4.4h0m4.2 -3.4h0m18.9 -0.7h0m-164.1 4.9h0m1.5 0h0m7.4 4.7h0m1.7 -0.8h0m4.2 -3.9h0m32.1 -0.1h0m9.3 -0.2h0m10.9 0.2h0m18.3 2.1h0m8.7 -1.9h0m4.8 1.4h0m8.7 2.4h0m11.5 -1.3h0m0.4 1.1h0m3.4 -3.6h0m5.2 2.1h0m6.3 -2.5h0m8.8 1.6h0m9.7 2.8h0m4.1 -2.9h0m7.5 0.4h0m1.8 -1.4h0m1.6 -0.6h0m2.8 -0.1h0m-226.7 6.4h0m4 3.5h0m4.5 0.1h0m2.9 -1.5h0m6.8 2.7h0m14.5 -5h0m15.7 2.2h0m7.6 1.5h0m17.5 0.9h0m4.1 -4.1h0m7.8 0.3h0m20.3 4.2h0m2.4 -2.3h0m4.2 2.5h0m15.1 -5.1h0m1.8 5h0m56.8 -1.4h0m-190.9 6.8h0m20.1 0.9h0m15.8 -1.7h0m4.3 0.7h0m11.4 -3.1h0m9.2 -0.2h0m0 -1.5h0m34.3 4.8h0m14.6 -0.2h0m27.6 -1.1h0m5 -1.6h0m1.8 -1.7h0m4.2 1.4h0m51.2 -1.5h0m16.8 5.5h0m12.8 0.1h0m-199.6 4.8h0m6.4 -4h0m4.4 4.3h0m40.2 -4.7h0m31.2 5.5h0m4.8 -4.7h0m15.7 -0.5h0m7.8 0.3h0m15.9 0h0m4.4 0h0m13.2 2.1h0m12.6 2.3h0m4.4 -4h0m5.1 0.1h0m31.9 -0.4h0m-208.1 6.6h0m27.5 -0.2h0m7.1 0.2h0m11.6 -0.4h0m3.4 -0.2h0m12.7 4.4h0m0.8 -0.1h0m8.9 0.1h0m0.2 -3.4h0m4.8 1.3h0m24.4 -2.4h0m12.1 1.1h0m18.4 3.7h0m10.9 -2.7h0m6.3 -0.1h0m2.3 1.4h0m0.9 1.6h0m0.8 -4.7h0m2.5 4.3h0m4.6 -4.9h0m2.7 0.6h0m1.8 -0.4h0m15.8 5.2h0m16.1 -3h0m2.6 -1.7h0m-218.2 6.5h0m6.2 0.9h0m4.5 0h0m9.2 -1.1h0m2.3 0.1h0m6.6 0.2h0m15.6 4.1h0m9 -3.5h0m6.3 2.4h0m7.9 0.1h0m10.5 -0.9h0m47.4 1.9h0m7.1 -3.5h0m4.1 -0.5h0m4.6 4h0m12.9 -5.4h0m9.5 1.9h0m27.1 2.5h0m7.4 -3.5h0m5.7 3.3h0m18.8 -2.1h0m6.2 3.2h0m-224.9 3.4h0m7.2 -3.1h0m17.4 4.4h0m0.6 -1.6h0m17.2 -2.7h0m5.6 5.5h0m4.3 -1h0m23.6 -2.2h0m32.3 -2h0m5.9 -0.1h0m10.3 0.9h0m5.5 4.4h0m25.4 -2.4h0m2.6 -2.2h0m27.4 3.4h0m23.8 0.5h0m0.5 -2.3h0m6.9 2.2h0m10.1 0.2h0m-219.9 2.4h0m5.2 3.4h0m6.4 -1.1h0m9.4 -2.9h0m8 2.7h0m7.1 -2.2h0m0.6 2h0m1 -1.5h0m9 0.8h0m19.3 -1.1h0m3.7 -0.6h0m6.3 2.6h0m7.3 0.4h0m6.3 2.1h0m7.6 -0.7h0m2.5 -3.8h0m11.4 1.7h0m6.7 -2.6h0m12.5 0.1h0m39.2 4.3h0m15 -4.5h0m5.3 2.1h0m5.7 3.3h0m7.4 -0.1h0m-175.5 1.5h0m1.2 -1.1h0m0.5 2.4h0m40.8 -0.9h0m11.9 -1.6h0m24.1 4.6h0m1.6 -1.1h0m25.2 0.4h0m2.2 -2.4h0m4 2.7h0m0.8 -2.9h0m6 -1.3h0m20.2 3.3h0m0.4 -2.2h0m41.3 3.7h0m2.4 -1.2h0m-201.1 5.7h0m1.8 -1h0m10.1 0.2h0m3.9 -2h0m10.9 2.6h0m5.2 -3.2h0m1.5 4.6h0m7.5 -4.4h0m2.1 2.8h0m14.2 -2h0m13.5 1.3h0m17.5 -0.4h0m4.4 2.5h0m0 -3.4h0m22.2 -0.8h0m13.3 5.2h0m15.6 -0.2h0m3.5 -2h0m17.8 -2.1h0m3.6 -0.6h0m6.5 3.6h0m14.3 0.6h0m2 -0.1h0m-184.2 6.4h0m2.5 -3.5h0m18.3 4.1h0m48.2 -4.5h0m10.2 3.9h0m13.5 -1.4h0m4.1 1.6h0m17.1 -4.5h0m5.4 4.3h0m8.6 0h0m7.1 0.6h0m3.9 -1.9h0m13.6 -0.6h0m2.9 1.7h0m0.3 -3h0m9.8 2.2h0m5.6 0.1h0m10.2 -1.2h0m5.9 2.6h0m3.8 -2h0m-177.4 6.4h0m13.5 -2.5h0m1.1 4.4h0m28.5 -4.6h0m29.2 0.7h0m4.4 4.1h0m18.9 -3.6h0m16.1 -0.4h0m0.9 -1.9h0m26 3.3h0m3.2 -2.3h0m17 2.4h0m4.6 -1.5h0m1.1 1.7h0m12.1 -2.4h0m-188.2 5.5h0m87.5 1.1h0m29.2 -1.4h0" stroke="#b07e94" stroke-width="1.6" stroke-linecap="round" fill="none"/><path d="M0 0m80.5 2.6h0m68.9 -2h0m45.6 1.2h0m-162.6 2.3h0m11.1 3.2h0m6.7 -4h0m13.7 -0.1h0m7.6 0.4h0m6.1 3.9h0m7 -0.3h0m4.4 0h0m2.1 0.1h0m8.8 0.5h0m37.9 0.7h0m4.8 -1h0m20 -1.9h0m7.9 -1.5h0m5.9 4.2h0m2.1 -3.4h0m0.4 3.5h0m20.1 -3.2h0m-175.4 4.6h0m4.4 3.2h0m10.6 -1.1h0m30 2.4h0m2.5 -3.8h0m2.1 1.3h0m27 0.8h0m6.7 -2h0m2.2 -0.8h0m2.9 1.9h0m5.9 0.9h0m12.9 -3.1h0m14.8 3.2h0m5.9 -0.5h0m4.4 -2.5h0m10 4.5h0m3.8 -1.4h0m1.9 -0.2h0m2.4 0.2h0m7.4 -2.7h0m22.5 -0.8h0m3.8 2.4h0m-181.8 8h0m3.9 -3.3h0m7.1 0.9h0m4.2 1.9h0m11.2 -1.8h0m20 -2.1h0m1.4 4.4h0m9 -0.7h0m10.3 -2.8h0m3.4 3h0m3.6 -2.7h0m6.4 -1.4h0m9.8 1.9h0m5.9 1.3h0m4.6 1.5h0m7.2 -4.7h0m3 2.2h0m3.9 3.6h0m18 -4.5h0m1.5 0.4h0m28 -1.6h0m3.8 -0.1h0m-168.9 11.4h0m3 -2.6h0m10.2 2.2h0m3.8 -2.5h0m6.5 2.1h0m1.9 -3.8h0m9.4 -0.7h0m24.7 2.8h0m18.1 2.1h0m3.2 -4.5h0m0.9 3.5h0m3.8 -4h0m12 2.4h0m2.5 0.3h0m6.7 -1.6h0m4.8 3.3h0m6.3 -2.5h0m3.7 1h0m31.4 2.3h0m2.6 -2h0m22.8 1.3h0m11.7 0.2h0m-203.3 1.9h0m0.7 4.4h0m17.7 -3.3h0m10.4 -0.8h0m9.8 1.8h0m9.4 0.7h0m3.2 -0.6h0m21.2 -0.1h0m0.5 -0.9h0m1.6 -1.4h0m3 5h0m12.6 -4.7h0m19.9 3.3h0m11.3 1.8h0m7.8 -5.6h0m8.2 1.6h0m3.1 3.9h0m12.1 -0.9h0m1.3 -4.5h0m1.8 0.7h0m6.9 3.1h0m28.8 -2.9h0m6.7 4.6h0m16.6 -0.1h0m-216.2 3.5h0m7.9 2.5h0m7.8 -4.7h0m1.6 2.5h0m6.4 -2.2h0m6.7 0.2h0m3.4 0.3h0m1.5 2.1h0m16.4 -1.9h0m9.3 -1.8h0m9.9 1.1h0m9.6 1.1h0m6.2 -1.1h0m3.6 3.5h0m3.1 1h0m11.3 -4.6h0m0.1 3.2h0m5.1 1.2h0m3.8 -4.4h0m0.6 -1.3h0m5.2 0h0m3.8 4.1h0m3.9 0.6h0m11.1 -3.6h0m16.4 0h0m26.6 3.8h0m2.7 -0.4h0m8.8 1.2h0m19.1 -3.9h0m-218.3 8.3h0m8 1.4h0m2.5 -3.5h0m25.4 2.2h0m5.6 -1.5h0m11.2 -0.1h0m2.9 1.9h0m5.1 -1.6h0m9.7 2.4h0m16.4 0.1h0m12.2 -4.9h0m19.3 2.4h0m6.6 1.8h0m0.3 -1.8h0m6.3 1.7h0m16.8 -1.2h0m1.8 1.1h0m2.6 -2.6h0m2.2 2.9h0m7.1 -0.3h0m10.8 -2h0m1.7 -1.5h0m6.2 4.1h0m18.1 -3h0m21.4 1.2h0m3.8 -2.2h0m1.8 4.6h0m-219.5 1.3h0m1.6 4.3h0m4.3 -2.2h0m16.2 -2.8h0m10.9 2.3h0m7.1 -1.5h0m12.9 2.3h0m3.5 2.4h0m0.2 -2.6h0m3.6 2.4h0m13.7 -2.7h0m5.1 2.4h0m17.4 -0.2h0m7.3 0.4h0m6.8 -4.3h0m7.8 -0.9h0m8 1.6h0m3.6 3.8h0m17.6 -2.4h0m5.7 0.4h0m0.9 0h0m32.5 -0.4h0m-176.1 8.3h0m9.1 -1.3h0m3.9 0h0m2.3 0.2h0m2.9 -4.2h0m55.7 4.1h0m26.9 0.5h0m4.8 -0.7h0m1.2 -2.7h0m16.9 -0.4h0m2.2 -0.7h0m2.8 3.1h0m11.3 0.3h0m28.8 0h0m34.2 -2.5h0m6.8 3.2h0m1.5 -3h0m-229.4 7.5h0m1.2 1.4h0m0.9 0.9h0m21.4 -4.7h0m2 0.1h0m28.4 1.9h0m9.5 -1.5h0m15.1 -0.2h0m0.8 4.3h0m39.7 0.3h0m4.9 -0.8h0m0.8 -1.4h0m17.9 -2.8h0m0.2 2.1h0m7.9 2.4h0m20.9 -4.4h0m46.5 2.6h0m10 -1.2h0m-227 4.4h0m5.5 1.5h0m27.9 3.6h0m1.7 -0.7h0m4.4 1h0m21.1 -2.4h0m2.3 0.5h0m4.2 -2.5h0m2.4 4.5h0m3.6 -4.9h0m12.2 4.3h0m6.7 -4h0m4 0h0m13.7 3.9h0m4.1 -1.7h0m14.5 2h0m12.6 -4.9h0m13.1 1.1h0m17.1 1.6h0m10.4 -0.2h0m5 -0.4h0m1.5 -1.4h0m2.6 0.6h0m24.9 3.6h0m9 -1.5h0m-188.8 3.3h0m6.9 0h0m2.2 2.7h0m3.7 0.9h0m15.6 -4.7h0m9.8 -0.1h0m1.5 0.3h0m14.7 5.2h0m7.7 -1.9h0m23.4 -1.2h0m19.7 2h0m9.2 0.4h0m4.8 -3.8h0m2.5 0.1h0m1.7 3h0m2.2 1.7h0m27.4 -3.3h0m10.3 -1.4h0m4.4 0h0m22.5 3.3h0m3.5 1.1h0m-214.2 1.2h0m2.3 4h0m3.6 -1.9h0m2.2 1.4h0m6.7 -1.5h0m15.1 1.7h0m1.7 -0.4h0m28.9 -3h0m44.4 4.1h0m2.7 -0.9h0m9.3 -1.9h0m16.3 -1.9h0m2.4 0.7h0m19 0.9h0m11 0.8h0m41.2 -0.2h0m1.6 -2h0m-224.9 6.1h0m7.4 4.8h0m42.1 0.3h0m2.3 -2.4h0m5.1 -0.7h0m22.3 0.8h0m1.9 -0.4h0m1.3 -2.7h0m7.9 0.5h0m5 -0.4h0m4.1 5.1h0m9.3 -3.1h0m4.6 -1.8h0m32.9 3h0m27.5 -0.6h0m0.4 -2h0m28.5 -0.1h0m0.4 3.9h0m1.6 -4.6h0m9.9 3.4h0m15.3 -3.1h0m-224.2 10.2h0m12.9 -1h0m2.2 -2.6h0m1.9 1.1h0m2.6 -1.3h0m6.5 4.5h0m3 -5.4h0m2 -0.2h0m0.5 1.5h0m3.8 0.7h0m13.8 2h0m10.3 1.5h0m2.6 -3.7h0m12.1 -0.6h0m1.1 2.6h0m1.2 -1.7h0m8.3 -1h0m5.5 3h0m6.6 -0.4h0m4.6 -2.1h0m10.7 -1.4h0m1.5 3h0m3.5 0h0m6.6 -1h0m16.8 -1.2h0m27.9 4.6h0m3.6 0h0m27.7 -4.6h0m10.8 1h0m2.4 -2.1h0m1.9 1.8h0m11.6 -1.5h0m-231.8 6.1h0m4.1 1.6h0m4.8 -1.1h0m0.5 0.9h0m4.5 -1.4h0m4.6 4.7h0m10.5 0.1h0m0.5 -4.9h0m4.3 1.6h0m3.1 -1.7h0m2.3 2.8h0m7.8 -0.5h0m2.8 -2.1h0m11.1 2.9h0m0.4 1.5h0m19.7 -0.1h0m0.6 -2.5h0m7.3 0.9h0m2 -2.6h0m1.8 2.3h0m6.5 -2.5h0m0 1.5h0m2.9 3.2h0m13.4 -0.8h0m6.1 0.2h0m11.3 0h0m2.9 0.4h0m6.3 -1.6h0m1.8 -0.9h0m9.2 -1.6h0m7.5 4.3h0m3.8 -2h0m22.6 -0.2h0m0.2 1.5h0m1.7 -4.1h0m22.8 0.6h0m4.2 -0.3h0m10.2 4h0m-226.4 4.5h0m11.6 -0.4h0m9.1 0.8h0m18.2 -0.5h0m2.6 0h0m22.8 0.7h0m28.9 -3h0m1.8 4.3h0m1.7 0.8h0m9.6 -2.3h0m1.6 0.1h0m16.7 0.2h0m2 1.3h0m0 -1h0m11.3 -1.1h0m15.2 -0.3h0m12.2 -1.2h0m1.2 1.6h0m4.5 -1.2h0m0.1 1.8h0m6.7 2.1h0m30.3 -1.8h0m1.9 -2.4h0m20.7 2.4h0m1.7 -2.6h0m-230 8.2h0m9.7 -3.2h0m0.4 0.8h0m17.3 0.9h0m27.7 -0.5h0m17 3.3h0m6.5 -0.4h0m26.8 0.1h0m27.5 -0.2h0m0.7 -2.2h0m6.9 2.3h0m8.9 -3.1h0m13.5 0.9h0m2.1 -0.1h0m31.9 1.3h0m17.3 0h0m11.9 -3.3h0m-223.9 11.2h0m18.8 -2.2h0m0.4 -2.5h0m4.3 1.6h0m0.3 -2.1h0m6.1 2.4h0m3.6 0.5h0m5 1.1h0m8.7 -1.7h0m14.5 -1.6h0m1.2 -0.5h0m7.4 5h0m0.1 -3.5h0m13.2 1.3h0m12.1 -2.8h0m17.6 1.4h0m3.9 3.2h0m7.7 -3h0m13.4 3.6h0m8.9 -3.4h0m7.1 -1.2h0m5.5 1.6h0m1.2 -2.5h0m8.8 4.2h0m8.2 -4.3h0m0.1 4.2h0m3.1 -0.8h0m11.1 -1.3h0m12.5 -0.9h0m5.2 3.2h0m8.5 0.9h0m9.1 -4.2h0m-231.3 9.8h0m13.5 -1.1h0m24.6 -3h0m0.2 2.5h0m7.2 -0.5h0m32.8 1.1h0m7.4 -2.8h0m4.3 1.6h0m57.5 -1.2h0m8.1 2.6h0m11.2 0h0m10.8 1.1h0m0.2 -3.3h0m50.7 -1.2h0m-187.7 6.9h0m3.3 2.9h0m25 -2.1h0m2.1 0.2h0m1.3 -2.2h0m1.8 1.9h0m1.2 1.3h0m20.5 0.5h0m4.3 -1.6h0m6.7 -2.2h0m1.1 3.2h0m0 -1.7h0m7.2 2.8h0m7.7 -2.8h0m0.3 2h0m12.1 -3.6h0m3.9 2.1h0m3 -1h0m2.1 0.7h0m17.5 -0.5h0m8.2 0.8h0m9 1.9h0m9 0.7h0m7.9 -3.1h0m3.9 0.9h0m6.5 2.1h0m4.6 -4.6h0m13.3 5.7h0m-222.1 2.6h0m1.8 -2.3h0m23.5 2.1h0m3.4 -1.7h0m4.1 2.7h0m23.3 -3.1h0m9.4 2.2h0m0.1 -2.3h0m14.4 1.1h0m5.4 -0.5h0m3.9 4.7h0m5.2 -1.1h0m18.3 -1h0m3.2 -0.5h0m12.5 -2.4h0m11.2 4.7h0m2.4 -1.8h0m13.5 1.9h0m15.9 -2.8h0m1.8 0.7h0m2.3 1.9h0m10.5 -2h0m27.5 -2h0m0.7 2.3h0m-182.2 5.8h0m3.6 1.7h0m4 -1.8h0m2.9 0.2h0m13.4 -1.6h0m2.3 2.4h0m1.8 -2.4h0m6.5 2.2h0m0.3 -2.1h0m1.8 -0.1h0m18.8 -0.3h0m0.5 4h0m18.1 -2.6h0m21.3 0.6h0m5.7 -2.1h0m5.4 2.9h0m15 0.1h0m5.9 1h0m2.1 -2.5h0m20.6 1.4h0m8.1 1.3h0m4.5 0.4h0m7.8 -2.1h0m19.3 -1.8h0m-216.9 6.7h0m1.6 -0.3h0m11.9 1.3h0m13.4 1.1h0m1 -2.7h0m2.3 2.6h0m9.1 -3.2h0m4.4 0.3h0m4.4 2.6h0m1.4 -2.6h0m24.8 -1.6h0m1.7 3.9h0m7 -1.3h0m6.6 -1.1h0m1.9 2.7h0m14.1 -4.3h0m62.3 4.7h0m4.5 -2.1h0m14.4 1h0m3.2 -1.1h0m2.4 -0.6h0m19.2 0.5h0m-201.7 4.1h0m9.5 2.1h0m13.6 -2.2h0m9.1 4.4h0m0.4 -4h0m12.4 4.3h0m2.7 -4.2h0m20.3 -0.6h0m6.3 2.3h0m12.1 -2.1h0m24.9 3.7h0m4.7 0.2h0m12.7 -4.3h0m4.7 0.5h0m4.1 1.7h0m3.3 -0.3h0m3.5 2.9h0m2.9 -3.9h0m1.7 -0.2h0m2.7 3.4h0m1.6 -3.5h0m8.8 3.5h0m0.1 -3.5h0m5.4 4.9h0m13.2 -4.8h0m17.9 4.5h0m-202.4 1.7h0m3.7 3h0m5.2 0h0m26.6 1.4h0m7.5 -2.7h0m22.8 -1.3h0m14.6 -0.6h0m21 0.4h0m0.1 4.5h0m11.7 -4.9h0m1.1 2.5h0m0.6 2.4h0m3.8 -4.8h0m15.6 2.2h0m9.1 -2.2h0m3.3 4.2h0m3.9 -3.9h0m7.6 4.3h0m13 -0.1h0m3.9 -4.9h0m6.5 3h0m0.5 2.5h0m4.6 -2.1h0m3.8 -2h0m7.7 3.2h0m4.4 -1.1h0m-186.5 4.6h0m1.9 1.9h0m2.1 0.4h0m1.9 -1.4h0m5.2 -3.3h0m0.4 5.7h0m6.3 -4.3h0m16.1 1.8h0m2.1 -1.6h0m0.3 3h0m13 -3.5h0m30.6 3.5h0m4.9 -0.8h0m7.6 -2.6h0m49.4 0.5h0m22.3 3.7h0m18.1 -4.3h0m1.7 3.4h0m2 -2.9h0m-139.6 4.4h0m5.5 0.4h0m6.6 1.4h0m37.4 -1.7h0m32.9 0.1h0m1.5 -0.1h0m25.2 0.2h0m13.8 1.4h0m11.2 -1.4h0" stroke="#c09098" stroke-width="1.85" stroke-linecap="round" fill="none"/><path d="M56.8,99.8 L62,97.5 L70,97.8 L74,96.5 L75,91 L77.5,91.5 L77.5,97.5 L81,99 L85,104 L90,108 L91.5,114 L88,116 L82,112 L76,109.5 L68,109.4 L60,107 L56,103 Z" fill="#f0eaee" opacity="0.85"/></g></g><text x="68.4" y="156.7" font-family='"Liberation Serif", serif' font-size="22" fill="#000" textLength="160.9" lengthAdjust="spacingAndGlyphs">moderate staining</text></svg><svg x="274" y="211" width="234" height="167" overflow="hidden"><defs><clipPath id="cBR"><path d="M48.8,0.0 L185.2,0.0 L188.0,1.8 L190.7,3.7 L193.4,5.6 L196.1,7.6 L198.6,9.7 L201.2,11.9 L203.6,14.2 L206.0,16.5 L208.3,18.8 L210.6,21.3 L212.7,23.8 L214.9,26.4 L216.9,29.0 L218.9,31.7 L220.7,34.4 L222.5,37.2 L224.3,40.0 L225.9,42.9 L227.5,45.8 L229.0,48.8 L230.3,51.8 L231.6,54.9 L232.9,58.0 L234.0,61.1 L234.0,116.0 L233.5,118.3 L232.9,120.7 L232.2,123.0 L231.5,125.3 L230.8,127.6 L230.0,129.8 L229.2,132.1 L228.3,134.3 L227.4,136.6 L226.4,138.8 L225.4,140.9 L224.3,143.1 L223.2,145.2 L222.1,147.3 L220.9,149.4 L219.6,151.5 L218.4,153.5 L217.0,155.5 L215.7,157.5 L214.3,159.5 L212.8,161.4 L211.4,163.3 L209.9,165.2 L208.3,167.0 L31.0,167.0 L29.0,164.8 L27.0,162.6 L25.1,160.3 L23.2,158.0 L21.5,155.6 L19.7,153.2 L18.0,150.8 L16.4,148.3 L14.9,145.7 L13.4,143.1 L12.0,140.5 L10.7,137.9 L9.4,135.2 L8.2,132.5 L7.0,129.7 L6.0,127.0 L5.0,124.2 L4.0,121.3 L3.2,118.5 L2.4,115.6 L1.7,112.8 L1.1,109.8 L0.5,106.9 L0.0,104.0 L0.0,70.3 L0.9,66.8 L1.9,63.3 L3.0,59.8 L4.2,56.3 L5.6,52.9 L7.0,49.6 L8.5,46.3 L10.2,43.0 L11.9,39.8 L13.8,36.7 L15.7,33.6 L17.7,30.5 L19.9,27.6 L22.1,24.7 L24.4,21.8 L26.8,19.1 L29.3,16.4 L31.8,13.8 L34.5,11.3 L37.2,8.9 L40.0,6.5 L42.9,4.2 L45.8,2.1 Z"/></clipPath><filter id="sBR" x="0" y="0" width="234" height="167" filterUnits="userSpaceOnUse"><feConvolveMatrix order="3" kernelMatrix="1 2 1 2 14 2 1 2 1" edgeMode="duplicate"/></filter></defs><rect width="234" height="167" fill="#e8ebe9"/><g clip-path="url(#cBR)"><g filter="url(#sBR)"><rect width="234" height="167" fill="#e8ded8"/><path d="M0 0m47.7 0.8h0m18.6 0h0m7.9 0.1h0m8.2 0.5h0m4.1 1.6h0m10.5 -1.3h0m11.7 -0.5h0m35.1 0.4h0m9.4 0.3h0m-105.8 2h0m11.1 -0.4h0m16.2 2.2h0m0.7 1.8h0m8.1 1.1h0m10.2 -2.1h0m6.4 1.6h0m4.9 -4.9h0m20.6 1h0m2.5 3.5h0m7 0.4h0m8.1 -4.1h0m0.2 2.2h0m27.4 -0.2h0m-123.9 8.2h0m4.9 0.1h0m11.9 0.3h0m6.8 -4.1h0m10.9 2.4h0m3.2 -2.6h0m19.8 0.7h0m47.8 2h0m16.7 0.3h0m7.7 -0.4h0m12.5 -2.1h0m-158.8 5.7h0m21.6 1h0m2.5 -0.6h0m4.8 2.9h0m7.2 -0.7h0m16.1 -3.6h0m17.4 2.4h0m16 1.2h0m0 -2.4h0m34 -1.1h0m3.1 0.9h0m12.2 -0.1h0m1.1 -0.9h0m25 2.2h0m0.7 -2.4h0m3.9 0.4h0m5.9 1.3h0m-169.2 7.1h0m0.7 -2.9h0m12 4.7h0m19.7 0.9h0m2.2 -0.6h0m7.1 -1.7h0m53.8 -0.2h0m17.9 -1h0m7.3 -1.5h0m6.5 0.8h0m7.7 1.8h0m12.6 -2.6h0m1.1 4.4h0m12.5 -4.5h0m8 4h0m-177.4 4.9h0m13.5 1h0m7.6 -2h0m6 1.6h0m19.5 -2h0m15.4 3.4h0m6.9 -1.3h0m6.1 -1h0m9.4 0.6h0m3.5 0.1h0m22.6 -2.5h0m32.5 2.2h0m11.8 0.7h0m8.2 -4.3h0m26.9 5.6h0m-190.8 2.3h0m51.8 -1.9h0m21.8 2.4h0m2.7 0.3h0m2.2 -2.4h0m14.9 2.2h0m6.7 2.7h0m4 -1.2h0m41.2 -3.9h0m33.2 0h0m8.6 0.3h0m3 1.4h0m0.8 3.6h0m-199.5 5.7h0m5.2 0.6h0m6 -0.1h0m7.8 0h0m52.8 0.3h0m6.1 -1.8h0m9.7 1.5h0m20.9 -0.7h0m9 -0.9h0m20.9 -3.1h0m6.7 2.5h0m0.3 -2.4h0m8.8 1.9h0m9.6 -0.2h0m4.3 1.4h0m0 0.9h0m17.9 -1.9h0m-164.7 7.3h0m10.3 -2.9h0m13.9 -1.2h0m0.8 4.3h0m1.7 -2.7h0m28.5 2.8h0m3.7 0.1h0m0.6 -2.8h0m11.9 2.4h0m6.7 -4.2h0m8 2.5h0m1.2 2.3h0m10.4 -0.4h0m20.8 -4.6h0m3 1.9h0m1.5 -1.6h0m0.1 2.4h0m17.5 -2.6h0m8.4 1.9h0m10.8 1.6h0m3.4 -3.1h0m1.3 2h0m0.4 1.5h0m2 -4h0m14 0.3h0m5.7 0.1h0m-207 10.8h0m4.5 -3.9h0m3.7 0.1h0m10.2 -0.9h0m12.4 4.5h0m2.6 -4.5h0m6.9 2.4h0m28.2 -2.9h0m0.3 4.9h0m50 -1.8h0m20.1 -2.9h0m29 0.4h0m15.7 4.6h0m26.7 0.7h0m-201.9 4.1h0m0.7 -2.9h0m7.7 -0.2h0m53.4 -0.1h0m2.2 -0.9h0m0.2 4.6h0m9.1 1.2h0m57.4 -3.6h0m2.5 2.4h0m9.7 -3.5h0m1.6 1h0m16.4 2.2h0m6.8 1.6h0m32.5 -2.2h0m-200.5 5.5h0m4.4 1.7h0m17.4 0.5h0m27.1 -0.8h0m1.3 -1.7h0m3.3 2.2h0m12.9 -4.4h0m0.2 4.1h0m26.4 -2.3h0m8.1 2.3h0m22.9 -1.9h0m2.1 2.7h0m5.5 -2.9h0m9 -0.3h0m4.9 3.2h0m23.1 -0.1h0m40.5 -1.3h0m-201.4 4.4h0m10.3 -1.2h0m8.3 4.2h0m31.9 0.3h0m9.6 -4.5h0m26.9 4.4h0m21 -4h0m34.7 0h0m36.4 -0.6h0m3.8 2.4h0m5.2 -0.4h0m-213.9 3.4h0m3 1.4h0m15.4 2.3h0m31.5 -2.4h0m76.5 -0.6h0m32.4 2.4h0m11.9 -2.4h0m11.7 -1.1h0m3.4 0.1h0m0.3 1.6h0m2.5 -0.1h0m4.6 0.6h0m16.5 2.3h0m8.4 -4.3h0m-207.3 5.9h0m8.4 0.5h0m4.4 0.3h0m9.4 -0.7h0m15.5 5.3h0m2.6 -3.3h0m8.6 -2.4h0m3.2 5.9h0m14.9 -0.3h0m12 -3.3h0m3 3.1h0m2.1 -0.8h0m1.3 0.4h0m12.5 0.9h0m10.3 -1.2h0m3.3 -1.5h0m20.5 -1.9h0m21 1h0m4 2.9h0m2.4 -4.6h0m18.2 0.3h0m9.9 0.3h0m4.7 -0.2h0m8.4 1.8h0m2.6 2.8h0m13.7 -3h0m-221.5 7.2h0m10.1 -2.8h0m18.4 0.3h0m45.7 0.2h0m7.3 0h0m1.5 2.9h0m14.8 -2.5h0m19.6 2h0m12.7 -1.9h0m2.2 2h0m6 1.8h0m24.2 -4h0m3.5 0.6h0m9.7 -0.3h0m21.4 0.2h0m1.4 -0.5h0m20 1.6h0m-227.2 7.3h0m13.4 -2.8h0m25.8 2.9h0m14 -0.9h0m1.5 1.1h0m1.6 -4.1h0m8.1 1.7h0m10 -1.8h0m0 1.1h0m6 -1.3h0m11.2 4h0m8.2 -4.1h0m8.3 4h0m4.2 -2.2h0m8 2.5h0m11 -2.5h0m0.5 2.2h0m13.2 -2.1h0m11.7 -0.1h0m1.8 -1.7h0m0.5 5h0m14.6 -3.3h0m2.2 -1.8h0m0.9 3.9h0m2.6 -1.9h0m19.3 -0.7h0m11.4 3.7h0m1.1 -5.1h0m10.4 3.7h0m-219 7.6h0m52.2 -0.7h0m59.1 -2.2h0m12.2 -1h0m4.9 -0.1h0m5.1 1.2h0m30.1 2.7h0m28.1 0.2h0m20.3 -2.3h0m4.7 -0.2h0m4 -2.2h0m4.6 4.8h0m-202.9 0.2h0m9.9 4.8h0m9.4 -3.6h0m8.2 0.8h0m74.7 -0.3h0m10.4 3h0m3.5 1h0m6.5 -5.8h0m39.1 1.4h0m36.7 2.6h0m-207.7 7.2h0m4.7 0.2h0m7.9 -0.5h0m21.9 -3.8h0m3.5 -0.2h0m8 -0.7h0m2.5 4.2h0m5.7 1.2h0m0.1 -5.4h0m12.5 0.2h0m5.6 2.9h0m7.4 1.8h0m5.5 -2.9h0m14.3 1h0m44.4 1.9h0m7 -1.5h0m27.1 -3h0m4.1 3h0m9.8 -2.4h0m7.3 -1h0m5.8 2.3h0m5.3 1.8h0m-216.8 6h0m18.8 0h0m3.7 -2.4h0m0.2 3.5h0m2.3 -1.6h0m11.9 -2.5h0m11.5 -0.3h0m13.8 4.5h0m4.1 -1.8h0m4.6 -1.6h0m2.6 3.3h0m51.5 -2.2h0m3.4 0.3h0m13 -0.3h0m10.6 1.1h0m9.3 -2.1h0m25.5 0.9h0m17.7 -1.9h0m6.9 4.6h0m3.5 -4.8h0m-218.5 6.8h0m3.5 1.2h0m0.8 1.3h0m1.4 -0.3h0m0.8 -1.4h0m34.2 -1.8h0m23.3 1.5h0m9.4 -2.2h0m1.2 0.5h0m14 2.3h0m7.1 2.2h0m21.7 -3.1h0m22.2 0.4h0m65.9 2h0m14.1 -3.9h0m-218.3 6.6h0m9.8 3h0m2.2 -0.2h0m32 -2.2h0m4.1 3.7h0m2.1 -2.9h0m17.3 0.4h0m4.6 0.1h0m56.5 2.4h0m2.4 -0.1h0m34.1 -0.4h0m14.5 -4h0m16 3.9h0m6.7 -1.4h0m11.8 -0.1h0m2.6 1.5h0m-211.7 4.8h0m22.4 -1.1h0m33 -1.4h0m9.6 0.1h0m21.8 2.3h0m5.1 -2.3h0m2.4 0.1h0m16.3 0.1h0m24.4 2.7h0m21.6 -0.7h0m34.3 0.9h0m-185.7 7.1h0m13.3 -5.1h0m13.1 4.7h0m3.2 0.9h0m15.7 -4.9h0m15.5 0.1h0m28.7 2.1h0m3.3 2.1h0m2.6 0h0m9.7 -0.2h0m61.9 -0.3h0m2.8 0.2h0m6.9 -0.7h0m14 -2h0m-188.7 4.5h0m3.6 1.1h0m2.4 2.1h0m25 0h0m14.3 -1.2h0m4.2 -0.6h0m16.4 3.6h0m5.2 -1.4h0m5.9 -2.7h0m3.2 1.4h0m0.5 -1.9h0m3.4 -0.1h0m12.5 1.8h0m8.8 1.2h0m38.5 -2.4h0m5.1 0.3h0m40.8 -0.9h0m5.3 4.1h0m1.6 -1.3h0m-183.9 4.8h0m5.2 -2.6h0m33.7 4.2h0m0.9 -2.7h0m9 0.6h0m30.4 2.1h0m20 -1.3h0m7.9 2h0m15.9 -3.1h0m1 -1.8h0m2.4 2.1h0m9.9 0.9h0m37 -1.1h0m2.1 2.2h0m-167.7 3h0m4.9 2.7h0m10.9 1.6h0m4 0.1h0m9.9 0h0m5.3 0h0m26.5 -0.5h0m0 -3.9h0m8.1 -0.1h0m20.1 1.7h0m4.8 0.2h0m4 -2.9h0m3 5.1h0m1.9 -2.2h0m6 3h0m20.9 -4.6h0m3.2 -0.1h0m17.3 3.9h0m11.9 -5h0m3.1 5.1h0m-124.4 0.9h0m53.1 0.9h0m3.6 0.5h0m40.1 0.2h0" stroke="#9c6262" stroke-width="1.85" stroke-linecap="round" fill="none"/><path d="M0 0m49.7 1.1h0m1.6 1.6h0m3.4 -1.3h0m-9.8 4.1h0m14.6 2.2h0m5.5 -3.5h0m7 -0.8h0m4.9 4.6h0m7.1 -4.6h0m30.3 2.5h0m7.2 2.1h0m24.4 -0.7h0m5.2 1.2h0m2.5 -0.5h0m3.6 0.8h0m6.9 -4.7h0m12 2.3h0m3.8 1.5h0m-122.8 7h0m6.7 -4.5h0m8.6 -0.7h0m15.6 3.6h0m2.1 -2.3h0m12.9 1h0m28.7 0.6h0m21 -2.7h0m6.5 0.6h0m6.1 2h0m1.5 -2.3h0m-126 7.2h0m20.9 -1.9h0m8.5 -0.2h0m27.8 4.8h0m25.6 -0.4h0m0.1 -4.6h0m31.5 5.2h0m39.1 -1.6h0m-168.5 3.5h0m3.1 1.3h0m11.1 1h0m16.8 -3h0m15.4 1h0m2.8 -0.8h0m6.4 1h0m1.8 2h0m5.8 1.6h0m1.5 0.4h0m23.4 -2.4h0m0.7 2.5h0m58.5 -4.7h0m19.5 2.1h0m13.8 -0.8h0m-117.6 5.4h0m2.2 2.5h0m38.2 -3.1h0m17 1.1h0m19.8 0.1h0m7.5 -0.2h0m12.3 2.5h0m4.2 -2.9h0m17.8 -0.3h0m-185.3 5.2h0m15.1 4.5h0m0.8 -5.1h0m31.7 4.8h0m0.4 -4.2h0m54.5 2.3h0m0.7 1.3h0m4.6 -3.6h0m9.4 5.1h0m13.3 -1.4h0m3.9 -1h0m12.3 1.1h0m1.5 -2.6h0m1.2 -1.3h0m20.4 0h0m2.4 4.8h0m1.2 -0.3h0m5.8 0.7h0m2.5 -2.9h0m2 -2.6h0m-163.9 10.8h0m9.6 -4h0m3 4.5h0m4.2 -1.3h0m23 1.4h0m15.2 -5h0m11.4 2.8h0m14.6 -1.6h0m16.5 3.7h0m8.8 -4.3h0m6.7 1.8h0m46.1 -2.1h0m6.4 2h0m-181.7 7h0m18.6 -0.1h0m5.4 -3.4h0m27.1 1.3h0m16.3 -1.5h0m48 2.6h0m31.5 0.8h0m14.8 -2.2h0m11.8 1.4h0m4.4 -0.9h0m-180.1 9.3h0m7.9 -0.2h0m1.6 0.8h0m3.9 -3.2h0m3.3 3.1h0m8.3 -3h0m9.2 -2h0m27.6 -0.8h0m34.9 5.5h0m57.3 -5.4h0m1.9 5.3h0m30.1 -4.4h0m-202 8.6h0m0.9 2h0m2.1 -2.2h0m1.6 2.4h0m4.6 -4.3h0m21.4 -0.5h0m4.8 2.3h0m1.1 0h0m16.2 -0.8h0m5.1 0.8h0m5 2.2h0m11 -3.1h0m10.7 3.2h0m2.6 -4.2h0m7.7 -0.4h0m8.4 3.4h0m3.4 -1.2h0m1 0.9h0m6.8 -1.8h0m5.9 1.6h0m4.6 -1.5h0m8.9 3.2h0m37 0.2h0m19.9 -0.1h0m14.4 -4.7h0m18.9 4.7h0m0 -4.1h0m1.3 2.9h0m-224.9 4.7h0m2.7 -2.5h0m15.3 0h0m7.3 1.4h0m0.5 -1.3h0m6.6 -0.1h0m4.5 -0.1h0m2.1 4.8h0m12 -5.2h0m20.3 4.3h0m20 0.1h0m11.1 0.3h0m3 -3h0m39.3 0.7h0m12.1 -1.7h0m8.3 3.4h0m18.6 -2h0m10.7 2.8h0m10.8 -1h0m5.9 0.4h0m-209.4 2.1h0m5.3 1.4h0m2.4 0h0m35.7 1.1h0m8.3 -1.4h0m6.4 0.2h0m22.5 1.2h0m2 -1.1h0m3 1.5h0m5 2.1h0m16.3 -0.4h0m1 -4h0m0.3 1.4h0m4.4 -0.8h0m4.7 1.5h0m25.3 0.2h0m11.1 0.3h0m0.6 1.6h0m4.2 -1.5h0m8.1 -1.2h0m4.3 2.7h0m15.9 -0.2h0m3.7 -3.4h0m22.9 0.9h0m-199.2 5.6h0m5.1 2.4h0m7.8 -0.9h0m5 2.1h0m0.6 -3.5h0m37.2 2.7h0m7 0.8h0m6.1 -5.6h0m8.5 4.7h0m25.6 -2.4h0m2.7 -1.2h0m17.7 0.5h0m21.9 1.9h0m-167.7 7.7h0m13.5 -3.3h0m35.9 0.4h0m30.4 0.8h0m23.8 -1h0m3.2 1h0m40.2 1.3h0m1.5 0.6h0m31.9 0.3h0m33.7 -5h0m-207.9 7.7h0m8.5 3.3h0m31 -0.2h0m5.1 -5.4h0m1.8 1h0m15.5 -0.2h0m32.3 2.4h0m9.8 2.3h0m13.6 0h0m11.6 -2.1h0m9.1 1.2h0m2.1 -2.9h0m14.2 -0.7h0m2.1 1.2h0m30.4 0.8h0m4.7 1.4h0m8 -1.3h0m11.3 2.5h0m13.9 0.1h0m-215.6 5.8h0m19.8 -4.6h0m16.7 2.1h0m20.6 -2.3h0m1 4.5h0m5.8 -1h0m7.9 -1.3h0m56.4 -2.1h0m7.8 4.6h0m8.8 -3.2h0m5.3 3.4h0m17.7 -2.6h0m3.2 1h0m40.8 -2.4h0m2.6 3.7h0m1.3 -3.2h0m-218 5.6h0m9.9 -0.9h0m17.7 2.6h0m6.5 -1.8h0m2.3 1.9h0m25.7 -0.8h0m0.2 -2.4h0m22 3.6h0m51.1 -3h0m3 1.7h0m17.5 0.7h0m34.8 -0.5h0m11.2 -2.3h0m-172 7.5h0m18.3 -0.9h0m50.5 3.4h0m0.9 -2.8h0m0.8 3.3h0m2.7 -3.2h0m1.9 0.1h0m17.5 2.1h0m17 -2.6h0m3.7 4.4h0m7.9 0.2h0m3.3 -4.4h0m1.1 2h0m5.2 0.6h0m2 -4h0m23.2 3.6h0m13.9 -3.4h0m5.3 3.9h0m1.3 -2.6h0m1.2 -1.6h0m2.4 -0.1h0m6.1 3.6h0m-209.2 3h0m4 1.7h0m3.2 -1.9h0m7.2 5.4h0m42.5 -1.1h0m9 -2.2h0m6.9 -0.2h0m0.3 2.6h0m27.5 -2.4h0m1.2 -1.3h0m6.9 3.3h0m8.9 -1.5h0m2.3 -0.7h0m14 -0.2h0m10.9 0.3h0m7.5 1h0m49.5 -3.4h0m-209.2 9.8h0m0.3 -3.1h0m8.7 1.2h0m5.2 2.2h0m1.7 1.6h0m26.1 -0.1h0m7.4 -1.7h0m0.1 -1.8h0m2.2 1.1h0m4.5 -1.9h0m2.4 1.9h0m1 -1h0m1.1 0.9h0m1.1 -1.8h0m5.2 0.9h0m15.8 3.5h0m4.4 -4.4h0m15 3h0m0.1 -2.7h0m29.4 -0.5h0m13.5 0.8h0m6.5 0h0m4.5 0.2h0m4.8 -0.1h0m-169.3 5.7h0m0.2 2.9h0m36.6 -2.7h0m15.5 3.4h0m12 -2.2h0m29.2 -2.3h0m7.1 -0.8h0m4.4 4.3h0m2.1 0.2h0m19 -4.4h0m4.3 0h0m8.7 2.9h0m12.1 2h0m22.4 -0.9h0m7.1 -3.7h0m7.6 1.5h0m16.6 2h0m13.5 0.1h0m1.2 0h0m-202.4 2.7h0m7.8 -0.2h0m32.2 1.2h0m9.7 -0.2h0m3.9 -0.5h0m18.1 2h0m13.8 1.9h0m19.4 0.2h0m22.7 -2.7h0m26.4 2.6h0m0.5 -3.3h0m7.2 -0.4h0m11.1 -0.1h0m5 4.1h0m15.7 -0.2h0m3.1 -2.5h0m-193.1 7.2h0m7.1 0.2h0m33.1 -2.1h0m21.4 -0.7h0m39.1 2.5h0m9.7 -0.3h0m6.5 0.4h0m9.4 2.1h0m2.2 -0.2h0m1.7 -1.3h0m10 -0.7h0m23 -1.2h0m2.4 2.2h0m17.4 -0.5h0m9.5 -1.6h0m-202.4 5.5h0m3.2 -1.2h0m1.7 4.2h0m0.8 -2.2h0m15.8 3h0m43 -1.6h0m2.6 -1.4h0m4.1 1.9h0m5.5 -3.7h0m6.6 -0.2h0m6.5 3.8h0m4.2 0.5h0m7.5 0.5h0m2.9 -5.3h0m36.9 5h0m28.4 -2.8h0m7.2 -0.2h0m8.1 -0.1h0m11.3 0h0m-166.1 6.6h0m28.3 -2h0m6.1 2.1h0m9 -1.5h0m0 1.6h0m5.6 -1.3h0m1.7 1.1h0m25.4 1.5h0m52.4 -3.3h0m2.9 0.1h0m4.3 2.2h0m2.7 -2.3h0m1.9 2.2h0m21 2.4h0m-183.9 4.7h0m20.9 0.6h0m2.4 -2.7h0m5.8 0.1h0m9.6 -0.6h0m4.4 3.4h0m13.2 -4.9h0m16.3 1.9h0m54.3 -1.4h0m7.9 3.8h0m37.2 -3.1h0m7 2.3h0m1.5 0.7h0m-179.4 1.6h0m3.1 3.7h0m1.6 -1.4h0m11.4 3.5h0m4.7 -0.5h0m11.4 -4.7h0m5.5 2.2h0m4.7 -1.7h0m15.6 0.5h0m4 1.9h0m2.4 -3.1h0m3.7 0.4h0m4.2 -0.4h0m4.1 5h0m8.9 -0.8h0m33 -3.3h0m18.7 3.3h0m2.1 -3.1h0m2.4 4h0m15 -4.8h0m5.7 3h0m4.5 -3h0m1.7 -0.1h0m1.9 1h0m0.4 4.2h0m-113.9 1.1h0m8.6 1h0m4.7 -0.1h0m28 -0.9h0m53.7 0.6h0" stroke="#8e5452" stroke-width="1.85" stroke-linecap="round" fill="none"/><path d="M0 0m51.7 1.5h0m36.3 0.2h0m2.5 -0.4h0m25 -0.3h0m39.1 0.8h0m21.1 1.2h0m-98.5 2.8h0m18.3 -2.1h0m12 0.2h0m0.9 4.5h0m3.5 -0.9h0m6.7 -2.2h0m7 3h0m28.8 -0.3h0m3.3 -2h0m0.2 -2.2h0m27 2.7h0m2.1 -1h0m3 -0.5h0m-150 7.5h0m26.3 -0.1h0m16.2 -2.5h0m5.5 0.4h0m32.2 -0.4h0m16.3 2.9h0m2.1 -0.1h0m1.1 -1.9h0m1.8 1.3h0m18 0.1h0m23.4 1h0m-154.6 6.5h0m18.2 -3.2h0m26.5 3h0m6.3 -2.2h0m18.8 -2.2h0m13.8 0.1h0m13.1 1.9h0m41.8 0h0m4 0.8h0m7.8 -2.5h0m5.9 0.3h0m14 4.4h0m0.6 -4.3h0m-168.3 10.3h0m5.6 0.6h0m17.3 -3h0m26.4 1.9h0m1 0.6h0m5.1 -2.1h0m29.9 2.7h0m61.8 -5.2h0m20.5 5h0m-178.6 6.1h0m23.5 0h0m8.8 -4.4h0m2.6 0.3h0m36.5 -0.2h0m3.5 3.4h0m9.9 -2.9h0m2 1.8h0m5.3 2h0m4.1 -1.2h0m6.5 -4.2h0m3.4 -0.1h0m0.2 2.1h0m1.2 0.2h0m16.4 -0.1h0m2.5 1.2h0m5.1 -3.6h0m1.1 2.4h0m18.8 2.2h0m-154.7 3.8h0m24.4 -1.7h0m1.3 1.2h0m2.7 3.9h0m9.5 -1.4h0m9.4 1.1h0m4.5 -2.8h0m13.3 2.6h0m2.5 -5.1h0m6.9 5.5h0m16.7 -0.9h0m4.6 -1.7h0m16.9 -0.9h0m18.4 3.1h0m33.4 -2.5h0m2.4 -2.2h0m8.4 4.9h0m0.5 -3h0m15.4 -2.1h0m-171.6 9.2h0m1.5 -2.3h0m21.8 -0.1h0m1.6 -0.6h0m17.6 3.2h0m1.1 1.3h0m23.4 -3.6h0m27.6 4.5h0m1.3 -5.4h0m39.7 3.5h0m9.3 0h0m4 -0.1h0m4.2 -2.1h0m30.2 0.2h0m-202.5 6.6h0m5.6 2.3h0m34.5 -0.6h0m1.8 -2.4h0m82 2.7h0m7 -4.4h0m0.4 4.3h0m13.4 -3.2h0m15.8 3.7h0m0.6 -4.5h0m4.3 3.7h0m2.1 0.3h0m9.7 -4.3h0m23.9 5h0m4.8 -0.5h0m-209.8 6.8h0m17.3 -4.5h0m37.5 3.6h0m10.1 -3.9h0m3.1 1.7h0m27.7 -1.6h0m15 -0.4h0m0.1 1.7h0m19.1 0.7h0m1.4 2.2h0m12.7 -4.5h0m0.4 4.7h0m18.4 -3.8h0m11.3 1.3h0m7.4 -2.7h0m3 2.5h0m1.6 -1.6h0m13.1 4.6h0m1.1 -2h0m11.4 -0.7h0m-211.7 7.9h0m8.2 -3.7h0m25.8 3.3h0m43.3 0.4h0m34.3 -2.4h0m11.6 3h0m12.1 -3.3h0m2.9 -0.6h0m19.8 4.2h0m18.4 -3.3h0m11.6 -0.9h0m0.1 3.2h0m7.3 -1.1h0m8.8 -1.5h0m8.5 -0.4h0m-224.7 9.8h0m16.1 -3.7h0m11.5 1.1h0m12.2 2.5h0m20.1 -2.9h0m0.7 -1.7h0m56.8 1h0m4.3 1.4h0m11.5 0.1h0m20.2 0.9h0m25.4 1.2h0m8 -0.8h0m0.2 -4.2h0m24.8 2.7h0m2 2.2h0m10.1 -2.5h0m2.3 1.3h0m-225.5 5.4h0m6.3 1.8h0m4.1 -3.3h0m0.3 2.2h0m16.2 -1.3h0m0.6 -1.2h0m3.5 4.2h0m26.1 -3.1h0m25 -1.2h0m2.1 3.9h0m48.4 -4.6h0m4.8 4.3h0m30.1 -3.7h0m26 3.8h0m-187 4.9h0m27.4 1.6h0m16.3 -3h0m10.9 -0.9h0m7.6 -0.7h0m13.7 3.3h0m4.3 -1.6h0m23.1 3.1h0m5.2 -4.7h0m6.2 -1.2h0m10.8 5h0m24 -0.5h0m2.5 1.3h0m18.9 -4.2h0m0 2.3h0m6.5 -2.6h0m18.3 -1.1h0m10.9 1.2h0m-211.2 7.6h0m6.5 2h0m12 0.6h0m4.8 -4.4h0m19.7 3.3h0m46.2 -4.5h0m41.6 2.8h0m0.4 -2.3h0m8.7 0.7h0m27.4 1.8h0m16.5 0.3h0m4.2 -1.9h0m12 2h0m18.8 -2.4h0m11.1 -0.7h0m-230.1 9.2h0m9.8 2h0m3.4 -3.5h0m5.5 2.4h0m33.8 0.9h0m7.7 -3.6h0m7 1.4h0m1.2 0.9h0m1 -2h0m4.6 1.9h0m15.8 0.5h0m30.4 1h0m1.2 -1.4h0m30 -1.9h0m13.8 0.9h0m11.5 -1.9h0m6.7 4.8h0m3 -0.6h0m10 0h0m13.3 -3.3h0m8.4 -2.1h0m11.6 0.9h0m-211.3 9.1h0m0.1 -3.9h0m9.1 4.7h0m2.4 0.4h0m6.7 -3.5h0m0.3 -0.8h0m11.5 -0.5h0m42.9 1.8h0m7.7 0.1h0m23.3 2.5h0m1.7 -2.1h0m14.6 -0.7h0m25.1 -0.2h0m1.1 -1.4h0m20.9 3.8h0m11.9 -0.2h0m7.9 0.3h0m20.1 0.9h0m-221.7 4.4h0m11.5 1.7h0m2.2 -1.6h0m27.8 1.7h0m10.3 -2.7h0m22.4 0.2h0m0.8 -2.5h0m1.6 1.2h0m29.2 3.7h0m1.4 -3.9h0m4.7 3.8h0m27.3 -2.5h0m11.4 -2.4h0m22.9 0.7h0m38.6 2.6h0m12.3 -0.6h0m1.5 2.1h0m-232.2 3h0m15.6 -2h0m13.6 2h0m28.8 2.9h0m25.3 -1.1h0m9 0.4h0m1.4 0.4h0m10 0.2h0m22.5 -3.2h0m4.8 -1.2h0m13.9 1.6h0m7.5 -1.7h0m8.2 3.8h0m2.4 -0.4h0m47 -3.7h0m13.9 2.1h0m-205 3.9h0m6.2 5.1h0m9.9 -4.1h0m6.9 1.9h0m1.4 0.4h0m0.9 -3h0m4.8 2.2h0m6 0.2h0m5 0.6h0m22.2 -2.5h0m23.5 -0.6h0m5.3 2.5h0m8.2 0.7h0m9.7 -2.8h0m18.8 2.3h0m17.4 1.4h0m4.4 -1.5h0m7.8 -2.6h0m0.3 3.1h0m16 1.3h0m1.4 -2.5h0m18.6 3.3h0m11.1 -2.3h0m2.8 -0.3h0m-209.7 4.5h0m21.2 2.3h0m18.2 -1.9h0m13.7 -0.7h0m12.5 2.6h0m5.8 -1.9h0m0.9 1.6h0m19.8 -2.5h0m10.4 2.5h0m31.3 -1.4h0m16.9 3.4h0m8.9 -1.1h0m18.3 -2.8h0m8.4 3.8h0m2.5 -4.5h0m16 -0.1h0m-216.1 9.7h0m10.4 -3.9h0m18.5 1.8h0m17.1 0.1h0m0.9 2.3h0m5.8 -0.9h0m18.7 -1.6h0m13.8 -2.1h0m14.1 5.1h0m2 0h0m10.1 -3.6h0m1.6 1.3h0m6.7 -2.2h0m11.5 3.3h0m9.7 0.8h0m1.5 0.5h0m27.8 -3.6h0m19.6 0h0m20.4 -1.1h0m4.8 3.5h0m-210.8 4.7h0m3.9 0.4h0m13.2 2.3h0m1.4 0.1h0m7 -4.3h0m48.4 -0.7h0m3.2 -0.5h0m4 5.1h0m20.8 -5h0m0.3 5.7h0m22.6 -0.2h0m5.6 -1.8h0m10.5 1.1h0m7.1 -4.5h0m6.5 0.6h0m1.2 4h0m11.5 -1.1h0m1.4 1.7h0m2.9 -2.1h0m1.7 1.5h0m16.4 -1.5h0m23 2.2h0m0.7 -4.3h0m-207.9 5.7h0m50.6 -1.1h0m46.9 2.1h0m16 2h0m29.5 -4.1h0m25.5 2.4h0m4.2 -2.5h0m9.3 0.1h0m0.1 2.3h0m15.3 2.3h0m2.2 -0.6h0m6.9 -2.3h0m-165.6 4.8h0m19.1 -0.5h0m4.6 3h0m9.2 -1h0m39.6 2.9h0m47.7 -3.8h0m4.7 3.3h0m15.2 -3.6h0m13.7 4.7h0m2.6 -3h0m-176.7 6.6h0m0.8 -1.2h0m22.2 -1h0m0.2 3h0m32.7 1.2h0m15 -3.3h0m1.3 3.8h0m13.9 -4.9h0m19.7 3.6h0m2.3 -3.7h0m0.4 3.4h0m36.1 1.5h0m25.9 -1.6h0m-175.2 4.7h0m16.5 -2.4h0m0.6 3.6h0m29.5 1h0m27.7 0.1h0m16.3 -2h0m1 2.1h0m52 -1.2h0m13.8 0.3h0m18 -0.1h0m2.7 -1.2h0m-178.4 3.5h0m0.4 5.4h0m1.6 -5.7h0m3.7 1.2h0m6.3 1.5h0m4.1 -0.1h0m5.1 0.3h0m3 0.7h0m29.6 -1h0m8.5 0.4h0m4.9 -1.9h0m25.9 2h0m11.3 -2.8h0m8.5 0.2h0m4.7 1.9h0m39.7 0.6h0m20.2 -2.7h0m-163.9 6.7h0m56.7 0.8h0m34.4 -1.8h0m22.6 0h0m20.3 0.1h0" stroke="#8a4e5e" stroke-width="2.15" stroke-linecap="round" fill="none"/><path d="M0 0m55.6 1.8h0m51 -1.4h0m12.1 1.2h0m20.7 -0.8h0m16.3 2.1h0m2.4 -1h0m15 -0.2h0m-124.4 5.9h0m11.6 0h0m12.4 0.1h0m18.9 -4.5h0m5.5 2h0m12 -1.3h0m4.9 -0.8h0m1.8 5.1h0m12.4 -1.9h0m34.3 0.1h0m3.7 -1.4h0m4.8 3.9h0m0.2 -5.2h0m21.2 4.8h0m-147.6 2.2h0m20.9 -0.7h0m5 2.9h0m3.4 -3.3h0m4.9 4.9h0m0.7 -4.1h0m46.5 4.3h0m1.8 -2.6h0m23.4 -2.2h0m38.7 4.4h0m-154.5 1.4h0m4.2 3.6h0m14.8 1.1h0m16 -4h0m1.8 -0.7h0m31.5 3.7h0m16.2 -1.8h0m21.1 1.4h0m4.2 1.1h0m20.8 -1.3h0m5.7 0.4h0m1 0.8h0m3.5 -3.1h0m7 3.2h0m4.4 -4.4h0m-150.1 6.2h0m2.9 -0.8h0m7.1 3.4h0m2.3 -2h0m51.8 4.1h0m14.9 -1.8h0m4.7 -3.2h0m6.1 5.1h0m12.2 -2.2h0m0.2 -2.2h0m15.9 0.3h0m3.6 1.3h0m2.4 2.5h0m7 -5.2h0m1.8 2.9h0m2.5 -0.6h0m21.5 0.3h0m10.6 -2.7h0m5.7 2.5h0m-191.8 7.1h0m14.8 -3.5h0m8.5 0h0m7 0h0m7.8 1.8h0m2.1 -0.4h0m1.6 2.7h0m4.4 -0.8h0m9.9 0.2h0m1.3 -2.6h0m9.7 3.1h0m18.9 0h0m11.2 -1.7h0m3.9 2.1h0m18.7 -3.6h0m17.8 0.2h0m13.1 0.1h0m33.2 2.6h0m13.9 0.8h0m-199.6 2.1h0m38.4 4.8h0m3.4 -1.4h0m2.5 -0.8h0m8.3 -1.1h0m7.6 2.9h0m10.9 -1h0m13.6 0.8h0m12.5 -2.6h0m4.3 0.8h0m3.5 -0.1h0m21.4 1.5h0m19.9 0.4h0m33.8 -2.9h0m6.6 -1.2h0m-177.4 9h0m6.6 -1.1h0m4.3 2.9h0m17 -2.1h0m13.4 -1.9h0m8.5 2.5h0m32.8 -3.3h0m16.5 0h0m61.8 4.4h0m7.2 -2h0m19.6 -2.4h0m2.4 2.5h0m6 -2.7h0m-207.6 8.2h0m4.1 0.8h0m0.5 -1.7h0m46.6 0.3h0m8.2 2.9h0m2.4 -0.7h0m20.3 -2.9h0m35.2 3.5h0m19 -0.7h0m20.4 -2.2h0m4.2 2.8h0m22.3 0.2h0m4.8 -0.4h0m6.8 0.3h0m10 -1.4h0m2 -2.2h0m-215.3 4.9h0m0.8 2.7h0m38 2.2h0m16.2 -2.3h0m40.4 -1.6h0m2.1 0.1h0m2.9 1h0m30.4 -1.4h0m24.7 -0.6h0m1.6 2.3h0m3.6 -0.1h0m9.1 2.8h0m18.1 -2.4h0m1.8 -3.1h0m7.4 4.8h0m1.9 -4h0m1 3.9h0m20.7 -2.2h0m3.3 2.7h0m-178.9 1.8h0m16.8 0h0m8.6 4.7h0m8.5 -1.4h0m16.7 -0.5h0m16.1 -1.8h0m18.5 1.2h0m27.8 0.7h0m7 -1.8h0m9.3 3.4h0m7.1 -0.8h0m3.8 -1.2h0m7 -2.3h0m5.2 4.3h0m20.6 -3.2h0m3.5 2.1h0m-192.5 4.9h0m7.2 0.8h0m23.2 0.7h0m1.1 -3h0m9.6 0.6h0m18.5 -1.8h0m13.8 1.4h0m9.7 3.6h0m24.2 -1.3h0m35.7 0h0m24.6 -1h0m7.3 -1.4h0m7.4 2.5h0m-185.1 3.3h0m12.4 -0.9h0m4.7 2h0m34.6 2.1h0m1.6 -0.9h0m29.8 -0.6h0m5.3 0.1h0m7 1.6h0m2.4 -4.8h0m6.5 3.8h0m12.8 -3.3h0m4.7 5h0m17.2 0.2h0m12.8 -1.9h0m2.1 -0.5h0m21 -1.8h0m3.1 3.5h0m-177.5 4.5h0m12 -1.2h0m9.1 1.5h0m39.3 -1.7h0m1.1 0.1h0m59.8 1.6h0m28.1 0.5h0m1.9 0.4h0m2.2 -1h0m14 0.3h0m5.7 0.6h0m17.9 -1.2h0m6.3 0.4h0m0.3 -1.4h0m-229.4 6h0m8.8 -1.3h0m0.4 1.1h0m5.9 2.6h0m3.2 -2.1h0m8.1 1.8h0m3.3 -1.5h0m29.8 2.5h0m18.1 -2.4h0m2.7 -1.9h0m1.9 0.8h0m23.3 3.2h0m9.8 0.1h0m13.2 -5.6h0m22.5 2.7h0m2.1 -2.6h0m23.4 0.6h0m16.7 2.7h0m3.6 -0.9h0m-196.6 5.5h0m14.8 2.2h0m11.6 -3.1h0m10 2.4h0m17.5 -0.3h0m2.7 0.9h0m6.3 -2.2h0m17.7 2.5h0m24.4 1.2h0m36.7 -4.8h0m27.7 0.6h0m11.9 0.3h0m13.6 1.6h0m15.4 2.2h0m5.8 -2.1h0m15 0.9h0m0.7 -4.3h0m-229.7 8.5h0m10.5 2h0m21.3 1h0m10.6 0.1h0m7.3 -4.8h0m34.4 3.5h0m4.8 0.5h0m0.4 -4.5h0m0.3 2.5h0m4.1 -0.6h0m11.3 0.3h0m21.3 0.6h0m22.4 -2.6h0m4.1 4.2h0m36.7 -0.5h0m3.3 0.8h0m1.4 -0.7h0m6 -1.6h0m1 2.6h0m16 -4.5h0m3.1 0.1h0m-218 6.3h0m40.8 2.6h0m9.1 -0.1h0m11.9 -1.1h0m4.9 2.4h0m24.3 0.3h0m15.8 -2.4h0m18.9 0.4h0m2.1 -0.3h0m32.3 -1.8h0m7.7 -0.4h0m19.6 0.8h0m11.8 -0.8h0m4.8 0.3h0m3.2 0.2h0m-205 9h0m19.5 -0.6h0m9.1 -3.5h0m4.7 5.8h0m5.3 -6h0m9.1 4.6h0m13.9 -4.3h0m8.6 1.7h0m6.8 2.1h0m1 -2.1h0m15.7 3.9h0m57.5 0.1h0m18.9 -1.9h0m15.3 0.7h0m5.3 -3.1h0m16 2.2h0m11.8 -3.5h0m-219.2 7.9h0m4.8 -1.7h0m28.1 1.6h0m27.1 0.6h0m3.1 -1.9h0m2 1.8h0m6.8 -1.4h0m8.7 -1.3h0m4.6 5.4h0m15.6 0.4h0m6.9 -0.1h0m24.4 -4.4h0m28.6 4.3h0m7.9 -5.3h0m5.9 4.2h0m2.5 0.2h0m20.7 -2.4h0m14 -1.7h0m6.5 0.6h0m-221.9 7.9h0m4.2 -1.2h0m2.2 2h0m4.2 1.6h0m33.2 0.4h0m40.2 0.1h0m13.8 -2h0m14.8 1.4h0m3.8 -3.3h0m2.7 -1h0m9.1 2h0m27.4 1.4h0m2.3 -2.5h0m27.2 0.1h0m2.4 1.7h0m4.9 0.8h0m-173.9 1.5h0m8.4 5.1h0m4.2 -1.1h0m24.9 -1.7h0m34.8 -0.5h0m3 3.5h0m6.2 -2.7h0m8.1 0h0m5.8 -2.6h0m12.3 5.4h0m6.5 -1.6h0m0.5 -1.2h0m7.2 -2.5h0m38.7 0.2h0m16.6 1.8h0m13.4 1.7h0m0 -1.4h0m15.5 -0.5h0m0.4 2.9h0m-220.2 2.5h0m6.3 0h0m25.2 1.8h0m12 0.7h0m24 1.8h0m22.2 -3.2h0m1.2 3.2h0m1.9 -2.2h0m12.3 -0.6h0m3.9 1.1h0m9.6 -0.8h0m2.4 0h0m6.7 -3h0m7.6 0.2h0m1.7 0.7h0m14.2 1.3h0m34.2 2.5h0m4 -1.7h0m24.1 0.4h0m3.8 -3h0m-213.7 11.3h0m10 -5.5h0m9.4 1.2h0m10.1 -0.5h0m7.3 3.4h0m19.3 -1h0m1.2 -3.2h0m2.6 3.5h0m7.6 -0.1h0m0.9 -2.4h0m16.5 0.6h0m12 2.2h0m2 1.9h0m4.5 -1.9h0m2.4 -2.4h0m1.9 2.6h0m8.2 -3.3h0m3.2 3.5h0m14.4 -2.3h0m9.1 1.8h0m9.1 0.4h0m3 -3.3h0m27.3 2.7h0m10.5 -2.1h0m8.5 0.8h0m3.6 -1.1h0m-196.9 6.8h0m8.6 -1.2h0m0.7 1.9h0m5.7 0.6h0m25.7 -1.1h0m2.6 0.3h0m25.3 -0.5h0m11.5 1.2h0m25 -0.9h0m38.6 3.1h0m28 -3h0m2.6 2h0m11.3 -4.5h0m2.2 2.5h0m12 1.7h0m-183.9 2.7h0m19.5 -0.3h0m8 1h0m4.3 4.2h0m3 -0.4h0m8 -2.6h0m20.5 2.8h0m16.9 -0.2h0m5.2 0.2h0m3.4 -1.8h0m8.2 -2.3h0m8.7 0.6h0m15.1 0.9h0m23.6 2.4h0m16.9 0.2h0m1.1 -1.3h0m5.7 -3h0m5.9 2.9h0m1 1.4h0m-175.9 4.7h0m6.7 0.1h0m10.3 -1.6h0m40.7 -1.3h0m2.8 3.3h0m19 -3.4h0m12.8 2.4h0m4.5 0.9h0m4.1 -3.3h0m0.4 3.4h0m19.1 0h0m12.9 -4.2h0m2.8 3.1h0m6.6 0.7h0m12.6 -1.4h0m22 0h0m-176.4 5.4h0m3.6 2.9h0m5.6 -5h0m5.6 2.2h0m3.5 -1.5h0m2 -0.9h0m1.8 3.1h0m13.8 -0.9h0m8.1 0.7h0m15.7 2.6h0m10.6 -1h0m1.4 -3.1h0m5.6 1.3h0m18.4 -1.3h0m23.9 3.6h0m20.6 -2.4h0m12.9 3.1h0m17 -2.3h0m-168.2 2.7h0m16 0.9h0m2.9 -0.2h0m31.4 0.2h0m22.6 0.5h0m14.9 -1.5h0m38.1 1.6h0" stroke="#8a4e5e" stroke-width="1.85" stroke-linecap="round" fill="none"/><path d="M0 0m58.9 0.5h0m23.2 2.4h0m49.6 -0.1h0m3.2 -1.6h0m15.8 1.8h0m-111 5.9h0m5.2 -0.7h0m17.8 -2.2h0m25.9 -2h0m2.1 4.4h0m12 -4.6h0m1.8 4h0m29.3 -1.7h0m3.5 2.7h0m7.1 -1.5h0m44.6 -4h0m-139.6 9h0m18.5 -1.4h0m23.5 0.9h0m15.6 2.7h0m7.5 -1.9h0m34.1 2.3h0m9.1 -4h0m13 3.6h0m22.1 -2.5h0m7.8 3h0m-151.1 1.8h0m4.8 -1.1h0m3.7 2.1h0m14.9 -0.6h0m11.7 -1.9h0m6 -0.1h0m15.8 2.2h0m10 -2.4h0m1.5 0.4h0m12.2 4.4h0m1.4 -2.9h0m3.5 -1.9h0m27.8 2.2h0m34 -0.2h0m1.7 0.1h0m-174.7 7.3h0m23.1 -2.2h0m21.4 -1h0m3.5 5h0m13.9 -0.5h0m32.8 -1.6h0m16.8 1.8h0m5.4 -3.6h0m5.2 4.3h0m4.9 -5.4h0m4.8 2.2h0m15.2 -1.5h0m15.1 -0.4h0m11.3 3.2h0m8.7 1.4h0m-183.3 5.7h0m2 -3.5h0m1.9 0.2h0m36.7 4.4h0m6.8 -5.7h0m28.4 1h0m32.2 -1h0m18.2 1.2h0m13.8 4.6h0m13.6 -4.2h0m4.7 2.9h0m11.5 -1.3h0m21.8 0.6h0m-174.4 7.3h0m18.6 -2.5h0m14.7 2.4h0m20.2 -1.9h0m6.2 -2.5h0m42.3 -0.4h0m4.1 4.2h0m4.5 0.8h0m11.8 -0.1h0m3.8 -2.1h0m23.3 0.3h0m4.4 -3.2h0m-158.1 10.8h0m22.3 0.6h0m16.3 -4.7h0m13.6 2.5h0m12 2h0m3.2 -2.6h0m4 -1.6h0m43.7 0.7h0m13.4 1.4h0m2.5 2.3h0m44 -1.4h0m2.5 -3h0m4.2 0.7h0m-209.6 8.6h0m4.4 -2.7h0m0.9 3.2h0m2.1 0h0m6.8 -3.8h0m2.1 1.6h0m10.1 1.4h0m6 -0.7h0m20.9 -1.7h0m2.1 -1.8h0m3 0.3h0m4.5 4.7h0m10.8 -3.7h0m37.2 0h0m7.6 0.6h0m17.1 0.9h0m27.3 -2.5h0m9.4 4.4h0m32.1 -3.3h0m3.4 2.4h0m1.8 -2.6h0m-197 7.1h0m20.8 -2.4h0m48.1 0.2h0m4.7 0.9h0m19.2 2.3h0m2.5 1.7h0m11.5 -3.9h0m41.9 -0.4h0m11.6 1.9h0m10.8 1h0m16 1.4h0m21 -1.3h0m-202.7 4.6h0m13.1 1.2h0m24.5 -2.5h0m18.9 2.1h0m16.1 -1h0m24.7 1h0m16.5 -1.6h0m0 4.3h0m1.3 -1.8h0m8.2 1.8h0m4.5 -4.7h0m12.6 -1.1h0m5.4 -0.1h0m6.4 0.9h0m17.1 4.7h0m2 -2.5h0m10.5 -1.7h0m-204.8 7.3h0m8.2 2.8h0m31.4 -2.9h0m8.7 1.9h0m55.7 -1.4h0m34.3 -0.9h0m9.6 -2.2h0m7 5.2h0m28.3 -4.7h0m11.3 0.4h0m13.9 4.3h0m3.4 -2.1h0m16.5 1.4h0m-206.3 4.6h0m18.3 1.1h0m28.9 -0.9h0m2.3 -0.5h0m28 -1.7h0m34.6 4.5h0m28.4 -5.2h0m19.8 1h0m15.8 1.9h0m5.4 -2.8h0m6.6 0.3h0m7.4 0.1h0m8.4 4.5h0m3 -1.4h0m1.9 -1h0m-216.3 5.4h0m14.1 -0.5h0m50.2 0.9h0m0.4 1.4h0m59.7 1.7h0m1.4 -0.8h0m14.2 -2.7h0m2.6 0.2h0m2.5 -0.9h0m17.6 0.1h0m9.6 0.6h0m7.7 -0.3h0m14.9 2.2h0m10.3 0.6h0m7.1 0.1h0m-207.6 4.3h0m9.2 -2.7h0m4.9 2.5h0m3.7 1.9h0m24 0.4h0m24.9 -2.8h0m15.8 -2.5h0m36.3 4.3h0m3.5 1.4h0m9.4 -0.5h0m3.3 -2.1h0m0.6 2.4h0m1.7 -0.2h0m6.9 -2.4h0m14.6 -2.5h0m6 5.2h0m9.5 -0.4h0m2.5 -4.7h0m8.9 4.2h0m-201.5 7h0m9.4 -2.2h0m9.4 -1.5h0m11.1 2h0m1.6 -2.4h0m3.1 2.3h0m1.8 -0.8h0m2 1.1h0m2.3 -2.8h0m4.6 -0.4h0m32 0.3h0m4.7 -0.3h0m7.7 0.4h0m18 2.1h0m2.8 -1.7h0m5.8 2h0m18.4 1.5h0m51.1 -2.2h0m5 -2.3h0m6.2 5.1h0m3.1 -5.3h0m16.4 2.8h0m-222 8h0m23.5 -5.4h0m7.7 0.7h0m22.1 3.3h0m4.7 -2.3h0m19 3.3h0m6.4 -1h0m0.6 -1.3h0m15.9 2h0m15.1 -4.2h0m5.8 5h0m22.9 -1.2h0m20.1 -4.1h0m31.9 2.5h0m14.2 1.3h0m3.8 1.1h0m11.5 -0.7h0m6.1 -4.5h0m-221.4 6.8h0m7.1 2.3h0m45.2 -0.3h0m4.3 -1.3h0m11.6 0.3h0m1.3 3.8h0m14.8 -4.3h0m5.1 4.1h0m26.2 -1.8h0m6.4 -3.2h0m5 0.4h0m15.5 -0.1h0m3.1 -0.1h0m7.5 4.2h0m0.2 -2.1h0m21.9 0.6h0m27.2 0.2h0m8.3 -3.3h0m9.7 0.6h0m-209 10.3h0m3.1 -1.3h0m1.2 0h0m8.9 -1.9h0m0.9 1.9h0m13.5 -2h0m16.4 0.7h0m4.2 2.1h0m46.8 1.4h0m1.2 -2.4h0m2.9 -3.5h0m26.5 5.8h0m19.2 -4.1h0m9.1 -1.6h0m11.4 4.4h0m1.8 -0.1h0m28.3 -3.1h0m-210.8 7.4h0m5.7 2.4h0m26.4 -4.5h0m3.6 3.8h0m5.1 -4.3h0m0.7 2.7h0m11.1 0.7h0m6 -1.4h0m26.2 -1.9h0m1.7 3.1h0m7.1 1.1h0m13.6 -3.2h0m11.6 1.6h0m8.7 -0.7h0m17 0.2h0m13.8 2h0m6.5 -3.4h0m1.6 4.5h0m4.9 0.1h0m23.6 -5h0m31.7 4.7h0m-210.9 2.9h0m38.6 3h0m32.7 -1.4h0m0.2 -2.4h0m11.5 2.2h0m4.3 -0.5h0m9.7 -1.4h0m26.7 3.6h0m2.1 -1.8h0m0.8 -2h0m9.5 0.3h0m29.3 0h0m18.9 -0.5h0m22.8 0.9h0m-209 5.9h0m6.1 -0.2h0m23.9 0.8h0m17.6 -0.3h0m12.2 1.6h0m5.5 -1.4h0m7.9 0.2h0m8.9 -2.5h0m13.9 3.7h0m41.6 -1.2h0m2.2 -2.1h0m2.4 4h0m1.2 -1.6h0m8.3 -2.5h0m2.1 1.2h0m22.7 3.3h0m12.9 -2.6h0m7.3 -1h0m9.6 -1.2h0m-215.9 9.6h0m46.4 1.8h0m12.9 -2.7h0m2.1 0h0m6.8 0.4h0m11.9 0.1h0m25.9 2.4h0m6.1 -0.3h0m11.4 -0.3h0m3.2 -2.3h0m1.7 0.7h0m14 -0.5h0m20.2 -0.5h0m26.4 -2.1h0m11 3.4h0m4.3 -1.4h0m-202.7 5.1h0m27.7 3.3h0m0.4 -2.5h0m7.3 2h0m22 -0.9h0m9.6 -3.3h0m4.3 4.2h0m4.5 -1h0m4.6 1.2h0m9.8 -2.3h0m78.4 1h0m17.4 0h0m4.6 1.3h0m22 -0.5h0m-180 2.3h0m9.1 2.6h0m1.9 -2.7h0m14.2 1.6h0m28.4 0.9h0m4.4 -0.9h0m17.1 2.5h0m16.7 1h0m5.1 -3.5h0m4.9 3.3h0m1.3 -2.7h0m6.6 1.6h0m21 -3.1h0m0.7 2.1h0m16.1 -2.1h0m0.2 3.4h0m6.3 0.6h0m5.4 0.6h0m14.6 -2.4h0m-199.3 5.7h0m7.2 2.3h0m9 -1.2h0m43.2 -2.5h0m6.9 2.6h0m30.1 -3.2h0m14.7 -0.3h0m4.6 1.1h0m16.1 0.1h0m27.3 2.2h0m5.7 -0.9h0m2.9 2.6h0m13.3 -3.8h0m3.7 3.3h0m7.8 0.5h0m2.2 -5.3h0m3.4 0.8h0m-195.4 4.8h0m3.8 5.1h0m2 -4.8h0m0.1 4.1h0m2.5 -1.8h0m7.9 -1h0m57.4 -0.3h0m6.6 -1.1h0m8.3 0.2h0m2.6 -0.4h0m4.7 0.5h0m15.7 0.1h0m12.4 3.8h0m6 0.3h0m14.2 -4.4h0m49.3 2.3h0m-182.1 6.4h0m9.2 -0.4h0m6.8 2.7h0m6.6 -0.1h0m9.4 0.7h0m1.7 -0.6h0m32.9 -3.1h0m8.6 -0.9h0m7.1 -0.3h0m7.1 -0.5h0m34.4 2.2h0m0.1 2.3h0m8.5 -3.8h0m42.7 -0.4h0m1.1 4.6h0m-171.7 2.2h0m6.9 -1.5h0m35 1h0m47.7 -1h0m77.7 0h0" stroke="#9c6262" stroke-width="2.15" stroke-linecap="round" fill="none"/><path d="M0 0m61.1 1h0m24.9 0.5h0m14.2 1.1h0m22.2 -0.9h0m5.6 0.1h0m10.3 1h0m36.1 0.1h0m-117.7 0.9h0m6.4 4h0m6.8 -3.8h0m9.7 4.3h0m27.6 -0.2h0m6.8 -0.4h0m34.5 -0.2h0m27.4 -0.1h0m-117.1 3.3h0m16.6 1.5h0m36 -1.6h0m5.4 0.4h0m13.8 1.6h0m2.4 2.3h0m15.2 -5.2h0m1.8 2.9h0m7.8 -0.7h0m23.2 0.3h0m22.8 2.2h0m-168.8 4.6h0m2.2 -0.3h0m5.7 -1.8h0m20.1 3.4h0m5.5 -1.3h0m93.6 -3.9h0m16.8 2.8h0m1.7 -2.5h0m11.4 3.8h0m-161.1 4.6h0m4.9 -2.7h0m20.3 5.8h0m0.3 -2.8h0m7 1.9h0m16 -1.9h0m4.3 1.6h0m1.8 -4.7h0m5.3 3.1h0m2.5 -1.5h0m2.7 1.3h0m1.5 -2.2h0m16.8 0.4h0m8.1 2.5h0m56.2 0h0m9.1 -2.2h0m12.8 -0.6h0m2.5 0.1h0m-162.4 5.1h0m1.9 2.5h0m6.7 -0.3h0m14.4 -0.7h0m16.4 0.3h0m28.7 4.2h0m32 -5h0m11.7 3.6h0m5.3 -1.3h0m6 -1.3h0m42.7 1.7h0m-192.1 6.4h0m4.9 0.5h0m17 -1.5h0m18.2 -3.1h0m1.9 2.2h0m49.1 2.2h0m8.2 -0.1h0m16.5 0.9h0m25.4 -2.7h0m14.2 0.1h0m15.5 0h0m16 -0.7h0m14.4 0.9h0m3.3 2.4h0m0.7 -1.8h0m-202 5.4h0m10.6 0.2h0m56 -2.5h0m22.2 2.9h0m23.6 -0.3h0m6.3 -1.3h0m0.9 2.3h0m7 -0.8h0m5.8 -0.5h0m7.8 1h0m54.9 -0.7h0m-128.6 3h0m8.8 5h0m18.3 -4.9h0m7.1 -0.1h0m6.4 5.9h0m26.1 -4.3h0m11.2 2.5h0m43.9 -3.9h0m4.4 2h0m4.5 -2.1h0m-209.7 9.6h0m12.5 -3.2h0m61.6 0.1h0m21.1 3h0m53.3 -3.1h0m9.2 5.3h0m14.7 -2.4h0m26.2 -0.3h0m1.9 0.3h0m16.7 0.1h0m1.7 1.3h0m4.4 -3.8h0m-217.6 5h0m16.4 3.6h0m10.8 2.3h0m16.9 -0.5h0m57.3 -3.9h0m6.2 2h0m13.2 0.5h0m3.7 1.9h0m6.1 -4.3h0m5.5 0.4h0m5.7 1.1h0m2.7 1.2h0m13.7 -0.9h0m8.6 0.6h0m41.6 -2.4h0m7.3 2.8h0m-209.5 6.6h0m3 -4h0m18.4 4.3h0m15.1 -2.2h0m2.7 1.2h0m25.4 -1.9h0m21.1 1.8h0m4.6 1.2h0m50.6 -3.4h0m9.2 2.5h0m7 -2.2h0m6.9 0h0m5.7 -0.2h0m35.9 -1.5h0m2.3 -0.4h0m2.3 0.5h0m-226.5 6.6h0m5.6 0.6h0m1.3 1.6h0m4.8 2.2h0m3.1 -1.8h0m3.5 -1.2h0m0.6 -1.7h0m7.6 1.9h0m10.9 1.1h0m6.2 1.6h0m21.8 -4h0m48.4 1.4h0m20.6 2.2h0m36.4 -4.7h0m3.7 0.9h0m1.6 4.2h0m5.6 -2h0m29.9 1.7h0m5.1 -2.4h0m6.6 -1.2h0m-222.8 6.7h0m16.2 -2.4h0m50.7 2.6h0m1.7 -2.2h0m37.6 0h0m0.4 3.8h0m6.5 0.9h0m50.9 -2.8h0m1 0.1h0m4.4 2.4h0m2.8 -3.6h0m13.9 1.2h0m2.4 2.1h0m-187.8 2.5h0m3.2 4h0m41.9 -4.2h0m2.7 5.1h0m4.9 -4.6h0m48.3 0.1h0m6.3 4.1h0m2.6 -2.6h0m10.6 2.1h0m30.7 -4.3h0m5.2 0.7h0m2.3 0.8h0m2.1 1.1h0m5.8 2h0m15.1 -2.6h0m5.8 0h0m6.6 0.4h0m0.9 -3.2h0m9.4 4.9h0m4.2 -2.1h0m2.7 2.7h0m2 -2.6h0m15.5 -0.5h0m1.2 2.4h0m-223.2 6.9h0m15.1 -2.5h0m38.9 0.9h0m16.9 -2.1h0m1.7 0h0m4.6 2.6h0m23.8 -0.2h0m8.4 -0.9h0m48.1 1h0m6.6 0h0m11.9 -0.7h0m4.2 -2.7h0m14.5 0.5h0m-160.7 6.1h0m0.3 -0.9h0m25.1 3.6h0m10.4 -2h0m35.7 2.4h0m3.9 -1.8h0m0.9 2.2h0m1.6 -4.4h0m6.2 -0.6h0m32.2 0h0m23.2 4h0m23.2 -1.8h0m27.6 3.2h0m-232.7 1h0m42.5 0.6h0m7.4 1.9h0m3.7 2.7h0m4.3 -5.5h0m2.7 3.6h0m45.4 -2.9h0m4.7 2.4h0m4.6 -2.2h0m5.4 0.4h0m23.3 3.6h0m53.1 -1.4h0m-196.6 2.5h0m3.2 4h0m22.3 -2.2h0m7 -2h0m4.3 1.5h0m16.6 2.4h0m13.1 -3.6h0m5.1 2h0m30.7 -0.8h0m1.9 -0.4h0m20 3.5h0m7.1 -3.4h0m43.4 1.2h0m21.5 -1h0m2 3.3h0m29.7 -0.7h0m-211.1 2h0m22.2 1.1h0m9.5 -0.5h0m0.2 3.7h0m1.6 -3.3h0m1.3 2.6h0m22.6 -2.7h0m16.4 4.3h0m25.3 -2.1h0m3.8 -2.1h0m4.5 0h0m8 2.4h0m9.2 -2.3h0m2.4 0.8h0m1 4h0m2.2 -1.2h0m5.4 1h0m12 -5.3h0m15.4 5.4h0m1.4 -3.9h0m6.1 1.4h0m11 -1h0m2 2.4h0m2 1h0m4.7 -5.3h0m13.5 2.7h0m-212.9 8.7h0m4.7 -0.4h0m15.3 -4.7h0m4.3 0.4h0m12 -0.3h0m0.8 2.5h0m32.3 2.6h0m33.6 -0.1h0m3 -0.5h0m17.8 -3.8h0m12.3 -0.8h0m13.4 2.5h0m9 0.2h0m2.3 -1.3h0m23.4 3.2h0m14.8 -2.5h0m5.8 0.7h0m1.7 -1.4h0m-197.5 6.2h0m2.5 3h0m13.2 -3.4h0m0.1 -1.8h0m5.3 5.2h0m0.9 -3.2h0m10.6 2.6h0m6.8 -2.1h0m12.9 1.3h0m35.7 -3.7h0m17.8 4.8h0m5 -2.3h0m3.5 2.1h0m42.5 -0.7h0m6.5 -3.5h0m6.6 1.5h0m2.7 1.9h0m13.4 0.3h0m4 -3.8h0m-190.5 5.7h0m1 2.4h0m23 -2.4h0m3.2 0.5h0m3.1 0.7h0m6.7 1.2h0m5.3 -0.2h0m6.9 -1.2h0m17.1 1.5h0m0.8 -1.2h0m0.6 3.4h0m15.6 -3.9h0m6.9 1.8h0m2.9 0.3h0m2.1 -2.7h0m4.8 -0.2h0m3.5 5.4h0m0.5 -2.7h0m3.7 2.4h0m2.3 -5.1h0m19.2 3h0m1.8 0.1h0m1 1.8h0m6 0.2h0m14.8 -2.2h0m17.3 0.5h0m2.8 -1.2h0m2 -1h0m12.2 1.6h0m1.6 -2.7h0m5 1.3h0m8.6 -0.4h0m9.2 1.2h0m-186.5 9.5h0m30.9 -4.4h0m3.6 2.2h0m10.2 -1.9h0m4.8 2.8h0m1.8 -2.7h0m3 -0.6h0m37.7 1h0m0.2 2.2h0m19.3 -2.1h0m15.3 -1.2h0m3.3 1.3h0m2.4 2.1h0m35.6 -2.5h0m-193.3 9.4h0m14.4 -3.2h0m17.9 -2.2h0m13.8 5.6h0m9.2 -5h0m4.5 3.8h0m1.1 -1.1h0m24.2 0.8h0m17 -1.1h0m2.4 0h0m8.1 -0.8h0m2.3 0.5h0m3.3 0.2h0m1.6 -2.3h0m6.9 4.5h0m13.6 -4.5h0m14.2 1.9h0m0.5 2.3h0m24.8 -4.3h0m9.5 5.1h0m3.7 -1.2h0m-187.9 4.3h0m7.3 -1.3h0m10.6 2.8h0m43.7 -0.3h0m14.1 -2.5h0m16.8 2.6h0m26.8 -1.2h0m6.8 -1h0m21.1 2.4h0m2.7 -0.1h0m33.8 1.5h0m11.4 -2.3h0m-188.6 4.1h0m18.6 2.9h0m11.9 -2.1h0m24.8 2.8h0m5.5 -0.8h0m2.4 -4h0m27.7 1.3h0m3.5 -1.1h0m4.3 1.7h0m12 0.7h0m29.9 1.2h0m13.5 -1.5h0m3.5 -2.6h0m-134.1 11.6h0m9.7 -5.2h0m0.1 4.9h0m24.1 -0.1h0m2.2 0.5h0m28.8 -1.9h0m1.5 1.9h0m1.1 -5.5h0m10.7 1h0m11.8 1.8h0m13.3 -0.6h0m2.4 -1.6h0m1.8 2h0m3.5 0.6h0m40.2 -1.1h0m9.2 0.1h0m-73.4 5.1h0m36.8 -1.5h0" stroke="#94586a" stroke-width="1.85" stroke-linecap="round" fill="none"/><path d="M0 0m63.1 1.5h0m37.4 -0.9h0m40.3 1.1h0m6.8 -1h0m17.5 1.1h0m12.6 0.2h0m-135.1 6.3h0m6.9 -3.1h0m25.4 -0.9h0m6.2 3.5h0m12.5 -3.9h0m1.2 4.8h0m8.4 -3.3h0m2 0.6h0m11.1 -0.9h0m4.8 0.1h0m8.2 2.6h0m0 -2.1h0m9.9 2.6h0m7.1 -4.5h0m6.5 0.4h0m11.8 3.9h0m-97.3 5.2h0m10.1 -1.3h0m29.7 -1.5h0m1.9 4.5h0m2.5 -2.2h0m15.9 -2h0m28.4 -0.1h0m12.5 4.2h0m2.7 -2.6h0m7.7 -1.4h0m4.4 -0.1h0m4.4 2.5h0m0.2 -3.4h0m8.4 -0.3h0m5 2.6h0m-173 5.9h0m3.5 0.7h0m19.7 1.5h0m13.8 -3h0m20.4 2.4h0m32.5 -0.5h0m7.8 0.7h0m3.4 -4.2h0m1 2h0m9.4 -2.4h0m4.4 1.6h0m4 3.4h0m2.6 -2.4h0m2.4 1.6h0m2 -2.4h0m34.1 0.7h0m7.4 1.8h0m5 -0.5h0m-147.1 2.2h0m9.2 2h0m8.2 1.4h0m27.8 -3.5h0m3.5 2.6h0m1.1 2.1h0m16.4 -2.4h0m10 1h0m17.5 -0.4h0m5.2 -0.4h0m19.8 3.2h0m3.1 -2.3h0m2.1 1.5h0m-151.4 4.5h0m1.3 -1.3h0m12.2 2.3h0m2.1 -0.6h0m14.6 0.5h0m33.9 1.5h0m31.8 -4.5h0m11 1.9h0m17 1.4h0m8.6 -2.7h0m23.8 1.9h0m18.8 -2.3h0m-173.8 9.3h0m25.6 -3.1h0m9.8 0.4h0m13.2 -1.5h0m19.2 -0.6h0m19.4 5.4h0m3.3 -4.6h0m22.7 3.4h0m0.5 -2.5h0m1.8 0.8h0m33 -1.6h0m-161.8 8.5h0m9.2 -2.9h0m15.8 3.1h0m25.7 -2.4h0m4.2 1.8h0m41 -2.3h0m4.8 0.5h0m0 1.4h0m18.2 -1.2h0m5.3 -0.5h0m32.8 -0.6h0m18.5 3.9h0m1.5 1.2h0m4.9 -2.6h0m2.8 -1.2h0m6.7 -0.6h0m15.7 2.5h0m-177.9 2.7h0m42 1.8h0m22.9 2.7h0m7.3 -0.5h0m4.3 -2.6h0m11.5 0.1h0m13.8 0.6h0m18 -1.9h0m22.8 4.7h0m19.7 -0.5h0m2 -2.9h0m4.9 1.9h0m-188.9 4.6h0m1.6 0.8h0m10.3 2.3h0m26.2 -2.2h0m0.5 1.3h0m2.1 -1.1h0m0 -3.1h0m6.9 2.9h0m28.8 1.4h0m1.4 0.4h0m23.6 -2.1h0m22.8 0.5h0m4.1 -0.7h0m13.3 -2.8h0m14.9 0.8h0m8.4 3.9h0m27.3 -1h0m7.6 -3.2h0m-200.1 11.2h0m4 -1h0m4.7 -1.3h0m82.7 -1.9h0m11.4 0.2h0m2.3 -0.5h0m43.9 0.3h0m28.6 4h0m13.5 -3.2h0m3.9 1.3h0m-215.3 7.4h0m2.2 -0.6h0m7.5 -1.1h0m2.2 -1.3h0m29.8 0.9h0m20.3 -0.1h0m38.8 -2.4h0m9.1 4.6h0m7.8 -1.7h0m13.8 1.1h0m1.8 -1.8h0m8.3 -2.1h0m5.2 2h0m2.3 1.9h0m7.1 -4.1h0m18.6 2.2h0m33.7 -1.9h0m12.5 3.6h0m-210.7 7.2h0m17 -3.5h0m1.6 1.6h0m2.9 -0.5h0m16.2 2.8h0m9.9 -0.7h0m1.6 -1.3h0m6.9 -3.2h0m2.9 4.7h0m4.1 -0.3h0m20.6 -2.2h0m36.1 0.4h0m9.8 0.4h0m2.1 -0.1h0m2.4 0.6h0m7.1 -3.5h0m1.9 1.3h0m9.7 3.9h0m10.8 -0.5h0m0.9 -4.3h0m13.1 1.8h0m0.7 -1.4h0m4 2.5h0m5.1 2h0m2.6 -3.1h0m15 2.5h0m3.5 -3.4h0m8.3 4h0m-218 5.3h0m1.2 -1.6h0m11.8 -1.5h0m48.8 1.7h0m0.1 -3.4h0m5.3 1.9h0m11.1 0.2h0m6.7 -0.9h0m62.1 2.1h0m39.6 0.7h0m2.1 -2.6h0m18.4 0.3h0m9.5 -0.7h0m-185.3 10.2h0m9.1 -2.5h0m20.7 -3.1h0m1.4 4.5h0m3.7 -3.1h0m11.2 3.5h0m18.1 -3.8h0m10.4 -0.7h0m45.7 -0.3h0m4.2 0h0m3.3 5.7h0m8.1 -0.7h0m12.3 -2.1h0m8.4 2.3h0m0.2 -2.8h0m0.2 -2.2h0m9.5 0.4h0m1.6 2.1h0m10 1h0m-196.4 3h0m7.7 0.4h0m45.8 3.1h0m2.4 1.1h0m1.3 -0.9h0m8.4 -2.3h0m13 0h0m19.2 -1.3h0m12.8 0.5h0m15.7 1.9h0m7.3 -1.7h0m9.1 -0.1h0m3.2 4.1h0m8.9 -1.4h0m20.5 0.4h0m-199.9 2.3h0m10.6 4.2h0m0.6 -2h0m2.7 -2.5h0m0.2 2.1h0m4.7 -0.7h0m25.2 3h0m18 -2.4h0m28.1 2.8h0m19.6 -3.3h0m5 2.2h0m10.9 -0.2h0m5.4 -1.2h0m7.1 -0.1h0m15.9 -0.8h0m11.4 -1h0m5.4 2.2h0m18.1 -1.4h0m14 2.2h0m19.8 -2.3h0m-216.8 5h0m2.8 4.3h0m1.9 -4.6h0m4.6 1.1h0m2.2 -0.2h0m2.9 4h0m4.4 -3.8h0m4.8 2.6h0m13.6 -1.5h0m28.6 -0.9h0m1.3 3.8h0m3.1 -0.3h0m8.9 -1.7h0m2.6 -3.2h0m47.1 4.5h0m2.6 0.8h0m12.5 -2h0m6.9 0.6h0m1.7 -2.6h0m9.5 1.5h0m10.7 0.2h0m5.8 -2.9h0m8.8 3.7h0m28.9 -0.4h0m5.4 -3.4h0m-215.7 6h0m1.7 3.4h0m76 -2.4h0m9.3 3h0m6.2 -4.3h0m3.1 2.6h0m13.8 2.2h0m12 0.2h0m4.1 -1.3h0m8.7 -2.1h0m24.9 3.1h0m10.4 -0.2h0m8.2 -2.3h0m0.3 2h0m2.1 -4.1h0m14.1 4.3h0m4.9 -1.6h0m2.6 -1.3h0m6.2 2.1h0m4.5 -1.9h0m3.1 0.9h0m-225.3 6.5h0m8.9 -0.9h0m1.6 -1.4h0m3.2 4.3h0m63.9 -4.7h0m4.8 5.5h0m47.5 -4.9h0m0.1 4.7h0m2.5 -3.1h0m18.1 -1.9h0m32.6 4.8h0m7.8 -4.1h0m22.5 1.8h0m2.1 2h0m-214.1 4.6h0m5.2 -2.8h0m61.9 4.3h0m25.3 -0.8h0m83.3 -0.8h0m3.8 -2h0m18.2 0.1h0m16 2.2h0m2.9 -0.4h0m6 0.9h0m2.6 -1.1h0m1 -1.2h0m-150 5.9h0m12.9 2.1h0m28.3 -2.5h0m2.4 2.5h0m28.2 -0.4h0m1 -1h0m16.8 -0.1h0m4.3 -2.6h0m0.4 3.1h0m4.9 -1.6h0m10.4 0.6h0m17.5 0.6h0m4.5 -2.4h0m-193.4 10.9h0m25.3 -2.7h0m4.5 2.7h0m2.6 0h0m12.4 -1.7h0m17 -3.2h0m29.5 2.2h0m18.3 -2.2h0m16.3 4.6h0m21.2 -1.6h0m59.9 -0.9h0m-212.1 4.9h0m13.5 -0.1h0m27.5 1h0m21.4 -0.8h0m13.9 -1.3h0m48.6 2.2h0m15.8 -0.8h0m6.6 0.4h0m2.3 0h0m24.9 3.8h0m2.2 -4.4h0m8.9 2.1h0m20.9 -1.9h0m5.2 0.7h0m-204.5 4.9h0m3.8 3.9h0m30.7 -1.7h0m15.3 1.8h0m16.4 -4.3h0m16.3 -0.3h0m4.9 4.8h0m24.3 -0.8h0m25.2 -2.3h0m31.5 0.2h0m15.5 0.2h0m1.6 -1.9h0m-156.3 6.6h0m5.5 2h0m14.1 -1.6h0m6.9 3.9h0m26.8 -3.5h0m5.3 1.9h0m1.4 -1.1h0m25 2.5h0m2.7 -1.4h0m13.3 -2.1h0m5.4 -0.4h0m15.6 2.6h0m7.4 -0.4h0m18.8 1.9h0m6.8 -1.4h0m-182.4 4.6h0m13.3 -2.2h0m35.7 1.6h0m6.4 0.6h0m1.7 -1.2h0m9.3 2.7h0m21.1 0.9h0m5.5 -3.1h0m13.8 1.6h0m4.5 0.1h0m15.1 -1.6h0m0.8 2.2h0m12.9 -4.3h0m0.1 2h0m2 -0.7h0m5.4 -0.8h0m14.2 3.7h0m8.6 -2.7h0m5.3 0.5h0m2.4 0.7h0m1.1 0h0m-153 4.5h0m0.9 -1.3h0m10.3 3.6h0m8 -0.8h0m0.4 -2.7h0m0.4 4.6h0m3.1 -4.7h0m40.3 0.7h0m0 5.1h0m4.1 -3.1h0m2.4 0.5h0m22 2.2h0m22.7 -3.1h0m15.3 -1.2h0m7.6 3.8h0m14 -1.4h0m-129 4.2h0" stroke="#a46a66" stroke-width="1.85" stroke-linecap="round" fill="none"/><path d="M0 0m68.5 0.9h0m80.3 1.7h0m36.1 -0.7h0m-99.1 4.2h0m11.7 2.5h0m20.4 -1h0m14.5 0h0m2.3 -4.6h0m4.4 2.1h0m29.2 1.3h0m15 1h0m4.4 0.8h0m4.8 -1.9h0m-143.5 8.6h0m2.8 -5.1h0m0.4 2.5h0m4.4 -2h0m29.5 -0.2h0m0.8 3h0m13.1 -3.1h0m8.5 2.3h0m5.6 1.9h0m9.4 -2.1h0m17.2 -1.5h0m6.2 0.4h0m12.3 3.6h0m2.1 -4.4h0m0.7 2.5h0m36.6 0.6h0m-124.3 5.4h0m46.9 0.8h0m11.8 -0.3h0m0.8 -0.2h0m7.2 -3.4h0m3 0h0m17.6 4.3h0m2.9 -4.7h0m19.1 0.4h0m1.7 1.8h0m18.4 1.9h0m-168.4 5.6h0m31.8 -0.4h0m3.2 -0.8h0m23.1 0.8h0m34.5 -2.5h0m7.1 -0.4h0m29.1 3.2h0m4.5 1.9h0m11.9 -2.4h0m27.7 2h0m-173.3 1.8h0m26.4 4.8h0m0.3 -3.9h0m26.5 1.8h0m41.3 0h0m6.8 -0.4h0m3.1 0.6h0m3.6 0.7h0m4.9 -4.7h0m0.9 5.5h0m14.2 -4.1h0m4.4 -1.3h0m6.6 5.5h0m14.1 -2.3h0m10.8 -2h0m4.5 0.8h0m9 2.3h0m-186.5 6.8h0m10.7 -0.5h0m8.1 -1.5h0m30.4 -1.3h0m6.1 0.2h0m15 3.1h0m8.3 -4.4h0m3.2 1.2h0m9 -0.9h0m8.4 -1h0m14.6 2.2h0m11.2 1h0m0.4 -2.3h0m7.9 3.9h0m0.9 -2.7h0m3.6 -1.2h0m0.3 1h0m16.7 -1.4h0m0.4 4.7h0m4.2 -1.2h0m2.4 -3.7h0m8.9 0.7h0m11.3 0.8h0m2.2 2.6h0m12.7 0.3h0m-202.7 4.7h0m26.7 -0.3h0m24.2 1.8h0m14.6 -4.3h0m1.3 2.1h0m4.8 -1.9h0m15.8 4.6h0m19.7 -3.7h0m19.5 -0.6h0m19.6 -0.3h0m7.3 0.6h0m6.7 -0.3h0m4.5 0.2h0m-167.2 9.1h0m3.7 -4.5h0m10.6 2.1h0m40.3 -0.2h0m25.1 -1.6h0m56.2 4.6h0m1.8 -2.3h0m0 1.1h0m6.4 -3.2h0m28.5 1.4h0m2.5 0.7h0m33.6 1h0m-204.2 3.2h0m9 1.7h0m2.5 0.4h0m36.9 0.4h0m0.4 2.6h0m28.9 -5.6h0m5.6 5h0m24.3 -3.1h0m9.3 -1.1h0m10.3 0.4h0m6.4 2h0m5.9 -1h0m23.5 0.7h0m4.8 -0.3h0m10.8 1.9h0m0.5 -4.5h0m7.2 2.3h0m1.6 3.1h0m9.3 -1.2h0m3 -4.4h0m0.1 5.1h0m-205.3 4.8h0m29.5 -1.5h0m2.3 -0.3h0m1.3 3.7h0m22.8 -1.3h0m1.5 -0.5h0m16 -1.7h0m14.9 -0.4h0m1.4 0.4h0m27.9 -0.1h0m39.4 1.8h0m14.9 0.6h0m10.2 -0.3h0m11.8 -2.2h0m8.2 3.7h0m2.8 -1.9h0m-220.3 4.9h0m7.1 1.3h0m22.8 -0.9h0m23.2 0.9h0m46.1 -1.6h0m22.9 2.9h0m18.5 -0.7h0m3.3 -0.7h0m15.8 -0.1h0m7.1 -0.7h0m3.7 -1.1h0m17.5 0.4h0m7.8 -0.6h0m4.3 -0.1h0m20.7 2.2h0m11 -2h0m-211.7 7.3h0m15.6 -2.6h0m25.5 0.9h0m41.5 4h0m2.7 -1.9h0m13.3 1.8h0m0.1 -5.1h0m30.8 2.6h0m8.6 0.4h0m22.6 -2.7h0m4.3 0.5h0m2.3 -0.8h0m13.8 1.3h0m23.8 -1.4h0m-225.3 9.4h0m10.6 -1.5h0m49.1 2.3h0m8.8 0.5h0m39.4 -5h0m7 3.8h0m8.8 -2.2h0m12.5 -0.3h0m3.8 3.2h0m11.6 -4.2h0m9.1 4.4h0m0.7 -4.5h0m32.3 3.6h0m7.9 -2h0m15 2h0m4 -3.8h0m-180.9 6.4h0m28.7 5.4h0m30 -4.9h0m15.7 2.3h0m21.6 -0.5h0m2 -0.2h0m11.7 -0.3h0m11.9 -1.6h0m4.6 0.8h0m4.5 -0.2h0m2 -1h0m11.2 2.5h0m10 2.1h0m32.1 -1.9h0m-226.3 6.3h0m14.8 -1.7h0m15.1 -0.8h0m18.4 1.1h0m57.5 2.3h0m18.9 -3h0m2 3.1h0m28.2 -0.4h0m1.3 0h0m0.1 1.5h0m0.8 -3.6h0m32.5 2.6h0m26.3 -2.1h0m9.7 1.7h0m0.8 2h0m-220.8 2.4h0m2.2 3.1h0m11.2 -4.9h0m29.3 4.2h0m20.4 -0.3h0m16.7 -1.4h0m52.8 -3h0m10 0.1h0m1.8 5.2h0m27.6 -0.4h0m13.3 -4.2h0m3.3 0.1h0m20.5 2.2h0m4.9 0.1h0m-218.3 5.6h0m10.2 0.6h0m2.2 -0.2h0m10.4 -0.5h0m2 0.2h0m8.9 2.7h0m20.5 -0.5h0m9 -1.2h0m7.3 -0.2h0m11 2.2h0m7.5 -2h0m1.7 -3h0m3.5 4.5h0m6.2 -3.8h0m0.6 1.3h0m6.3 -1.1h0m13.4 1.8h0m2.3 -3.3h0m16.7 3.4h0m4.3 2h0m14.1 -2.4h0m29.7 -1.5h0m13.9 -0.6h0m0.3 2.7h0m-183.8 3.6h0m21.7 -1.1h0m5.2 3.5h0m12.3 -1.3h0m21.8 -2.5h0m13.6 1.6h0m11.3 3h0m21.2 -4.4h0m5 3.7h0m9.3 -2.3h0m6.2 2.3h0m10.5 -1.9h0m1.5 -1.7h0m13.8 1.6h0m6.4 2.2h0m7.7 -2.2h0m2.1 -1.9h0m22.2 3.5h0m19.7 -0.8h0m-224.1 4.1h0m9.8 2h0m7.2 0h0m9.1 -1.8h0m4.6 3.5h0m13.1 1.1h0m7.5 0h0m4.2 -0.7h0m3 0.1h0m43.1 -4.8h0m10.9 4.4h0m3.1 0.5h0m29.9 -2.4h0m7.4 2.7h0m1.5 -4.5h0m50.3 2.4h0m3.2 -0.2h0m11 2.4h0m2.6 -4.9h0m1.2 1.6h0m-204.2 4.4h0m13.9 0.1h0m19 4.5h0m9.4 -0.9h0m13.4 -0.5h0m16.5 -2.5h0m7.9 -0.4h0m29 3.3h0m20.6 -0.4h0m22.3 -2.7h0m38.5 2.8h0m5.3 -3.3h0m-211.7 9.9h0m7.2 -0.4h0m19.8 -2.6h0m7.3 0.6h0m21.9 2.2h0m25 0.9h0m9.3 -1.1h0m1.7 -0.3h0m4.4 -2h0m27.6 2.9h0m20.5 -4.3h0m0.9 4h0m6.3 -2.9h0m55.1 2.6h0m-204.2 7.6h0m9.3 -4.6h0m21.1 0.1h0m24.4 1.6h0m12 -2.1h0m1.3 4.8h0m13.7 0.2h0m7.6 -0.9h0m13.2 -2.1h0m8.9 -1.4h0m7.8 -0.6h0m17.8 4.2h0m14.7 0.3h0m15.8 -1.2h0m2.4 1.9h0m-165.5 4.9h0m33.8 -3.1h0m32 -0.1h0m27.9 -0.2h0m21.1 0h0m9.2 3.3h0m11.4 -0.1h0m9.4 1.2h0m8.9 -0.3h0m9.4 -3.7h0m8.5 2.4h0m24.1 0.6h0m-189.7 6.1h0m0.4 -2.5h0m10.2 -0.5h0m4.4 -1.8h0m13.2 4.2h0m0.9 -3.4h0m3.6 4.7h0m9.9 -1.1h0m2 -2.2h0m4.7 0.1h0m5.9 -1.5h0m14.8 3.5h0m1.4 -1.3h0m5.4 2.4h0m2.3 -4.8h0m2.4 2.5h0m6.1 -0.6h0m7.3 -1.5h0m21.3 -1.2h0m6.9 2.8h0m6.9 2.8h0m10.9 -5.3h0m15.6 5.2h0m22 -4.7h0m16.1 1.7h0m0.9 -1.7h0m-194.6 8.6h0m2.1 0.7h0m4 -2.5h0m0 2.1h0m1.2 1.6h0m17.2 -3.7h0m9.5 0.5h0m58 2.2h0m14.4 1.6h0m4.1 -1.8h0m3.8 -2.2h0m16.7 1.4h0m4.9 0.6h0m1.5 -1.7h0m38.7 1.1h0m12.7 0.1h0m-166.2 3.1h0m4.4 3.4h0m9.1 0.2h0m7.5 -2.1h0m1.7 2.5h0m16.8 -1.9h0m7.1 2.4h0m17.8 -2.8h0m9.2 0.1h0m27.2 2.5h0m5.7 -2.8h0m20.7 -0.2h0m12.8 0.6h0m-139.5 4.2h0m15.1 0.1h0m12.2 2.6h0m0.3 -3.1h0m2.7 0.6h0m3.3 1.7h0m12 0.8h0m7.5 1.5h0m8.1 -1.8h0m3.4 0h0m9.2 -2.4h0m6.5 0.2h0m2 4.9h0m9.8 -1h0m13.7 -3.7h0m2.1 0.3h0m26.9 1.8h0m2.6 2.7h0m-135.7 1.3h0m9.9 0.7h0m73.9 -0.2h0m22.1 0.4h0m43.4 -1.9h0" stroke="#a46a66" stroke-width="2.15" stroke-linecap="round" fill="none"/><path d="M0 0m70.6 1.5h0m22.1 -0.3h0m19 0.3h0m8.8 -0.6h0m47.7 2.1h0m-119 0.4h0m5 4h0m2.4 -1.9h0m8.9 0.8h0m14.5 -1.2h0m10.7 0.3h0m7.6 -1.4h0m28.7 -0.4h0m13.7 3.7h0m0.8 -1.9h0m18.1 -1.9h0m13.6 3h0m9.3 -0.9h0m-105.5 5.3h0m11 3.8h0m9.7 -2.1h0m1.7 1.6h0m3.1 -3.5h0m22.3 -0.9h0m41.2 3h0m2.4 -2.8h0m3.5 -0.4h0m-138.1 7.6h0m4.1 0.2h0m5.2 2.6h0m31.5 -2h0m0.9 -2.6h0m8.6 1.5h0m6.2 0.9h0m0.9 2.3h0m4 -0.4h0m11.9 -0.3h0m4.8 0.2h0m0.1 -2.2h0m26.9 2.9h0m19.1 -2.9h0m11 0.5h0m0.1 2h0m6.5 -4.2h0m30.1 1.7h0m-162.9 6.5h0m0.1 -2.4h0m16.3 3.4h0m25 -3h0m15.7 4.3h0m41.8 -0.3h0m2.4 -2h0m4.9 -2.2h0m15.4 0.8h0m5.4 1.1h0m14.7 0.4h0m0.3 2.5h0m7.1 -4.1h0m1.7 4.1h0m2.2 -4.6h0m13.2 1.4h0m-177.8 5.7h0m24.4 3.9h0m13 -2h0m13.3 -1.4h0m62.6 3.1h0m16.1 -0.1h0m28.6 -2.1h0m7.4 -3.4h0m8.7 2.6h0m5.5 -1.1h0m4.2 0.5h0m-197.1 9.6h0m10.4 -2.2h0m21.9 -2.5h0m1.7 1.4h0m34.2 2.5h0m50.7 -1.8h0m0.7 -1.9h0m10.4 1h0m19.2 2.7h0m5.8 -1.6h0m2.3 1.3h0m3.3 -1.2h0m11.3 1.5h0m8.5 -4.2h0m1 2.8h0m3.8 0.9h0m5.3 0.3h0m9.2 -4.2h0m3.7 2.6h0m-195 4.9h0m1.6 3.8h0m0.5 -4.3h0m2.9 4.1h0m22.7 -5h0m2.8 1.5h0m10.3 3h0m38.2 -1.6h0m18.4 0.5h0m18.3 -0.6h0m26.3 1.8h0m51.4 0.9h0m0.8 -2.3h0m-191.8 6.1h0m12.1 -0.9h0m71.1 1.4h0m6.9 -0.6h0m20.1 0.7h0m1.1 -2.1h0m3.5 2.3h0m2.3 0.5h0m1 -4.9h0m5.8 2.5h0m18.2 2.2h0m2.5 -3h0m11.5 4.1h0m6.8 -1.2h0m3.5 -2.7h0m1.9 0.1h0m0.4 -1.8h0m10.3 3.8h0m-197.7 3.2h0m0.5 1.2h0m2.1 -1.1h0m5 1.2h0m2.8 2.5h0m1.7 0.8h0m16.2 -5.9h0m1.5 2.2h0m18.3 0.7h0m3.4 -1.6h0m56.4 4.1h0m3.6 -4.9h0m8.1 4.4h0m7.7 -2.5h0m1.9 0.1h0m31.4 1h0m3.6 -0.5h0m1.1 -0.8h0m7.5 2.3h0m4.4 1.3h0m7.1 -1.1h0m1.9 0.8h0m7.1 -5.6h0m17.1 0.5h0m8.2 4.5h0m-214.1 4.8h0m5.6 -2.4h0m1.7 2.9h0m23.7 -3.4h0m18.5 3.8h0m19.6 -2.8h0m25.2 4.1h0m11.5 -2.6h0m30.8 0.4h0m9.1 -1.9h0m1.6 0.2h0m0.9 1.8h0m12.7 -2.2h0m7.2 1.5h0m12 -2.1h0m-189.4 8h0m9.3 1.5h0m4.9 -1.3h0m3.1 -0.4h0m2.2 2h0m22.1 -2.4h0m24.9 0.2h0m12.5 3h0m1.9 -2.7h0m7 2.3h0m1.7 0h0m14.2 -0.3h0m57.6 -2.7h0m9.2 3.2h0m7.5 -5.1h0m1.4 1.8h0m13.6 2.8h0m17.2 -4.2h0m6.4 2.1h0m-216.2 6.3h0m52.8 1.8h0m50.9 -0.8h0m16 0.8h0m4.7 0.6h0m11.5 0.4h0m4.7 -0.3h0m15.6 -5.2h0m5.1 3.2h0m7.3 -0.1h0m5.8 -1h0m10.1 3.3h0m16.2 -0.2h0m4.1 -2.8h0m2.7 -0.1h0m4.7 -1.7h0m11.6 -0.2h0m-225.3 7.5h0m1.8 2.6h0m3.6 -3h0m16.5 2.8h0m5.3 0.4h0m20.1 -1.2h0m34.4 0.7h0m9.5 0.5h0m43.1 -1.6h0m1 -2.3h0m13.6 1.5h0m1.6 -1.2h0m21.2 3.4h0m28.1 -0.9h0m12.8 -2.5h0m5.5 0h0m-213.7 6.7h0m4.8 1h0m26.2 0.1h0m3.4 0.2h0m1.9 -3h0m3.7 0.1h0m6.9 -0.3h0m2.4 4.2h0m1.5 -2.4h0m2 -1.2h0m6.3 2.8h0m46.6 -2.4h0m3.4 4h0m10.1 0.1h0m8.6 -5.5h0m42.1 3.2h0m0.2 2.7h0m5.9 -1.4h0m28.5 -4h0m13.8 5.4h0m2.6 -2.8h0m-225.2 4.9h0m4.5 2.7h0m10.3 -0.6h0m1.1 -2.9h0m37.9 1.1h0m9.3 0.7h0m10.1 -1.5h0m18.1 3.9h0m2.1 -3.1h0m13.3 1.9h0m33.3 1.6h0m30.1 -0.4h0m2.3 -1.7h0m6.9 -0.4h0m1.2 -1.9h0m21.3 1.7h0m3.6 -3.1h0m19.8 3.6h0m-223.5 6.4h0m20.6 -4h0m29 2.5h0m11.6 -1.6h0m12.1 3.8h0m25 -2.3h0m28.6 -2.1h0m58.9 4.3h0m16.7 -2.6h0m22.9 0.4h0m-225.6 6.9h0m18.3 2.2h0m30.6 -2.9h0m1.8 -0.9h0m17.5 -1.1h0m18.8 2.7h0m4.8 -1.8h0m26.2 3.5h0m6.5 -1.5h0m4.2 1.6h0m6.5 -0.2h0m2.4 -3.2h0m3.2 -0.7h0m15.6 0.3h0m9.1 -0.5h0m13.7 5.1h0m7.6 -5.1h0m6.2 0.7h0m18.8 4.4h0m1.6 0.1h0m-217.5 4.8h0m3.6 -0.1h0m3.3 -2.6h0m6.2 -2.1h0m9.8 1.8h0m4.9 0.9h0m40.9 -1.4h0m1.4 2.2h0m3.2 -0.8h0m36.6 -1.1h0m36 -1.4h0m2.3 2.5h0m53.1 3.1h0m21.6 -2.2h0m-221.5 2.9h0m2.4 -0.3h0m9.9 5h0m17.6 -0.2h0m7 -0.5h0m18.6 -3.7h0m2.9 4.2h0m8.7 -0.5h0m27.4 -1.9h0m9.9 2.2h0m1.6 -2.3h0m30 2.2h0m19.1 -1.4h0m24.9 -3.1h0m2.1 2.7h0m1.9 -2.5h0m12.7 -0.4h0m31.5 0.8h0m-227.8 7h0m4.9 2.7h0m22.2 -2.6h0m12.7 3.7h0m34.1 -1.5h0m2 -2.5h0m8.4 0h0m20.7 0.4h0m28.5 0.3h0m1.9 -1.1h0m6.5 2.6h0m8 1.9h0m11.7 0.1h0m18.3 -4.5h0m10.1 4.2h0m22 -2.1h0m-196.4 3.5h0m57.3 1h0m7.5 1.1h0m15.4 -1.5h0m10 -1.5h0m26 3h0m4.5 -1h0m4.7 3.4h0m3.1 -4.9h0m4.9 1.9h0m32.2 -0.3h0m2.5 3.1h0m2.3 -2.1h0m2.3 1.1h0m6.9 0.7h0m4.4 -2.9h0m5.4 1.8h0m-175.9 7h0m0.7 -3.4h0m8.6 2h0m4.8 2.4h0m5.3 -4h0m9.3 4.1h0m24.8 -2.8h0m6.7 0.5h0m11.5 -3h0m5.2 0.7h0m11.5 -1.1h0m23.3 2.5h0m17.2 -1.5h0m1 2.3h0m7.3 -3h0m3.8 5h0m2.3 -4.9h0m30.2 2h0m23.5 -1.5h0m-207.7 9.1h0m1.9 -2h0m10.3 -1.1h0m2.1 2.9h0m9.4 -4h0m0.9 2.6h0m12.8 2.3h0m6.6 -3.4h0m34.8 0h0m4.7 -0.2h0m10.1 0.4h0m3.2 2.2h0m20 0.1h0m4.2 -2.1h0m3.1 3.9h0m1.7 -3.6h0m9.6 -0.8h0m12.5 3.1h0m8.5 -1.2h0m5 2.7h0m35.6 -1.9h0m-204.6 2.1h0m0.8 3.3h0m14.1 1.9h0m1.9 0.2h0m8.4 -0.3h0m5.3 0.4h0m0.6 -2.7h0m1.8 -2.6h0m10.7 2.5h0m25.9 -1.6h0m1.9 3.1h0m9.6 0.5h0m18.3 -4.1h0m0.5 2.3h0m10.9 -1.9h0m41 -0.9h0m9.9 4.8h0m2.4 -3h0m7 2.8h0m29.2 -4.4h0m8.1 1.9h0m-186.9 8.8h0m9.5 -2.2h0m7.4 0h0m12.7 2.1h0m21.3 0h0m9.1 0.8h0m1.9 -0.4h0m9.7 -1.8h0m7.4 -2.6h0m33.9 4.5h0m10.5 -3.7h0m10.5 -0.1h0m11.4 -0.8h0m10.3 3h0m-146 4.8h0m9.5 1.8h0m4.5 -0.6h0m5.5 -2.5h0m0.2 2.2h0m5.5 -0.7h0m2 1.3h0m8.5 0.6h0m21.4 -2.8h0m55.8 2.2h0m3.6 -3.6h0m0.7 3.1h0m19.7 0.5h0m12.4 0.6h0m6.7 -0.3h0m-172.1 2.2h0m9 2.2h0m55.4 2.1h0m9.4 -3.8h0m3.8 2.1h0m3.2 1.3h0m12.5 -1.8h0m30.9 0.4h0m18.7 -2.7h0m1.8 1.8h0m18.2 1.4h0m2.6 -0.8h0m5 -1.9h0m3.5 -0.8h0m-162.8 6.9h0m56.5 0.1h0m37.4 -0.2h0m25.3 0.6h0m36.5 0h0" stroke="#985e5a" stroke-width="1.85" stroke-linecap="round" fill="none"/><path d="M0 0m71.9 1.4h0m58.6 0.2h0m38.6 -0.1h0m-112.7 6h0m4.8 -3.9h0m2.8 0.7h0m3.2 -0.1h0m0.5 1.4h0m5.3 0.2h0m3.3 -1.7h0m12 4.7h0m53.1 -5.2h0m9.3 1.3h0m9.7 3.2h0m0.1 -1.7h0m6.1 -3.1h0m6.2 4.2h0m5.6 1.3h0m7.5 -1.1h0m-147.9 3.1h0m0.2 1.4h0m0.1 2.3h0m8.4 -3.5h0m2.7 -0.3h0m13.2 2.6h0m3.2 1.2h0m27.1 -2.1h0m1 2.1h0m13.1 -2h0m6.8 -1.4h0m1.6 0.8h0m30.2 2.4h0m43.5 -0.9h0m-133.5 3.6h0m5.3 -0.1h0m16.3 2h0m11.2 1.1h0m0.2 -2.5h0m7.5 -0.6h0m18.1 1.9h0m4.1 -1.9h0m5.4 1.1h0m50 -2.7h0m1.6 3.4h0m7 -0.8h0m11.8 -2.8h0m-131.6 7.2h0m3.7 0.4h0m15.7 1.4h0m9.1 -1.9h0m5 -0.6h0m6.5 -0.4h0m6.9 4.7h0m2.1 -3.3h0m0.6 4.2h0m20.2 -1.2h0m11.3 0.2h0m3 -3.4h0m15 -1h0m10.3 4.9h0m11.2 -0.4h0m18.6 -1.4h0m1.6 -0.4h0m-166 4.2h0m25.9 3.2h0m10.9 -3.2h0m5.2 3.3h0m1.6 -1.3h0m3.4 -2.2h0m12 1.4h0m1.5 -2.5h0m29.9 5.7h0m4.5 -1.8h0m17.9 -1.9h0m5.7 1.7h0m12.9 0.5h0m-134.9 7.2h0m24.5 -5.3h0m65.2 0.6h0m9 -0.6h0m1.8 4.9h0m11.3 -1.8h0m7.6 -2.4h0m3.6 -0.6h0m9.9 0.1h0m8.6 2.1h0m18.6 -0.2h0m4.4 2.5h0m19.8 -2h0m-206.2 5.3h0m19.3 1.7h0m8.7 1.8h0m2.7 -2.4h0m13 2.2h0m7 -4h0m9.7 0h0m2.4 3.9h0m2.6 -0.1h0m0 -4.4h0m35.7 2.1h0m7.2 -1.5h0m23.3 -0.3h0m9.9 2h0m8.5 -0.1h0m7.6 -1h0m55.3 1.9h0m-207.8 2.9h0m21.2 3.3h0m25.5 0.3h0m3.8 -2.5h0m11.5 0.8h0m4.2 -0.7h0m5 2h0m21.6 -3.4h0m20.4 1.7h0m28 1.8h0m24.6 -2.1h0m6.8 3.2h0m0.9 -4.5h0m15.1 2.2h0m20.7 3.2h0m-213.8 2.4h0m1.7 1.2h0m0.4 -2.7h0m7 1.7h0m13.5 -2.5h0m6.9 3.2h0m32 -2.4h0m16 3h0m0.9 0.8h0m2.4 -1.7h0m21 2.2h0m8.7 0.1h0m2.1 0h0m2.8 -2.3h0m2 -2h0m2.6 1.9h0m1.5 -2.3h0m7.6 5h0m5.1 -4.4h0m1.8 3.4h0m51 -2.2h0m8.5 -2.1h0m-193.7 7.9h0m11.8 -2.2h0m9.3 3.5h0m18.1 0h0m4.6 -2h0m38.1 2.8h0m6.9 1.6h0m2.3 -1.3h0m1.3 -1.2h0m3 1.2h0m15.4 -0.5h0m50.1 0.4h0m29.8 -2.3h0m2.8 3.3h0m14.4 -4.3h0m-216.6 5.2h0m52.7 4.9h0m4.5 0.2h0m21.4 -2.7h0m5 -0.7h0m28.4 -1.3h0m14 -0.1h0m12.6 1.9h0m4.5 2.3h0m22.9 -0.9h0m23.1 -2.1h0m16.1 -1.2h0m15.6 1.5h0m2.2 0.3h0m-204.8 4.9h0m16.4 0.1h0m30.7 1.2h0m13 1.4h0m11 1.6h0m5.1 -5.3h0m5.5 1.1h0m3.3 0.3h0m58.4 -0.2h0m4.1 1.7h0m9.1 -2.2h0m14.1 0.7h0m0.5 2.3h0m4.1 1.1h0m8.3 0.6h0m7.9 -5h0m0.6 4.8h0m-194.7 6.2h0m0.1 -4.6h0m14.9 1.4h0m36.7 -0.5h0m18.8 3.9h0m8 -4.7h0m18.5 1.1h0m7.2 1.6h0m9.3 -2.5h0m10.6 2.7h0m2.3 0.9h0m35.3 0.8h0m8.6 -0.7h0m34.6 -3h0m6.8 1.9h0m0.4 -2h0m0.2 -2h0m-230.1 10.3h0m2.5 -1h0m2.1 -2.2h0m7.1 4.5h0m72.9 -1h0m1.2 -4.3h0m17.8 2.2h0m16 -1.6h0m2.9 2.2h0m4 1.6h0m3.1 0.8h0m15.7 -3.4h0m6 2.3h0m60 0.7h0m3 0h0m-207.5 4h0m32.5 -1.8h0m18.7 0.8h0m37 2.4h0m35.9 1.1h0m4.1 -4h0m21.1 1.7h0m7.2 -1.4h0m36.7 1.3h0m7 2.6h0m5.1 -2.8h0m-214.6 4.5h0m20.3 1.4h0m2.4 -0.1h0m28.1 -0.1h0m38.5 -2.4h0m0.3 2.1h0m10 0.3h0m31.5 2.8h0m4.9 -3.3h0m12.3 2.1h0m15.1 -1.9h0m4.4 2.1h0m0.8 -1.7h0m10.5 -0.6h0m12.7 0.5h0m2.2 0.2h0m6.2 -2.1h0m15.9 4h0m-213.9 1.5h0m26.3 3.7h0m10 -0.6h0m23.9 -3h0m1.6 0.1h0m5.6 1.1h0m33.3 3.8h0m3.1 -3h0m11.9 -1h0m8 1h0m2.4 3.4h0m15.2 -2.4h0m19.4 -2.2h0m2.5 2.7h0m16.6 1.7h0m6.5 -2.9h0m2.6 0.8h0m7.7 -0.8h0m2.1 -1.9h0m1.2 4h0m12.2 -3.4h0m9.5 -0.1h0m-214.8 9.7h0m4.4 -3.8h0m28.6 0h0m20.6 3h0m1.5 0.1h0m3.3 -1.8h0m8.9 -0.5h0m3.9 1.9h0m8 0.3h0m19.5 0.2h0m26.4 -2h0m8.5 -1.1h0m13.8 -1.3h0m4 1.2h0m1 -1.1h0m16 2h0m15.4 -0.7h0m3.2 2.8h0m1.5 -4.1h0m9.5 1h0m-196.9 9.1h0m8.8 -1.6h0m1.2 0.3h0m43 -0.8h0m24.9 2.3h0m42.9 1h0m13.5 -5.3h0m18.9 2.5h0m6.4 2.6h0m2.7 -5.3h0m2.1 4.6h0m17.4 -4.6h0m5.7 5.1h0m9.3 -0.3h0m-202.2 3.3h0m7.1 -0.7h0m5.3 0.1h0m3.7 1.8h0m5 2.3h0m6.4 -2.6h0m9.4 1.1h0m7.7 -0.4h0m3.2 -0.3h0m2.5 0.3h0m2.8 0.7h0m9.2 -2.9h0m0.7 4.2h0m1.7 -0.4h0m16.6 -2h0m8.9 -2.6h0m4.3 2.3h0m3.9 -0.9h0m21.1 1.1h0m2.7 0.9h0m23.5 -3.2h0m3.9 0.3h0m6.3 3.2h0m23 -1.2h0m5.2 0.5h0m2.3 -2.6h0m9.1 1h0m-190.7 6.8h0m0.5 -2.5h0m53.9 -0.4h0m16.1 4.2h0m2.4 0.3h0m5.8 -1.5h0m1 -1h0m51.7 1.1h0m9.6 -2.7h0m12.6 3.6h0m2.2 -3.7h0m0.3 5.1h0m3 -3.8h0m6.3 2.7h0m6.8 -0.1h0m32 -3.6h0m9.7 1.9h0m-213.6 8.3h0m13.3 -1.8h0m3.1 -2.1h0m28.8 2.6h0m9.4 2.4h0m27.6 -5.5h0m12.1 3h0m27.8 2.2h0m76 -1.9h0m7.9 0h0m-197.9 7.3h0m35 -1.6h0m0.2 -1.5h0m11.3 2.1h0m9.1 1.7h0m7.9 -2.2h0m22.9 1h0m1.7 0.4h0m11.9 -4.8h0m6.5 4.6h0m7.3 1h0m18.3 -3.1h0m8.1 0.7h0m11.8 -3.1h0m3.3 1.4h0m1.6 0.2h0m8.8 2h0m3.6 -1.3h0m8 1.6h0m4.5 -1.7h0m10.3 -2.1h0m11.7 0h0m3.2 3.8h0m-190.4 2h0m57.4 2.3h0m44.3 0.2h0m4.7 -1.7h0m2.3 -0.2h0m6.2 3.8h0m0.6 -4h0m15.1 4.5h0m3.1 -0.6h0m14.1 -1h0m17.9 1.2h0m3.2 -2.1h0m7.9 -1.9h0m9 3.8h0m3.4 -3.5h0m-184.3 5.8h0m6.2 1.2h0m9.1 3.9h0m22.2 -2.1h0m6.5 -2.5h0m11.6 1.7h0m16.1 -1.2h0m18 2.7h0m7.5 -3.2h0m6.9 4.7h0m3.7 -3h0m13.8 0.1h0m2 -1.6h0m3.2 2.7h0m6 -2.4h0m21 0.1h0m20.5 1.2h0m-173.7 7.1h0m8.5 -1.2h0m51.1 0h0m4.5 1.6h0m59.4 0.7h0m13.1 -4.5h0m7.9 1.4h0m2.4 2.8h0m17.5 -3.2h0m9.2 3.1h0m-139.9 6.4h0m4.9 -4.5h0m4.3 2.3h0m39.2 1.8h0m11.2 -1.7h0m52.6 -3h0m-116.9 7.5h0m46.9 -0.6h0m15.1 -0.8h0m31.8 -0.2h0m4.8 0.3h0m3.6 -0.3h0m30.7 1.4h0" stroke="#985e5a" stroke-width="2.15" stroke-linecap="round" fill="none"/><path d="M0 0m77.9 1.3h0m54.3 -0.1h0m4.2 0.5h0m24.2 -0.4h0m-118.5 4.8h0m11.8 -2.1h0m11.5 3.3h0m2.7 0.8h0m13.6 -2.3h0m21.4 1.8h0m8.3 -1.6h0m11.2 0.3h0m6.9 -2.2h0m18.5 2.3h0m30.8 -1.4h0m15.8 3.6h0m-161.1 5.9h0m27.3 -1.3h0m12.2 -0.7h0m24.4 -2.6h0m2.3 3.1h0m18.7 0.4h0m28.1 -0.1h0m8 -0.5h0m19.5 -0.5h0m10.6 0.4h0m11.7 0.3h0m-162.6 5.7h0m27.6 1.5h0m1.5 -2.8h0m24.1 -2.3h0m13.4 3.7h0m1.3 0.1h0m72.5 -1.2h0m4.7 1.7h0m2.2 -0.5h0m6.6 -1.3h0m6.3 -0.1h0m11.2 1.6h0m-184 7.1h0m3.8 0.7h0m13.3 -2.4h0m6.1 0h0m16.9 -1.1h0m9.7 -0.8h0m18.3 -1.3h0m3.5 5.3h0m17.1 -3h0m2.5 1.1h0m4.5 -2.8h0m8.1 1.8h0m13.5 2.5h0m2.8 -1.8h0m18.5 1.3h0m16.4 -3.3h0m10.6 2.3h0m2.6 1h0m21.7 -3.4h0m-189.4 6.4h0m7 3.9h0m0.1 -1.4h0m18.1 -0.3h0m18.3 -2.7h0m3.2 0.1h0m2.3 2.9h0m32.4 -0.7h0m10.8 -1.3h0m25.6 3.7h0m15.9 0h0m6.6 -1.3h0m11.2 -0.3h0m2.9 -4.3h0m4.3 1.7h0m6.3 -0.3h0m10.4 1.8h0m2.7 1.7h0m-177.3 3.2h0m10.5 0.1h0m4.7 0.8h0m42.3 0.2h0m0.2 1.2h0m4.5 -1.8h0m8 2.7h0m14.8 -5h0m4 3.9h0m6.5 0.8h0m3.2 -2.4h0m25.2 -2.1h0m11 4h0m14.7 0.7h0m10.9 -3.2h0m22.6 2.4h0m5.2 -1.7h0m7 2h0m-204.4 5.4h0m5.8 -2.6h0m5.9 3.7h0m17.7 -4.5h0m38.2 3.2h0m7.7 -2h0m4.1 -0.6h0m32.7 4.2h0m0.5 -1.1h0m5.7 1.3h0m3.5 -0.1h0m8.5 -0.3h0m14.8 -3.3h0m17.6 0h0m7.7 -0.2h0m0.9 4.2h0m2.2 -4.2h0m7.7 -0.2h0m8.3 -0.9h0m5.1 5h0m2.9 -4h0m1.7 3.4h0m-200.6 1.1h0m12.1 3.8h0m11.6 -2.6h0m67 0h0m35 1.1h0m29.2 -1.1h0m1.8 1.1h0m9.1 0.2h0m2.8 0.1h0m44.5 1.3h0m3.2 -1.5h0m-220.4 9.2h0m27.2 -2.9h0m9.8 -1.6h0m4.3 4.5h0m3.2 -0.3h0m63.9 -2.2h0m33.8 -0.9h0m10.5 1.2h0m22 0.2h0m-178.3 6.5h0m4 -2.9h0m11.1 1.9h0m11.3 -1.8h0m9.8 2.6h0m22.1 1.8h0m8.1 -4.4h0m6.7 -0.2h0m16.6 0.8h0m41 1.4h0m8.8 2.1h0m0.1 -0.8h0m0.1 -3.7h0m13 0.2h0m7.9 1.1h0m17.4 -1.4h0m5.2 0.6h0m2.2 4.1h0m2.7 -3.9h0m-177.3 5.2h0m11.9 1.2h0m29.7 -1.9h0m6.9 2.4h0m31.3 -0.4h0m9.2 2.5h0m2.6 -3.7h0m5.5 1.6h0m8.4 -2.4h0m11.9 2.4h0m27.2 0.6h0m1.7 -3.3h0m13.1 0.4h0m22.7 5.1h0m8.7 -3.6h0m0.2 3.4h0m2.9 -2.7h0m-205.9 4.9h0m1 2.1h0m4.4 -1.8h0m13.5 -0.6h0m9.4 4.3h0m16.4 -1.8h0m13.7 -0.8h0m18.3 0.3h0m16.1 -2.4h0m28.9 2.7h0m12.5 -2.9h0m5.1 0.7h0m4.5 0.5h0m1.4 -1.4h0m30.1 2.7h0m17.8 -2.3h0m33.2 3.4h0m-213.9 3.1h0m1.5 2.4h0m25.5 1.5h0m25.3 -5.1h0m4.2 3.6h0m32.7 -1.6h0m4.1 2.9h0m5.3 -3.1h0m8.5 2.1h0m4.6 1.9h0m9.5 -1h0m32.6 -3.3h0m39 1.2h0m2.4 1.3h0m15.7 0.5h0m-219.7 1.7h0m5.4 5h0m1.2 -4.3h0m10.6 1.4h0m3 3.1h0m6.9 -2.1h0m29.3 -0.6h0m20.7 -1.5h0m14.4 2.4h0m22 2.2h0m46.6 0h0m7.6 -2.8h0m5.9 0h0m7.4 -2.6h0m32.3 -0.1h0m4.3 5.4h0m5 -0.1h0m-218.1 2h0m15.7 2.9h0m3.4 -1.5h0m14.2 2.5h0m4.9 0.3h0m4.8 -1.7h0m19.8 -2.8h0m2.4 -1.3h0m33.4 5.5h0m2.5 -4.8h0m21.7 2.5h0m5.9 1h0m24.5 -4.3h0m0.4 3.8h0m55.7 0.1h0m4.3 -2.5h0m-197.7 9.1h0m1.9 -3.8h0m40.7 2h0m3.2 -0.7h0m35.8 3.2h0m5.9 -2.6h0m21.7 -2.5h0m9.8 2.6h0m10 1.4h0m2.3 -1h0m13.3 1.4h0m1.7 -0.6h0m0.1 -1.9h0m4.7 0.8h0m5.1 -1.9h0m24.7 -0.9h0m2.7 2.7h0m7.1 -2.2h0m11.7 -0.1h0m-209.5 9.3h0m18.9 -3.3h0m5.6 -0.2h0m29.7 2.4h0m12.8 -2h0m1.6 3.2h0m14.5 1.5h0m1.6 -2.2h0m3.9 0.5h0m19.8 -3.2h0m20.5 3h0m6.7 2.3h0m17.8 -2h0m27.9 -0.3h0m6.3 -2.2h0m7 1.8h0m-193.4 5.1h0m19.8 1.9h0m4.2 -3.6h0m7.4 3.3h0m50.3 0.9h0m12.8 -2.3h0m2.3 3.7h0m3.5 -1.1h0m29.1 -0.9h0m2.1 0h0m7.1 -2.4h0m4.9 -0.3h0m2.3 -1.1h0m36 1.3h0m1.2 2.2h0m1.7 -1.7h0m3.2 -2h0m8.6 4.3h0m10.6 -4.2h0m4.8 2.3h0m-229.7 8.7h0m26.2 0.7h0m45.4 -0.3h0m2.7 -3h0m4.4 2.6h0m13.7 -3.9h0m6.4 3.3h0m5.5 -1.7h0m7.1 1.9h0m10.9 1.2h0m1.5 -0.8h0m4.6 -4h0m23.2 3.4h0m4.6 -1.3h0m10.2 -2.7h0m10.2 -0.1h0m12.8 2.3h0m10.9 -0.4h0m1.5 -1.8h0m0.2 4.2h0m2.3 -1.8h0m3.4 2.3h0m3.6 -4.1h0m7.4 0.1h0m-216.8 10.1h0m11.3 -1h0m28.9 1h0m15.9 -2h0m73.7 -2.2h0m29.9 -0.2h0m6.8 2.8h0m22.4 -0.8h0m3.4 2.8h0m5.9 -0.3h0m20.5 -0.9h0m9 -2.8h0m-200.3 9.6h0m8 -5.2h0m15.5 3.8h0m2.9 -0.9h0m5.9 -0.6h0m8 2.9h0m68.2 -0.6h0m0.6 -3.9h0m9 2.3h0m8.6 -0.1h0m11.9 1h0m1.7 -3.6h0m6.1 3.9h0m4.4 -2.5h0m18.3 3.1h0m19.7 -1.8h0m9.1 -1h0m-213.5 9.6h0m8.7 -2.6h0m2.6 -1.9h0m18.9 1.9h0m23.7 -1.9h0m3.8 4.7h0m14.1 -3.5h0m6.3 -1h0m2 0h0m43.9 -0.7h0m2.9 4.2h0m8.2 -4.7h0m4.7 2.7h0m1 3h0m16 -5.3h0m17.7 4.9h0m3.3 -4.9h0m8.7 5.2h0m4 -0.6h0m4.6 0.7h0m5.5 -4.7h0m4.7 0.2h0m-201 6.5h0m21 2.4h0m7.5 -2.4h0m12.9 1.9h0m4.7 2h0m19.6 -0.9h0m4 0.9h0m9.1 -0.9h0m7.6 1.1h0m6.4 -1.9h0m16.1 -2.4h0m7.4 0.4h0m25.4 2.6h0m39.8 1h0m19.2 -1.9h0m-195.9 2.4h0m9 4.3h0m6.7 -1.7h0m4.7 0.3h0m2.6 0h0m25 -0.2h0m5.8 1.8h0m6.5 -1.5h0m9.4 -2.2h0m1.4 -0.6h0m12.7 0.3h0m13.2 1.3h0m4.8 3.2h0m7.3 -5.1h0m25.4 0.7h0m0.9 1.6h0m7 -1.6h0m5.1 3.7h0m7.6 -3.7h0m3.4 1.7h0m33 3.4h0m0 -5.8h0m-197.4 7.8h0m22.1 1.5h0m58.1 0h0m7.2 1.9h0m29.3 -1.7h0m27.1 -0.6h0m9.7 2.7h0m13.2 -4.8h0m2.8 1.9h0m1.6 -1.7h0m3.2 4.3h0m6.7 -0.2h0m2.2 -2.1h0m16.5 -1.2h0m-180.4 5.8h0m5.1 -1.5h0m32.6 4.4h0m1.6 -4.3h0m7.9 4.1h0m18.4 -3.7h0m13.2 4.3h0m14.1 -4.9h0m6 4.5h0m7.5 -2.1h0m9.8 -2h0m19.4 1.3h0m3.5 0.4h0m10.5 -1.8h0m3.2 4.3h0m4.9 -0.9h0m15.3 1.5h0m-177.1 6.1h0m4.6 -4.5h0m57.2 2.8h0m8 -1.3h0m28.8 3.5h0m14.3 -0.2h0m1.7 -4.8h0m9.5 -0.3h0m6.7 3.4h0m2.2 -1.2h0m14.4 2.1h0m30.2 -4.1h0m-182.8 6.2h0m30.3 0.3h0m67.9 -0.1h0m17.9 0.8h0m35.9 -0.7h0" stroke="#864c50" stroke-width="1.85" stroke-linecap="round" fill="none"/><path d="M0 0m80.1 1.8h0m24 -0.4h0m57.3 -0.1h0m9.6 -0.5h0m-109.3 5.4h0m33.7 -1h0m13.1 0.1h0m12.3 -2h0m3 4.5h0m29.1 -2.5h0m9.5 -1.1h0m1.9 1.1h0m4.1 3.5h0m-128.8 1.5h0m28.2 4.1h0m27.6 -4.8h0m14.1 0.9h0m20.6 0.6h0m3.8 0.8h0m1 -2h0m1.4 5h0m0.6 -5.1h0m6.1 1h0m32.1 -0.7h0m3.3 2.8h0m2.6 -1.8h0m4.4 -1.2h0m-140.8 5.5h0m25.5 3.9h0m11.5 -1.7h0m11.6 2.7h0m20.3 -3.2h0m7.5 -1.4h0m6.4 3.3h0m6.5 -1.7h0m16.1 2.1h0m9.1 0.7h0m1.6 -2.4h0m-109.7 5.9h0m23.3 2.4h0m2.1 -4.9h0m27.9 2.7h0m25.1 -2.5h0m4.7 2.8h0m10.2 -2.3h0m8.3 4.4h0m4.4 -0.5h0m32.6 -2.3h0m-158 7.8h0m2 -0.4h0m2.4 -0.4h0m22.3 1.4h0m28.1 -2.9h0m32.3 -0.8h0m17.7 0.9h0m11.4 1.6h0m7.6 -3.4h0m4.6 4.3h0m15.6 0h0m10.1 1.2h0m11.1 -3.3h0m-174.7 8.6h0m1.6 -4.2h0m22.7 2.6h0m19 1.8h0m2.3 -0.5h0m9.6 -1.3h0m8.3 -1.2h0m2.7 -1.1h0m16.1 1.1h0m5.3 2.6h0m27.1 0h0m16.8 -2.6h0m-143.2 8.8h0m4.2 -3.4h0m1.9 -1.1h0m4.7 0.7h0m0.9 2.7h0m11.3 -2.4h0m22.5 2.2h0m5.4 -0.3h0m2.6 0.8h0m15.1 -2.9h0m16.4 2.1h0m8.5 -1.4h0m24 2.1h0m27.9 -3.5h0m36.2 3.4h0m4.8 -1.9h0m3.7 2.9h0m3.8 -1.3h0m2.2 0.6h0m3.3 1.6h0m-181.1 1.5h0m75.8 2.8h0m15.7 -3.9h0m44.5 4.8h0m3.6 -1.1h0m26.4 0.5h0m24.9 -2.3h0m-190.8 5.4h0m15.5 1.1h0m74.3 -2h0m12.9 0.2h0m10.1 2.1h0m1.6 -2.4h0m6.9 0.7h0m5.5 3.8h0m4.3 -0.3h0m0.7 -4.8h0m3.6 0.2h0m4.8 3.5h0m0.8 0.9h0m8.5 1.3h0m13.5 -4.5h0m20.5 -0.5h0m-206 8.5h0m3.9 -1.8h0m2.4 0h0m17.9 2.6h0m25.2 -0.1h0m3.2 -0.9h0m13.3 -0.9h0m6.7 3.5h0m7.1 0h0m7.2 -2.6h0m16.8 -2.3h0m11.5 1.3h0m17.6 2.2h0m6.8 -0.9h0m29.6 2.4h0m21.1 -4.8h0m6.6 3.4h0m2.6 0h0m-201.6 1.7h0m8.1 5.3h0m4.6 -5.4h0m49.1 0.2h0m8.5 5.3h0m52.6 0.1h0m33 -1.6h0m38.2 -1.1h0m18.2 -2.6h0m3.9 1.8h0m8.3 2.8h0m4.3 -4.6h0m-206.7 6.8h0m9.1 4.5h0m14.1 -4.9h0m39.3 4.4h0m0.2 -4.5h0m23.2 2.7h0m1.5 1.9h0m12.3 -4.4h0m6.6 -0.1h0m5.9 2.7h0m14.3 -1.9h0m16.7 4.4h0m14.9 -0.9h0m14.9 -4.5h0m9.1 3h0m-205.4 8.4h0m0.5 -2.3h0m15.8 1h0m0.5 -2h0m9.8 -0.1h0m10.8 1.8h0m3 -3.9h0m0.8 4.2h0m3.1 -2.8h0m45.1 2h0m78.6 -2.3h0m11.6 0.1h0m31 0.6h0m10.2 -0.8h0m-157.9 9.1h0m8 -1.4h0m19.1 1.6h0m8.8 -1.3h0m10 2.2h0m31.6 -1.9h0m56.2 1.4h0m3.6 0.2h0m3.4 -4.8h0m1.8 2h0m-203.1 7.3h0m4.8 1.6h0m25.3 -3.8h0m12.2 1.5h0m4.5 1.4h0m47.2 -3.3h0m32.7 2.3h0m2.4 -2.3h0m6.4 2.7h0m55.3 1.4h0m34.6 -4.2h0m-195.4 8.1h0m0.1 -2.8h0m3.3 4.5h0m26.7 -3.3h0m32 2.7h0m4.7 0.2h0m3.4 0.2h0m17.2 -3h0m21.3 1.2h0m8.2 -0.2h0m2.7 -2.6h0m4.9 4.3h0m16.1 -4.2h0m43 4.7h0m3.2 -3.1h0m0.4 2.1h0m-218.6 7.5h0m17.2 -4.2h0m7.8 -1h0m1.6 4.6h0m4.4 -3.3h0m1.2 2.1h0m1.2 -0.9h0m25.4 2.6h0m2.5 0.4h0m5.5 -1.6h0m20 0.9h0m18.8 -0.1h0m6.4 -0.1h0m20.5 -1.9h0m4.5 -2.3h0m28.3 0.8h0m7.1 -0.9h0m0.4 2.4h0m4.5 2.6h0m1.4 -4.2h0m8.6 4.2h0m5.3 -5.1h0m4.3 4.5h0m11.2 0.7h0m21 -1.9h0m-230.1 3.4h0m9.4 3.4h0m0.8 -2.8h0m4.1 0.4h0m0.9 1.5h0m6.9 2h0m1.3 -5.4h0m7.1 3.2h0m16.4 0.2h0m17.9 1h0m8.8 -0.1h0m4.5 -2.4h0m12.1 -0.7h0m4.5 1.2h0m14.5 2h0m24.7 -2h0m22.3 2h0m25.4 -2.9h0m1 4.1h0m3.7 0h0m16.8 -2.3h0m6.3 2.3h0m-204.7 5.7h0m23.6 -2.5h0m0.2 -2.4h0m2.6 2.8h0m13.7 1.2h0m13.1 -4.5h0m1.7 0h0m14.4 4.7h0m6.8 -0.1h0m18.7 -2.3h0m25.9 -1.3h0m12.4 3.6h0m5 -2.7h0m87.2 0.6h0m-213.2 6.8h0m18.5 1.9h0m31.7 -0.9h0m9.2 0.7h0m7.7 -3.2h0m9 3.9h0m4.9 -4.6h0m10.6 2.1h0m11.6 0.2h0m46.7 -0.5h0m4.3 1h0m1.3 -1h0m12.8 0.1h0m7.1 -1.1h0m3.6 3.8h0m2.3 -1.4h0m4.6 -0.3h0m4.3 1.5h0m-188.7 5.8h0m2.7 -5.3h0m0.7 5.2h0m39.1 -0.8h0m11.6 -2.6h0m26.9 0.1h0m18 1.8h0m3.5 -3.3h0m1.3 -0.1h0m14.3 -0.1h0m22.3 -0.2h0m23 4.5h0m5.1 -4.4h0m15.5 2.7h0m0.1 1.7h0m14.2 -4h0m-205.4 10.8h0m4.8 -4.8h0m10.4 3.4h0m43.2 1.4h0m1.7 -2h0m11.3 2.1h0m18.6 -0.7h0m6.6 0.9h0m19.6 -0.7h0m3.9 -1.9h0m5.5 -1.9h0m8.7 0.1h0m15.5 0.2h0m0.1 1.6h0m17.3 -2.8h0m32.1 0.2h0m-168.3 6.9h0m16.1 0.5h0m35.8 2.3h0m14.7 -0.7h0m9.2 -2.3h0m1.9 1.1h0m26.1 2h0m37.8 1.5h0m7.1 -3.3h0m3.2 -0.4h0m24.9 3.4h0m-197.6 0.8h0m6.5 -0.3h0m22.9 5.7h0m9.3 -4.8h0m2 2.1h0m33.6 1.2h0m9.1 -2.4h0m8.9 0.3h0m6.3 2.8h0m0.2 -4.1h0m4.6 -0.7h0m13.7 4.1h0m2.5 -2.3h0m4 2.7h0m5.8 -2.4h0m5.6 3.4h0m5.5 -3.5h0m3.5 0.5h0m28.4 0h0m10.8 3h0m-189.8 2.3h0m15.3 0h0m27.4 3.6h0m28.3 -2.1h0m43.1 0.3h0m73.9 -2.8h0m-172 10h0m3.7 -0.4h0m18.5 -2.9h0m0.1 3h0m6.8 0.3h0m14.6 -2.1h0m20.6 2.4h0m4 -1.5h0m6.9 -0.7h0m0.7 1.2h0m15.7 -3.9h0m5.1 2.6h0m10.8 -0.7h0m7.5 0.6h0m18.6 0.9h0m13.4 -2h0m0.1 2.9h0m-126.3 6.2h0m10.4 -4h0m1.2 2.3h0m1.4 -0.7h0m22.7 3.1h0m1.1 -3.2h0m11.8 1.1h0m12.6 1.7h0m4.7 0.2h0m7.1 -2h0m2.5 -0.7h0m8.4 -1.9h0m12.4 4.4h0m20.6 -1.6h0m14.6 -0.2h0m6.6 1.8h0m4.4 -2h0m1.8 -0.1h0m2.1 -1.5h0m2.7 3.1h0" stroke="#8e5452" stroke-width="2.15" stroke-linecap="round" fill="none"/><path d="M0 0m84.3 1.6h0m30 0.1h0m32.5 -0.7h0m34.2 1.9h0m-134 5.8h0m22.4 -3.1h0m31.1 -0.2h0m6.4 0.9h0m5.5 -2.7h0m4.5 0.2h0m1.8 -0.5h0m6.2 2.5h0m21.4 -0.8h0m15.5 3.4h0m4.5 -1h0m18.7 -4.3h0m2.8 1.1h0m-145 9.1h0m2.8 -0.2h0m8.3 -2.3h0m4.9 1h0m36.2 2.7h0m0.9 -1.5h0m36.5 -2h0m23.2 3.2h0m9.2 -3.9h0m27 0.1h0m3 2.3h0m4.6 -2.1h0m-156.3 4.8h0m2.1 4.4h0m0.3 -3h0m31.7 -0.3h0m15.3 1.5h0m4.7 -0.2h0m5 -0.4h0m7.3 0.3h0m27.5 1.3h0m6.3 -0.2h0m2.3 -1.1h0m3.5 -0.6h0m8.1 3.1h0m6.5 -0.8h0m16 -1.6h0m5.7 1.4h0m2.1 1.1h0m2.8 -0.5h0m-162 2.2h0m16.6 -0.3h0m4.2 2.7h0m27.4 2h0m21 -3h0m2.5 1h0m7.3 0.2h0m11.5 -3.2h0m2.6 4.5h0m2.1 -4.1h0m2.4 -0.2h0m6 1.7h0m5.7 3.3h0m20.8 -4.2h0m4 2h0m4.3 -2.2h0m16 0.3h0m6.6 -0.5h0m2.2 4.1h0m7.6 -2h0m-145.5 3h0m25.9 5.8h0m13.8 -4.3h0m6.6 0.3h0m9.4 -0.5h0m2.3 -0.2h0m7.6 3.6h0m3.2 -1.4h0m60.8 -1.7h0m9.5 0.6h0m2 1.9h0m13.5 -0.6h0m2.3 -3.4h0m-184.2 6.1h0m4.5 0h0m17.1 4h0m18.4 -1.2h0m6.6 0.1h0m0.2 -2.9h0m15.8 2h0m11.9 2.3h0m13.2 -4.4h0m6.3 0.2h0m11.5 4.8h0m30.7 -2.1h0m15.3 1.5h0m9 -2.2h0m2.2 -1.5h0m24 -0.4h0m-181.6 6.8h0m3.8 0.2h0m9.2 0.4h0m7 1.4h0m29.9 -1.9h0m14.9 0.2h0m3.2 -0.6h0m12 3h0m28.4 -0.5h0m23 -2.4h0m1.1 0.6h0m3.1 2h0m11 -2h0m3.2 4h0m11.6 -4.2h0m-182.6 9.2h0m17 -3.3h0m15.4 2.6h0m16.8 0.5h0m11.2 -2.2h0m4.4 0.3h0m38.9 2.2h0m13.7 -2.4h0m0.5 2.7h0m8.4 -5.1h0m4.5 0.4h0m19.7 3.4h0m3 -1h0m60.5 -2.1h0m2.8 0.9h0m2.3 3h0m-200.3 4.7h0m22.8 -0.4h0m0.3 -1.5h0m11.6 -1.1h0m4.1 1h0m14.3 3.5h0m1.2 -2.6h0m5 0.4h0m13.8 0h0m13.3 -2.1h0m3 2.2h0m9.3 2.7h0m9.9 0.4h0m4.1 -5.1h0m4.3 4.2h0m11.7 -1.5h0m14.1 -3.2h0m15.3 0.8h0m22.8 2.6h0m4.8 -3.4h0m0.4 4.7h0m0.6 -2.5h0m0.8 2.3h0m2.9 -1.7h0m-214.4 5.1h0m36.9 3.4h0m0.7 -4.4h0m25.8 2.1h0m9.4 1.4h0m10.4 -3.2h0m65.5 -1.3h0m13.9 4.2h0m2.1 1.5h0m11.7 -1.6h0m22.3 -2.4h0m6.9 2.4h0m17.6 1.6h0m3.5 -2.1h0m-197.8 7.1h0m1.9 0.6h0m16.1 -2.8h0m18.2 0.6h0m23.8 -0.9h0m6.8 -1.8h0m24.5 1.4h0m0.8 -0.9h0m1.3 -0.1h0m11.8 2h0m14.2 -2.2h0m4 -0.3h0m5.6 1.5h0m1.2 2.4h0m2.7 -3.5h0m16.2 4.1h0m11.7 -0.6h0m22.8 -0.9h0m-195.9 7.6h0m17.2 0.7h0m0.9 -2.7h0m14.7 2.6h0m19.8 -5h0m24.1 5.3h0m52.1 -0.8h0m7.3 -0.2h0m60.3 0.1h0m12.6 -4.2h0m-224.8 6.6h0m4.9 3.4h0m0.3 -4.6h0m11.1 4.2h0m24.9 -0.8h0m7.7 -2h0m7.8 -1.3h0m0 4.8h0m6.1 -1.1h0m29.7 0.5h0m13.9 -3.2h0m31.4 1h0m29.3 -2h0m10 0.1h0m23.5 1.1h0m2.2 3.3h0m17.5 -4.6h0m-218.5 10.6h0m10 -2.4h0m7 2.8h0m48 -0.6h0m41.5 -0.8h0m2.1 -2.5h0m9.1 -1.1h0m8.8 4.6h0m12 -2.5h0m8.4 -0.2h0m21.1 3.3h0m9.5 -4h0m4.4 4.2h0m15.7 -3.1h0m12.7 -1.6h0m1.2 1.8h0m5.1 0.8h0m0.1 -2.5h0m4.8 -0.7h0m-225.1 11.7h0m61.3 -0.4h0m23.2 0.1h0m16.8 -2.5h0m48 -1.1h0m9.5 1.3h0m9.2 1.1h0m5.7 -0.6h0m28 2h0m17 -4.4h0m1.7 2.6h0m-179.3 3.7h0m16.6 0.6h0m45.5 0.3h0m22.5 2.1h0m7.2 0.6h0m39.2 -1.1h0m9.4 0.6h0m-175.9 4.7h0m21.8 -2.1h0m9.4 -1h0m11.1 5.5h0m47.9 -5.5h0m38.9 0.6h0m9.2 -0.3h0m14.4 3.3h0m25.6 1.9h0m19.4 -2.9h0m19.8 0.3h0m2 -0.7h0m4 -1.3h0m-193.3 7h0m21.9 0.2h0m14.8 3.4h0m7.7 -3.5h0m15.2 0h0m0.7 3.5h0m25.5 -4.4h0m0.4 -1.3h0m13.2 2.1h0m16.5 1.1h0m1.7 1.2h0m11.4 0h0m3.3 -2.6h0m13.4 2.2h0m16.1 -2.8h0m9.1 3.1h0m9.1 -2.6h0m-213.5 8.9h0m4 -2.5h0m0.1 -1.4h0m43 3.8h0m39.6 -4.6h0m4 1.1h0m3.3 1.3h0m4.8 2.3h0m6.6 0.5h0m1.7 -3.2h0m14 0.9h0m15.7 1.4h0m10.3 -3.6h0m4.7 4.1h0m4 -2.8h0m18.6 0.6h0m9.3 1.7h0m6.7 0h0m20.9 0.3h0m4.1 0.4h0m8.7 -0.6h0m-176.6 2.8h0m34.8 2.8h0m18.4 -1.3h0m7 -2.2h0m0.6 2.7h0m15.4 2h0m4.6 0h0m7.3 -3.2h0m40.8 1.5h0m20.8 -0.3h0m7.2 0.2h0m15.3 0.4h0m-199.7 6.8h0m20.8 -1.7h0m4.9 2.4h0m11.1 -4.8h0m4.2 4.6h0m7.3 -0.6h0m17.8 0.4h0m17.2 -2.5h0m4.6 -0.7h0m1.3 1h0m12.9 1.5h0m1.2 -2.6h0m13.6 0.1h0m2.6 2h0m12.4 -3.2h0m2.2 3.5h0m8.8 0.5h0m32.7 -2.7h0m17 2.8h0m3.2 -4.3h0m-195.7 10.5h0m15.5 0h0m7.4 -4.1h0m25.6 0.8h0m25.6 1.7h0m2 -2.7h0m3.7 4.6h0m0.4 -5.1h0m11.5 0.5h0m14 2.4h0m2.9 -2.2h0m20.2 -0.4h0m0.3 3.3h0m13.5 1.5h0m3 -1.3h0m4.4 0h0m10.8 1h0m4.3 -2.2h0m3.2 1h0m1.3 2h0m0.8 -2.4h0m6 -2h0m11.5 3.7h0m-190.2 4.7h0m50.3 0.3h0m0.5 -1.6h0m15.4 -0.7h0m56.2 1.5h0m32.4 -1.4h0m29.7 -0.3h0m7.2 0.5h0m-189.9 7.3h0m7.6 1.3h0m18.2 -1.2h0m1.5 -2.3h0m5.1 3.2h0m9 1h0m64.5 -0.5h0m16.8 -4.6h0m14.1 5.5h0m18 -3.5h0m14.1 -1.7h0m-170.8 6.2h0m0.9 4.5h0m17.1 0.4h0m11.9 -4h0m4.9 3.5h0m0.4 -2.3h0m11.3 1.5h0m1.8 1h0m9.4 -4.2h0m11.1 -0.3h0m11.5 2.5h0m17.2 -1.5h0m6 4h0m0.5 -5.3h0m47.7 3.3h0m14.7 -2h0m3.3 1.1h0m21.5 2.5h0m-188.1 2.4h0m3.8 2.1h0m20.4 -3.3h0m11.1 -0.7h0m26.1 3h0m2.5 -1.4h0m8.4 3.3h0m5.3 -1.8h0m16.1 2.1h0m3.8 -2.2h0m7.4 -1.2h0m41.2 3.2h0m18.1 -2h0m-160 4.5h0m8.7 1.2h0m36.3 0.2h0m9.7 -2.5h0m39.6 -0.3h0m9.5 1.2h0m33.6 -0.1h0m10.1 -0.1h0m5.8 0.4h0m4.6 -0.5h0m12.5 4.2h0m8 -1.9h0m-127.3 2.9h0m42.5 1.2h0m32.7 0.3h0m33.8 0.2h0m6.9 0h0" stroke="#864c50" stroke-width="2.15" stroke-linecap="round" fill="none"/><path d="M0 0m95.4 0.4h0m6.4 1.4h0m20.5 1h0m3.6 -2.2h0m24.6 -0.1h0m16 1.4h0m12.2 0.8h0m1.8 -2.2h0m-127.9 7.8h0m1.5 -2h0m4.7 -0.7h0m11.6 2.4h0m9.3 -4.3h0m5.1 1.3h0m8.9 2.2h0m38.6 -1.3h0m4.2 -1h0m0.7 -0.9h0m18 2.5h0m25.6 -0.4h0m1.4 -2h0m7.1 3.9h0m-96 1.9h0m8.5 5.1h0m3.1 -2.9h0m14.4 -1.5h0m1.4 1.3h0m2.3 -0.9h0m2.1 2.1h0m19.2 0.2h0m4.5 -1.5h0m8.5 3.2h0m16.5 -4.3h0m19.8 -0.6h0m-145.9 9.2h0m20.1 -2.5h0m15.7 2.1h0m2.9 -1.1h0m22.4 2.1h0m18.8 -2.9h0m9 -0.2h0m1.9 -0.4h0m2.7 0.1h0m-114.7 9.2h0m31.9 1.1h0m2.7 -0.5h0m27.2 -1.6h0m7.3 1.4h0m10.7 -3.6h0m0.8 4.2h0m2 -5.3h0m28.6 0.9h0m12.7 1.1h0m6.7 0h0m7.1 2.9h0m19 -2.9h0m16.5 -1.5h0m4.5 5.1h0m3.3 -5h0m6 4.4h0m-173.3 2.7h0m4.6 1.4h0m9.2 1h0m19.2 -1.2h0m10.1 1h0m10.3 1.3h0m3.4 -1.7h0m23.1 -2.4h0m5.5 1.8h0m30.3 -1h0m9 2.1h0m7.1 -2h0m5.5 -0.5h0m7.2 0.6h0m15.9 1.5h0m-185 4h0m8.9 2.9h0m8.5 -4.7h0m8.9 4h0m7.1 -1.6h0m2.6 2.3h0m0.4 -4h0m74.9 2.5h0m28.8 1.8h0m17.8 0.6h0m5.1 -5.5h0m3.5 4.9h0m4.6 -0.4h0m19.1 -1.6h0m-156.6 4.2h0m0.4 2h0m21.2 -1.5h0m1.9 3.6h0m40.7 -3.8h0m3 3.8h0m2.1 -3.5h0m2.3 0.8h0m20.4 -1.4h0m5.6 1.9h0m26.5 0h0m3.3 0.9h0m11.4 -1.4h0m11.5 0.5h0m14.8 0.2h0m-203.7 4.8h0m34.2 -1h0m6.6 3h0m0.3 -1.6h0m37.3 -0.8h0m2.5 0.3h0m8.5 2.1h0m9.1 -2h0m11.3 1.6h0m7.8 -3.5h0m2.1 4.1h0m7 -0.2h0m15.8 -4.2h0m3.7 0.3h0m10 4.7h0m7.4 -4.8h0m1.2 2.3h0m40.4 0.4h0m8 -0.3h0m-218.8 8.3h0m2.7 -3.4h0m20.3 3.4h0m26 -2.4h0m2 2.8h0m53.8 0h0m22.4 -0.1h0m1.7 0.7h0m5.1 -1.2h0m11.1 0.9h0m14.1 0.1h0m9.3 -0.7h0m0.5 -4h0m11.4 3.9h0m4.4 -4.7h0m10.6 2.1h0m17.4 -1.9h0m-182.7 7.4h0m5.6 -1h0m16.2 0.4h0m27.4 3h0m27.1 -4.1h0m2 1.5h0m23.4 0.3h0m11 1.8h0m44.3 -3.7h0m1.5 3.7h0m12.6 1.9h0m6.2 -1.3h0m3.5 -0.7h0m0.8 0.9h0m12.1 -2.6h0m-202.6 9h0m2.2 -4h0m2.3 -0.4h0m0.1 4.9h0m18.7 -0.9h0m34 -4.4h0m46.3 1.7h0m16.2 0.7h0m55.6 2.3h0m5.9 0.2h0m23.2 -2.4h0m-229.4 8.9h0m2.4 0h0m7 -1.6h0m25.8 -2.2h0m7.8 2h0m21.1 1.2h0m37.4 -1.4h0m4.5 -2h0m14.9 1.2h0m5.7 -2.2h0m26.5 3.5h0m35.7 -0.2h0m9.5 -1h0m6.8 0.5h0m16.1 -0.1h0m4.1 -0.5h0m-206.9 3.6h0m18.1 1h0m2.9 1.1h0m19.8 0.4h0m13.8 -1.4h0m10.1 -0.1h0m6.7 3.4h0m11.6 -2.5h0m15.3 2.6h0m3.6 0.1h0m1.7 -3.1h0m7 3.1h0m1.8 -0.2h0m15.8 -4.5h0m12 -0.3h0m6.5 3.6h0m14.6 1h0m15.2 -0.2h0m14.4 -1.5h0m9.6 1.7h0m-204.9 1.5h0m11 3.5h0m6.7 -3.4h0m5.2 2.3h0m3.9 3.5h0m9.8 -4.9h0m9.8 1h0m38.1 0.2h0m5.2 2.8h0m1.3 -3.9h0m39.6 -0.6h0m0.5 4.4h0m16 0.7h0m1.3 -2.4h0m11.5 -0.2h0m14.4 -2.1h0m37.4 -0.1h0m4.6 0.1h0m-225 5.8h0m6.7 1h0m15 1.8h0m73.7 -1.5h0m17.2 0.2h0m1.2 2.4h0m25.5 -2.6h0m4 -1.3h0m0.2 3.4h0m25.3 -1.9h0m4.5 3.1h0m8 -1.1h0m4.8 -3h0m2.1 0.3h0m17.2 1.5h0m3 -1.8h0m4.3 0.3h0m8.1 -0.7h0m1.9 0.5h0m-221.9 7.7h0m2.5 0h0m0.8 2.2h0m9.1 -1h0m8.2 -1.6h0m5 0.4h0m5.6 -0.7h0m26.5 1.6h0m20.9 0.3h0m13.8 -3.9h0m18.5 0.3h0m2.3 0.9h0m20.3 2.5h0m10.5 -1.5h0m13.7 1.5h0m34.2 -1.3h0m26.5 -0.5h0m-222.2 6.4h0m3.9 2.2h0m53 0.8h0m19.7 -1.7h0m3.7 -0.2h0m5.3 1.8h0m66.6 -2h0m15.1 1.7h0m8 -4.2h0m0.1 2.3h0m7.8 -2.7h0m32.7 -0.3h0m-214.2 7.9h0m4.3 0.5h0m9.4 1.6h0m12.2 -0.4h0m8.4 -3.9h0m5.2 4.2h0m46.8 -0.2h0m5.6 0.9h0m32.5 -1.2h0m6.4 2h0m7 -2.3h0m3.3 1.4h0m6.4 -2.2h0m13.2 1.2h0m39.1 -3.7h0m28.5 4.1h0m-218.6 4.8h0m7.5 1.5h0m31.3 -1.4h0m2.1 2.4h0m23.7 -2.8h0m1.9 -0.5h0m30.8 -2.2h0m17 3.2h0m7.6 1.3h0m13.7 0.2h0m0.1 -4.5h0m25 2h0m34.2 0.4h0m3.6 3.3h0m5.4 -3.6h0m5.2 2.5h0m9.5 -4.2h0m-190.8 6.9h0m14.2 0.2h0m9 -0.2h0m24.7 4h0m5.5 -1.3h0m23 -0.1h0m6.7 -2.2h0m0.9 -1.3h0m2.7 2.6h0m1.1 -2.6h0m8.2 2.9h0m5 0.8h0m42.1 1h0m13 -3.3h0m20.2 -1.2h0m-190.3 10.3h0m11.4 -1.3h0m11.3 -1.3h0m2.2 -2h0m10 1.5h0m13.2 2.1h0m9.5 0.1h0m1.6 1h0m30.3 -0.9h0m2.9 -4.4h0m11.5 2.9h0m34.3 -1.1h0m11.2 -1.1h0m23.7 0h0m-188.8 6h0m17.5 2.4h0m3.4 0.1h0m14.9 -0.3h0m7.6 -2.7h0m10.8 1.5h0m21.5 3.6h0m2.3 -4.1h0m6.8 4h0m25.2 -1.2h0m0.7 -3.4h0m1.7 2.4h0m25.4 -2.2h0m7.4 0.2h0m4.6 4.4h0m8.4 -4.6h0m12.1 -0.3h0m2.2 2.5h0m1.8 -2.8h0m14.7 0h0m-190.1 10.4h0m7.5 -3.1h0m32.5 2.3h0m3.7 0.1h0m2.8 -1.8h0m27.3 3.5h0m10.4 -1h0m19.4 1.2h0m8 -1.9h0m17.5 -1.8h0m19.5 0h0m15.7 1.6h0m5.8 0.6h0m1.3 -2.1h0m2 3.7h0m1.7 -2.5h0m15.9 -2h0m5.4 2.6h0m2.8 1.8h0m-194.7 0.8h0m58.1 4.4h0m5.2 -1.5h0m24.3 1.4h0m23.3 -1.7h0m3.3 -2.9h0m9.2 4.7h0m16.8 -2.7h0m10.3 1h0m6.6 -0.5h0m0.6 -1.9h0m4.3 4.4h0m20.7 -3.1h0m15.7 2.1h0m-182.1 4.7h0m1.1 2.6h0m8.8 -3.8h0m20.7 1.9h0m2.8 -0.2h0m1.7 -2.9h0m5.3 3.1h0m10.2 1.4h0m5.5 -3.3h0m29.9 0.2h0m2.3 1h0m3.6 -1.7h0m15.3 4.3h0m3.4 -3.6h0m9.5 1.5h0m2.8 -1.6h0m20.3 3.2h0m7 -4.1h0m8.9 4.9h0m4.2 -2.6h0m1 -1.4h0m1.6 -0.8h0m9.7 -0.1h0m1.6 -0.3h0m-188.4 7.9h0m21.4 -0.2h0m18 0.3h0m46.4 -0.8h0m9.4 2.4h0m6.7 -0.1h0m17.8 -4h0m3.1 2.4h0m12.4 -2.3h0m2.8 2.1h0m10.2 -0.6h0m29.7 3.5h0m-120 6.4h0m2.5 -4.2h0m5.9 -0.9h0m8.2 -0.4h0m1.1 5.1h0m41.8 -2.8h0m7.8 3.4h0m0.9 -4.3h0m1.5 1.5h0m13 -1.6h0m10.9 4.4h0m4.4 -0.8h0m3.6 -2h0m27.7 0.8h0m-78.1 4h0m19.5 -0.6h0m2.7 -0.1h0m15.4 0h0" stroke="#94586a" stroke-width="2.15" stroke-linecap="round" fill="none"/><path d="M0 0m80.3 0.9h0m49.3 0.6h0m22.5 0h0m-86.2 6.7h0m39.5 -3.2h0m11.4 0.3h0m14.7 1.4h0m3.4 1.1h0m3.3 0.4h0m11.3 -1h0m0.2 -2.9h0m8.9 0.4h0m13.2 1.9h0m19 -1.7h0m3 2.4h0m-48.4 5.3h0m24.4 0.5h0m9.2 0.6h0m11.7 -0.4h0m-102.7 5h0m28.6 -2.8h0m5.6 0.5h0m42.1 1.9h0m34.1 -1.8h0m-138.5 8.3h0m34.9 -0.1h0m2.1 -0.1h0m17.7 -2h0m12.1 0.4h0m4.3 -0.3h0m47.5 2.4h0m8.3 -3.1h0m5 5h0m-85.9 4.8h0m39.6 -0.7h0m2 -3.3h0m2 2.1h0m17 -1h0m26.3 1.6h0m17.2 -0.5h0m-68.9 5.9h0m4.7 1.2h0m14.7 -0.5h0m-86.9 5.7h0m46.1 -2.2h0m58.5 -0.5h0m0.3 5.2h0m25 -1.8h0m0.3 -2.5h0m14.4 -1h0m1.3 3.4h0m0.2 1.6h0m-44.5 1.6h0m4 2.3h0m37.5 -0.6h0m-38.2 6.5h0m41 0.2h0m-1.3 7.7h0m-211.4 6.9h0m3.6 -1.3h0m159.1 1.1h0m6 -4.2h0m23.7 3.3h0m2 -2.6h0m6.6 0.4h0m-203.9 7.6h0m25.7 1h0m166.6 -2h0m23.3 1.8h0m2.6 -2.9h0m11.8 4.1h0m-211.8 4.9h0m140.8 -0.7h0m12.3 -0.3h0m56.2 1h0m-205.9 1.9h0m168.1 0.2h0m2 4.2h0m12.6 -3.8h0m16.3 2.2h0m-197.9 7h0m154.4 0.5h0m18.4 -1h0m16.8 -2h0m-22.7 4.3h0m1.2 4.5h0m3.1 -1h0m12.9 0.2h0m-18.9 5.8h0m7.6 -3.7h0m6.1 4.5h0m7.1 -0.8h0m15.4 -1.9h0m-198 5.5h0m134.6 2h0m17.1 0.7h0m17.8 -2.8h0m16.1 2.6h0m2.7 2h0m6.8 0h0m3.6 -5h0m-16 10.6h0m8.5 10.3h0m-54.1 2.7h0m29.3 7.6h0m8.8 -0.4h0m10 7.4h0m-26.2 4.4h0" stroke="#7c4448" stroke-width="1.8" stroke-linecap="round" fill="none"/><path d="M0 0m99.2 0.5h0m77.3 0.1h0m-74.4 7.4h0m83 -0.9h0m-91.2 5.2h0m3.1 -1.8h0m25.8 -0.6h0m20.7 3.5h0m6.4 -4.2h0m1.9 1.6h0m35.1 3.1h0m14.9 -0.8h0m-73.5 5.4h0m1.7 -3.5h0m2.1 0.7h0m20.3 2.5h0m6.4 -2.6h0m27.3 0.9h0m10.6 2.8h0m-152.2 2.9h0m27.1 0.3h0m1.5 -0.6h0m12.5 -0.2h0m49.2 3.1h0m2.7 -1h0m9.6 1.5h0m0.2 -3.3h0m4.6 -0.4h0m18.3 0.6h0m2.2 1.4h0m3.2 1.2h0m5.6 1.9h0m14 -2.7h0m-123.4 7.4h0m41.9 -1.5h0m11.7 1.2h0m25.9 1.8h0m24.9 -5h0m10.1 0.4h0m16 1.8h0m-84.4 6.3h0m22.6 -3.2h0m8.5 0h0m21 2.4h0m39.4 1h0m7.3 -3.5h0m-20.7 11.7h0m5.4 -3.5h0m15.3 1.4h0m-65.3 4.4h0m4.8 1h0m34.2 -2.6h0m14.1 2.8h0m2 0.4h0m2.9 -0.2h0m-69.5 2.7h0m49.1 1.8h0m6.9 4h0m15 -0.8h0m-20.9 5.4h0m19.9 -2.9h0m13.9 3.3h0m4.4 -2.1h0m-209.5 4.5h0m169.3 0.5h0m8.7 -0.5h0m5.1 10.4h0m2.4 -5.7h0m0.6 4.9h0m6.3 -1.1h0m2.5 0.9h0m-20.5 3.8h0m12 1.5h0m1.7 -1.2h0m10.1 1.2h0m-212.3 7.5h0m171.6 -0.6h0m27.8 -0.7h0m8.3 0.3h0m0.6 -3.5h0m-202.5 8.4h0m2.4 0h0m7.1 1.3h0m154.9 0.2h0m3.3 -4.5h0m11.6 0.2h0m0.6 3.2h0m13.5 -1.8h0m4.2 -0.7h0m12.9 1.1h0m-202.3 5.1h0m2.4 0.2h0m161 3.2h0m20.4 -3.5h0m-192.2 7.6h0m173.3 -3.1h0m18.5 2h0m9.1 -1.4h0m-41.4 8.8h0m20.4 0.4h0m2.3 -2.4h0m3.7 -0.8h0m5.1 9.1h0m17.5 2.7h0m-28.5 5.8h0m-20.2 8.4h0m11 -1.7h0m11.1 4.1h0m-0.2 5.7h0" stroke="#844a50" stroke-width="2.1" stroke-linecap="round" fill="none"/><path d="M0 0m112 1.5h0m58.3 -0.7h0m7.5 0h0m-52.1 6.6h0m12.5 -3.5h0m6.2 0.7h0m-78.3 7.6h0m3.1 -2.1h0m10 2.8h0m46 0.7h0m3.3 -2.6h0m7.2 -0.5h0m56.7 2.1h0m-118.9 5.4h0m6.3 2.9h0m14.3 -4h0m8.9 2.9h0m12.1 -1.2h0m11.3 -3.2h0m0.3 2.8h0m43 -2.6h0m6 2.6h0m16.9 -1.7h0m5.5 2.7h0m-106.2 2.7h0m8.3 2.6h0m9.5 0.3h0m1.5 -0.2h0m9.2 -2.2h0m60.9 -0.9h0m2.5 3.1h0m5.7 -1.9h0m8.6 1.8h0m2.5 0.4h0m13.3 1.7h0m-113.6 1.7h0m2.8 1.4h0m8.9 -2.4h0m4.9 4.2h0m11.5 -3.6h0m4.4 4.5h0m5.6 -2.3h0m2.6 -2.1h0m26.4 4.9h0m8.1 -0.3h0m8.2 1.4h0m6.6 1.6h0m4.7 1.5h0m1.3 -3.4h0m5.6 0h0m9.3 -0.1h0m-117.8 7.6h0m66.8 0.2h0m17.4 0.9h0m15.9 0.4h0m2.7 -1h0m17 0.1h0m-66.1 9.2h0m19.3 -5.8h0m0 5.3h0m14.4 -2.9h0m9.5 0.3h0m2.7 0.2h0m4.9 0.5h0m23.3 -0.7h0m4.1 -0.2h0m-21.3 6.4h0m25.5 1.6h0m-51.3 1.9h0m11.9 -0.3h0m29.1 2.7h0m11.2 2.3h0m-45.4 5.7h0m4.4 -2.6h0m5.6 3.4h0m7.5 -0.8h0m16.8 0.8h0m4.6 -4.3h0m-211.7 9.5h0m160.4 0.4h0m35.3 -3h0m0.4 7.8h0m-203.8 2.7h0m170.6 0.6h0m12.5 0.1h0m29 3.9h0m5.9 -4.5h0m6.1 -0.1h0m-220.4 9.7h0m191.1 -3.8h0m14.8 1.5h0m16 2.3h0m-44 2.5h0m29.7 4h0m-20.7 1h0m24.1 1.2h0m-14.1 8.7h0m1.8 -0.9h0m14.2 0.9h0m-22.4 5.2h0m31.5 1.2h0m-28.8 5.2h0m12.6 -0.9h0m-27.2 5.9h0m17.3 -0.2h0m8.5 -2.1h0m-22.8 9.1h0m24.1 0.5h0m-18 13.5h0" stroke="#844a50" stroke-width="1.8" stroke-linecap="round" fill="none"/><path d="M0 0m146 2.2h0m9.3 -1.3h0m-84.1 3.3h0m5.8 -0.6h0m63 3.1h0m13.1 -1.7h0m4 1.5h0m9 -1.7h0m21.6 1.6h0m-85.3 7h0m6.9 -2.5h0m2.2 4h0m20.6 -2.7h0m5.8 -1.8h0m2.1 -0.5h0m8.9 5.1h0m8.3 -1.2h0m6.2 -3.1h0m8.8 1.7h0m9.3 1.2h0m-82 3.4h0m0.6 1.8h0m35.5 2h0m16.7 -3.8h0m8.8 4h0m6 -2.1h0m12.2 -0.5h0m13.4 -0.1h0m-78.2 5.5h0m3.1 0.2h0m9.3 1.6h0m16.6 -0.5h0m31.2 -2.3h0m12.2 2.3h0m20.5 -3.1h0m-154.1 8.6h0m33.2 -1h0m33.5 -1.7h0m20.8 3.2h0m2.1 -1.2h0m20.7 -0.1h0m40.4 -2.6h0m-55.3 10h0m5.5 -3h0m4.3 1.2h0m7.5 3h0m9.1 0.2h0m4 -4.5h0m-35.9 5.2h0m14.2 0.2h0m5.7 -0.2h0m35.3 0.5h0m1.2 4.6h0m-53.9 4.1h0m31.7 2.4h0m12.2 -0.1h0m-25.8 0.8h0m23.4 4.8h0m22.7 -1.8h0m11 1.9h0m4.5 0.3h0m0.3 -3.7h0m2.7 3h0m-25.8 1h0m2.6 5.1h0m4.1 -0.2h0m7.7 -4.8h0m-36.2 6.1h0m7.2 5.3h0m17.5 -4.1h0m-19.2 10h0m6.3 -1.5h0m6.3 -2.3h0m25.1 4.3h0m3.7 -0.5h0m-227.2 2.7h0m179.8 1.6h0m17.9 -2.2h0m4.1 3.9h0m8 -0.1h0m12.1 -3.2h0m-49.7 6.5h0m25.2 -1.3h0m9.4 3.5h0m17.1 -3.1h0m-2.3 8h0m2.5 -1.4h0m-217.4 5.7h0m2.7 -1.3h0m159.3 3.1h0m5.5 -3h0m1.5 3.6h0m25.6 0.5h0m5.1 -3.1h0m6.2 2.5h0m10.8 -1.1h0m-57.2 4h0m40.7 -0.5h0m14.7 -0.7h0m-217.9 9.7h0m186.2 2h0m19.8 6h0m6.6 -4.6h0m10 3h0m3.5 -3.6h0m-55.5 10.8h0m18.3 -1.3h0m-8.6 10.8h0m13.7 -2.4h0m-1.8 5.9h0m-9.7 6h0m31.6 2.7h0" stroke="#7c4448" stroke-width="2.1" stroke-linecap="round" fill="none"/><path d="M0 0m149.8 0.8h0m30.9 1.5h0m-103.1 5.2h0m4.4 -3.7h0m3.4 0.8h0m25.8 0h0m5.4 3.1h0m9 -2.9h0m14.6 -1.2h0m23.7 3.5h0m2.4 0.4h0m5.4 -3.3h0m3.9 2.6h0m14.5 0h0m-116.2 6.5h0m15.2 -1.1h0m30.9 0.5h0m6.8 -3.2h0m16.9 1.7h0m14.7 -0.3h0m4.6 1.1h0m23 -1.8h0m6 -0.6h0m4.6 0h0m-107.4 6.5h0m31.8 -0.2h0m16.4 0.5h0m6.5 3.5h0m2.9 -2h0m17 -1.1h0m14.2 0.2h0m2.4 -0.8h0m24.2 3.5h0m-112.8 4.1h0m13.6 0.6h0m37.6 -3.1h0m12.1 1.2h0m0 1.9h0m3 0.9h0m6.5 1.4h0m7.6 -4h0m11.1 0.1h0m26.6 1.8h0m-133.6 5.8h0m20.3 2.5h0m27.3 -3.2h0m19.1 -1.8h0m34.4 3.6h0m1.5 -4.4h0m3.1 5.7h0m5.5 -1.5h0m2.6 -0.7h0m20.8 -2.7h0m-98.5 5.4h0m68.5 5.6h0m24.1 -5h0m-20.6 8.3h0m1.6 -2.7h0m0.6 1.7h0m8.9 -2h0m2.9 2h0m-11.9 9h0m20.5 -4.9h0m3.1 5.3h0m9.8 -1.8h0m-67.3 2.7h0m40.9 0h0m-26.8 10.9h0m6.7 -5.1h0m24.7 2.8h0m8.6 1.7h0m-40.7 2.7h0m17.5 0.4h0m8.8 -0.3h0m38.4 1.7h0m-228.7 4.6h0m176.7 1h0m6.2 -1.6h0m4.9 3.5h0m11.5 -3h0m17.6 0.4h0m-23 5.7h0m28.8 2.5h0m0.4 -2.2h0m-43 8.1h0m13.7 -2.9h0m-191.5 5.9h0m177.9 0.5h0m19.5 -1.2h0m2.2 4.1h0m5.6 -0.3h0m9.9 0h0m-3 2.5h0m-14.9 8.5h0m14.5 -1.6h0m17.2 2.7h0m-214.1 7.4h0m157.2 -4.8h0m13.3 0.2h0m4.1 1.7h0m12.6 2.9h0m14.7 -4.3h0m9.1 -1.4h0m0.9 3h0m-28.5 4.1h0m2.5 4.4h0m8.6 -5.5h0m5.5 3.9h0m6 -0.6h0m-55.7 3.1h0m17.3 0.2h0m9.2 1.9h0m-19.9 9.3h0m5.4 -5h0m3.3 1.8h0m2.9 2.7h0m22.9 -5.2h0m19.7 3.7h0m-23.8 4.7h0m2.8 0h0m-27.2 5h0m16.7 1h0m6 2.7h0m-19.6 8.4h0" stroke="#7a4258" stroke-width="2.1" stroke-linecap="round" fill="none"/><path d="M0 0m143.1 8.2h0m17.1 -0.4h0m-74.3 5h0m51.8 0.1h0m2.6 2.1h0m20.3 -5h0m1.1 3.2h0m5.7 0.7h0m30.8 -3.9h0m-107.3 6.5h0m26.7 1.5h0m3.8 1.2h0m19.3 0.1h0m6 -2.7h0m7.7 2.6h0m2.6 -0.7h0m4.5 -1.7h0m23.3 1.6h0m0.3 -3.2h0m5.5 3.2h0m5.5 -3h0m5.3 3.9h0m-106.1 3.4h0m19.1 4.2h0m9.8 -4.7h0m14 -0.8h0m11.6 5.3h0m14.9 -4.2h0m1.6 -0.4h0m11.4 0.5h0m3.4 3h0m20.7 -3.9h0m6.2 2h0m-95.7 7.2h0m24.8 -3.6h0m15.7 0.8h0m42.4 2.4h0m12.4 1.8h0m-92.2 3.7h0m2.4 -2.4h0m8.7 3h0m10.8 -0.1h0m21.6 -2.3h0m4.1 -0.1h0m0.4 2.8h0m19.9 -0.2h0m-70.7 8.3h0m68.5 -0.3h0m40.2 -1.9h0m-69.6 2.3h0m12.8 2.6h0m28.1 -2.4h0m-62.8 6.1h0m19.2 4.3h0m25.7 0h0m38.4 0.9h0m-39.5 1.9h0m13.4 1.8h0m2.3 -1.8h0m-28.7 7.2h0m37.8 -0.3h0m11.4 0.1h0m9.1 0.1h0m9.6 0.6h0m3 1.4h0m-216.2 6.1h0m162.9 0.8h0m15.6 -5.4h0m2.9 4h0m6.9 -1.3h0m-190.1 7.3h0m164 -2h0m12 0.7h0m3.1 2.6h0m8.5 -3.7h0m3.7 -0.2h0m-20.9 5.1h0m17.5 4.2h0m-31 3.5h0m36.8 1.6h0m-203.8 2.4h0m203.3 3.5h0m6.9 -3.4h0m9.2 0.4h0m1.7 0.1h0m5.5 3.9h0m-211.9 2.2h0m169.4 2.9h0m2.1 -0.8h0m14.5 -1.9h0m-185.5 7.7h0m188 -2.9h0m18.9 1.7h0m2.9 2.2h0m-211.6 6.2h0m155.8 -2.8h0m5.7 4.5h0m20.9 -4.7h0m14.3 1.6h0m-38.4 4.1h0m15 2.5h0m16.9 0.1h0m-11.4 6.5h0m6.9 -3.7h0m-193.3 8.9h0m213.4 2.5h0m-32.6 0.5h0m0.5 1.8h0m2.9 0h0m-3.3 4.6h0m19.3 1.3h0m1.1 16.2h0" stroke="#7a4258" stroke-width="1.8" stroke-linecap="round" fill="none"/><ellipse cx="84" cy="119.5" rx="11" ry="3.5" fill="#6e3a4e" opacity="0.4"/><path d="M66.8,124.8 L74.8,126 L84,127 L93.3,124.8 L100.2,121.3 L109.5,121.3 L112.9,127 L110.6,134 L95.6,136.3 L78.3,135.2 L70.2,132.8 L66.8,129.4 Z" fill="#f4f0f2"/></g></g><text x="88.3" y="156.1" font-family='"Liberation Serif", serif' font-size="22" fill="#000" textLength="133.9" lengthAdjust="spacingAndGlyphs">strong staining</text></svg>
<text x="11.5" y="24.9" font-family='"Liberation Sans", sans-serif' font-size="20" font-weight="bold" text-anchor="start" fill="#000" >A</text>
<text x="11.2" y="421.2" font-family='"Liberation Sans", sans-serif' font-size="20" font-weight="bold" text-anchor="start" fill="#000" >B</text>
<text x="272.5" y="421.0" font-family='"Liberation Sans", sans-serif' font-size="20" font-weight="bold" text-anchor="start" fill="#000" textLength="14.6" lengthAdjust="spacingAndGlyphs" >C</text>
<text x="11.0" y="812.2" font-family='"Liberation Sans", sans-serif' font-size="20" font-weight="bold" text-anchor="start" fill="#000" textLength="15.6" lengthAdjust="spacingAndGlyphs" >D</text>
<line x1="64.2" y1="466.7" x2="64.2" y2="722" stroke="#000" stroke-width="2"/><line x1="63.2" y1="721.3" x2="248" y2="721.3" stroke="#000" stroke-width="2"/><line x1="59" y1="487.0" x2="64" y2="487.0" stroke="#000" stroke-width="1.4"/><text x="53.6" y="491.9" font-family='"Liberation Sans", sans-serif' font-size="13.8" font-weight="normal" text-anchor="end" fill="#000" >0.5</text><line x1="59" y1="534.5" x2="64" y2="534.5" stroke="#000" stroke-width="1.4"/><text x="53.6" y="539.4" font-family='"Liberation Sans", sans-serif' font-size="13.8" font-weight="normal" text-anchor="end" fill="#000" >0.4</text><line x1="59" y1="582.0" x2="64" y2="582.0" stroke="#000" stroke-width="1.4"/><text x="53.6" y="586.9" font-family='"Liberation Sans", sans-serif' font-size="13.8" font-weight="normal" text-anchor="end" fill="#000" >0.3</text><line x1="59" y1="629.5" x2="64" y2="629.5" stroke="#000" stroke-width="1.4"/><text x="53.6" y="634.4" font-family='"Liberation Sans", sans-serif' font-size="13.8" font-weight="normal" text-anchor="end" fill="#000" >0.2</text><line x1="59" y1="677.0" x2="64" y2="677.0" stroke="#000" stroke-width="1.4"/><text x="53.6" y="681.9" font-family='"Liberation Sans", sans-serif' font-size="13.8" font-weight="normal" text-anchor="end" fill="#000" >0.1</text><line x1="96.5" y1="721" x2="96.5" y2="726" stroke="#000" stroke-width="1.4"/><line x1="155.8" y1="721" x2="155.8" y2="726" stroke="#000" stroke-width="1.4"/><line x1="214.9" y1="721" x2="214.9" y2="726" stroke="#000" stroke-width="1.4"/><text x="80.8" y="743.5" font-family='"Liberation Sans", sans-serif' font-size="12.6" font-weight="normal" text-anchor="start" fill="#000" textLength="30.7" lengthAdjust="spacingAndGlyphs" >weak</text><text x="125.8" y="743.5" font-family='"Liberation Sans", sans-serif' font-size="12.6" font-weight="normal" text-anchor="start" fill="#000" textLength="59.2" lengthAdjust="spacingAndGlyphs" >moderate</text><text x="195.2" y="743.5" font-family='"Liberation Sans", sans-serif' font-size="12.6" font-weight="normal" text-anchor="start" fill="#000" textLength="38.8" lengthAdjust="spacingAndGlyphs" >strong</text><text x="114.7" y="765.4" font-family='"Liberation Sans", sans-serif' font-size="15" font-weight="normal" text-anchor="start" fill="#000" textLength="72.3" lengthAdjust="spacingAndGlyphs" >TMA staining</text><text transform="translate(25.6,661.6) rotate(-90)" font-family='"Liberation Sans", sans-serif' font-size="15" textLength="134.6" lengthAdjust="spacingAndGlyphs">HNRNPH1 splicing ratio</text><line x1="156" y1="469.8" x2="209.2" y2="469.8" stroke="#000" stroke-width="1.8"/><text x="145.8" y="461.3" font-family='"Liberation Sans", sans-serif' font-size="12.2" font-weight="normal" text-anchor="start" fill="#000" textLength="73.6" lengthAdjust="spacingAndGlyphs" >p = 0.01376</text><line x1="96.5" y1="599.5" x2="96.5" y2="683" stroke="#000" stroke-width="1.4"/><rect x="76.3" y="616" width="40.400000000000006" height="41.5" fill="#c5c7db"/><line x1="76.3" y1="632.2" x2="116.7" y2="632.2" stroke="#000" stroke-width="2"/><g fill="#3759a0" stroke="#000" stroke-width="1.05"><circle cx="96.50" cy="599.50" r="1.95"/><circle cx="96.50" cy="632.30" r="1.95"/><circle cx="96.50" cy="683.00" r="1.95"/></g><line x1="155.8" y1="482.1" x2="155.8" y2="706.1" stroke="#000" stroke-width="1.4"/><rect x="136" y="588.6" width="39.80000000000001" height="72.60000000000002" fill="#c5c7db"/><line x1="136" y1="635.1" x2="175.8" y2="635.1" stroke="#000" stroke-width="2"/><g fill="#3759a0" stroke="#000" stroke-width="1.05"><circle cx="155.80" cy="482.10" r="1.95"/><circle cx="153.88" cy="499.80" r="1.95"/><circle cx="157.73" cy="499.80" r="1.95"/><circle cx="155.80" cy="520.80" r="1.95"/><circle cx="150.03" cy="549.60" r="1.95"/><circle cx="153.88" cy="549.60" r="1.95"/><circle cx="157.73" cy="549.60" r="1.95"/><circle cx="161.58" cy="549.60" r="1.95"/><circle cx="155.80" cy="563.70" r="1.95"/><circle cx="151.95" cy="574.60" r="1.95"/><circle cx="155.80" cy="574.60" r="1.95"/><circle cx="159.65" cy="574.60" r="1.95"/><circle cx="148.10" cy="588.30" r="1.95"/><circle cx="151.95" cy="588.30" r="1.95"/><circle cx="155.80" cy="588.30" r="1.95"/><circle cx="159.65" cy="588.30" r="1.95"/><circle cx="163.50" cy="588.30" r="1.95"/><circle cx="153.88" cy="596.20" r="1.95"/><circle cx="157.73" cy="596.20" r="1.95"/><circle cx="150.03" cy="607.20" r="1.95"/><circle cx="153.88" cy="607.20" r="1.95"/><circle cx="157.73" cy="607.20" r="1.95"/><circle cx="161.58" cy="607.20" r="1.95"/><circle cx="144.25" cy="627.90" r="1.95"/><circle cx="148.10" cy="627.90" r="1.95"/><circle cx="151.95" cy="627.90" r="1.95"/><circle cx="155.80" cy="627.90" r="1.95"/><circle cx="159.65" cy="627.90" r="1.95"/><circle cx="163.50" cy="627.90" r="1.95"/><circle cx="167.35" cy="627.90" r="1.95"/><circle cx="150.03" cy="636.30" r="1.95"/><circle cx="153.88" cy="636.30" r="1.95"/><circle cx="157.73" cy="636.30" r="1.95"/><circle cx="161.58" cy="636.30" r="1.95"/><circle cx="142.33" cy="643.80" r="1.95"/><circle cx="146.18" cy="643.80" r="1.95"/><circle cx="150.03" cy="643.80" r="1.95"/><circle cx="153.88" cy="643.80" r="1.95"/><circle cx="157.73" cy="643.80" r="1.95"/><circle cx="161.58" cy="643.80" r="1.95"/><circle cx="165.43" cy="643.80" r="1.95"/><circle cx="169.28" cy="643.80" r="1.95"/><circle cx="151.95" cy="655.20" r="1.95"/><circle cx="155.80" cy="655.20" r="1.95"/><circle cx="159.65" cy="655.20" r="1.95"/><circle cx="140.40" cy="663.50" r="1.95"/><circle cx="144.25" cy="663.50" r="1.95"/><circle cx="148.10" cy="663.50" r="1.95"/><circle cx="151.95" cy="663.50" r="1.95"/><circle cx="155.80" cy="663.50" r="1.95"/><circle cx="159.65" cy="663.50" r="1.95"/><circle cx="163.50" cy="663.50" r="1.95"/><circle cx="167.35" cy="663.50" r="1.95"/><circle cx="171.20" cy="663.50" r="1.95"/><circle cx="148.10" cy="674.80" r="1.95"/><circle cx="151.95" cy="674.80" r="1.95"/><circle cx="155.80" cy="674.80" r="1.95"/><circle cx="159.65" cy="674.80" r="1.95"/><circle cx="163.50" cy="674.80" r="1.95"/><circle cx="153.88" cy="685.40" r="1.95"/><circle cx="157.73" cy="685.40" r="1.95"/><circle cx="155.80" cy="706.10" r="1.95"/></g><line x1="214.8" y1="565.2" x2="214.8" y2="692.9" stroke="#000" stroke-width="1.4"/><rect x="194.8" y="628.3" width="40.0" height="50.60000000000002" fill="#c5c7db"/><line x1="194.8" y1="669.7" x2="234.8" y2="669.7" stroke="#000" stroke-width="2"/><g fill="#3759a0" stroke="#000" stroke-width="1.05"><circle cx="214.80" cy="565.20" r="1.95"/><circle cx="214.80" cy="600.10" r="1.95"/><circle cx="214.80" cy="615.60" r="1.95"/><circle cx="214.80" cy="623.80" r="1.95"/><circle cx="214.80" cy="632.90" r="1.95"/><circle cx="214.80" cy="640.70" r="1.95"/><circle cx="214.80" cy="666.20" r="1.95"/><circle cx="209.03" cy="673.50" r="1.95"/><circle cx="212.88" cy="673.50" r="1.95"/><circle cx="216.73" cy="673.50" r="1.95"/><circle cx="220.58" cy="673.50" r="1.95"/><circle cx="210.95" cy="683.80" r="1.95"/><circle cx="214.80" cy="683.80" r="1.95"/><circle cx="218.65" cy="683.80" r="1.95"/><circle cx="214.80" cy="692.90" r="1.95"/></g>
<line x1="333.2" y1="445.2" x2="333.2" y2="722" stroke="#000" stroke-width="2"/><line x1="332.2" y1="721.2" x2="508.5" y2="721.2" stroke="#000" stroke-width="2"/><line x1="328" y1="462.9" x2="333" y2="462.9" stroke="#000" stroke-width="1.4"/><text x="322.9" y="467.79999999999995" font-family='"Liberation Sans", sans-serif' font-size="13.8" font-weight="normal" text-anchor="end" fill="#000" >15.5</text><line x1="328" y1="519.4" x2="333" y2="519.4" stroke="#000" stroke-width="1.4"/><text x="322.9" y="524.3" font-family='"Liberation Sans", sans-serif' font-size="13.8" font-weight="normal" text-anchor="end" fill="#000" >15.0</text><line x1="328" y1="575.9" x2="333" y2="575.9" stroke="#000" stroke-width="1.4"/><text x="322.9" y="580.8" font-family='"Liberation Sans", sans-serif' font-size="13.8" font-weight="normal" text-anchor="end" fill="#000" >14.5</text><line x1="328" y1="632.4" x2="333" y2="632.4" stroke="#000" stroke-width="1.4"/><text x="322.9" y="637.3" font-family='"Liberation Sans", sans-serif' font-size="13.8" font-weight="normal" text-anchor="end" fill="#000" >14.0</text><line x1="328" y1="688.9" x2="333" y2="688.9" stroke="#000" stroke-width="1.4"/><text x="322.9" y="693.8" font-family='"Liberation Sans", sans-serif' font-size="13.8" font-weight="normal" text-anchor="end" fill="#000" >13.5</text><line x1="363.8" y1="721" x2="363.8" y2="726" stroke="#000" stroke-width="1.4"/><line x1="420.6" y1="721" x2="420.6" y2="726" stroke="#000" stroke-width="1.4"/><line x1="477.1" y1="721" x2="477.1" y2="726" stroke="#000" stroke-width="1.4"/><text x="348.5" y="743.5" font-family='"Liberation Sans", sans-serif' font-size="12.6" font-weight="normal" text-anchor="start" fill="#000" textLength="30.7" lengthAdjust="spacingAndGlyphs" >weak</text><text x="391.2" y="743.5" font-family='"Liberation Sans", sans-serif' font-size="12.6" font-weight="normal" text-anchor="start" fill="#000" textLength="58.5" lengthAdjust="spacingAndGlyphs" >moderate</text><text x="458.1" y="743.5" font-family='"Liberation Sans", sans-serif' font-size="12.6" font-weight="normal" text-anchor="start" fill="#000" textLength="39.1" lengthAdjust="spacingAndGlyphs" >strong</text><text x="378.5" y="765.4" font-family='"Liberation Sans", sans-serif' font-size="15" font-weight="normal" text-anchor="start" fill="#000" textLength="73" lengthAdjust="spacingAndGlyphs" >TMA staining</text><text transform="translate(287.2,659) rotate(-90)" font-family='"Liberation Sans", sans-serif' font-size="15" textLength="152.7" lengthAdjust="spacingAndGlyphs">HNRNPH1 total expression</text><line x1="421" y1="450.4" x2="471.9" y2="450.4" stroke="#000" stroke-width="1.8"/><text x="410" y="442.4" font-family='"Liberation Sans", sans-serif' font-size="12.2" font-weight="normal" text-anchor="start" fill="#000" textLength="72.5" lengthAdjust="spacingAndGlyphs" >p = 0.02004</text><line x1="364.4" y1="592.1" x2="364.4" y2="627.1" stroke="#000" stroke-width="1.4"/><rect x="345.2" y="599.8" width="38.5" height="17.40000000000009" fill="#c5c7db"/><line x1="345.2" y1="607.5" x2="383.7" y2="607.5" stroke="#000" stroke-width="2"/><g fill="#3759a0" stroke="#000" stroke-width="1.05"><circle cx="364.40" cy="592.10" r="1.95"/><circle cx="364.40" cy="607.50" r="1.95"/><circle cx="364.40" cy="627.10" r="1.95"/></g><line x1="420.8" y1="538.5" x2="420.8" y2="681.8" stroke="#000" stroke-width="1.4"/><rect x="401.2" y="573" width="38.80000000000001" height="47.89999999999998" fill="#c5c7db"/><line x1="401.2" y1="595.8" x2="440" y2="595.8" stroke="#000" stroke-width="2"/><g fill="#3759a0" stroke="#000" stroke-width="1.05"><circle cx="420.80" cy="461.80" r="1.95"/><circle cx="420.80" cy="538.50" r="1.95"/><circle cx="418.88" cy="545.60" r="1.95"/><circle cx="422.73" cy="545.60" r="1.95"/><circle cx="415.03" cy="555.10" r="1.95"/><circle cx="418.88" cy="555.10" r="1.95"/><circle cx="422.73" cy="555.10" r="1.95"/><circle cx="426.57" cy="555.10" r="1.95"/><circle cx="416.95" cy="564.60" r="1.95"/><circle cx="420.80" cy="564.60" r="1.95"/><circle cx="424.65" cy="564.60" r="1.95"/><circle cx="403.48" cy="572.50" r="1.95"/><circle cx="407.32" cy="572.50" r="1.95"/><circle cx="411.18" cy="572.50" r="1.95"/><circle cx="415.03" cy="572.50" r="1.95"/><circle cx="418.88" cy="572.50" r="1.95"/><circle cx="422.73" cy="572.50" r="1.95"/><circle cx="426.57" cy="572.50" r="1.95"/><circle cx="430.43" cy="572.50" r="1.95"/><circle cx="434.28" cy="572.50" r="1.95"/><circle cx="438.12" cy="572.50" r="1.95"/><circle cx="413.10" cy="581.50" r="1.95"/><circle cx="416.95" cy="581.50" r="1.95"/><circle cx="420.80" cy="581.50" r="1.95"/><circle cx="424.65" cy="581.50" r="1.95"/><circle cx="428.50" cy="581.50" r="1.95"/><circle cx="405.40" cy="595.40" r="1.95"/><circle cx="409.25" cy="595.40" r="1.95"/><circle cx="413.10" cy="595.40" r="1.95"/><circle cx="416.95" cy="595.40" r="1.95"/><circle cx="420.80" cy="595.40" r="1.95"/><circle cx="424.65" cy="595.40" r="1.95"/><circle cx="428.50" cy="595.40" r="1.95"/><circle cx="432.35" cy="595.40" r="1.95"/><circle cx="436.20" cy="595.40" r="1.95"/><circle cx="415.03" cy="606.90" r="1.95"/><circle cx="418.88" cy="606.90" r="1.95"/><circle cx="422.73" cy="606.90" r="1.95"/><circle cx="426.57" cy="606.90" r="1.95"/><circle cx="413.10" cy="615.00" r="1.95"/><circle cx="416.95" cy="615.00" r="1.95"/><circle cx="420.80" cy="615.00" r="1.95"/><circle cx="424.65" cy="615.00" r="1.95"/><circle cx="428.50" cy="615.00" r="1.95"/><circle cx="409.25" cy="624.70" r="1.95"/><circle cx="413.10" cy="624.70" r="1.95"/><circle cx="416.95" cy="624.70" r="1.95"/><circle cx="420.80" cy="624.70" r="1.95"/><circle cx="424.65" cy="624.70" r="1.95"/><circle cx="428.50" cy="624.70" r="1.95"/><circle cx="432.35" cy="624.70" r="1.95"/><circle cx="418.88" cy="640.00" r="1.95"/><circle cx="422.73" cy="640.00" r="1.95"/><circle cx="418.88" cy="655.40" r="1.95"/><circle cx="422.73" cy="655.40" r="1.95"/><circle cx="418.88" cy="670.60" r="1.95"/><circle cx="422.73" cy="670.60" r="1.95"/><circle cx="418.88" cy="679.10" r="1.95"/><circle cx="422.73" cy="679.10" r="1.95"/><circle cx="420.80" cy="700.80" r="1.95"/></g><line x1="477.2" y1="585.4" x2="477.2" y2="664.3" stroke="#000" stroke-width="1.4"/><rect x="458" y="596.3" width="38.19999999999999" height="33.40000000000009" fill="#c5c7db"/><line x1="458" y1="620.9" x2="496.2" y2="620.9" stroke="#000" stroke-width="2"/><g fill="#3759a0" stroke="#000" stroke-width="1.05"><circle cx="477.20" cy="585.40" r="1.95"/><circle cx="473.35" cy="591.60" r="1.95"/><circle cx="477.20" cy="591.60" r="1.95"/><circle cx="481.05" cy="591.60" r="1.95"/><circle cx="477.20" cy="602.80" r="1.95"/><circle cx="475.27" cy="613.10" r="1.95"/><circle cx="479.12" cy="613.10" r="1.95"/><circle cx="469.50" cy="630.30" r="1.95"/><circle cx="473.35" cy="630.30" r="1.95"/><circle cx="477.20" cy="630.30" r="1.95"/><circle cx="481.05" cy="630.30" r="1.95"/><circle cx="484.90" cy="630.30" r="1.95"/><circle cx="477.20" cy="664.30" r="1.95"/><circle cx="477.20" cy="705.00" r="1.95"/></g>
<line x1="66.3" y1="844.6" x2="66.3" y2="1125.5" stroke="#000" stroke-width="2"/><line x1="65.3" y1="1124.5" x2="489.3" y2="1124.5" stroke="#000" stroke-width="2"/><line x1="61.5" y1="857.5" x2="66" y2="857.5" stroke="#000" stroke-width="1.4"/><text x="30.6" y="862.3" font-family='"Liberation Sans", sans-serif' font-size="13.2" font-weight="normal" text-anchor="start" fill="#000" textLength="26.2" lengthAdjust="spacingAndGlyphs" >1.00</text><line x1="61.5" y1="921.2" x2="66" y2="921.2" stroke="#000" stroke-width="1.4"/><text x="30.6" y="925.9999999999999" font-family='"Liberation Sans", sans-serif' font-size="13.2" font-weight="normal" text-anchor="start" fill="#000" textLength="26.2" lengthAdjust="spacingAndGlyphs" >0.75</text><line x1="61.5" y1="984.9" x2="66" y2="984.9" stroke="#000" stroke-width="1.4"/><text x="30.6" y="989.6999999999999" font-family='"Liberation Sans", sans-serif' font-size="13.2" font-weight="normal" text-anchor="start" fill="#000" textLength="26.2" lengthAdjust="spacingAndGlyphs" >0.50</text><line x1="61.5" y1="1048.6" x2="66" y2="1048.6" stroke="#000" stroke-width="1.4"/><text x="30.6" y="1053.3999999999999" font-family='"Liberation Sans", sans-serif' font-size="13.2" font-weight="normal" text-anchor="start" fill="#000" textLength="26.2" lengthAdjust="spacingAndGlyphs" >0.25</text><line x1="61.5" y1="1112.3" x2="66" y2="1112.3" stroke="#000" stroke-width="1.4"/><text x="30.6" y="1117.1" font-family='"Liberation Sans", sans-serif' font-size="13.2" font-weight="normal" text-anchor="start" fill="#000" textLength="26.2" lengthAdjust="spacingAndGlyphs" >0.00</text><line x1="85.8" y1="1124" x2="85.8" y2="1129" stroke="#000" stroke-width="1.4"/><text x="85.8" y="1147" font-family='"Liberation Sans", sans-serif' font-size="13.5" font-weight="normal" text-anchor="middle" fill="#000" >0</text><line x1="182.2" y1="1124" x2="182.2" y2="1129" stroke="#000" stroke-width="1.4"/><text x="182.2" y="1147" font-family='"Liberation Sans", sans-serif' font-size="13.5" font-weight="normal" text-anchor="middle" fill="#000" >4</text><line x1="278.6" y1="1124" x2="278.6" y2="1129" stroke="#000" stroke-width="1.4"/><text x="278.6" y="1147" font-family='"Liberation Sans", sans-serif' font-size="13.5" font-weight="normal" text-anchor="middle" fill="#000" >8</text><line x1="375.0" y1="1124" x2="375.0" y2="1129" stroke="#000" stroke-width="1.4"/><text x="375.0" y="1147" font-family='"Liberation Sans", sans-serif' font-size="13.5" font-weight="normal" text-anchor="middle" fill="#000" >12</text><line x1="471.4" y1="1124" x2="471.4" y2="1129" stroke="#000" stroke-width="1.4"/><text x="471.4" y="1147" font-family='"Liberation Sans", sans-serif' font-size="13.5" font-weight="normal" text-anchor="middle" fill="#000" >16</text><text x="277.7" y="1168.5" font-family='"Liberation Sans", sans-serif' font-size="14" font-weight="normal" text-anchor="middle" fill="#000" textLength="30" lengthAdjust="spacingAndGlyphs" >Years</text><text x="67.2" y="835.7" font-family='"Liberation Sans", sans-serif' font-size="14.8" font-weight="normal" text-anchor="start" fill="#000" textLength="148" lengthAdjust="spacingAndGlyphs" >HNRNPH1 TMA, OS</text><text x="85.6" y="1090.5" font-family='"Liberation Sans", sans-serif' font-size="12" font-weight="normal" text-anchor="start" fill="#000" textLength="54.5" lengthAdjust="spacingAndGlyphs" >p = 0.066</text><text x="324" y="874.3" font-family='"Liberation Sans", sans-serif' font-size="11.8" font-weight="normal" text-anchor="start" fill="#000" textLength="172.4" lengthAdjust="spacingAndGlyphs" >Moderate HNRNPH staining</text><text x="324" y="894.2" font-family='"Liberation Sans", sans-serif' font-size="11.8" font-weight="normal" text-anchor="start" fill="#000" textLength="152.2" lengthAdjust="spacingAndGlyphs" >Strong HNRNPH staining</text><path d="M85.8,858.1 L90.4,858.1 L90.4,858.6 L95.0,858.6 L95.0,861.5 L96.8,861.5 L96.8,863.8 L98.5,863.8 L98.5,866.0 L103.0,866.0 L103.0,869.6 L105.3,869.6 L105.3,872.5 L107.7,872.5 L107.7,875.4 L110.0,875.4 L110.0,877.7 L112.3,877.7 L112.3,880.0 L114.7,880.0 L114.7,882.9 L117.0,882.9 L117.0,885.8 L121.5,885.8 L121.5,889.2 L123.8,889.2 L123.8,892.1 L126.2,892.1 L126.2,895.0 L128.5,895.0 L128.5,897.3 L130.8,897.3 L130.8,899.6 L133.1,899.6 L133.1,902.5 L135.4,902.5 L135.4,905.4 L140.0,905.4 L140.0,909.5 L144.6,909.5 L144.6,913.5 L146.9,913.5 L146.9,917.0 L149.2,917.0 L149.2,920.4 L153.8,920.4 L153.8,924.4 L157.7,924.4 L157.7,927.3 L161.5,927.3 L161.5,929.2 L165.4,929.2 L165.4,933.0 L169.2,933.0 L169.2,934.0 L173.0,934.0 L173.0,936.0 L176.9,936.0 L176.9,937.0 L178.9,937.0 L178.9,939.4 L180.8,939.4 L180.8,941.7 L184.6,941.7 L184.6,943.0 L188.5,943.0 L188.5,944.2 L192.3,944.2 L192.3,945.0 L196.2,945.0 L196.2,945.6 L200.0,945.6 L200.0,949.4 L201.9,949.4 L201.9,951.8 L203.8,951.8 L203.8,954.2 L207.7,954.2 L207.7,958.0 L211.5,958.0 L211.5,960.4 L215.4,960.4 L215.4,962.0 L219.2,962.0 L219.2,964.8 L223.0,964.8 L223.0,967.7 L226.9,967.7 L226.9,971.2 L227.5,971.2 L227.5,973.9 L228.2,973.9 L228.2,976.5 L228.8,976.5 L228.8,979.2 L232.7,979.2 L232.7,981.5 L236.5,981.5 L236.5,982.7 L240.4,982.7 L240.4,985.0 L246.2,985.0 L246.2,986.0 L252.3,986.0 L254.1,986.0 L254.1,988.8 L255.8,988.8 L255.8,991.5 L257.5,991.5 L257.5,993.9 L259.2,993.9 L259.2,996.2 L261.5,996.2 L261.5,998.5 L263.8,998.5 L263.8,1000.8 L284.6,1000.8 L291.5,1000.8 L291.5,1004.4 L308.3,1004.4 L308.3,1010.4 L326.5,1010.4 L326.5,1017.1 L369.7,1017.1 L369.7,1026.0 L373.5,1026.0 L373.5,1039.7 L405.6,1039.7 L405.6,1053.7 L410.6,1053.7 L410.6,1068.5 L473.6,1068.5" stroke="#d98c12" stroke-width="2.05" fill="none" stroke-linejoin="miter"/><path d="M150.4,916.1 L150.4,922.8 M174.6,931.7 L174.6,938.4 M175.0,931.7 L175.0,938.4 M183.8,937.4 L183.8,944.1 M184.6,938.7 L184.6,945.4 M193.0,940.7 L193.0,947.4 M194.2,940.7 L194.2,947.4 M205.8,949.9 L205.8,956.6 M214.4,956.1 L214.4,962.8 M216.5,957.7 L216.5,964.4 M219.0,957.7 L219.0,964.4 M236.5,978.4 L236.5,985.1 M238.5,978.4 L238.5,985.1 M250.0,981.7 L250.0,988.4 M259.2,991.9 L259.2,998.6 M273.0,996.5 L273.0,1003.2 M275.4,996.5 L275.4,1003.2 M284.6,996.5 L284.6,1003.2 M292.7,1000.1 L292.7,1006.8 M296.0,1000.1 L296.0,1006.8 M300.8,1000.1 L300.8,1006.8 M302.0,1000.1 L302.0,1006.8 M323.3,1006.1 L323.3,1012.8 M325.0,1006.1 L325.0,1012.8 M339.6,1012.8 L339.6,1019.5 M351.0,1012.8 L351.0,1019.5 M354.3,1012.8 L354.3,1019.5 M357.6,1012.8 L357.6,1019.5 M360.9,1012.8 L360.9,1019.5 M363.2,1012.8 L363.2,1019.5 M370.5,1021.7 L370.5,1028.4 M395.8,1035.4 L395.8,1042.1 M412.2,1064.2 L412.2,1070.9 M424.0,1064.2 L424.0,1070.9 M472.0,1064.2 L472.0,1070.9" stroke="#d98c12" stroke-width="1.15" fill="none"/><path d="M147.0,919.4 L153.8,919.4 M171.2,935.0 L178.0,935.0 M171.6,935.0 L178.4,935.0 M180.4,940.7 L187.2,940.7 M181.2,942.0 L188.0,942.0 M189.6,944.0 L196.4,944.0 M190.8,944.0 L197.6,944.0 M202.4,953.2 L209.2,953.2 M211.0,959.4 L217.8,959.4 M213.1,961.0 L219.9,961.0 M215.6,961.0 L222.4,961.0 M233.1,981.7 L239.9,981.7 M235.1,981.7 L241.9,981.7 M246.6,985.0 L253.4,985.0 M255.8,995.2 L262.6,995.2 M269.6,999.8 L276.4,999.8 M272.0,999.8 L278.8,999.8 M281.2,999.8 L288.0,999.8 M289.3,1003.4 L296.1,1003.4 M292.6,1003.4 L299.4,1003.4 M297.4,1003.4 L304.2,1003.4 M298.6,1003.4 L305.4,1003.4 M319.9,1009.4 L326.7,1009.4 M321.6,1009.4 L328.4,1009.4 M336.2,1016.1 L343.0,1016.1 M347.6,1016.1 L354.4,1016.1 M350.9,1016.1 L357.7,1016.1 M354.2,1016.1 L361.0,1016.1 M357.5,1016.1 L364.3,1016.1 M359.8,1016.1 L366.6,1016.1 M367.1,1025.0 L373.9,1025.0 M392.4,1038.7 L399.2,1038.7 M408.8,1067.5 L415.6,1067.5 M420.6,1067.5 L427.4,1067.5 M468.6,1067.5 L475.4,1067.5" stroke="#d98c12" stroke-width="1.4" fill="none"/><path d="M85.8,858.1 L94.3,858.1 L94.3,877.2 L104.5,877.2 L104.5,897.3 L126.2,897.3 L126.2,906.5 L135.4,906.5 L135.4,916.5 L140.0,916.5 L140.0,926.2 L144.4,926.2 L144.4,935.9 L150.0,935.9 L150.0,945.7 L164.9,945.7 L165.4,967.3 L193.5,967.3 L193.5,1000.8 L213.1,1000.8 L213.1,1011.5 L225.8,1011.5 L225.8,1026.4 L228.5,1026.4 L228.5,1041.0 L270.0,1041.0 L270.0,1054.5 L332.5,1054.5" stroke="#4a1f62" stroke-width="2.05" fill="none"/><path d="M157.5,941.4 L157.5,948.1 M160.0,941.4 L160.0,948.1 M162.0,941.4 L162.0,948.1 M218.1,1007.2 L218.1,1013.9 M224.0,1007.2 L224.0,1013.9 M278.8,1050.2 L278.8,1056.9 M283.5,1050.2 L283.5,1056.9 M292.0,1050.2 L292.0,1056.9 M331.5,1050.2 L331.5,1056.9" stroke="#4a1f62" stroke-width="1.15" fill="none"/><path d="M154.1,944.7 L160.9,944.7 M156.6,944.7 L163.4,944.7 M158.6,944.7 L165.4,944.7 M214.7,1010.5 L221.5,1010.5 M220.6,1010.5 L227.4,1010.5 M275.4,1053.5 L282.2,1053.5 M280.1,1053.5 L286.9,1053.5 M288.6,1053.5 L295.4,1053.5 M328.1,1053.5 L334.9,1053.5" stroke="#4a1f62" stroke-width="1.4" fill="none"/><path d="M305.2,871.9 L318.9,871.9 M308.4,870.8 L314.8,870.8" stroke="#d98c12" stroke-width="1.9"/><path d="M311.7,867.3 L311.7,874.1" stroke="#d98c12" stroke-width="1.5"/><path d="M305.2,891.5 L318.9,891.5 M308.4,890.4 L314.8,890.4" stroke="#4a1f62" stroke-width="1.9"/><path d="M311.7,887.3 L311.7,893.7" stroke="#4a1f62" stroke-width="1.5"/>
</svg>
<div id="frame"></div>
</body></html>
